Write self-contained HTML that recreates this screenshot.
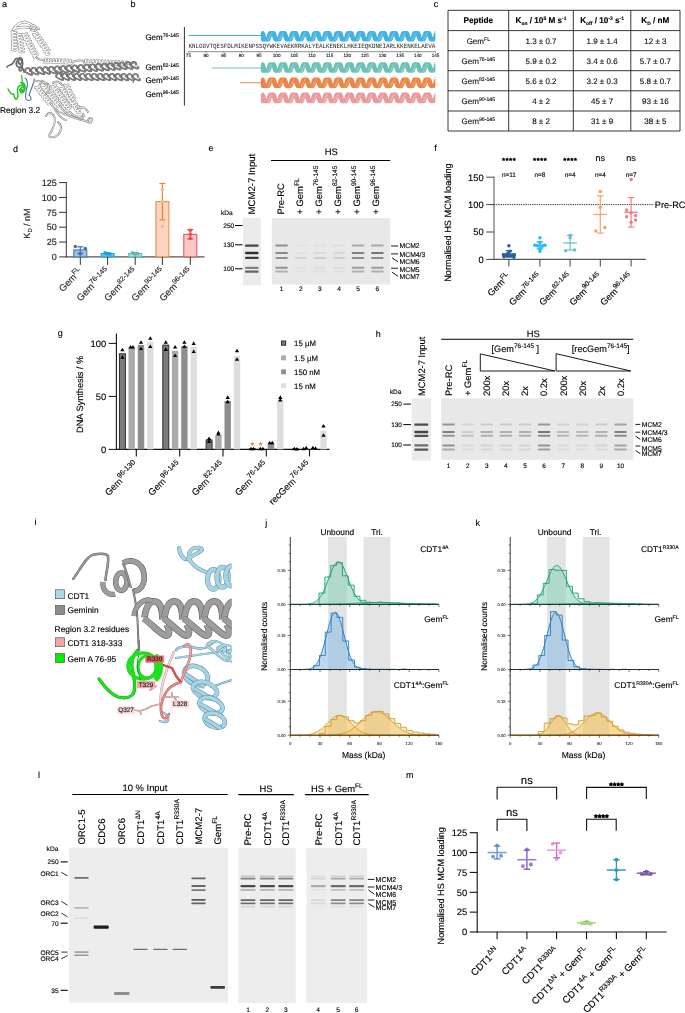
<!DOCTYPE html>
<html><head><meta charset="utf-8"><style>
html,body{margin:0;padding:0;background:#fff;}
svg{display:block;font-family:"Liberation Sans", sans-serif;will-change:transform;text-rendering:geometricPrecision;}
</style></head><body>
<svg width="685" height="1013" viewBox="0 0 685 1013">
<defs>
<filter id="bl" x="-20%" y="-200%" width="140%" height="500%"><feGaussianBlur stdDeviation="0.6"/></filter>
<filter id="bl2" x="-20%" y="-20%" width="140%" height="140%"><feGaussianBlur stdDeviation="0.35"/></filter>
</defs>
<rect width="685" height="1013" fill="#fff"/>
<text x="2.00" y="7.00" font-size="9" text-anchor="start" fill="#000" stroke="#000" stroke-width="0.13"><tspan>a</tspan></text>
<text x="130.50" y="7.00" font-size="9" text-anchor="start" fill="#000" stroke="#000" stroke-width="0.13"><tspan>b</tspan></text>
<text x="433.70" y="6.70" font-size="9" text-anchor="start" fill="#000" stroke="#000" stroke-width="0.13"><tspan>c</tspan></text>
<text x="13.00" y="152.00" font-size="9" text-anchor="start" fill="#000" stroke="#000" stroke-width="0.13"><tspan>d</tspan></text>
<text x="208.40" y="151.40" font-size="9" text-anchor="start" fill="#000" stroke="#000" stroke-width="0.13"><tspan>e</tspan></text>
<text x="434.20" y="151.40" font-size="9" text-anchor="start" fill="#000" stroke="#000" stroke-width="0.13"><tspan>f</tspan></text>
<text x="57.70" y="335.50" font-size="9" text-anchor="start" fill="#000" stroke="#000" stroke-width="0.13"><tspan>g</tspan></text>
<text x="375.80" y="336.80" font-size="9" text-anchor="start" fill="#000" stroke="#000" stroke-width="0.13"><tspan>h</tspan></text>
<text x="34.50" y="525.40" font-size="9" text-anchor="start" fill="#000" stroke="#000" stroke-width="0.13"><tspan>i</tspan></text>
<text x="265.20" y="525.50" font-size="9" text-anchor="start" fill="#000" stroke="#000" stroke-width="0.13"><tspan>j</tspan></text>
<text x="475.60" y="525.70" font-size="9" text-anchor="start" fill="#000" stroke="#000" stroke-width="0.13"><tspan>k</tspan></text>
<text x="38.00" y="778.00" font-size="9" text-anchor="start" fill="#000" stroke="#000" stroke-width="0.13"><tspan>l</tspan></text>
<text x="406.10" y="777.80" font-size="9" text-anchor="start" fill="#000" stroke="#000" stroke-width="0.13"><tspan>m</tspan></text>
<path d="M13,30 C16,25 20,22 25,22 C30,23 34,26 37,29 C33,28 28,27 24,27 C20,27 16,28 13,30 Z" fill="none" stroke="#7a7a7a" stroke-width="2.4" stroke-linejoin="round" stroke-linecap="round"/>
<path d="M13,30 C16,25 20,22 25,22 C30,23 34,26 37,29 C33,28 28,27 24,27 C20,27 16,28 13,30 Z" fill="none" stroke="#fff" stroke-width="1.4" stroke-linejoin="round" stroke-linecap="round"/>
<path d="M30,28 C32,25 35,25 36,27 C37,30 34,31 31,30" fill="none" stroke="#7a7a7a" stroke-width="2.2" stroke-linejoin="round" stroke-linecap="round"/>
<path d="M30,28 C32,25 35,25 36,27 C37,30 34,31 31,30" fill="none" stroke="#fff" stroke-width="1.2" stroke-linejoin="round" stroke-linecap="round"/>
<path d="M11.70,31.06 L11.75,31.27 L11.89,31.48 L12.12,31.67 L12.42,31.85 L12.78,32.01 L13.20,32.15 L13.64,32.27 L14.10,32.36 L14.56,32.43 L15.00,32.47 L15.39,32.50 L15.74,32.51 L16.01,32.50 L16.21,32.48 L16.32,32.46 L16.33,32.43 L16.26,32.41 L16.10,32.40 L15.86,32.40 L15.54,32.42 L15.17,32.45 L14.75,32.51 L14.30,32.59 L13.84,32.70 L13.40,32.83 L12.97,32.98 L12.60,33.15 L12.28,33.34 L12.03,33.54 L11.86,33.75 L11.79,33.97 L11.80,34.18 L11.90,34.39 L12.09,34.59 L12.36,34.78 L12.70,34.95 L13.10,35.10 L13.53,35.22 L13.99,35.33 L14.45,35.40 L14.90,35.46 L15.31,35.49 L15.68,35.50 L15.98,35.50 L16.21,35.49 L16.36,35.47 L16.42,35.44 L16.38,35.42 L16.26,35.40 L16.05,35.40 L15.76,35.41 L15.41,35.43 L15.00,35.48 L14.57,35.55 L14.11,35.65 L13.66,35.77 L13.22,35.91 L12.83,36.08 L12.48,36.26 L12.20,36.46 L12.00,36.66 L11.89,36.88 L11.86,37.09 L11.93,37.31 L12.08,37.51 L12.32,37.70 L12.63,37.88 L13.01,38.04 L13.43,38.17 L13.88,38.28 L14.34,38.37 L14.79,38.44 L15.22,38.48 L15.61,38.50 L15.95,38.50 L16.21,38.49 L16.39,38.47 L16.48,38.45 L16.49,38.43 L16.40,38.41 L16.22,38.40 L15.97,38.40 L15.64,38.42 L15.26,38.46 L14.83,38.52 L14.38,38.61 L13.92,38.72 L13.48,38.85 L13.06,39.01 L12.70,39.18 L12.39,39.37 L12.15,39.58 L12.00,39.79 L11.94,40.00 L11.97,40.22 L12.09,40.43 L12.29,40.62 L12.58,40.81 L12.92,40.97 L13.33,41.12 L13.77,41.24 L14.23,41.34 L14.69,41.41 L15.13,41.46 L15.54,41.49 L15.89,41.50 L16.19,41.50 L16.40,41.48 L16.53,41.46 L16.58,41.43 L16.52,41.41 L16.38,41.40 L16.16,41.39 L15.86,41.41 L15.50,41.44 L15.09,41.49 L14.65,41.57 L14.19,41.67 L13.74,41.79 L13.31,41.94 L12.92,42.10 L12.59,42.29 L12.32,42.49 L12.13,42.70 L12.03,42.91 L12.02,43.13 L12.11,43.34 L12.28,43.54 L12.53,43.73 L12.85,43.91 L13.23,44.06 L13.66,44.19 L14.11,44.30 L14.57,44.38 L15.03,44.44 L15.45,44.48 L15.83,44.50 L16.15,44.50 L16.40,44.49 L16.57,44.47 L16.65,44.44 L16.64,44.42 L16.53,44.40 L16.34,44.39 L16.07,44.40 L15.74,44.42 L15.35,44.47 L14.91,44.53 L14.46,44.62 L14.01,44.74 L13.57,44.87 L13.16,45.03 L12.80,45.21 L12.50,45.40 L12.28,45.61 L12.14,45.82 L12.10,46.04 L12.14,46.25 L12.27,46.46 L12.49,46.65 L12.79,46.84 L13.15,47.00 L13.56,47.14 L14.00,47.26 L14.46,47.35 L14.92,47.42 L15.36,47.47 L15.76,47.49 L16.11,47.50 L16.39,47.49 L16.59,47.48 L16.71,47.45 L16.73,47.43 L16.67,47.41 L16.51,47.39 L16.27,47.39 L15.96,47.41 L15.59,47.44 L15.18,47.50 L14.73,47.58 L14.27,47.68 L13.82,47.81 L13.40,47.96 L13.02,48.13 L12.69,48.32 L12.44,48.52 L12.27,48.73 L12.18,48.95 L12.19,49.16 L12.29,49.37 L12.47,49.57 L12.74,49.76 L13.07,49.93 L13.46,50.08 L13.89,50.21 L14.35,50.31 L14.81,50.39 L15.26,50.45 L15.68,50.48" fill="none" stroke="#7a7a7a" stroke-width="2.2" stroke-linejoin="round" stroke-linecap="round"/>
<path d="M11.70,31.06 L11.75,31.27 L11.89,31.48 L12.12,31.67 L12.42,31.85 L12.78,32.01 L13.20,32.15 L13.64,32.27 L14.10,32.36 L14.56,32.43 L15.00,32.47 L15.39,32.50 L15.74,32.51 L16.01,32.50 L16.21,32.48 L16.32,32.46 L16.33,32.43 L16.26,32.41 L16.10,32.40 L15.86,32.40 L15.54,32.42 L15.17,32.45 L14.75,32.51 L14.30,32.59 L13.84,32.70 L13.40,32.83 L12.97,32.98 L12.60,33.15 L12.28,33.34 L12.03,33.54 L11.86,33.75 L11.79,33.97 L11.80,34.18 L11.90,34.39 L12.09,34.59 L12.36,34.78 L12.70,34.95 L13.10,35.10 L13.53,35.22 L13.99,35.33 L14.45,35.40 L14.90,35.46 L15.31,35.49 L15.68,35.50 L15.98,35.50 L16.21,35.49 L16.36,35.47 L16.42,35.44 L16.38,35.42 L16.26,35.40 L16.05,35.40 L15.76,35.41 L15.41,35.43 L15.00,35.48 L14.57,35.55 L14.11,35.65 L13.66,35.77 L13.22,35.91 L12.83,36.08 L12.48,36.26 L12.20,36.46 L12.00,36.66 L11.89,36.88 L11.86,37.09 L11.93,37.31 L12.08,37.51 L12.32,37.70 L12.63,37.88 L13.01,38.04 L13.43,38.17 L13.88,38.28 L14.34,38.37 L14.79,38.44 L15.22,38.48 L15.61,38.50 L15.95,38.50 L16.21,38.49 L16.39,38.47 L16.48,38.45 L16.49,38.43 L16.40,38.41 L16.22,38.40 L15.97,38.40 L15.64,38.42 L15.26,38.46 L14.83,38.52 L14.38,38.61 L13.92,38.72 L13.48,38.85 L13.06,39.01 L12.70,39.18 L12.39,39.37 L12.15,39.58 L12.00,39.79 L11.94,40.00 L11.97,40.22 L12.09,40.43 L12.29,40.62 L12.58,40.81 L12.92,40.97 L13.33,41.12 L13.77,41.24 L14.23,41.34 L14.69,41.41 L15.13,41.46 L15.54,41.49 L15.89,41.50 L16.19,41.50 L16.40,41.48 L16.53,41.46 L16.58,41.43 L16.52,41.41 L16.38,41.40 L16.16,41.39 L15.86,41.41 L15.50,41.44 L15.09,41.49 L14.65,41.57 L14.19,41.67 L13.74,41.79 L13.31,41.94 L12.92,42.10 L12.59,42.29 L12.32,42.49 L12.13,42.70 L12.03,42.91 L12.02,43.13 L12.11,43.34 L12.28,43.54 L12.53,43.73 L12.85,43.91 L13.23,44.06 L13.66,44.19 L14.11,44.30 L14.57,44.38 L15.03,44.44 L15.45,44.48 L15.83,44.50 L16.15,44.50 L16.40,44.49 L16.57,44.47 L16.65,44.44 L16.64,44.42 L16.53,44.40 L16.34,44.39 L16.07,44.40 L15.74,44.42 L15.35,44.47 L14.91,44.53 L14.46,44.62 L14.01,44.74 L13.57,44.87 L13.16,45.03 L12.80,45.21 L12.50,45.40 L12.28,45.61 L12.14,45.82 L12.10,46.04 L12.14,46.25 L12.27,46.46 L12.49,46.65 L12.79,46.84 L13.15,47.00 L13.56,47.14 L14.00,47.26 L14.46,47.35 L14.92,47.42 L15.36,47.47 L15.76,47.49 L16.11,47.50 L16.39,47.49 L16.59,47.48 L16.71,47.45 L16.73,47.43 L16.67,47.41 L16.51,47.39 L16.27,47.39 L15.96,47.41 L15.59,47.44 L15.18,47.50 L14.73,47.58 L14.27,47.68 L13.82,47.81 L13.40,47.96 L13.02,48.13 L12.69,48.32 L12.44,48.52 L12.27,48.73 L12.18,48.95 L12.19,49.16 L12.29,49.37 L12.47,49.57 L12.74,49.76 L13.07,49.93 L13.46,50.08 L13.89,50.21 L14.35,50.31 L14.81,50.39 L15.26,50.45 L15.68,50.48" fill="none" stroke="#fff" stroke-width="1.3" stroke-linejoin="round" stroke-linecap="round"/>
<path d="M16.73,33.36 L16.81,33.56 L16.97,33.75 L17.22,33.91 L17.54,34.05 L17.93,34.16 L18.35,34.25 L18.81,34.31 L19.28,34.34 L19.74,34.34 L20.18,34.33 L20.58,34.31 L20.92,34.27 L21.19,34.22 L21.38,34.18 L21.49,34.14 L21.50,34.12 L21.43,34.11 L21.26,34.11 L21.02,34.15 L20.71,34.20 L20.35,34.29 L19.94,34.40 L19.50,34.54 L19.07,34.70 L18.64,34.89 L18.24,35.10 L17.89,35.32 L17.60,35.55 L17.38,35.78 L17.24,36.01 L17.19,36.23 L17.23,36.44 L17.36,36.64 L17.58,36.81 L17.87,36.96 L18.23,37.08 L18.64,37.18 L19.09,37.25 L19.55,37.29 L20.02,37.31 L20.47,37.30 L20.89,37.28 L21.25,37.25 L21.55,37.21 L21.78,37.16 L21.92,37.12 L21.97,37.09 L21.94,37.07 L21.81,37.07 L21.60,37.09 L21.32,37.14 L20.97,37.21 L20.58,37.31 L20.15,37.44 L19.72,37.60 L19.28,37.77 L18.87,37.97 L18.50,38.19 L18.18,38.41 L17.93,38.64 L17.75,38.88 L17.67,39.10 L17.67,39.32 L17.76,39.52 L17.95,39.71 L18.21,39.87 L18.54,40.00 L18.93,40.11 L19.36,40.19 L19.82,40.24 L20.29,40.27 L20.75,40.27 L21.19,40.26 L21.57,40.23 L21.90,40.19 L22.16,40.14 L22.34,40.10 L22.43,40.06 L22.43,40.04 L22.34,40.03 L22.16,40.04 L21.91,40.08 L21.59,40.14 L21.21,40.23 L20.80,40.35 L20.37,40.49 L19.93,40.66 L19.50,40.85 L19.11,41.06 L18.77,41.28 L18.49,41.51 L18.28,41.74 L18.16,41.97 L18.13,42.20 L18.18,42.40 L18.33,42.60 L18.56,42.77 L18.86,42.91 L19.23,43.03 L19.65,43.12 L20.10,43.18 L20.57,43.22 L21.03,43.23 L21.48,43.23 L21.89,43.20 L22.24,43.17 L22.53,43.13 L22.74,43.08 L22.87,43.04 L22.91,43.01 L22.86,43.00 L22.72,43.00 L22.49,43.03 L22.20,43.08 L21.84,43.15 L21.44,43.26 L21.02,43.39 L20.58,43.55 L20.15,43.73 L19.74,43.93 L19.37,44.15 L19.07,44.38 L18.83,44.61 L18.67,44.84 L18.60,45.07 L18.62,45.28 L18.72,45.48 L18.92,45.66 L19.19,45.82 L19.54,45.95 L19.94,46.05 L20.38,46.12 L20.84,46.17 L21.31,46.19 L21.76,46.20 L22.19,46.18 L22.57,46.15 L22.89,46.11 L23.13,46.06 L23.30,46.02 L23.37,45.99 L23.36,45.96 L23.25,45.96 L23.06,45.98 L22.80,46.02 L22.47,46.08 L22.08,46.18 L21.66,46.30 L21.23,46.45 L20.79,46.62 L20.37,46.81 L19.99,47.02 L19.65,47.25 L19.39,47.48 L19.19,47.71 L19.08,47.94 L19.07,48.16 L19.14,48.36 L19.30,48.55 L19.54,48.72 L19.86,48.86 L20.23,48.97 L20.66,49.06 L21.11,49.12 L21.58,49.15 L22.04,49.16 L22.49,49.15 L22.89,49.12 L23.23,49.09 L23.51,49.04 L23.71,49.00 L23.82,48.96 L23.84,48.93 L23.77,48.92 L23.62,48.93 L23.38,48.96 L23.08,49.01 L22.72,49.10 L22.31,49.21 L21.88,49.34 L21.44,49.51 L21.01,49.69 L20.61,49.90 L20.25,50.12 L19.96,50.34 L19.73,50.58 L19.59,50.81 L19.53,51.03 L19.56,51.24 L19.69,51.44 L19.90,51.62 L20.18,51.77 L20.54,51.89 L20.94,51.99 L21.39,52.06 L21.85,52.10 L22.32,52.12 L22.77,52.12 L23.19,52.10 L23.56,52.07 L23.87,52.03" fill="none" stroke="#7a7a7a" stroke-width="2.2" stroke-linejoin="round" stroke-linecap="round"/>
<path d="M16.73,33.36 L16.81,33.56 L16.97,33.75 L17.22,33.91 L17.54,34.05 L17.93,34.16 L18.35,34.25 L18.81,34.31 L19.28,34.34 L19.74,34.34 L20.18,34.33 L20.58,34.31 L20.92,34.27 L21.19,34.22 L21.38,34.18 L21.49,34.14 L21.50,34.12 L21.43,34.11 L21.26,34.11 L21.02,34.15 L20.71,34.20 L20.35,34.29 L19.94,34.40 L19.50,34.54 L19.07,34.70 L18.64,34.89 L18.24,35.10 L17.89,35.32 L17.60,35.55 L17.38,35.78 L17.24,36.01 L17.19,36.23 L17.23,36.44 L17.36,36.64 L17.58,36.81 L17.87,36.96 L18.23,37.08 L18.64,37.18 L19.09,37.25 L19.55,37.29 L20.02,37.31 L20.47,37.30 L20.89,37.28 L21.25,37.25 L21.55,37.21 L21.78,37.16 L21.92,37.12 L21.97,37.09 L21.94,37.07 L21.81,37.07 L21.60,37.09 L21.32,37.14 L20.97,37.21 L20.58,37.31 L20.15,37.44 L19.72,37.60 L19.28,37.77 L18.87,37.97 L18.50,38.19 L18.18,38.41 L17.93,38.64 L17.75,38.88 L17.67,39.10 L17.67,39.32 L17.76,39.52 L17.95,39.71 L18.21,39.87 L18.54,40.00 L18.93,40.11 L19.36,40.19 L19.82,40.24 L20.29,40.27 L20.75,40.27 L21.19,40.26 L21.57,40.23 L21.90,40.19 L22.16,40.14 L22.34,40.10 L22.43,40.06 L22.43,40.04 L22.34,40.03 L22.16,40.04 L21.91,40.08 L21.59,40.14 L21.21,40.23 L20.80,40.35 L20.37,40.49 L19.93,40.66 L19.50,40.85 L19.11,41.06 L18.77,41.28 L18.49,41.51 L18.28,41.74 L18.16,41.97 L18.13,42.20 L18.18,42.40 L18.33,42.60 L18.56,42.77 L18.86,42.91 L19.23,43.03 L19.65,43.12 L20.10,43.18 L20.57,43.22 L21.03,43.23 L21.48,43.23 L21.89,43.20 L22.24,43.17 L22.53,43.13 L22.74,43.08 L22.87,43.04 L22.91,43.01 L22.86,43.00 L22.72,43.00 L22.49,43.03 L22.20,43.08 L21.84,43.15 L21.44,43.26 L21.02,43.39 L20.58,43.55 L20.15,43.73 L19.74,43.93 L19.37,44.15 L19.07,44.38 L18.83,44.61 L18.67,44.84 L18.60,45.07 L18.62,45.28 L18.72,45.48 L18.92,45.66 L19.19,45.82 L19.54,45.95 L19.94,46.05 L20.38,46.12 L20.84,46.17 L21.31,46.19 L21.76,46.20 L22.19,46.18 L22.57,46.15 L22.89,46.11 L23.13,46.06 L23.30,46.02 L23.37,45.99 L23.36,45.96 L23.25,45.96 L23.06,45.98 L22.80,46.02 L22.47,46.08 L22.08,46.18 L21.66,46.30 L21.23,46.45 L20.79,46.62 L20.37,46.81 L19.99,47.02 L19.65,47.25 L19.39,47.48 L19.19,47.71 L19.08,47.94 L19.07,48.16 L19.14,48.36 L19.30,48.55 L19.54,48.72 L19.86,48.86 L20.23,48.97 L20.66,49.06 L21.11,49.12 L21.58,49.15 L22.04,49.16 L22.49,49.15 L22.89,49.12 L23.23,49.09 L23.51,49.04 L23.71,49.00 L23.82,48.96 L23.84,48.93 L23.77,48.92 L23.62,48.93 L23.38,48.96 L23.08,49.01 L22.72,49.10 L22.31,49.21 L21.88,49.34 L21.44,49.51 L21.01,49.69 L20.61,49.90 L20.25,50.12 L19.96,50.34 L19.73,50.58 L19.59,50.81 L19.53,51.03 L19.56,51.24 L19.69,51.44 L19.90,51.62 L20.18,51.77 L20.54,51.89 L20.94,51.99 L21.39,52.06 L21.85,52.10 L22.32,52.12 L22.77,52.12 L23.19,52.10 L23.56,52.07 L23.87,52.03" fill="none" stroke="#fff" stroke-width="1.3" stroke-linejoin="round" stroke-linecap="round"/>
<path d="M21.87,34.11 L22.01,34.28 L22.24,34.40 L22.53,34.47 L22.89,34.49 L23.30,34.47 L23.75,34.41 L24.22,34.31 L24.69,34.18 L25.15,34.03 L25.58,33.87 L25.96,33.71 L26.29,33.56 L26.54,33.43 L26.72,33.32 L26.81,33.25 L26.81,33.22 L26.74,33.23 L26.58,33.29 L26.35,33.41 L26.06,33.57 L25.73,33.77 L25.36,34.02 L24.98,34.29 L24.60,34.60 L24.23,34.92 L23.90,35.25 L23.63,35.58 L23.41,35.90 L23.27,36.19 L23.20,36.46 L23.22,36.69 L23.33,36.87 L23.52,37.01 L23.79,37.11 L24.12,37.15 L24.51,37.15 L24.95,37.10 L25.41,37.01 L25.88,36.89 L26.35,36.75 L26.79,36.60 L27.19,36.44 L27.55,36.28 L27.83,36.14 L28.04,36.02 L28.17,35.93 L28.21,35.89 L28.17,35.88 L28.04,35.92 L27.84,36.01 L27.58,36.16 L27.26,36.34 L26.90,36.57 L26.52,36.84 L26.14,37.13 L25.77,37.45 L25.42,37.77 L25.12,38.10 L24.88,38.43 L24.70,38.73 L24.60,39.01 L24.59,39.26 L24.66,39.46 L24.82,39.62 L25.05,39.73 L25.36,39.80 L25.73,39.81 L26.15,39.78 L26.60,39.71 L27.07,39.61 L27.54,39.47 L28.00,39.32 L28.42,39.16 L28.79,39.00 L29.11,38.86 L29.35,38.73 L29.51,38.63 L29.59,38.56 L29.58,38.54 L29.49,38.56 L29.32,38.63 L29.08,38.75 L28.78,38.92 L28.44,39.13 L28.07,39.38 L27.68,39.67 L27.31,39.97 L26.95,40.30 L26.63,40.63 L26.36,40.95 L26.15,41.27 L26.02,41.56 L25.97,41.82 L26.01,42.04 L26.13,42.22 L26.33,42.35 L26.61,42.44 L26.96,42.47 L27.36,42.46 L27.80,42.41 L28.26,42.32 L28.73,42.19 L29.20,42.05 L29.63,41.89 L30.03,41.73 L30.37,41.58 L30.64,41.44 L30.84,41.32 L30.95,41.24 L30.98,41.20 L30.92,41.21 L30.78,41.26 L30.57,41.36 L30.30,41.50 L29.97,41.70 L29.61,41.93 L29.23,42.21 L28.85,42.50 L28.48,42.82 L28.14,43.15 L27.85,43.48 L27.61,43.80 L27.45,44.10 L27.37,44.38 L27.37,44.62 L27.45,44.81 L27.62,44.97 L27.87,45.07 L28.19,45.13 L28.57,45.13 L28.99,45.10 L29.45,45.02 L29.92,44.91 L30.39,44.77 L30.84,44.62 L31.26,44.46 L31.62,44.30 L31.92,44.15 L32.15,44.03 L32.30,43.93 L32.36,43.88 L32.34,43.86 L32.24,43.89 L32.05,43.97 L31.80,44.10 L31.50,44.27 L31.15,44.49 L30.78,44.75 L30.39,45.04 L30.01,45.35 L29.66,45.68 L29.35,46.01 L29.09,46.33 L28.90,46.64 L28.78,46.93 L28.74,47.18 L28.79,47.40 L28.93,47.57 L29.14,47.69 L29.43,47.77 L29.79,47.80 L30.20,47.78 L30.64,47.72 L31.11,47.62 L31.58,47.49 L32.04,47.34 L32.48,47.19 L32.86,47.03 L33.19,46.87 L33.45,46.74 L33.63,46.63 L33.73,46.56 L33.75,46.52 L33.68,46.53 L33.52,46.59 L33.30,46.70 L33.02,46.86 L32.69,47.06 L32.32,47.30 L31.94,47.58 L31.56,47.88 L31.19,48.20 L30.86,48.53 L30.57,48.86 L30.35,49.17 L30.20,49.47 L30.13,49.74 L30.15,49.97 L30.25,50.16 L30.43,50.31 L30.69,50.40 L31.02,50.45 L31.41,50.45 L31.84,50.41 L32.30,50.32 L32.77,50.21 L33.24,50.07 L33.69,49.91 L34.09,49.75 L34.45,49.60 L34.74,49.45 L34.95,49.33 L35.09,49.24 L35.14,49.19 L35.10,49.18 L34.98,49.22 L34.79,49.31 L34.53,49.45 L34.21,49.63 L33.86,49.85 L33.48,50.12 L33.10,50.41 L32.72,50.72 L32.38,51.05 L32.07,51.38 L31.82,51.71 L31.64,52.01 L31.54,52.29 L31.52,52.54 L31.58,52.75 L31.73,52.91 L31.96,53.03 L32.26,53.10 L32.63,53.12 L33.04,53.09 L33.49,53.02 L33.96,52.92 L34.43,52.79 L34.89,52.64 L35.32,52.48 L35.69,52.32 L36.01,52.17 L36.26,52.04 L36.43,51.94 L36.51,51.87 L36.51,51.84 L36.43,51.86 L36.26,51.93 L36.03,52.04 L35.74,52.21 L35.40,52.42 L35.03,52.66 L34.64,52.95 L34.26,53.25 L33.90,53.58 L33.58,53.91 L33.30,54.23 L33.09,54.55 L32.96,54.84 L32.90,55.10 L32.93,55.33 L33.04,55.51 L33.24,55.65 L33.51,55.74 L33.85,55.78 L34.25,55.77 L34.69,55.72 L35.15,55.63 L35.62,55.51 L36.09,55.36 L36.53,55.21 L36.93,55.05 L37.27,54.89 L37.55,54.75 L37.75,54.64 L37.87,54.55 L37.91,54.51 L37.86,54.51 L37.73,54.55 L37.52,54.65 L37.25,54.79 L36.93,54.99 L36.57,55.22 L36.19,55.49 L35.81,55.78 L35.44,56.10 L35.09,56.43 L34.80,56.76 L34.56,57.08 L34.39,57.38 L34.30,57.66 L34.29,57.90 L34.37,58.10" fill="none" stroke="#7a7a7a" stroke-width="2.2" stroke-linejoin="round" stroke-linecap="round"/>
<path d="M21.87,34.11 L22.01,34.28 L22.24,34.40 L22.53,34.47 L22.89,34.49 L23.30,34.47 L23.75,34.41 L24.22,34.31 L24.69,34.18 L25.15,34.03 L25.58,33.87 L25.96,33.71 L26.29,33.56 L26.54,33.43 L26.72,33.32 L26.81,33.25 L26.81,33.22 L26.74,33.23 L26.58,33.29 L26.35,33.41 L26.06,33.57 L25.73,33.77 L25.36,34.02 L24.98,34.29 L24.60,34.60 L24.23,34.92 L23.90,35.25 L23.63,35.58 L23.41,35.90 L23.27,36.19 L23.20,36.46 L23.22,36.69 L23.33,36.87 L23.52,37.01 L23.79,37.11 L24.12,37.15 L24.51,37.15 L24.95,37.10 L25.41,37.01 L25.88,36.89 L26.35,36.75 L26.79,36.60 L27.19,36.44 L27.55,36.28 L27.83,36.14 L28.04,36.02 L28.17,35.93 L28.21,35.89 L28.17,35.88 L28.04,35.92 L27.84,36.01 L27.58,36.16 L27.26,36.34 L26.90,36.57 L26.52,36.84 L26.14,37.13 L25.77,37.45 L25.42,37.77 L25.12,38.10 L24.88,38.43 L24.70,38.73 L24.60,39.01 L24.59,39.26 L24.66,39.46 L24.82,39.62 L25.05,39.73 L25.36,39.80 L25.73,39.81 L26.15,39.78 L26.60,39.71 L27.07,39.61 L27.54,39.47 L28.00,39.32 L28.42,39.16 L28.79,39.00 L29.11,38.86 L29.35,38.73 L29.51,38.63 L29.59,38.56 L29.58,38.54 L29.49,38.56 L29.32,38.63 L29.08,38.75 L28.78,38.92 L28.44,39.13 L28.07,39.38 L27.68,39.67 L27.31,39.97 L26.95,40.30 L26.63,40.63 L26.36,40.95 L26.15,41.27 L26.02,41.56 L25.97,41.82 L26.01,42.04 L26.13,42.22 L26.33,42.35 L26.61,42.44 L26.96,42.47 L27.36,42.46 L27.80,42.41 L28.26,42.32 L28.73,42.19 L29.20,42.05 L29.63,41.89 L30.03,41.73 L30.37,41.58 L30.64,41.44 L30.84,41.32 L30.95,41.24 L30.98,41.20 L30.92,41.21 L30.78,41.26 L30.57,41.36 L30.30,41.50 L29.97,41.70 L29.61,41.93 L29.23,42.21 L28.85,42.50 L28.48,42.82 L28.14,43.15 L27.85,43.48 L27.61,43.80 L27.45,44.10 L27.37,44.38 L27.37,44.62 L27.45,44.81 L27.62,44.97 L27.87,45.07 L28.19,45.13 L28.57,45.13 L28.99,45.10 L29.45,45.02 L29.92,44.91 L30.39,44.77 L30.84,44.62 L31.26,44.46 L31.62,44.30 L31.92,44.15 L32.15,44.03 L32.30,43.93 L32.36,43.88 L32.34,43.86 L32.24,43.89 L32.05,43.97 L31.80,44.10 L31.50,44.27 L31.15,44.49 L30.78,44.75 L30.39,45.04 L30.01,45.35 L29.66,45.68 L29.35,46.01 L29.09,46.33 L28.90,46.64 L28.78,46.93 L28.74,47.18 L28.79,47.40 L28.93,47.57 L29.14,47.69 L29.43,47.77 L29.79,47.80 L30.20,47.78 L30.64,47.72 L31.11,47.62 L31.58,47.49 L32.04,47.34 L32.48,47.19 L32.86,47.03 L33.19,46.87 L33.45,46.74 L33.63,46.63 L33.73,46.56 L33.75,46.52 L33.68,46.53 L33.52,46.59 L33.30,46.70 L33.02,46.86 L32.69,47.06 L32.32,47.30 L31.94,47.58 L31.56,47.88 L31.19,48.20 L30.86,48.53 L30.57,48.86 L30.35,49.17 L30.20,49.47 L30.13,49.74 L30.15,49.97 L30.25,50.16 L30.43,50.31 L30.69,50.40 L31.02,50.45 L31.41,50.45 L31.84,50.41 L32.30,50.32 L32.77,50.21 L33.24,50.07 L33.69,49.91 L34.09,49.75 L34.45,49.60 L34.74,49.45 L34.95,49.33 L35.09,49.24 L35.14,49.19 L35.10,49.18 L34.98,49.22 L34.79,49.31 L34.53,49.45 L34.21,49.63 L33.86,49.85 L33.48,50.12 L33.10,50.41 L32.72,50.72 L32.38,51.05 L32.07,51.38 L31.82,51.71 L31.64,52.01 L31.54,52.29 L31.52,52.54 L31.58,52.75 L31.73,52.91 L31.96,53.03 L32.26,53.10 L32.63,53.12 L33.04,53.09 L33.49,53.02 L33.96,52.92 L34.43,52.79 L34.89,52.64 L35.32,52.48 L35.69,52.32 L36.01,52.17 L36.26,52.04 L36.43,51.94 L36.51,51.87 L36.51,51.84 L36.43,51.86 L36.26,51.93 L36.03,52.04 L35.74,52.21 L35.40,52.42 L35.03,52.66 L34.64,52.95 L34.26,53.25 L33.90,53.58 L33.58,53.91 L33.30,54.23 L33.09,54.55 L32.96,54.84 L32.90,55.10 L32.93,55.33 L33.04,55.51 L33.24,55.65 L33.51,55.74 L33.85,55.78 L34.25,55.77 L34.69,55.72 L35.15,55.63 L35.62,55.51 L36.09,55.36 L36.53,55.21 L36.93,55.05 L37.27,54.89 L37.55,54.75 L37.75,54.64 L37.87,54.55 L37.91,54.51 L37.86,54.51 L37.73,54.55 L37.52,54.65 L37.25,54.79 L36.93,54.99 L36.57,55.22 L36.19,55.49 L35.81,55.78 L35.44,56.10 L35.09,56.43 L34.80,56.76 L34.56,57.08 L34.39,57.38 L34.30,57.66 L34.29,57.90 L34.37,58.10" fill="none" stroke="#fff" stroke-width="1.3" stroke-linejoin="round" stroke-linecap="round"/>
<path d="M33.02,34.35 L33.18,34.50 L33.41,34.60 L33.72,34.63 L34.08,34.61 L34.48,34.54 L34.92,34.43 L35.37,34.27 L35.83,34.09 L36.26,33.88 L36.67,33.68 L37.03,33.47 L37.34,33.28 L37.57,33.12 L37.73,32.99 L37.82,32.91 L37.82,32.88 L37.75,32.91 L37.60,32.99 L37.38,33.12 L37.12,33.32 L36.81,33.56 L36.47,33.85 L36.12,34.17 L35.78,34.52 L35.46,34.88 L35.17,35.25 L34.93,35.61 L34.76,35.94 L34.65,36.26 L34.62,36.53 L34.67,36.75 L34.79,36.93 L35.00,37.04 L35.28,37.10 L35.61,37.11 L36.00,37.06 L36.43,36.96 L36.88,36.82 L37.33,36.64 L37.78,36.45 L38.20,36.24 L38.58,36.03 L38.91,35.84 L39.18,35.66 L39.37,35.52 L39.48,35.42 L39.52,35.37 L39.48,35.37 L39.36,35.42 L39.17,35.54 L38.93,35.71 L38.63,35.93 L38.31,36.20 L37.96,36.51 L37.61,36.85 L37.28,37.21 L36.98,37.57 L36.72,37.94 L36.51,38.28 L36.38,38.61 L36.31,38.90 L36.33,39.14 L36.42,39.34 L36.60,39.48 L36.84,39.56 L37.16,39.59 L37.53,39.56 L37.94,39.48 L38.38,39.36 L38.83,39.20 L39.29,39.01 L39.72,38.80 L40.12,38.60 L40.47,38.39 L40.76,38.21 L40.99,38.05 L41.14,37.93 L41.21,37.86 L41.20,37.84 L41.11,37.87 L40.95,37.96 L40.73,38.11 L40.45,38.31 L40.14,38.56 L39.80,38.85 L39.45,39.18 L39.11,39.53 L38.79,39.90 L38.51,40.26 L38.28,40.62 L38.12,40.95 L38.02,41.26 L38.00,41.52 L38.07,41.74 L38.21,41.90 L38.42,42.01 L38.71,42.06 L39.06,42.06 L39.45,42.00 L39.89,41.89 L40.34,41.74 L40.79,41.57 L41.23,41.37 L41.65,41.16 L42.02,40.95 L42.34,40.76 L42.60,40.59 L42.78,40.45 L42.88,40.36 L42.90,40.32 L42.85,40.33 L42.72,40.39 L42.52,40.52 L42.26,40.70 L41.96,40.93 L41.63,41.20 L41.29,41.52 L40.94,41.86 L40.61,42.22 L40.32,42.59 L40.06,42.95 L39.87,43.30 L39.74,43.61 L39.69,43.90 L39.72,44.13 L39.83,44.32 L40.02,44.45 L40.28,44.53 L40.60,44.54 L40.98,44.51 L41.39,44.42 L41.84,44.29 L42.29,44.12 L42.74,43.93 L43.17,43.72 L43.57,43.52 L43.91,43.32 L44.19,43.13 L44.40,42.98 L44.54,42.87 L44.60,42.81 L44.57,42.79 L44.47,42.84 L44.30,42.94 L44.07,43.09 L43.78,43.30 L43.46,43.56 L43.12,43.86 L42.78,44.19 L42.44,44.55 L42.13,44.91 L41.85,45.28 L41.64,45.63 L41.48,45.96 L41.40,46.26 L41.39,46.52 L41.47,46.73 L41.62,46.88 L41.85,46.98 L42.15,47.02 L42.51,47.00 L42.91,46.94 L43.34,46.82 L43.80,46.67 L44.25,46.49 L44.69,46.29 L45.10,46.08 L45.46,45.87 L45.77,45.68 L46.02,45.52 L46.18,45.39 L46.27,45.30 L46.28,45.27 L46.21,45.29 L46.07,45.36 L45.86,45.50 L45.60,45.69 L45.29,45.93 L44.96,46.21 L44.61,46.53 L44.27,46.88 L43.94,47.24 L43.65,47.60 L43.41,47.96 L43.23,48.31 L43.11,48.62 L43.08,48.89 L43.12,49.12 L43.24,49.30 L43.44,49.42 L43.71,49.49 L44.04,49.49 L44.43,49.45 L44.85,49.35 L45.30,49.22 L45.75,49.05 L46.20,48.85 L46.63,48.64 L47.01,48.44 L47.34,48.24 L47.62,48.06 L47.82,47.92 L47.94,47.81 L47.98,47.75 L47.94,47.75 L47.83,47.80 L47.65,47.91 L47.41,48.08 L47.12,48.30 L46.79,48.56 L46.45,48.87 L46.10,49.21 L45.77,49.56 L45.46,49.93 L45.20,50.29 L44.99,50.64 L44.85,50.97 L44.78,51.26 L44.78,51.51 L44.87,51.71 L45.04,51.86 L45.28,51.94 L45.59,51.98 L45.95,51.95 L46.36,51.88 L46.80,51.75 L47.26,51.60 L47.71,51.41 L48.15,51.21 L48.55,51.00 L48.90,50.80 L49.20,50.61 L49.43,50.45 L49.59,50.33 L49.66,50.25 L49.66,50.22 L49.58,50.25 L49.42,50.34 L49.21,50.48 L48.93,50.68 L48.62,50.93 L48.28,51.22 L47.94,51.54 L47.60,51.89 L47.28,52.25 L46.99,52.62 L46.76,52.98 L46.59,53.32 L46.49,53.62 L46.46,53.89 L46.52,54.11 L46.65,54.28 L46.86,54.39 L47.15,54.45 L47.49,54.45 L47.88,54.39 L48.31,54.29 L48.76,54.14 L49.21,53.97" fill="none" stroke="#7a7a7a" stroke-width="2.2" stroke-linejoin="round" stroke-linecap="round"/>
<path d="M33.02,34.35 L33.18,34.50 L33.41,34.60 L33.72,34.63 L34.08,34.61 L34.48,34.54 L34.92,34.43 L35.37,34.27 L35.83,34.09 L36.26,33.88 L36.67,33.68 L37.03,33.47 L37.34,33.28 L37.57,33.12 L37.73,32.99 L37.82,32.91 L37.82,32.88 L37.75,32.91 L37.60,32.99 L37.38,33.12 L37.12,33.32 L36.81,33.56 L36.47,33.85 L36.12,34.17 L35.78,34.52 L35.46,34.88 L35.17,35.25 L34.93,35.61 L34.76,35.94 L34.65,36.26 L34.62,36.53 L34.67,36.75 L34.79,36.93 L35.00,37.04 L35.28,37.10 L35.61,37.11 L36.00,37.06 L36.43,36.96 L36.88,36.82 L37.33,36.64 L37.78,36.45 L38.20,36.24 L38.58,36.03 L38.91,35.84 L39.18,35.66 L39.37,35.52 L39.48,35.42 L39.52,35.37 L39.48,35.37 L39.36,35.42 L39.17,35.54 L38.93,35.71 L38.63,35.93 L38.31,36.20 L37.96,36.51 L37.61,36.85 L37.28,37.21 L36.98,37.57 L36.72,37.94 L36.51,38.28 L36.38,38.61 L36.31,38.90 L36.33,39.14 L36.42,39.34 L36.60,39.48 L36.84,39.56 L37.16,39.59 L37.53,39.56 L37.94,39.48 L38.38,39.36 L38.83,39.20 L39.29,39.01 L39.72,38.80 L40.12,38.60 L40.47,38.39 L40.76,38.21 L40.99,38.05 L41.14,37.93 L41.21,37.86 L41.20,37.84 L41.11,37.87 L40.95,37.96 L40.73,38.11 L40.45,38.31 L40.14,38.56 L39.80,38.85 L39.45,39.18 L39.11,39.53 L38.79,39.90 L38.51,40.26 L38.28,40.62 L38.12,40.95 L38.02,41.26 L38.00,41.52 L38.07,41.74 L38.21,41.90 L38.42,42.01 L38.71,42.06 L39.06,42.06 L39.45,42.00 L39.89,41.89 L40.34,41.74 L40.79,41.57 L41.23,41.37 L41.65,41.16 L42.02,40.95 L42.34,40.76 L42.60,40.59 L42.78,40.45 L42.88,40.36 L42.90,40.32 L42.85,40.33 L42.72,40.39 L42.52,40.52 L42.26,40.70 L41.96,40.93 L41.63,41.20 L41.29,41.52 L40.94,41.86 L40.61,42.22 L40.32,42.59 L40.06,42.95 L39.87,43.30 L39.74,43.61 L39.69,43.90 L39.72,44.13 L39.83,44.32 L40.02,44.45 L40.28,44.53 L40.60,44.54 L40.98,44.51 L41.39,44.42 L41.84,44.29 L42.29,44.12 L42.74,43.93 L43.17,43.72 L43.57,43.52 L43.91,43.32 L44.19,43.13 L44.40,42.98 L44.54,42.87 L44.60,42.81 L44.57,42.79 L44.47,42.84 L44.30,42.94 L44.07,43.09 L43.78,43.30 L43.46,43.56 L43.12,43.86 L42.78,44.19 L42.44,44.55 L42.13,44.91 L41.85,45.28 L41.64,45.63 L41.48,45.96 L41.40,46.26 L41.39,46.52 L41.47,46.73 L41.62,46.88 L41.85,46.98 L42.15,47.02 L42.51,47.00 L42.91,46.94 L43.34,46.82 L43.80,46.67 L44.25,46.49 L44.69,46.29 L45.10,46.08 L45.46,45.87 L45.77,45.68 L46.02,45.52 L46.18,45.39 L46.27,45.30 L46.28,45.27 L46.21,45.29 L46.07,45.36 L45.86,45.50 L45.60,45.69 L45.29,45.93 L44.96,46.21 L44.61,46.53 L44.27,46.88 L43.94,47.24 L43.65,47.60 L43.41,47.96 L43.23,48.31 L43.11,48.62 L43.08,48.89 L43.12,49.12 L43.24,49.30 L43.44,49.42 L43.71,49.49 L44.04,49.49 L44.43,49.45 L44.85,49.35 L45.30,49.22 L45.75,49.05 L46.20,48.85 L46.63,48.64 L47.01,48.44 L47.34,48.24 L47.62,48.06 L47.82,47.92 L47.94,47.81 L47.98,47.75 L47.94,47.75 L47.83,47.80 L47.65,47.91 L47.41,48.08 L47.12,48.30 L46.79,48.56 L46.45,48.87 L46.10,49.21 L45.77,49.56 L45.46,49.93 L45.20,50.29 L44.99,50.64 L44.85,50.97 L44.78,51.26 L44.78,51.51 L44.87,51.71 L45.04,51.86 L45.28,51.94 L45.59,51.98 L45.95,51.95 L46.36,51.88 L46.80,51.75 L47.26,51.60 L47.71,51.41 L48.15,51.21 L48.55,51.00 L48.90,50.80 L49.20,50.61 L49.43,50.45 L49.59,50.33 L49.66,50.25 L49.66,50.22 L49.58,50.25 L49.42,50.34 L49.21,50.48 L48.93,50.68 L48.62,50.93 L48.28,51.22 L47.94,51.54 L47.60,51.89 L47.28,52.25 L46.99,52.62 L46.76,52.98 L46.59,53.32 L46.49,53.62 L46.46,53.89 L46.52,54.11 L46.65,54.28 L46.86,54.39 L47.15,54.45 L47.49,54.45 L47.88,54.39 L48.31,54.29 L48.76,54.14 L49.21,53.97" fill="none" stroke="#fff" stroke-width="1.3" stroke-linejoin="round" stroke-linecap="round"/>
<path d="M36.5,57.5 C38,59 41,60 44,60 L60,61.5" fill="none" stroke="#7a7a7a" stroke-width="1.9" stroke-linejoin="round" stroke-linecap="round"/>
<path d="M36.5,57.5 C38,59 41,60 44,60 L60,61.5" fill="none" stroke="#fff" stroke-width="0.9" stroke-linejoin="round" stroke-linecap="round"/>
<path d="M35,31 L37,28 L39,29" fill="none" stroke="#7a7a7a" stroke-width="1.9" stroke-linejoin="round" stroke-linecap="round"/>
<path d="M35,31 L37,28 L39,29" fill="none" stroke="#fff" stroke-width="0.9" stroke-linejoin="round" stroke-linecap="round"/>
<path d="M43.91,62.40 L44.12,62.37 L44.33,62.27 L44.53,62.09 L44.72,61.86 L44.90,61.57 L45.06,61.24 L45.20,60.88 L45.31,60.51 L45.40,60.13 L45.47,59.78 L45.52,59.45 L45.54,59.17 L45.54,58.94 L45.53,58.78 L45.51,58.69 L45.48,58.67 L45.45,58.73 L45.42,58.86 L45.39,59.06 L45.38,59.32 L45.39,59.63 L45.42,59.98 L45.46,60.35 L45.53,60.74 L45.63,61.12 L45.74,61.47 L45.88,61.79 L46.05,62.07 L46.23,62.29 L46.42,62.44 L46.62,62.52 L46.83,62.52 L47.04,62.45 L47.25,62.30 L47.44,62.09 L47.63,61.83 L47.79,61.51 L47.94,61.16 L48.07,60.79 L48.17,60.42 L48.24,60.05 L48.30,59.71 L48.33,59.41 L48.34,59.16 L48.33,58.97 L48.31,58.85 L48.29,58.80 L48.26,58.82 L48.22,58.93 L48.20,59.10 L48.18,59.34 L48.18,59.63 L48.20,59.96 L48.24,60.33 L48.30,60.71 L48.38,61.09 L48.49,61.46 L48.62,61.80 L48.77,62.09 L48.95,62.33 L49.13,62.51 L49.33,62.62 L49.54,62.66 L49.75,62.62 L49.96,62.50 L50.16,62.32 L50.35,62.07 L50.52,61.78 L50.68,61.44 L50.81,61.08 L50.92,60.70 L51.01,60.33 L51.07,59.98 L51.11,59.66 L51.13,59.39 L51.13,59.17 L51.12,59.02 L51.10,58.94 L51.07,58.93 L51.03,59.01 L51.01,59.15 L50.99,59.36 L50.98,59.63 L50.99,59.95 L51.02,60.30 L51.07,60.68 L51.14,61.06 L51.24,61.44 L51.36,61.79 L51.50,62.10 L51.67,62.37 L51.85,62.58 L52.05,62.72 L52.25,62.78 L52.46,62.77 L52.67,62.69 L52.87,62.53 L53.07,62.31 L53.25,62.04 L53.41,61.71 L53.56,61.36 L53.68,60.99 L53.78,60.61 L53.85,60.25 L53.90,59.92 L53.93,59.62 L53.93,59.38 L53.93,59.20 L53.90,59.09 L53.88,59.06 L53.84,59.10 L53.81,59.21 L53.79,59.39 L53.78,59.64 L53.78,59.94 L53.80,60.28 L53.84,60.65 L53.90,61.03 L53.99,61.41 L54.10,61.78 L54.24,62.11 L54.40,62.40 L54.57,62.63 L54.76,62.80 L54.96,62.89 L55.17,62.92 L55.38,62.86 L55.59,62.74 L55.79,62.54 L55.97,62.29 L56.15,61.98 L56.30,61.64 L56.43,61.27 L56.54,60.90 L56.62,60.53 L56.68,60.18 L56.71,59.87 L56.73,59.61 L56.73,59.40 L56.71,59.26 L56.69,59.19 L56.65,59.20 L56.62,59.28 L56.60,59.44 L56.58,59.66 L56.57,59.94 L56.58,60.27 L56.62,60.62 L56.67,61.00 L56.75,61.39 L56.85,61.76 L56.98,62.10 L57.12,62.41 L57.29,62.67 L57.48,62.87 L57.67,62.99 L57.88,63.05 L58.09,63.02 L58.30,62.93 L58.50,62.76 L58.69,62.53 L58.87,62.24 L59.03,61.92 L59.17,61.56 L59.29,61.18 L59.38,60.81 L59.45,60.45 L59.50,60.12 L59.52,59.84 L59.53,59.61 L59.52,59.44 L59.49,59.34 L59.46,59.32 L59.43,59.37 L59.40,59.50 L59.38,59.69 L59.37,59.95 L59.37,60.26 L59.40,60.60 L59.44,60.97 L59.51,61.36 L59.60,61.73 L59.72,62.09 L59.86,62.42 L60.02,62.70 L60.20,62.92 L60.39,63.08 L60.59,63.16 L60.80,63.17 L61.01,63.11 L61.22,62.97 L61.41,62.76 L61.60,62.50 L61.77,62.19 L61.92,61.84 L62.04,61.47 L62.14,61.10 L62.22,60.73 L62.28,60.39 L62.31,60.08 L62.32,59.83 L62.32,59.63 L62.30,59.50 L62.27,59.45 L62.24,59.47 L62.21,59.56 L62.19,59.73 L62.17,59.96 L62.17,60.25 L62.18,60.58 L62.22,60.95 L62.28,61.33 L62.36,61.71 L62.46,62.08 L62.59,62.42 L62.75,62.72 L62.92,62.97 L63.10,63.15 L63.30,63.27 L63.51,63.31 L63.72,63.27 L63.93,63.16 L64.13,62.99 L64.32,62.74 L64.50,62.45 L64.65,62.12 L64.79,61.76 L64.90,61.38 L64.99,61.01 L65.06,60.66 L65.10,60.33 L65.12,60.06 L65.12,59.83 L65.11,59.68 L65.08,59.59 L65.05,59.58 L65.02,59.65 L64.99,59.78 L64.97,59.99 L64.96,60.26 L64.97,60.57 L65.00,60.92 L65.05,61.30 L65.12,61.68 L65.21,62.06 L65.33,62.41 L65.48,62.73 L65.64,63.00 L65.82,63.21 L66.02,63.36 L66.22,63.43 L66.43,63.43 L66.64,63.35 L66.84,63.20 L67.04,62.98 L67.22,62.71 L67.39,62.39 L67.53,62.04 L67.65,61.67 L67.75,61.29 L67.83,60.93 L67.88,60.59 L67.91,60.29 L67.92,60.05 L67.91,59.86 L67.89,59.75 L67.86,59.71 L67.83,59.74 L67.80,59.85 L67.78,60.03 L67.76,60.27 L67.76,60.56 L67.78,60.90 L67.82,61.27 L67.88,61.65 L67.97,62.03 L68.08,62.40 L68.21,62.73 L68.37,63.02 L68.54,63.26 L68.73,63.44 L68.93,63.54 L69.14,63.57 L69.35,63.52 L69.56,63.40 L69.76,63.21 L69.94,62.96 L70.12,62.66 L70.27,62.32 L70.40,61.95 L70.51,61.58 L70.60,61.21 L70.66,60.86 L70.70,60.54 L70.71,60.27 L70.71,60.06 L70.70,59.92 L70.67,59.84 L70.64,59.85 L70.61,59.92 L70.58,60.07 L70.56,60.29 L70.56,60.57 L70.57,60.89 L70.60,61.24 L70.65,61.62 L70.73,62.00 L70.83,62.38 L70.95,62.73 L71.10,63.04 L71.26,63.30 L71.45,63.50 L71.64,63.63 L71.85,63.69" fill="none" stroke="#7a7a7a" stroke-width="2.1" stroke-linejoin="round" stroke-linecap="round"/>
<path d="M43.91,62.40 L44.12,62.37 L44.33,62.27 L44.53,62.09 L44.72,61.86 L44.90,61.57 L45.06,61.24 L45.20,60.88 L45.31,60.51 L45.40,60.13 L45.47,59.78 L45.52,59.45 L45.54,59.17 L45.54,58.94 L45.53,58.78 L45.51,58.69 L45.48,58.67 L45.45,58.73 L45.42,58.86 L45.39,59.06 L45.38,59.32 L45.39,59.63 L45.42,59.98 L45.46,60.35 L45.53,60.74 L45.63,61.12 L45.74,61.47 L45.88,61.79 L46.05,62.07 L46.23,62.29 L46.42,62.44 L46.62,62.52 L46.83,62.52 L47.04,62.45 L47.25,62.30 L47.44,62.09 L47.63,61.83 L47.79,61.51 L47.94,61.16 L48.07,60.79 L48.17,60.42 L48.24,60.05 L48.30,59.71 L48.33,59.41 L48.34,59.16 L48.33,58.97 L48.31,58.85 L48.29,58.80 L48.26,58.82 L48.22,58.93 L48.20,59.10 L48.18,59.34 L48.18,59.63 L48.20,59.96 L48.24,60.33 L48.30,60.71 L48.38,61.09 L48.49,61.46 L48.62,61.80 L48.77,62.09 L48.95,62.33 L49.13,62.51 L49.33,62.62 L49.54,62.66 L49.75,62.62 L49.96,62.50 L50.16,62.32 L50.35,62.07 L50.52,61.78 L50.68,61.44 L50.81,61.08 L50.92,60.70 L51.01,60.33 L51.07,59.98 L51.11,59.66 L51.13,59.39 L51.13,59.17 L51.12,59.02 L51.10,58.94 L51.07,58.93 L51.03,59.01 L51.01,59.15 L50.99,59.36 L50.98,59.63 L50.99,59.95 L51.02,60.30 L51.07,60.68 L51.14,61.06 L51.24,61.44 L51.36,61.79 L51.50,62.10 L51.67,62.37 L51.85,62.58 L52.05,62.72 L52.25,62.78 L52.46,62.77 L52.67,62.69 L52.87,62.53 L53.07,62.31 L53.25,62.04 L53.41,61.71 L53.56,61.36 L53.68,60.99 L53.78,60.61 L53.85,60.25 L53.90,59.92 L53.93,59.62 L53.93,59.38 L53.93,59.20 L53.90,59.09 L53.88,59.06 L53.84,59.10 L53.81,59.21 L53.79,59.39 L53.78,59.64 L53.78,59.94 L53.80,60.28 L53.84,60.65 L53.90,61.03 L53.99,61.41 L54.10,61.78 L54.24,62.11 L54.40,62.40 L54.57,62.63 L54.76,62.80 L54.96,62.89 L55.17,62.92 L55.38,62.86 L55.59,62.74 L55.79,62.54 L55.97,62.29 L56.15,61.98 L56.30,61.64 L56.43,61.27 L56.54,60.90 L56.62,60.53 L56.68,60.18 L56.71,59.87 L56.73,59.61 L56.73,59.40 L56.71,59.26 L56.69,59.19 L56.65,59.20 L56.62,59.28 L56.60,59.44 L56.58,59.66 L56.57,59.94 L56.58,60.27 L56.62,60.62 L56.67,61.00 L56.75,61.39 L56.85,61.76 L56.98,62.10 L57.12,62.41 L57.29,62.67 L57.48,62.87 L57.67,62.99 L57.88,63.05 L58.09,63.02 L58.30,62.93 L58.50,62.76 L58.69,62.53 L58.87,62.24 L59.03,61.92 L59.17,61.56 L59.29,61.18 L59.38,60.81 L59.45,60.45 L59.50,60.12 L59.52,59.84 L59.53,59.61 L59.52,59.44 L59.49,59.34 L59.46,59.32 L59.43,59.37 L59.40,59.50 L59.38,59.69 L59.37,59.95 L59.37,60.26 L59.40,60.60 L59.44,60.97 L59.51,61.36 L59.60,61.73 L59.72,62.09 L59.86,62.42 L60.02,62.70 L60.20,62.92 L60.39,63.08 L60.59,63.16 L60.80,63.17 L61.01,63.11 L61.22,62.97 L61.41,62.76 L61.60,62.50 L61.77,62.19 L61.92,61.84 L62.04,61.47 L62.14,61.10 L62.22,60.73 L62.28,60.39 L62.31,60.08 L62.32,59.83 L62.32,59.63 L62.30,59.50 L62.27,59.45 L62.24,59.47 L62.21,59.56 L62.19,59.73 L62.17,59.96 L62.17,60.25 L62.18,60.58 L62.22,60.95 L62.28,61.33 L62.36,61.71 L62.46,62.08 L62.59,62.42 L62.75,62.72 L62.92,62.97 L63.10,63.15 L63.30,63.27 L63.51,63.31 L63.72,63.27 L63.93,63.16 L64.13,62.99 L64.32,62.74 L64.50,62.45 L64.65,62.12 L64.79,61.76 L64.90,61.38 L64.99,61.01 L65.06,60.66 L65.10,60.33 L65.12,60.06 L65.12,59.83 L65.11,59.68 L65.08,59.59 L65.05,59.58 L65.02,59.65 L64.99,59.78 L64.97,59.99 L64.96,60.26 L64.97,60.57 L65.00,60.92 L65.05,61.30 L65.12,61.68 L65.21,62.06 L65.33,62.41 L65.48,62.73 L65.64,63.00 L65.82,63.21 L66.02,63.36 L66.22,63.43 L66.43,63.43 L66.64,63.35 L66.84,63.20 L67.04,62.98 L67.22,62.71 L67.39,62.39 L67.53,62.04 L67.65,61.67 L67.75,61.29 L67.83,60.93 L67.88,60.59 L67.91,60.29 L67.92,60.05 L67.91,59.86 L67.89,59.75 L67.86,59.71 L67.83,59.74 L67.80,59.85 L67.78,60.03 L67.76,60.27 L67.76,60.56 L67.78,60.90 L67.82,61.27 L67.88,61.65 L67.97,62.03 L68.08,62.40 L68.21,62.73 L68.37,63.02 L68.54,63.26 L68.73,63.44 L68.93,63.54 L69.14,63.57 L69.35,63.52 L69.56,63.40 L69.76,63.21 L69.94,62.96 L70.12,62.66 L70.27,62.32 L70.40,61.95 L70.51,61.58 L70.60,61.21 L70.66,60.86 L70.70,60.54 L70.71,60.27 L70.71,60.06 L70.70,59.92 L70.67,59.84 L70.64,59.85 L70.61,59.92 L70.58,60.07 L70.56,60.29 L70.56,60.57 L70.57,60.89 L70.60,61.24 L70.65,61.62 L70.73,62.00 L70.83,62.38 L70.95,62.73 L71.10,63.04 L71.26,63.30 L71.45,63.50 L71.64,63.63 L71.85,63.69" fill="none" stroke="#fff" stroke-width="1.2" stroke-linejoin="round" stroke-linecap="round"/>
<path d="M83.91,63.40 L84.12,63.37 L84.33,63.27 L84.53,63.09 L84.73,62.86 L84.90,62.57 L85.06,62.24 L85.20,61.88 L85.31,61.50 L85.40,61.13 L85.47,60.78 L85.51,60.45 L85.54,60.17 L85.54,59.94 L85.53,59.78 L85.51,59.69 L85.48,59.67 L85.44,59.73 L85.41,59.86 L85.39,60.06 L85.38,60.32 L85.39,60.63 L85.41,60.98 L85.46,61.35 L85.53,61.74 L85.63,62.11 L85.74,62.47 L85.89,62.79 L86.05,63.07 L86.23,63.29 L86.42,63.44 L86.62,63.51 L86.83,63.52 L87.04,63.45 L87.25,63.30 L87.44,63.09 L87.63,62.82 L87.80,62.51 L87.94,62.16 L88.07,61.79 L88.17,61.41 L88.24,61.05 L88.30,60.71 L88.33,60.41 L88.34,60.15 L88.33,59.96 L88.31,59.84 L88.29,59.79 L88.25,59.82 L88.22,59.92 L88.20,60.09 L88.18,60.33 L88.18,60.62 L88.20,60.96 L88.24,61.32 L88.30,61.70 L88.38,62.09 L88.49,62.45 L88.62,62.79 L88.78,63.09 L88.95,63.33 L89.14,63.51 L89.34,63.62 L89.54,63.65 L89.75,63.61 L89.96,63.50 L90.16,63.31 L90.35,63.07 L90.53,62.77 L90.68,62.43 L90.81,62.07 L90.93,61.70 L91.01,61.32 L91.07,60.97 L91.11,60.65 L91.13,60.38 L91.13,60.16 L91.12,60.01 L91.10,59.93 L91.06,59.93 L91.03,60.00 L91.00,60.14 L90.98,60.35 L90.98,60.62 L90.99,60.94 L91.02,61.30 L91.07,61.67 L91.14,62.05 L91.24,62.43 L91.36,62.78 L91.51,63.10 L91.67,63.36 L91.85,63.57 L92.05,63.71 L92.25,63.77 L92.46,63.77 L92.67,63.68 L92.88,63.52 L93.07,63.30 L93.25,63.03 L93.42,62.70 L93.56,62.35 L93.68,61.98 L93.78,61.60 L93.85,61.24 L93.90,60.91 L93.92,60.61 L93.93,60.37 L93.92,60.19 L93.90,60.08 L93.87,60.05 L93.84,60.09 L93.81,60.20 L93.79,60.38 L93.78,60.63 L93.78,60.93 L93.80,61.27 L93.84,61.64 L93.90,62.02 L93.99,62.40 L94.10,62.77 L94.24,63.10 L94.40,63.39 L94.57,63.62 L94.76,63.79 L94.96,63.88 L95.17,63.91 L95.38,63.85 L95.59,63.72 L95.79,63.53 L95.98,63.27 L96.15,62.97 L96.30,62.63 L96.43,62.26 L96.54,61.89 L96.62,61.52 L96.68,61.17 L96.71,60.86 L96.73,60.59 L96.73,60.39 L96.71,60.25 L96.68,60.18 L96.65,60.19 L96.62,60.27 L96.59,60.43 L96.58,60.65 L96.57,60.93 L96.58,61.25 L96.62,61.61 L96.67,61.99 L96.75,62.37 L96.85,62.75 L96.98,63.09 L97.13,63.40 L97.29,63.66 L97.48,63.85 L97.68,63.98 L97.88,64.03 L98.09,64.01 L98.30,63.91 L98.50,63.75 L98.70,63.51 L98.88,63.23 L99.04,62.90 L99.17,62.54 L99.29,62.17 L99.38,61.80 L99.45,61.44 L99.50,61.11 L99.52,60.82 L99.53,60.59 L99.52,60.42 L99.49,60.33 L99.46,60.30 L99.43,60.36 L99.40,60.48 L99.38,60.68 L99.37,60.93 L99.37,61.24 L99.40,61.59 L99.44,61.96 L99.51,62.34 L99.60,62.72 L99.72,63.08 L99.86,63.40 L100.02,63.68 L100.20,63.91 L100.39,64.06 L100.59,64.15 L100.80,64.16 L101.01,64.09 L101.22,63.95 L101.42,63.75 L101.60,63.48 L101.77,63.17 L101.92,62.82 L102.04,62.45 L102.15,62.08 L102.22,61.71 L102.28,61.37 L102.31,61.06 L102.32,60.81 L102.32,60.61 L102.30,60.48 L102.27,60.43 L102.24,60.45 L102.21,60.55 L102.19,60.71 L102.17,60.95 L102.17,61.23 L102.18,61.57 L102.22,61.93 L102.28,62.31 L102.36,62.69 L102.47,63.06 L102.60,63.40 L102.75,63.70 L102.92,63.95 L103.11,64.13 L103.31,64.25 L103.51,64.29 L103.72,64.25 L103.93,64.14 L104.13,63.97 L104.32,63.72 L104.50,63.43 L104.65,63.10 L104.79,62.74 L104.90,62.36 L104.99,61.99 L105.06,61.64 L105.10,61.31 L105.12,61.03 L105.12,60.81 L105.11,60.66 L105.08,60.57 L105.05,60.56 L105.02,60.63 L104.99,60.76 L104.97,60.97 L104.96,61.24 L104.97,61.55 L105.00,61.90 L105.05,62.28 L105.12,62.66 L105.22,63.04 L105.34,63.39 L105.48,63.71 L105.64,63.98 L105.82,64.19 L106.02,64.34 L106.22,64.41 L106.43,64.40 L106.64,64.33 L106.85,64.18 L107.04,63.96 L107.22,63.69 L107.39,63.37 L107.53,63.01 L107.66,62.64 L107.75,62.27 L107.83,61.91 L107.88,61.57 L107.91,61.27 L107.92,61.03 L107.91,60.84 L107.89,60.72 L107.86,60.68 L107.83,60.72 L107.80,60.82 L107.78,61.00 L107.76,61.25 L107.76,61.54 L107.78,61.88 L107.82,62.25 L107.88,62.63 L107.97,63.01 L108.08,63.37 L108.21,63.71 L108.37,64.00 L108.54,64.24 L108.73,64.41 L108.93,64.51 L109.14,64.54 L109.35,64.49 L109.56,64.37 L109.76,64.18 L109.95,63.93 L110.12,63.63 L110.27,63.29 L110.40,62.93 L110.51,62.55 L110.60,62.18 L110.66,61.83 L110.70,61.52 L110.71,61.25 L110.71,61.04 L110.70,60.89 L110.67,60.82 L110.64,60.82 L110.61,60.90 L110.58,61.05 L110.56,61.26 L110.56,61.54 L110.57,61.86 L110.60,62.22 L110.65,62.60 L110.73,62.98 L110.83,63.35 L110.95,63.70 L111.10,64.01 L111.27,64.27 L111.45,64.48 L111.65,64.61 L111.85,64.67 L112.06,64.65 L112.27,64.56 L112.47,64.40 L112.67,64.17 L112.85,63.89 L113.01,63.56 L113.15,63.21 L113.27,62.84 L113.36,62.46 L113.43,62.10 L113.48,61.77 L113.51,61.48 L113.51,61.24 L113.50,61.07 L113.48,60.97 L113.45,60.94 L113.42,60.98 L113.39,61.10 L113.37,61.29 L113.36,61.55 L113.36,61.85 L113.38,62.19 L113.42,62.56 L113.49,62.95 L113.58,63.33 L113.70,63.69 L113.83,64.02 L113.99,64.30 L114.17,64.53 L114.36,64.69 L114.56,64.78 L114.77,64.79 L114.98,64.73 L115.19,64.60 L115.39,64.40 L115.57,64.14 L115.74,63.83 L115.89,63.49 L116.02,63.12 L116.12,62.74 L116.20,62.38 L116.26,62.03 L116.29,61.72 L116.31,61.46 L116.31,61.26 L116.29,61.13 L116.26,61.07 L116.23,61.08 L116.20,61.17 L116.17,61.33 L116.16,61.56 L116.15,61.84 L116.17,62.17 L116.20,62.53 L116.26,62.91 L116.34,63.30 L116.44,63.67 L116.57,64.01 L116.72,64.31 L116.89,64.57 L117.08,64.76 L117.27,64.88 L117.48,64.92 L117.69,64.89 L117.90,64.79 L118.10,64.62 L118.29,64.38 L118.47,64.09 L118.63,63.76 L118.77,63.40 L118.88,63.03 L118.97,62.65 L119.04,62.30 L119.08,61.97 L119.10,61.69 L119.11,61.46 L119.09,61.30 L119.07,61.21 L119.04,61.19 L119.01,61.25 L118.98,61.39 L118.96,61.59 L118.95,61.85 L118.96,62.16 L118.98,62.51 L119.03,62.88 L119.10,63.27 L119.19,63.64 L119.31,64.00 L119.45,64.32 L119.61,64.60 L119.79,64.81 L119.99,64.96 L120.19,65.04 L120.40,65.04 L120.61,64.97 L120.82,64.83 L121.01,64.61 L121.20,64.35 L121.36,64.03 L121.51,63.68 L121.63,63.31 L121.73,62.94 L121.81,62.57 L121.86,62.23 L121.89,61.93 L121.90,61.68 L121.90,61.49 L121.88,61.37 L121.85,61.32 L121.82,61.35 L121.79,61.45 L121.76,61.62 L121.75,61.86 L121.75,62.15 L121.76,62.49 L121.80,62.85 L121.86,63.23 L121.95,63.61 L122.06,63.98 L122.19,64.32 L122.34,64.62 L122.51,64.86 L122.70,65.04 L122.90,65.14 L123.11,65.18 L123.32,65.14 L123.53,65.02 L123.73,64.84 L123.92,64.59 L124.09,64.29 L124.25,63.96 L124.38,63.59 L124.49,63.22 L124.58,62.85 L124.64,62.50 L124.68,62.18 L124.70,61.90 L124.70,61.69 L124.68,61.54 L124.66,61.46 L124.63,61.45 L124.60,61.52 L124.57,61.67 L124.55,61.88 L124.54,62.15 L124.55,62.47 L124.58,62.82 L124.63,63.20 L124.71,63.58 L124.81,63.96 L124.93,64.31 L125.07,64.63 L125.24,64.89 L125.42,65.10 L125.62,65.24 L125.82,65.30 L126.03,65.29 L126.24,65.21 L126.44,65.05 L126.64,64.83 L126.82,64.55 L126.98,64.23 L127.13,63.87 L127.25,63.50 L127.34,63.13 L127.41,62.77 L127.46,62.43 L127.49,62.14 L127.50,61.90 L127.49,61.72 L127.47,61.61 L127.44,61.57 L127.41,61.61 L127.38,61.73 L127.35,61.91 L127.34,62.16 L127.34,62.46 L127.36,62.80 L127.41,63.17" fill="none" stroke="#7a7a7a" stroke-width="2.1" stroke-linejoin="round" stroke-linecap="round"/>
<path d="M83.91,63.40 L84.12,63.37 L84.33,63.27 L84.53,63.09 L84.73,62.86 L84.90,62.57 L85.06,62.24 L85.20,61.88 L85.31,61.50 L85.40,61.13 L85.47,60.78 L85.51,60.45 L85.54,60.17 L85.54,59.94 L85.53,59.78 L85.51,59.69 L85.48,59.67 L85.44,59.73 L85.41,59.86 L85.39,60.06 L85.38,60.32 L85.39,60.63 L85.41,60.98 L85.46,61.35 L85.53,61.74 L85.63,62.11 L85.74,62.47 L85.89,62.79 L86.05,63.07 L86.23,63.29 L86.42,63.44 L86.62,63.51 L86.83,63.52 L87.04,63.45 L87.25,63.30 L87.44,63.09 L87.63,62.82 L87.80,62.51 L87.94,62.16 L88.07,61.79 L88.17,61.41 L88.24,61.05 L88.30,60.71 L88.33,60.41 L88.34,60.15 L88.33,59.96 L88.31,59.84 L88.29,59.79 L88.25,59.82 L88.22,59.92 L88.20,60.09 L88.18,60.33 L88.18,60.62 L88.20,60.96 L88.24,61.32 L88.30,61.70 L88.38,62.09 L88.49,62.45 L88.62,62.79 L88.78,63.09 L88.95,63.33 L89.14,63.51 L89.34,63.62 L89.54,63.65 L89.75,63.61 L89.96,63.50 L90.16,63.31 L90.35,63.07 L90.53,62.77 L90.68,62.43 L90.81,62.07 L90.93,61.70 L91.01,61.32 L91.07,60.97 L91.11,60.65 L91.13,60.38 L91.13,60.16 L91.12,60.01 L91.10,59.93 L91.06,59.93 L91.03,60.00 L91.00,60.14 L90.98,60.35 L90.98,60.62 L90.99,60.94 L91.02,61.30 L91.07,61.67 L91.14,62.05 L91.24,62.43 L91.36,62.78 L91.51,63.10 L91.67,63.36 L91.85,63.57 L92.05,63.71 L92.25,63.77 L92.46,63.77 L92.67,63.68 L92.88,63.52 L93.07,63.30 L93.25,63.03 L93.42,62.70 L93.56,62.35 L93.68,61.98 L93.78,61.60 L93.85,61.24 L93.90,60.91 L93.92,60.61 L93.93,60.37 L93.92,60.19 L93.90,60.08 L93.87,60.05 L93.84,60.09 L93.81,60.20 L93.79,60.38 L93.78,60.63 L93.78,60.93 L93.80,61.27 L93.84,61.64 L93.90,62.02 L93.99,62.40 L94.10,62.77 L94.24,63.10 L94.40,63.39 L94.57,63.62 L94.76,63.79 L94.96,63.88 L95.17,63.91 L95.38,63.85 L95.59,63.72 L95.79,63.53 L95.98,63.27 L96.15,62.97 L96.30,62.63 L96.43,62.26 L96.54,61.89 L96.62,61.52 L96.68,61.17 L96.71,60.86 L96.73,60.59 L96.73,60.39 L96.71,60.25 L96.68,60.18 L96.65,60.19 L96.62,60.27 L96.59,60.43 L96.58,60.65 L96.57,60.93 L96.58,61.25 L96.62,61.61 L96.67,61.99 L96.75,62.37 L96.85,62.75 L96.98,63.09 L97.13,63.40 L97.29,63.66 L97.48,63.85 L97.68,63.98 L97.88,64.03 L98.09,64.01 L98.30,63.91 L98.50,63.75 L98.70,63.51 L98.88,63.23 L99.04,62.90 L99.17,62.54 L99.29,62.17 L99.38,61.80 L99.45,61.44 L99.50,61.11 L99.52,60.82 L99.53,60.59 L99.52,60.42 L99.49,60.33 L99.46,60.30 L99.43,60.36 L99.40,60.48 L99.38,60.68 L99.37,60.93 L99.37,61.24 L99.40,61.59 L99.44,61.96 L99.51,62.34 L99.60,62.72 L99.72,63.08 L99.86,63.40 L100.02,63.68 L100.20,63.91 L100.39,64.06 L100.59,64.15 L100.80,64.16 L101.01,64.09 L101.22,63.95 L101.42,63.75 L101.60,63.48 L101.77,63.17 L101.92,62.82 L102.04,62.45 L102.15,62.08 L102.22,61.71 L102.28,61.37 L102.31,61.06 L102.32,60.81 L102.32,60.61 L102.30,60.48 L102.27,60.43 L102.24,60.45 L102.21,60.55 L102.19,60.71 L102.17,60.95 L102.17,61.23 L102.18,61.57 L102.22,61.93 L102.28,62.31 L102.36,62.69 L102.47,63.06 L102.60,63.40 L102.75,63.70 L102.92,63.95 L103.11,64.13 L103.31,64.25 L103.51,64.29 L103.72,64.25 L103.93,64.14 L104.13,63.97 L104.32,63.72 L104.50,63.43 L104.65,63.10 L104.79,62.74 L104.90,62.36 L104.99,61.99 L105.06,61.64 L105.10,61.31 L105.12,61.03 L105.12,60.81 L105.11,60.66 L105.08,60.57 L105.05,60.56 L105.02,60.63 L104.99,60.76 L104.97,60.97 L104.96,61.24 L104.97,61.55 L105.00,61.90 L105.05,62.28 L105.12,62.66 L105.22,63.04 L105.34,63.39 L105.48,63.71 L105.64,63.98 L105.82,64.19 L106.02,64.34 L106.22,64.41 L106.43,64.40 L106.64,64.33 L106.85,64.18 L107.04,63.96 L107.22,63.69 L107.39,63.37 L107.53,63.01 L107.66,62.64 L107.75,62.27 L107.83,61.91 L107.88,61.57 L107.91,61.27 L107.92,61.03 L107.91,60.84 L107.89,60.72 L107.86,60.68 L107.83,60.72 L107.80,60.82 L107.78,61.00 L107.76,61.25 L107.76,61.54 L107.78,61.88 L107.82,62.25 L107.88,62.63 L107.97,63.01 L108.08,63.37 L108.21,63.71 L108.37,64.00 L108.54,64.24 L108.73,64.41 L108.93,64.51 L109.14,64.54 L109.35,64.49 L109.56,64.37 L109.76,64.18 L109.95,63.93 L110.12,63.63 L110.27,63.29 L110.40,62.93 L110.51,62.55 L110.60,62.18 L110.66,61.83 L110.70,61.52 L110.71,61.25 L110.71,61.04 L110.70,60.89 L110.67,60.82 L110.64,60.82 L110.61,60.90 L110.58,61.05 L110.56,61.26 L110.56,61.54 L110.57,61.86 L110.60,62.22 L110.65,62.60 L110.73,62.98 L110.83,63.35 L110.95,63.70 L111.10,64.01 L111.27,64.27 L111.45,64.48 L111.65,64.61 L111.85,64.67 L112.06,64.65 L112.27,64.56 L112.47,64.40 L112.67,64.17 L112.85,63.89 L113.01,63.56 L113.15,63.21 L113.27,62.84 L113.36,62.46 L113.43,62.10 L113.48,61.77 L113.51,61.48 L113.51,61.24 L113.50,61.07 L113.48,60.97 L113.45,60.94 L113.42,60.98 L113.39,61.10 L113.37,61.29 L113.36,61.55 L113.36,61.85 L113.38,62.19 L113.42,62.56 L113.49,62.95 L113.58,63.33 L113.70,63.69 L113.83,64.02 L113.99,64.30 L114.17,64.53 L114.36,64.69 L114.56,64.78 L114.77,64.79 L114.98,64.73 L115.19,64.60 L115.39,64.40 L115.57,64.14 L115.74,63.83 L115.89,63.49 L116.02,63.12 L116.12,62.74 L116.20,62.38 L116.26,62.03 L116.29,61.72 L116.31,61.46 L116.31,61.26 L116.29,61.13 L116.26,61.07 L116.23,61.08 L116.20,61.17 L116.17,61.33 L116.16,61.56 L116.15,61.84 L116.17,62.17 L116.20,62.53 L116.26,62.91 L116.34,63.30 L116.44,63.67 L116.57,64.01 L116.72,64.31 L116.89,64.57 L117.08,64.76 L117.27,64.88 L117.48,64.92 L117.69,64.89 L117.90,64.79 L118.10,64.62 L118.29,64.38 L118.47,64.09 L118.63,63.76 L118.77,63.40 L118.88,63.03 L118.97,62.65 L119.04,62.30 L119.08,61.97 L119.10,61.69 L119.11,61.46 L119.09,61.30 L119.07,61.21 L119.04,61.19 L119.01,61.25 L118.98,61.39 L118.96,61.59 L118.95,61.85 L118.96,62.16 L118.98,62.51 L119.03,62.88 L119.10,63.27 L119.19,63.64 L119.31,64.00 L119.45,64.32 L119.61,64.60 L119.79,64.81 L119.99,64.96 L120.19,65.04 L120.40,65.04 L120.61,64.97 L120.82,64.83 L121.01,64.61 L121.20,64.35 L121.36,64.03 L121.51,63.68 L121.63,63.31 L121.73,62.94 L121.81,62.57 L121.86,62.23 L121.89,61.93 L121.90,61.68 L121.90,61.49 L121.88,61.37 L121.85,61.32 L121.82,61.35 L121.79,61.45 L121.76,61.62 L121.75,61.86 L121.75,62.15 L121.76,62.49 L121.80,62.85 L121.86,63.23 L121.95,63.61 L122.06,63.98 L122.19,64.32 L122.34,64.62 L122.51,64.86 L122.70,65.04 L122.90,65.14 L123.11,65.18 L123.32,65.14 L123.53,65.02 L123.73,64.84 L123.92,64.59 L124.09,64.29 L124.25,63.96 L124.38,63.59 L124.49,63.22 L124.58,62.85 L124.64,62.50 L124.68,62.18 L124.70,61.90 L124.70,61.69 L124.68,61.54 L124.66,61.46 L124.63,61.45 L124.60,61.52 L124.57,61.67 L124.55,61.88 L124.54,62.15 L124.55,62.47 L124.58,62.82 L124.63,63.20 L124.71,63.58 L124.81,63.96 L124.93,64.31 L125.07,64.63 L125.24,64.89 L125.42,65.10 L125.62,65.24 L125.82,65.30 L126.03,65.29 L126.24,65.21 L126.44,65.05 L126.64,64.83 L126.82,64.55 L126.98,64.23 L127.13,63.87 L127.25,63.50 L127.34,63.13 L127.41,62.77 L127.46,62.43 L127.49,62.14 L127.50,61.90 L127.49,61.72 L127.47,61.61 L127.44,61.57 L127.41,61.61 L127.38,61.73 L127.35,61.91 L127.34,62.16 L127.34,62.46 L127.36,62.80 L127.41,63.17" fill="none" stroke="#fff" stroke-width="1.2" stroke-linejoin="round" stroke-linecap="round"/>
<path d="M72,61.8 C76,62 80,58 84,61.5" fill="none" stroke="#7a7a7a" stroke-width="1.9" stroke-linejoin="round" stroke-linecap="round"/>
<path d="M72,61.8 C76,62 80,58 84,61.5" fill="none" stroke="#fff" stroke-width="0.9" stroke-linejoin="round" stroke-linecap="round"/>
<path d="M128,63.5 C131,63.6 133,62 135,63" fill="none" stroke="#7a7a7a" stroke-width="1.9" stroke-linejoin="round" stroke-linecap="round"/>
<path d="M128,63.5 C131,63.6 133,62 135,63" fill="none" stroke="#fff" stroke-width="0.9" stroke-linejoin="round" stroke-linecap="round"/>
<g transform="translate(25.00,72.00) rotate(-3.40) scale(0.295,0.211) translate(0,-19)">
<path d="M0.0,17 C2.0,3 7.0,0 11.0,1 C16.0,2 18.0,10 18.0,19" fill="none" stroke="#555555" stroke-width="6.6"/>
<path d="M0.0,17 C2.0,3 7.0,0 11.0,1 C16.0,2 18.0,10 18.0,19" fill="none" stroke="#858585" stroke-width="4.6"/>
<path d="M20.0,17 C22.0,3 27.0,0 31.0,1 C36.0,2 38.0,10 38.0,19" fill="none" stroke="#555555" stroke-width="6.6"/>
<path d="M20.0,17 C22.0,3 27.0,0 31.0,1 C36.0,2 38.0,10 38.0,19" fill="none" stroke="#858585" stroke-width="4.6"/>
<path d="M40.0,17 C42.0,3 47.0,0 51.0,1 C56.0,2 58.0,10 58.0,19" fill="none" stroke="#555555" stroke-width="6.6"/>
<path d="M40.0,17 C42.0,3 47.0,0 51.0,1 C56.0,2 58.0,10 58.0,19" fill="none" stroke="#858585" stroke-width="4.6"/>
<path d="M60.0,17 C62.0,3 67.0,0 71.0,1 C76.0,2 78.0,10 78.0,19" fill="none" stroke="#555555" stroke-width="6.6"/>
<path d="M60.0,17 C62.0,3 67.0,0 71.0,1 C76.0,2 78.0,10 78.0,19" fill="none" stroke="#858585" stroke-width="4.6"/>
<path d="M80.0,17 C82.0,3 87.0,0 91.0,1 C96.0,2 98.0,10 98.0,19" fill="none" stroke="#555555" stroke-width="6.6"/>
<path d="M80.0,17 C82.0,3 87.0,0 91.0,1 C96.0,2 98.0,10 98.0,19" fill="none" stroke="#858585" stroke-width="4.6"/>
<path d="M100.0,17 C102.0,3 107.0,0 111.0,1 C116.0,2 118.0,10 118.0,19" fill="none" stroke="#555555" stroke-width="6.6"/>
<path d="M100.0,17 C102.0,3 107.0,0 111.0,1 C116.0,2 118.0,10 118.0,19" fill="none" stroke="#858585" stroke-width="4.6"/>
<path d="M120.0,17 C122.0,3 127.0,0 131.0,1 C136.0,2 138.0,10 138.0,19" fill="none" stroke="#555555" stroke-width="6.6"/>
<path d="M120.0,17 C122.0,3 127.0,0 131.0,1 C136.0,2 138.0,10 138.0,19" fill="none" stroke="#858585" stroke-width="4.6"/>
<path d="M140.0,17 C142.0,3 147.0,0 151.0,1 C156.0,2 158.0,10 158.0,19" fill="none" stroke="#555555" stroke-width="6.6"/>
<path d="M140.0,17 C142.0,3 147.0,0 151.0,1 C156.0,2 158.0,10 158.0,19" fill="none" stroke="#858585" stroke-width="4.6"/>
<path d="M160.0,17 C162.0,3 167.0,0 171.0,1 C176.0,2 178.0,10 178.0,19" fill="none" stroke="#555555" stroke-width="6.6"/>
<path d="M160.0,17 C162.0,3 167.0,0 171.0,1 C176.0,2 178.0,10 178.0,19" fill="none" stroke="#858585" stroke-width="4.6"/>
<path d="M180.0,17 C182.0,3 187.0,0 191.0,1 C196.0,2 198.0,10 198.0,19" fill="none" stroke="#555555" stroke-width="6.6"/>
<path d="M180.0,17 C182.0,3 187.0,0 191.0,1 C196.0,2 198.0,10 198.0,19" fill="none" stroke="#858585" stroke-width="4.6"/>
<path d="M200.0,17 C202.0,3 207.0,0 211.0,1 C216.0,2 218.0,10 218.0,19" fill="none" stroke="#555555" stroke-width="6.6"/>
<path d="M200.0,17 C202.0,3 207.0,0 211.0,1 C216.0,2 218.0,10 218.0,19" fill="none" stroke="#858585" stroke-width="4.6"/>
<path d="M220.0,17 C222.0,3 227.0,0 231.0,1 C236.0,2 238.0,10 238.0,19" fill="none" stroke="#555555" stroke-width="6.6"/>
<path d="M220.0,17 C222.0,3 227.0,0 231.0,1 C236.0,2 238.0,10 238.0,19" fill="none" stroke="#858585" stroke-width="4.6"/>
<path d="M240.0,17 C242.0,3 247.0,0 251.0,1 C256.0,2 258.0,10 258.0,19" fill="none" stroke="#555555" stroke-width="6.6"/>
<path d="M240.0,17 C242.0,3 247.0,0 251.0,1 C256.0,2 258.0,10 258.0,19" fill="none" stroke="#858585" stroke-width="4.6"/>
<path d="M260.0,17 C262.0,3 267.0,0 271.0,1 C276.0,2 278.0,10 278.0,19" fill="none" stroke="#555555" stroke-width="6.6"/>
<path d="M260.0,17 C262.0,3 267.0,0 271.0,1 C276.0,2 278.0,10 278.0,19" fill="none" stroke="#858585" stroke-width="4.6"/>
<path d="M280.0,17 C282.0,3 287.0,0 291.0,1 C296.0,2 298.0,10 298.0,19" fill="none" stroke="#555555" stroke-width="6.6"/>
<path d="M280.0,17 C282.0,3 287.0,0 291.0,1 C296.0,2 298.0,10 298.0,19" fill="none" stroke="#858585" stroke-width="4.6"/>
<path d="M300.0,17 C302.0,3 307.0,0 311.0,1 C316.0,2 318.0,10 318.0,19" fill="none" stroke="#555555" stroke-width="6.6"/>
<path d="M300.0,17 C302.0,3 307.0,0 311.0,1 C316.0,2 318.0,10 318.0,19" fill="none" stroke="#858585" stroke-width="4.6"/>
<path d="M320.0,17 C322.0,3 327.0,0 331.0,1 C336.0,2 338.0,10 338.0,19" fill="none" stroke="#555555" stroke-width="6.6"/>
<path d="M320.0,17 C322.0,3 327.0,0 331.0,1 C336.0,2 338.0,10 338.0,19" fill="none" stroke="#858585" stroke-width="4.6"/>
<path d="M340.0,17 C342.0,3 347.0,0 351.0,1 C356.0,2 358.0,10 358.0,19" fill="none" stroke="#555555" stroke-width="6.6"/>
<path d="M340.0,17 C342.0,3 347.0,0 351.0,1 C356.0,2 358.0,10 358.0,19" fill="none" stroke="#858585" stroke-width="4.6"/>
<path d="M360.0,17 C362.0,3 367.0,0 371.0,1 C376.0,2 378.0,10 378.0,19" fill="none" stroke="#555555" stroke-width="6.6"/>
<path d="M360.0,17 C362.0,3 367.0,0 371.0,1 C376.0,2 378.0,10 378.0,19" fill="none" stroke="#858585" stroke-width="4.6"/>
<path d="M-1.0,18 C6.0,22 16.0,34 21.0,35 C25.0,36 26.0,30 22.0,24" fill="none" stroke="#555555" stroke-width="6.6"/>
<path d="M-1.0,18 C6.0,22 16.0,34 21.0,35 C25.0,36 26.0,30 22.0,24" fill="none" stroke="#858585" stroke-width="4.6"/>
<path d="M19.0,18 C26.0,22 36.0,34 41.0,35 C45.0,36 46.0,30 42.0,24" fill="none" stroke="#555555" stroke-width="6.6"/>
<path d="M19.0,18 C26.0,22 36.0,34 41.0,35 C45.0,36 46.0,30 42.0,24" fill="none" stroke="#858585" stroke-width="4.6"/>
<path d="M39.0,18 C46.0,22 56.0,34 61.0,35 C65.0,36 66.0,30 62.0,24" fill="none" stroke="#555555" stroke-width="6.6"/>
<path d="M39.0,18 C46.0,22 56.0,34 61.0,35 C65.0,36 66.0,30 62.0,24" fill="none" stroke="#858585" stroke-width="4.6"/>
<path d="M59.0,18 C66.0,22 76.0,34 81.0,35 C85.0,36 86.0,30 82.0,24" fill="none" stroke="#555555" stroke-width="6.6"/>
<path d="M59.0,18 C66.0,22 76.0,34 81.0,35 C85.0,36 86.0,30 82.0,24" fill="none" stroke="#858585" stroke-width="4.6"/>
<path d="M79.0,18 C86.0,22 96.0,34 101.0,35 C105.0,36 106.0,30 102.0,24" fill="none" stroke="#555555" stroke-width="6.6"/>
<path d="M79.0,18 C86.0,22 96.0,34 101.0,35 C105.0,36 106.0,30 102.0,24" fill="none" stroke="#858585" stroke-width="4.6"/>
<path d="M99.0,18 C106.0,22 116.0,34 121.0,35 C125.0,36 126.0,30 122.0,24" fill="none" stroke="#555555" stroke-width="6.6"/>
<path d="M99.0,18 C106.0,22 116.0,34 121.0,35 C125.0,36 126.0,30 122.0,24" fill="none" stroke="#858585" stroke-width="4.6"/>
<path d="M119.0,18 C126.0,22 136.0,34 141.0,35 C145.0,36 146.0,30 142.0,24" fill="none" stroke="#555555" stroke-width="6.6"/>
<path d="M119.0,18 C126.0,22 136.0,34 141.0,35 C145.0,36 146.0,30 142.0,24" fill="none" stroke="#858585" stroke-width="4.6"/>
<path d="M139.0,18 C146.0,22 156.0,34 161.0,35 C165.0,36 166.0,30 162.0,24" fill="none" stroke="#555555" stroke-width="6.6"/>
<path d="M139.0,18 C146.0,22 156.0,34 161.0,35 C165.0,36 166.0,30 162.0,24" fill="none" stroke="#858585" stroke-width="4.6"/>
<path d="M159.0,18 C166.0,22 176.0,34 181.0,35 C185.0,36 186.0,30 182.0,24" fill="none" stroke="#555555" stroke-width="6.6"/>
<path d="M159.0,18 C166.0,22 176.0,34 181.0,35 C185.0,36 186.0,30 182.0,24" fill="none" stroke="#858585" stroke-width="4.6"/>
<path d="M179.0,18 C186.0,22 196.0,34 201.0,35 C205.0,36 206.0,30 202.0,24" fill="none" stroke="#555555" stroke-width="6.6"/>
<path d="M179.0,18 C186.0,22 196.0,34 201.0,35 C205.0,36 206.0,30 202.0,24" fill="none" stroke="#858585" stroke-width="4.6"/>
<path d="M199.0,18 C206.0,22 216.0,34 221.0,35 C225.0,36 226.0,30 222.0,24" fill="none" stroke="#555555" stroke-width="6.6"/>
<path d="M199.0,18 C206.0,22 216.0,34 221.0,35 C225.0,36 226.0,30 222.0,24" fill="none" stroke="#858585" stroke-width="4.6"/>
<path d="M219.0,18 C226.0,22 236.0,34 241.0,35 C245.0,36 246.0,30 242.0,24" fill="none" stroke="#555555" stroke-width="6.6"/>
<path d="M219.0,18 C226.0,22 236.0,34 241.0,35 C245.0,36 246.0,30 242.0,24" fill="none" stroke="#858585" stroke-width="4.6"/>
<path d="M239.0,18 C246.0,22 256.0,34 261.0,35 C265.0,36 266.0,30 262.0,24" fill="none" stroke="#555555" stroke-width="6.6"/>
<path d="M239.0,18 C246.0,22 256.0,34 261.0,35 C265.0,36 266.0,30 262.0,24" fill="none" stroke="#858585" stroke-width="4.6"/>
<path d="M259.0,18 C266.0,22 276.0,34 281.0,35 C285.0,36 286.0,30 282.0,24" fill="none" stroke="#555555" stroke-width="6.6"/>
<path d="M259.0,18 C266.0,22 276.0,34 281.0,35 C285.0,36 286.0,30 282.0,24" fill="none" stroke="#858585" stroke-width="4.6"/>
<path d="M279.0,18 C286.0,22 296.0,34 301.0,35 C305.0,36 306.0,30 302.0,24" fill="none" stroke="#555555" stroke-width="6.6"/>
<path d="M279.0,18 C286.0,22 296.0,34 301.0,35 C305.0,36 306.0,30 302.0,24" fill="none" stroke="#858585" stroke-width="4.6"/>
<path d="M299.0,18 C306.0,22 316.0,34 321.0,35 C325.0,36 326.0,30 322.0,24" fill="none" stroke="#555555" stroke-width="6.6"/>
<path d="M299.0,18 C306.0,22 316.0,34 321.0,35 C325.0,36 326.0,30 322.0,24" fill="none" stroke="#858585" stroke-width="4.6"/>
<path d="M319.0,18 C326.0,22 336.0,34 341.0,35 C345.0,36 346.0,30 342.0,24" fill="none" stroke="#555555" stroke-width="6.6"/>
<path d="M319.0,18 C326.0,22 336.0,34 341.0,35 C345.0,36 346.0,30 342.0,24" fill="none" stroke="#858585" stroke-width="4.6"/>
<path d="M339.0,18 C346.0,22 356.0,34 361.0,35 C365.0,36 366.0,30 362.0,24" fill="none" stroke="#555555" stroke-width="6.6"/>
<path d="M339.0,18 C346.0,22 356.0,34 361.0,35 C365.0,36 366.0,30 362.0,24" fill="none" stroke="#858585" stroke-width="4.6"/>
<path d="M359.0,18 C366.0,22 376.0,34 381.0,35 C385.0,36 386.0,30 382.0,24" fill="none" stroke="#555555" stroke-width="6.6"/>
<path d="M359.0,18 C366.0,22 376.0,34 381.0,35 C385.0,36 386.0,30 382.0,24" fill="none" stroke="#858585" stroke-width="4.6"/>
</g>
<g transform="translate(56.00,77.00) rotate(0.30) scale(0.295,0.197) translate(0,-19)">
<path d="M0.0,17 C2.0,3 7.0,0 11.0,1 C16.0,2 18.0,10 18.0,19" fill="none" stroke="#555555" stroke-width="6.6"/>
<path d="M0.0,17 C2.0,3 7.0,0 11.0,1 C16.0,2 18.0,10 18.0,19" fill="none" stroke="#858585" stroke-width="4.6"/>
<path d="M20.0,17 C22.0,3 27.0,0 31.0,1 C36.0,2 38.0,10 38.0,19" fill="none" stroke="#555555" stroke-width="6.6"/>
<path d="M20.0,17 C22.0,3 27.0,0 31.0,1 C36.0,2 38.0,10 38.0,19" fill="none" stroke="#858585" stroke-width="4.6"/>
<path d="M40.0,17 C42.0,3 47.0,0 51.0,1 C56.0,2 58.0,10 58.0,19" fill="none" stroke="#555555" stroke-width="6.6"/>
<path d="M40.0,17 C42.0,3 47.0,0 51.0,1 C56.0,2 58.0,10 58.0,19" fill="none" stroke="#858585" stroke-width="4.6"/>
<path d="M60.0,17 C62.0,3 67.0,0 71.0,1 C76.0,2 78.0,10 78.0,19" fill="none" stroke="#555555" stroke-width="6.6"/>
<path d="M60.0,17 C62.0,3 67.0,0 71.0,1 C76.0,2 78.0,10 78.0,19" fill="none" stroke="#858585" stroke-width="4.6"/>
<path d="M80.0,17 C82.0,3 87.0,0 91.0,1 C96.0,2 98.0,10 98.0,19" fill="none" stroke="#555555" stroke-width="6.6"/>
<path d="M80.0,17 C82.0,3 87.0,0 91.0,1 C96.0,2 98.0,10 98.0,19" fill="none" stroke="#858585" stroke-width="4.6"/>
<path d="M100.0,17 C102.0,3 107.0,0 111.0,1 C116.0,2 118.0,10 118.0,19" fill="none" stroke="#555555" stroke-width="6.6"/>
<path d="M100.0,17 C102.0,3 107.0,0 111.0,1 C116.0,2 118.0,10 118.0,19" fill="none" stroke="#858585" stroke-width="4.6"/>
<path d="M120.0,17 C122.0,3 127.0,0 131.0,1 C136.0,2 138.0,10 138.0,19" fill="none" stroke="#555555" stroke-width="6.6"/>
<path d="M120.0,17 C122.0,3 127.0,0 131.0,1 C136.0,2 138.0,10 138.0,19" fill="none" stroke="#858585" stroke-width="4.6"/>
<path d="M140.0,17 C142.0,3 147.0,0 151.0,1 C156.0,2 158.0,10 158.0,19" fill="none" stroke="#555555" stroke-width="6.6"/>
<path d="M140.0,17 C142.0,3 147.0,0 151.0,1 C156.0,2 158.0,10 158.0,19" fill="none" stroke="#858585" stroke-width="4.6"/>
<path d="M160.0,17 C162.0,3 167.0,0 171.0,1 C176.0,2 178.0,10 178.0,19" fill="none" stroke="#555555" stroke-width="6.6"/>
<path d="M160.0,17 C162.0,3 167.0,0 171.0,1 C176.0,2 178.0,10 178.0,19" fill="none" stroke="#858585" stroke-width="4.6"/>
<path d="M180.0,17 C182.0,3 187.0,0 191.0,1 C196.0,2 198.0,10 198.0,19" fill="none" stroke="#555555" stroke-width="6.6"/>
<path d="M180.0,17 C182.0,3 187.0,0 191.0,1 C196.0,2 198.0,10 198.0,19" fill="none" stroke="#858585" stroke-width="4.6"/>
<path d="M200.0,17 C202.0,3 207.0,0 211.0,1 C216.0,2 218.0,10 218.0,19" fill="none" stroke="#555555" stroke-width="6.6"/>
<path d="M200.0,17 C202.0,3 207.0,0 211.0,1 C216.0,2 218.0,10 218.0,19" fill="none" stroke="#858585" stroke-width="4.6"/>
<path d="M220.0,17 C222.0,3 227.0,0 231.0,1 C236.0,2 238.0,10 238.0,19" fill="none" stroke="#555555" stroke-width="6.6"/>
<path d="M220.0,17 C222.0,3 227.0,0 231.0,1 C236.0,2 238.0,10 238.0,19" fill="none" stroke="#858585" stroke-width="4.6"/>
<path d="M240.0,17 C242.0,3 247.0,0 251.0,1 C256.0,2 258.0,10 258.0,19" fill="none" stroke="#555555" stroke-width="6.6"/>
<path d="M240.0,17 C242.0,3 247.0,0 251.0,1 C256.0,2 258.0,10 258.0,19" fill="none" stroke="#858585" stroke-width="4.6"/>
<path d="M260.0,17 C262.0,3 267.0,0 271.0,1 C276.0,2 278.0,10 278.0,19" fill="none" stroke="#555555" stroke-width="6.6"/>
<path d="M260.0,17 C262.0,3 267.0,0 271.0,1 C276.0,2 278.0,10 278.0,19" fill="none" stroke="#858585" stroke-width="4.6"/>
<path d="M-1.0,18 C6.0,22 16.0,34 21.0,35 C25.0,36 26.0,30 22.0,24" fill="none" stroke="#555555" stroke-width="6.6"/>
<path d="M-1.0,18 C6.0,22 16.0,34 21.0,35 C25.0,36 26.0,30 22.0,24" fill="none" stroke="#858585" stroke-width="4.6"/>
<path d="M19.0,18 C26.0,22 36.0,34 41.0,35 C45.0,36 46.0,30 42.0,24" fill="none" stroke="#555555" stroke-width="6.6"/>
<path d="M19.0,18 C26.0,22 36.0,34 41.0,35 C45.0,36 46.0,30 42.0,24" fill="none" stroke="#858585" stroke-width="4.6"/>
<path d="M39.0,18 C46.0,22 56.0,34 61.0,35 C65.0,36 66.0,30 62.0,24" fill="none" stroke="#555555" stroke-width="6.6"/>
<path d="M39.0,18 C46.0,22 56.0,34 61.0,35 C65.0,36 66.0,30 62.0,24" fill="none" stroke="#858585" stroke-width="4.6"/>
<path d="M59.0,18 C66.0,22 76.0,34 81.0,35 C85.0,36 86.0,30 82.0,24" fill="none" stroke="#555555" stroke-width="6.6"/>
<path d="M59.0,18 C66.0,22 76.0,34 81.0,35 C85.0,36 86.0,30 82.0,24" fill="none" stroke="#858585" stroke-width="4.6"/>
<path d="M79.0,18 C86.0,22 96.0,34 101.0,35 C105.0,36 106.0,30 102.0,24" fill="none" stroke="#555555" stroke-width="6.6"/>
<path d="M79.0,18 C86.0,22 96.0,34 101.0,35 C105.0,36 106.0,30 102.0,24" fill="none" stroke="#858585" stroke-width="4.6"/>
<path d="M99.0,18 C106.0,22 116.0,34 121.0,35 C125.0,36 126.0,30 122.0,24" fill="none" stroke="#555555" stroke-width="6.6"/>
<path d="M99.0,18 C106.0,22 116.0,34 121.0,35 C125.0,36 126.0,30 122.0,24" fill="none" stroke="#858585" stroke-width="4.6"/>
<path d="M119.0,18 C126.0,22 136.0,34 141.0,35 C145.0,36 146.0,30 142.0,24" fill="none" stroke="#555555" stroke-width="6.6"/>
<path d="M119.0,18 C126.0,22 136.0,34 141.0,35 C145.0,36 146.0,30 142.0,24" fill="none" stroke="#858585" stroke-width="4.6"/>
<path d="M139.0,18 C146.0,22 156.0,34 161.0,35 C165.0,36 166.0,30 162.0,24" fill="none" stroke="#555555" stroke-width="6.6"/>
<path d="M139.0,18 C146.0,22 156.0,34 161.0,35 C165.0,36 166.0,30 162.0,24" fill="none" stroke="#858585" stroke-width="4.6"/>
<path d="M159.0,18 C166.0,22 176.0,34 181.0,35 C185.0,36 186.0,30 182.0,24" fill="none" stroke="#555555" stroke-width="6.6"/>
<path d="M159.0,18 C166.0,22 176.0,34 181.0,35 C185.0,36 186.0,30 182.0,24" fill="none" stroke="#858585" stroke-width="4.6"/>
<path d="M179.0,18 C186.0,22 196.0,34 201.0,35 C205.0,36 206.0,30 202.0,24" fill="none" stroke="#555555" stroke-width="6.6"/>
<path d="M179.0,18 C186.0,22 196.0,34 201.0,35 C205.0,36 206.0,30 202.0,24" fill="none" stroke="#858585" stroke-width="4.6"/>
<path d="M199.0,18 C206.0,22 216.0,34 221.0,35 C225.0,36 226.0,30 222.0,24" fill="none" stroke="#555555" stroke-width="6.6"/>
<path d="M199.0,18 C206.0,22 216.0,34 221.0,35 C225.0,36 226.0,30 222.0,24" fill="none" stroke="#858585" stroke-width="4.6"/>
<path d="M219.0,18 C226.0,22 236.0,34 241.0,35 C245.0,36 246.0,30 242.0,24" fill="none" stroke="#555555" stroke-width="6.6"/>
<path d="M219.0,18 C226.0,22 236.0,34 241.0,35 C245.0,36 246.0,30 242.0,24" fill="none" stroke="#858585" stroke-width="4.6"/>
<path d="M239.0,18 C246.0,22 256.0,34 261.0,35 C265.0,36 266.0,30 262.0,24" fill="none" stroke="#555555" stroke-width="6.6"/>
<path d="M239.0,18 C246.0,22 256.0,34 261.0,35 C265.0,36 266.0,30 262.0,24" fill="none" stroke="#858585" stroke-width="4.6"/>
<path d="M259.0,18 C266.0,22 276.0,34 281.0,35 C285.0,36 286.0,30 282.0,24" fill="none" stroke="#555555" stroke-width="6.6"/>
<path d="M259.0,18 C266.0,22 276.0,34 281.0,35 C285.0,36 286.0,30 282.0,24" fill="none" stroke="#858585" stroke-width="4.6"/>
</g>
<path d="M132,77 C134,79 134,81 133,83" fill="none" stroke="#858585" stroke-width="1.2"/>
<path d="M7,67 C9,64 11,66 13,63 C15,60 16,57 18,59 C19,61 17,64 20,64 C23,63 23,59 21,58 C19,57 17,60 19,63 C21,66 24,67 22,70 C20,72 18,70 20,68 C22,67 24,69 24,72" fill="none" stroke="#6a6a6a" stroke-width="1.7" stroke-linecap="round"/>
<ellipse cx="19.5" cy="63.5" rx="3.2" ry="3.8" fill="none" stroke="#6a6a6a" stroke-width="1.8"/>
<g transform="translate(-0.5,3)">
<path d="M8.5,86 C10,88 11,92 13,91 C15,90 14,94 16,96 C18,97 19,93 18,89 C17,85 20,82 22,82 C25,82 26,86 24,89 C22,91 20,89 21,86 C22,83 25,84 25,86 C25,88 23,88 22,86" fill="none" stroke="#22c822" stroke-width="1.5" stroke-linecap="round"/>
<path d="M21,80 C24,79 26,82 25,86 C24,89 21,89 20,86" fill="none" stroke="#22c822" stroke-width="2.2"/>
<path d="M22,72 L23,80" fill="none" stroke="#22c822" stroke-width="1.2"/>
</g>
<path d="M25,78 C27,79 28,83 27,87 C26,91 25,95 26,99 C27,101 30,101 31,99 C32,97 30,96 29,95 C30,92 32,88 33,84 C34,82 35,80 34,79" fill="none" stroke="#4a6fa8" stroke-width="1.1" stroke-linecap="round"/>
<path d="M34,81 C36,80 38,82 40,81 C42,80 44,82 45,84" fill="none" stroke="#7a7a7a" stroke-width="1.9" stroke-linejoin="round" stroke-linecap="round"/>
<path d="M34,81 C36,80 38,82 40,81 C42,80 44,82 45,84" fill="none" stroke="#fff" stroke-width="0.9" stroke-linejoin="round" stroke-linecap="round"/>
<path d="M35.11,87.47 L35.28,87.61 L35.52,87.69 L35.82,87.71 L36.18,87.67 L36.58,87.57 L37.01,87.43 L37.45,87.24 L37.89,87.03 L38.32,86.80 L38.71,86.57 L39.06,86.34 L39.35,86.14 L39.58,85.96 L39.73,85.83 L39.81,85.74 L39.81,85.71 L39.73,85.74 L39.59,85.83 L39.39,85.98 L39.13,86.19 L38.84,86.45 L38.52,86.75 L38.19,87.10 L37.87,87.47 L37.58,87.85 L37.31,88.23 L37.10,88.60 L36.94,88.95 L36.85,89.27 L36.84,89.54 L36.90,89.77 L37.04,89.93 L37.25,90.04 L37.53,90.08 L37.87,90.06 L38.25,89.99 L38.67,89.86 L39.11,89.69 L39.55,89.49 L39.99,89.27 L40.39,89.04 L40.76,88.81 L41.08,88.59 L41.33,88.40 L41.52,88.24 L41.63,88.14 L41.66,88.08 L41.62,88.08 L41.50,88.15 L41.32,88.27 L41.09,88.46 L40.81,88.70 L40.50,88.99 L40.17,89.32 L39.85,89.68 L39.54,90.06 L39.26,90.44 L39.02,90.82 L38.84,91.18 L38.72,91.51 L38.68,91.80 L38.71,92.05 L38.81,92.24 L38.99,92.37 L39.25,92.44 L39.56,92.44 L39.93,92.39 L40.33,92.29 L40.77,92.14 L41.21,91.95 L41.65,91.73 L42.07,91.50 L42.46,91.27 L42.79,91.04 L43.08,90.84 L43.29,90.67 L43.43,90.54 L43.50,90.47 L43.48,90.44 L43.40,90.48 L43.24,90.58 L43.03,90.74 L42.77,90.96 L42.47,91.23 L42.15,91.55 L41.82,91.89 L41.51,92.27 L41.21,92.65 L40.96,93.03 L40.75,93.40 L40.60,93.75 L40.53,94.06 L40.53,94.32 L40.60,94.53 L40.75,94.69 L40.98,94.78 L41.26,94.82 L41.61,94.79 L42.00,94.70 L42.43,94.57 L42.87,94.40 L43.31,94.19 L43.74,93.97 L44.14,93.73 L44.50,93.50 L44.81,93.29 L45.05,93.11 L45.22,92.96 L45.32,92.86 L45.34,92.81 L45.28,92.83 L45.16,92.90 L44.97,93.04 L44.72,93.23 L44.44,93.48 L44.13,93.78 L43.80,94.11 L43.48,94.48 L43.17,94.86 L42.90,95.24 L42.67,95.62 L42.50,95.97 L42.39,96.30 L42.36,96.58 L42.40,96.82 L42.52,97.00 L42.72,97.12 L42.98,97.18 L43.30,97.17 L43.68,97.11 L44.09,97.00 L44.52,96.84 L44.97,96.65 L45.41,96.43 L45.82,96.20 L46.20,95.97 L46.53,95.74 L46.80,95.55 L47.00,95.38 L47.13,95.26 L47.18,95.19 L47.16,95.18 L47.06,95.23 L46.90,95.34 L46.67,95.51 L46.40,95.74 L46.10,96.02 L45.78,96.34 L45.45,96.69 L45.14,97.07 L44.85,97.45 L44.60,97.83 L44.40,98.20 L44.27,98.54 L44.21,98.84 L44.22,99.10 L44.30,99.30 L44.47,99.44 L44.70,99.53 L45.00,99.55 L45.36,99.51 L45.76,99.42 L46.18,99.28 L46.63,99.10 L47.07,98.89 L47.49,98.66 L47.89,98.43 L48.24,98.20 L48.54,97.99 L48.77,97.81 L48.93,97.68 L49.01,97.58 L49.02,97.55 L48.95,97.57 L48.81,97.66 L48.61,97.80 L48.36,98.01 L48.07,98.27 L47.76,98.57 L47.43,98.91 L47.11,99.28 L46.81,99.66 L46.54,100.04 L46.32,100.42 L46.16,100.77 L46.06,101.09 L46.04,101.36 L46.10,101.59 L46.23,101.76 L46.44,101.87 L46.71,101.92 L47.05,101.90 L47.43,101.83 L47.84,101.71 L48.28,101.55 L48.73,101.35 L49.16,101.13 L49.57,100.90 L49.94,100.66 L50.26,100.45 L50.52,100.25 L50.71,100.10 L50.83,99.98 L50.87,99.92 L50.83,99.92 L50.72,99.98 L50.55,100.10 L50.31,100.28 L50.04,100.52 L49.73,100.81 L49.41,101.13 L49.08,101.49 L48.77,101.87 L48.49,102.25 L48.25,102.63 L48.06,102.99 L47.94,103.33 L47.89,103.62 L47.91,103.87 L48.01,104.06 L48.19,104.20 L48.43,104.27 L48.74,104.28 L49.11,104.24 L49.51,104.14 L49.94,103.99 L50.38,103.80 L50.82,103.59 L51.25,103.36 L51.64,103.13 L51.98,102.90 L52.26,102.70 L52.48,102.52 L52.63,102.39 L52.70,102.31 L52.70,102.28 L52.62,102.32 L52.47,102.41" fill="none" stroke="#7a7a7a" stroke-width="2.2" stroke-linejoin="round" stroke-linecap="round"/>
<path d="M35.11,87.47 L35.28,87.61 L35.52,87.69 L35.82,87.71 L36.18,87.67 L36.58,87.57 L37.01,87.43 L37.45,87.24 L37.89,87.03 L38.32,86.80 L38.71,86.57 L39.06,86.34 L39.35,86.14 L39.58,85.96 L39.73,85.83 L39.81,85.74 L39.81,85.71 L39.73,85.74 L39.59,85.83 L39.39,85.98 L39.13,86.19 L38.84,86.45 L38.52,86.75 L38.19,87.10 L37.87,87.47 L37.58,87.85 L37.31,88.23 L37.10,88.60 L36.94,88.95 L36.85,89.27 L36.84,89.54 L36.90,89.77 L37.04,89.93 L37.25,90.04 L37.53,90.08 L37.87,90.06 L38.25,89.99 L38.67,89.86 L39.11,89.69 L39.55,89.49 L39.99,89.27 L40.39,89.04 L40.76,88.81 L41.08,88.59 L41.33,88.40 L41.52,88.24 L41.63,88.14 L41.66,88.08 L41.62,88.08 L41.50,88.15 L41.32,88.27 L41.09,88.46 L40.81,88.70 L40.50,88.99 L40.17,89.32 L39.85,89.68 L39.54,90.06 L39.26,90.44 L39.02,90.82 L38.84,91.18 L38.72,91.51 L38.68,91.80 L38.71,92.05 L38.81,92.24 L38.99,92.37 L39.25,92.44 L39.56,92.44 L39.93,92.39 L40.33,92.29 L40.77,92.14 L41.21,91.95 L41.65,91.73 L42.07,91.50 L42.46,91.27 L42.79,91.04 L43.08,90.84 L43.29,90.67 L43.43,90.54 L43.50,90.47 L43.48,90.44 L43.40,90.48 L43.24,90.58 L43.03,90.74 L42.77,90.96 L42.47,91.23 L42.15,91.55 L41.82,91.89 L41.51,92.27 L41.21,92.65 L40.96,93.03 L40.75,93.40 L40.60,93.75 L40.53,94.06 L40.53,94.32 L40.60,94.53 L40.75,94.69 L40.98,94.78 L41.26,94.82 L41.61,94.79 L42.00,94.70 L42.43,94.57 L42.87,94.40 L43.31,94.19 L43.74,93.97 L44.14,93.73 L44.50,93.50 L44.81,93.29 L45.05,93.11 L45.22,92.96 L45.32,92.86 L45.34,92.81 L45.28,92.83 L45.16,92.90 L44.97,93.04 L44.72,93.23 L44.44,93.48 L44.13,93.78 L43.80,94.11 L43.48,94.48 L43.17,94.86 L42.90,95.24 L42.67,95.62 L42.50,95.97 L42.39,96.30 L42.36,96.58 L42.40,96.82 L42.52,97.00 L42.72,97.12 L42.98,97.18 L43.30,97.17 L43.68,97.11 L44.09,97.00 L44.52,96.84 L44.97,96.65 L45.41,96.43 L45.82,96.20 L46.20,95.97 L46.53,95.74 L46.80,95.55 L47.00,95.38 L47.13,95.26 L47.18,95.19 L47.16,95.18 L47.06,95.23 L46.90,95.34 L46.67,95.51 L46.40,95.74 L46.10,96.02 L45.78,96.34 L45.45,96.69 L45.14,97.07 L44.85,97.45 L44.60,97.83 L44.40,98.20 L44.27,98.54 L44.21,98.84 L44.22,99.10 L44.30,99.30 L44.47,99.44 L44.70,99.53 L45.00,99.55 L45.36,99.51 L45.76,99.42 L46.18,99.28 L46.63,99.10 L47.07,98.89 L47.49,98.66 L47.89,98.43 L48.24,98.20 L48.54,97.99 L48.77,97.81 L48.93,97.68 L49.01,97.58 L49.02,97.55 L48.95,97.57 L48.81,97.66 L48.61,97.80 L48.36,98.01 L48.07,98.27 L47.76,98.57 L47.43,98.91 L47.11,99.28 L46.81,99.66 L46.54,100.04 L46.32,100.42 L46.16,100.77 L46.06,101.09 L46.04,101.36 L46.10,101.59 L46.23,101.76 L46.44,101.87 L46.71,101.92 L47.05,101.90 L47.43,101.83 L47.84,101.71 L48.28,101.55 L48.73,101.35 L49.16,101.13 L49.57,100.90 L49.94,100.66 L50.26,100.45 L50.52,100.25 L50.71,100.10 L50.83,99.98 L50.87,99.92 L50.83,99.92 L50.72,99.98 L50.55,100.10 L50.31,100.28 L50.04,100.52 L49.73,100.81 L49.41,101.13 L49.08,101.49 L48.77,101.87 L48.49,102.25 L48.25,102.63 L48.06,102.99 L47.94,103.33 L47.89,103.62 L47.91,103.87 L48.01,104.06 L48.19,104.20 L48.43,104.27 L48.74,104.28 L49.11,104.24 L49.51,104.14 L49.94,103.99 L50.38,103.80 L50.82,103.59 L51.25,103.36 L51.64,103.13 L51.98,102.90 L52.26,102.70 L52.48,102.52 L52.63,102.39 L52.70,102.31 L52.70,102.28 L52.62,102.32 L52.47,102.41" fill="none" stroke="#fff" stroke-width="1.3" stroke-linejoin="round" stroke-linecap="round"/>
<path d="M42.13,87.50 L42.30,87.64 L42.54,87.71 L42.84,87.73 L43.20,87.68 L43.60,87.58 L44.03,87.43 L44.47,87.24 L44.91,87.02 L45.33,86.79 L45.72,86.55 L46.06,86.32 L46.35,86.11 L46.57,85.93 L46.73,85.79 L46.80,85.70 L46.80,85.67 L46.73,85.70 L46.59,85.79 L46.39,85.94 L46.13,86.16 L45.84,86.42 L45.53,86.73 L45.21,87.08 L44.89,87.45 L44.60,87.84 L44.34,88.23 L44.13,88.60 L43.98,88.95 L43.90,89.27 L43.89,89.55 L43.95,89.77 L44.09,89.93 L44.30,90.03 L44.58,90.07 L44.92,90.05 L45.30,89.97 L45.72,89.84 L46.16,89.66 L46.60,89.46 L47.03,89.23 L47.43,88.99 L47.80,88.75 L48.11,88.53 L48.36,88.34 L48.55,88.18 L48.65,88.07 L48.69,88.02 L48.64,88.02 L48.53,88.09 L48.35,88.22 L48.12,88.40 L47.84,88.65 L47.54,88.94 L47.22,89.28 L46.90,89.64 L46.59,90.02 L46.32,90.41 L46.09,90.79 L45.91,91.15 L45.80,91.49 L45.75,91.78 L45.79,92.02 L45.90,92.21 L46.08,92.34 L46.33,92.40 L46.65,92.41 L47.01,92.35 L47.42,92.24 L47.85,92.08 L48.29,91.89 L48.73,91.67 L49.14,91.43 L49.53,91.19 L49.86,90.96 L50.14,90.76 L50.35,90.59 L50.49,90.45 L50.56,90.38 L50.54,90.35 L50.46,90.39 L50.31,90.50 L50.10,90.66 L49.84,90.88 L49.54,91.16 L49.23,91.48 L48.90,91.83 L48.59,92.20 L48.30,92.59 L48.05,92.98 L47.85,93.35 L47.71,93.70 L47.64,94.01 L47.64,94.27 L47.72,94.48 L47.87,94.64 L48.10,94.73 L48.39,94.76 L48.73,94.72 L49.12,94.63 L49.54,94.50 L49.98,94.32 L50.42,94.10 L50.85,93.87 L51.25,93.63 L51.60,93.40 L51.91,93.18 L52.15,92.99 L52.32,92.85 L52.41,92.74 L52.43,92.70 L52.38,92.71 L52.25,92.79 L52.06,92.93 L51.82,93.13 L51.54,93.38 L51.23,93.68 L50.91,94.02 L50.59,94.39 L50.29,94.77 L50.02,95.16 L49.80,95.54 L49.63,95.90 L49.53,96.23 L49.50,96.51 L49.55,96.75 L49.67,96.92 L49.87,97.04 L50.13,97.09 L50.46,97.09 L50.83,97.02 L51.24,96.90 L51.67,96.74 L52.11,96.54 L52.55,96.31 L52.96,96.08 L53.34,95.84 L53.66,95.61 L53.93,95.41 L54.13,95.25 L54.26,95.12 L54.31,95.05 L54.28,95.04 L54.19,95.09 L54.02,95.21 L53.80,95.38 L53.54,95.61 L53.24,95.89 L52.92,96.22 L52.60,96.57 L52.29,96.95 L52.01,97.34 L51.76,97.73 L51.57,98.09 L51.44,98.44 L51.38,98.74 L51.40,99.00 L51.49,99.20 L51.65,99.34 L51.89,99.42 L52.19,99.44 L52.54,99.40 L52.94,99.30 L53.36,99.15 L53.80,98.97 L54.24,98.75 L54.67,98.52 L55.06,98.28 L55.41,98.05 L55.70,97.83 L55.93,97.65 L56.09,97.51 L56.17,97.42 L56.18,97.38 L56.11,97.41 L55.97,97.49 L55.77,97.64 L55.53,97.85 L55.24,98.11 L54.93,98.42 L54.61,98.77 L54.29,99.14 L53.99,99.52 L53.73,99.91 L53.52,100.29 L53.36,100.64 L53.27,100.96 L53.25,101.24 L53.31,101.46 L53.45,101.63 L53.66,101.74 L53.93,101.78 L54.26,101.76 L54.64,101.69 L55.06,101.56 L55.49,101.39 L55.94,101.19 L56.37,100.96 L56.77,100.72 L57.14,100.49 L57.46,100.26 L57.72,100.07 L57.91,99.91 L58.02,99.79 L58.06,99.73 L58.02,99.73 L57.91,99.79 L57.74,99.92 L57.51,100.10 L57.24,100.34 L56.93,100.63 L56.61,100.96 L56.29,101.32 L55.99,101.70 L55.71,102.09 L55.47,102.47 L55.29,102.84 L55.17,103.18 L55.13,103.47 L55.15,103.72 L55.26,103.91 L55.43,104.04 L55.68,104.11 L55.99,104.12 L56.35,104.07 L56.76,103.96 L57.19,103.81 L57.63,103.62 L58.06,103.40 L58.48,103.16 L58.87,102.93 L59.21,102.70 L59.49,102.49 L59.71,102.31 L59.85,102.18 L59.92,102.09 L59.92,102.07 L59.84,102.10 L59.69,102.20 L59.48,102.36 L59.23,102.58 L58.94,102.85 L58.62,103.16 L58.30,103.51 L57.99,103.89 L57.69,104.27 L57.44,104.66 L57.23,105.03 L57.09,105.38 L57.01,105.70 L57.01,105.97 L57.08,106.18 L57.23,106.34 L57.45,106.44 L57.73,106.47 L58.07,106.44 L58.46,106.36 L58.88,106.22 L59.32,106.04 L59.76,105.84 L60.19,105.61 L60.59,105.37 L60.95,105.13 L61.26,104.91 L61.50,104.72 L61.68,104.57 L61.78,104.46 L61.80,104.41 L61.75,104.42" fill="none" stroke="#7a7a7a" stroke-width="2.2" stroke-linejoin="round" stroke-linecap="round"/>
<path d="M42.13,87.50 L42.30,87.64 L42.54,87.71 L42.84,87.73 L43.20,87.68 L43.60,87.58 L44.03,87.43 L44.47,87.24 L44.91,87.02 L45.33,86.79 L45.72,86.55 L46.06,86.32 L46.35,86.11 L46.57,85.93 L46.73,85.79 L46.80,85.70 L46.80,85.67 L46.73,85.70 L46.59,85.79 L46.39,85.94 L46.13,86.16 L45.84,86.42 L45.53,86.73 L45.21,87.08 L44.89,87.45 L44.60,87.84 L44.34,88.23 L44.13,88.60 L43.98,88.95 L43.90,89.27 L43.89,89.55 L43.95,89.77 L44.09,89.93 L44.30,90.03 L44.58,90.07 L44.92,90.05 L45.30,89.97 L45.72,89.84 L46.16,89.66 L46.60,89.46 L47.03,89.23 L47.43,88.99 L47.80,88.75 L48.11,88.53 L48.36,88.34 L48.55,88.18 L48.65,88.07 L48.69,88.02 L48.64,88.02 L48.53,88.09 L48.35,88.22 L48.12,88.40 L47.84,88.65 L47.54,88.94 L47.22,89.28 L46.90,89.64 L46.59,90.02 L46.32,90.41 L46.09,90.79 L45.91,91.15 L45.80,91.49 L45.75,91.78 L45.79,92.02 L45.90,92.21 L46.08,92.34 L46.33,92.40 L46.65,92.41 L47.01,92.35 L47.42,92.24 L47.85,92.08 L48.29,91.89 L48.73,91.67 L49.14,91.43 L49.53,91.19 L49.86,90.96 L50.14,90.76 L50.35,90.59 L50.49,90.45 L50.56,90.38 L50.54,90.35 L50.46,90.39 L50.31,90.50 L50.10,90.66 L49.84,90.88 L49.54,91.16 L49.23,91.48 L48.90,91.83 L48.59,92.20 L48.30,92.59 L48.05,92.98 L47.85,93.35 L47.71,93.70 L47.64,94.01 L47.64,94.27 L47.72,94.48 L47.87,94.64 L48.10,94.73 L48.39,94.76 L48.73,94.72 L49.12,94.63 L49.54,94.50 L49.98,94.32 L50.42,94.10 L50.85,93.87 L51.25,93.63 L51.60,93.40 L51.91,93.18 L52.15,92.99 L52.32,92.85 L52.41,92.74 L52.43,92.70 L52.38,92.71 L52.25,92.79 L52.06,92.93 L51.82,93.13 L51.54,93.38 L51.23,93.68 L50.91,94.02 L50.59,94.39 L50.29,94.77 L50.02,95.16 L49.80,95.54 L49.63,95.90 L49.53,96.23 L49.50,96.51 L49.55,96.75 L49.67,96.92 L49.87,97.04 L50.13,97.09 L50.46,97.09 L50.83,97.02 L51.24,96.90 L51.67,96.74 L52.11,96.54 L52.55,96.31 L52.96,96.08 L53.34,95.84 L53.66,95.61 L53.93,95.41 L54.13,95.25 L54.26,95.12 L54.31,95.05 L54.28,95.04 L54.19,95.09 L54.02,95.21 L53.80,95.38 L53.54,95.61 L53.24,95.89 L52.92,96.22 L52.60,96.57 L52.29,96.95 L52.01,97.34 L51.76,97.73 L51.57,98.09 L51.44,98.44 L51.38,98.74 L51.40,99.00 L51.49,99.20 L51.65,99.34 L51.89,99.42 L52.19,99.44 L52.54,99.40 L52.94,99.30 L53.36,99.15 L53.80,98.97 L54.24,98.75 L54.67,98.52 L55.06,98.28 L55.41,98.05 L55.70,97.83 L55.93,97.65 L56.09,97.51 L56.17,97.42 L56.18,97.38 L56.11,97.41 L55.97,97.49 L55.77,97.64 L55.53,97.85 L55.24,98.11 L54.93,98.42 L54.61,98.77 L54.29,99.14 L53.99,99.52 L53.73,99.91 L53.52,100.29 L53.36,100.64 L53.27,100.96 L53.25,101.24 L53.31,101.46 L53.45,101.63 L53.66,101.74 L53.93,101.78 L54.26,101.76 L54.64,101.69 L55.06,101.56 L55.49,101.39 L55.94,101.19 L56.37,100.96 L56.77,100.72 L57.14,100.49 L57.46,100.26 L57.72,100.07 L57.91,99.91 L58.02,99.79 L58.06,99.73 L58.02,99.73 L57.91,99.79 L57.74,99.92 L57.51,100.10 L57.24,100.34 L56.93,100.63 L56.61,100.96 L56.29,101.32 L55.99,101.70 L55.71,102.09 L55.47,102.47 L55.29,102.84 L55.17,103.18 L55.13,103.47 L55.15,103.72 L55.26,103.91 L55.43,104.04 L55.68,104.11 L55.99,104.12 L56.35,104.07 L56.76,103.96 L57.19,103.81 L57.63,103.62 L58.06,103.40 L58.48,103.16 L58.87,102.93 L59.21,102.70 L59.49,102.49 L59.71,102.31 L59.85,102.18 L59.92,102.09 L59.92,102.07 L59.84,102.10 L59.69,102.20 L59.48,102.36 L59.23,102.58 L58.94,102.85 L58.62,103.16 L58.30,103.51 L57.99,103.89 L57.69,104.27 L57.44,104.66 L57.23,105.03 L57.09,105.38 L57.01,105.70 L57.01,105.97 L57.08,106.18 L57.23,106.34 L57.45,106.44 L57.73,106.47 L58.07,106.44 L58.46,106.36 L58.88,106.22 L59.32,106.04 L59.76,105.84 L60.19,105.61 L60.59,105.37 L60.95,105.13 L61.26,104.91 L61.50,104.72 L61.68,104.57 L61.78,104.46 L61.80,104.41 L61.75,104.42" fill="none" stroke="#fff" stroke-width="1.3" stroke-linejoin="round" stroke-linecap="round"/>
<path d="M51.02,86.35 L51.18,86.50 L51.41,86.59 L51.71,86.63 L52.07,86.61 L52.48,86.54 L52.92,86.43 L53.37,86.27 L53.82,86.09 L54.26,85.89 L54.67,85.68 L55.03,85.48 L55.34,85.29 L55.57,85.13 L55.73,85.00 L55.82,84.92 L55.82,84.89 L55.75,84.91 L55.60,84.99 L55.38,85.13 L55.12,85.32 L54.81,85.56 L54.47,85.85 L54.12,86.17 L53.78,86.52 L53.46,86.88 L53.17,87.25 L52.93,87.61 L52.75,87.94 L52.64,88.25 L52.61,88.53 L52.66,88.75 L52.79,88.93 L52.99,89.04 L53.27,89.10 L53.60,89.11 L53.99,89.06 L54.42,88.96 L54.87,88.82 L55.32,88.65 L55.77,88.45 L56.19,88.25 L56.57,88.04 L56.90,87.84 L57.17,87.67 L57.36,87.53 L57.48,87.43 L57.52,87.37 L57.47,87.37 L57.35,87.43 L57.17,87.55 L56.92,87.72 L56.63,87.94 L56.30,88.21 L55.95,88.52 L55.61,88.85 L55.27,89.21 L54.97,89.58 L54.71,89.94 L54.50,90.29 L54.37,90.61 L54.30,90.90 L54.32,91.14 L54.41,91.34 L54.58,91.48 L54.83,91.57 L55.14,91.59 L55.51,91.57 L55.93,91.49 L56.37,91.36 L56.82,91.20 L57.27,91.02 L57.71,90.81 L58.11,90.61 L58.46,90.40 L58.75,90.22 L58.98,90.06 L59.13,89.94 L59.20,89.87 L59.19,89.85 L59.10,89.88 L58.94,89.97 L58.72,90.12 L58.44,90.32 L58.13,90.57 L57.79,90.86 L57.44,91.19 L57.10,91.54 L56.78,91.90 L56.50,92.27 L56.27,92.63 L56.10,92.96 L56.01,93.26 L55.99,93.53 L56.05,93.75 L56.19,93.91 L56.41,94.02 L56.69,94.07 L57.04,94.06 L57.44,94.01 L57.87,93.90 L58.32,93.75 L58.77,93.58 L59.22,93.38 L59.63,93.17 L60.01,92.97 L60.33,92.77 L60.58,92.61 L60.76,92.47 L60.87,92.38 L60.89,92.33 L60.83,92.34 L60.70,92.41 L60.50,92.53 L60.25,92.71 L59.95,92.94 L59.62,93.22 L59.27,93.53 L58.92,93.87 L58.59,94.23 L58.30,94.60 L58.04,94.96 L57.85,95.31 L57.72,95.62 L57.67,95.91 L57.70,96.14 L57.81,96.33 L57.99,96.46 L58.25,96.54 L58.58,96.55 L58.95,96.52 L59.37,96.43 L59.82,96.30 L60.27,96.14 L60.72,95.95 L61.15,95.74 L61.54,95.53 L61.89,95.33 L62.17,95.15 L62.38,95.00 L62.52,94.89 L62.58,94.83 L62.55,94.81 L62.45,94.85 L62.28,94.95 L62.05,95.11 L61.76,95.32 L61.44,95.58 L61.10,95.88 L60.75,96.21 L60.42,96.56 L60.10,96.93 L59.83,97.29 L59.61,97.65 L59.45,97.98 L59.37,98.27 L59.37,98.53 L59.44,98.74 L59.59,98.89 L59.82,98.99 L60.12,99.03 L60.48,99.02 L60.88,98.95 L61.32,98.84 L61.77,98.69 L62.22,98.51 L62.66,98.31 L63.07,98.10 L63.44,97.90 L63.75,97.71 L63.99,97.54 L64.16,97.41 L64.25,97.33 L64.26,97.29 L64.19,97.31 L64.05,97.39 L63.84,97.52 L63.57,97.71 L63.27,97.95 L62.93,98.23 L62.58,98.55 L62.24,98.89 L61.92,99.26 L61.62,99.62 L61.38,99.98 L61.20,100.32 L61.08,100.64 L61.05,100.91 L61.09,101.14 L61.21,101.32 L61.41,101.44 L61.68,101.50 L62.01,101.51 L62.40,101.47 L62.82,101.37 L63.27,101.24 L63.72,101.07 L64.17,100.87 L64.59,100.67 L64.98,100.46 L65.31,100.26 L65.59,100.09 L65.79,99.94 L65.91,99.84 L65.95,99.78 L65.91,99.78 L65.80,99.83 L65.62,99.94 L65.38,100.10 L65.09,100.32 L64.76,100.59 L64.42,100.89 L64.07,101.23 L63.73,101.59 L63.43,101.95 L63.16,102.31 L62.95,102.66 L62.81,102.99 L62.74,103.28 L62.75,103.53 L62.83,103.73 L63.00,103.88 L63.24,103.97 L63.55,104.00 L63.92,103.97 L64.33,103.90 L64.77,103.78 L65.22,103.62 L65.67,103.44 L66.11,103.23 L66.51,103.03 L66.87,102.82 L67.17,102.64 L67.40,102.48 L67.55,102.36 L67.63,102.28 L67.63,102.25 L67.54,102.28 L67.39,102.37 L67.17,102.51 L66.90,102.71 L66.59,102.95 L66.25,103.24 L65.90,103.57 L65.56,103.92 L65.24,104.28 L64.95,104.64 L64.72,105.00 L64.55,105.34 L64.45,105.65 L64.42,105.91 L64.48,106.13 L64.61,106.30 L64.82,106.42 L65.10,106.47 L65.45,106.47 L65.84,106.42 L66.27,106.31 L66.72,106.17 L67.17,106.00 L67.62,105.80 L68.04,105.59 L68.41,105.39 L68.74,105.19 L69.00,105.02 L69.19,104.88 L69.29,104.79 L69.32,104.74 L69.27,104.74 L69.15,104.81 L68.96,104.92 L68.70,105.10 L68.41,105.33 L68.08,105.60 L67.73,105.91 L67.39,106.25 L67.05,106.61 L66.75,106.97 L66.50,107.34 L66.30,107.68 L66.17,108.00 L66.11,108.29 L66.13,108.53 L66.23,108.72 L66.41,108.86 L66.66,108.94 L66.98,108.96 L67.36,108.93 L67.77,108.84 L68.22,108.72 L68.67,108.55 L69.12,108.36 L69.55,108.16 L69.95,107.95 L70.30,107.75 L70.59,107.57 L70.80,107.42 L70.95,107.30 L71.01,107.23 L70.99,107.21 L70.90,107.25 L70.73,107.35 L70.50,107.50 L70.22,107.71 L69.90,107.96 L69.56,108.26 L69.22,108.59 L68.88,108.94 L68.56,109.30 L68.28,109.67 L68.06,110.02 L67.90,110.35 L67.81,110.66 L67.80,110.92 L67.87,111.13 L68.01,111.29 L68.24,111.39" fill="none" stroke="#7a7a7a" stroke-width="2.2" stroke-linejoin="round" stroke-linecap="round"/>
<path d="M51.02,86.35 L51.18,86.50 L51.41,86.59 L51.71,86.63 L52.07,86.61 L52.48,86.54 L52.92,86.43 L53.37,86.27 L53.82,86.09 L54.26,85.89 L54.67,85.68 L55.03,85.48 L55.34,85.29 L55.57,85.13 L55.73,85.00 L55.82,84.92 L55.82,84.89 L55.75,84.91 L55.60,84.99 L55.38,85.13 L55.12,85.32 L54.81,85.56 L54.47,85.85 L54.12,86.17 L53.78,86.52 L53.46,86.88 L53.17,87.25 L52.93,87.61 L52.75,87.94 L52.64,88.25 L52.61,88.53 L52.66,88.75 L52.79,88.93 L52.99,89.04 L53.27,89.10 L53.60,89.11 L53.99,89.06 L54.42,88.96 L54.87,88.82 L55.32,88.65 L55.77,88.45 L56.19,88.25 L56.57,88.04 L56.90,87.84 L57.17,87.67 L57.36,87.53 L57.48,87.43 L57.52,87.37 L57.47,87.37 L57.35,87.43 L57.17,87.55 L56.92,87.72 L56.63,87.94 L56.30,88.21 L55.95,88.52 L55.61,88.85 L55.27,89.21 L54.97,89.58 L54.71,89.94 L54.50,90.29 L54.37,90.61 L54.30,90.90 L54.32,91.14 L54.41,91.34 L54.58,91.48 L54.83,91.57 L55.14,91.59 L55.51,91.57 L55.93,91.49 L56.37,91.36 L56.82,91.20 L57.27,91.02 L57.71,90.81 L58.11,90.61 L58.46,90.40 L58.75,90.22 L58.98,90.06 L59.13,89.94 L59.20,89.87 L59.19,89.85 L59.10,89.88 L58.94,89.97 L58.72,90.12 L58.44,90.32 L58.13,90.57 L57.79,90.86 L57.44,91.19 L57.10,91.54 L56.78,91.90 L56.50,92.27 L56.27,92.63 L56.10,92.96 L56.01,93.26 L55.99,93.53 L56.05,93.75 L56.19,93.91 L56.41,94.02 L56.69,94.07 L57.04,94.06 L57.44,94.01 L57.87,93.90 L58.32,93.75 L58.77,93.58 L59.22,93.38 L59.63,93.17 L60.01,92.97 L60.33,92.77 L60.58,92.61 L60.76,92.47 L60.87,92.38 L60.89,92.33 L60.83,92.34 L60.70,92.41 L60.50,92.53 L60.25,92.71 L59.95,92.94 L59.62,93.22 L59.27,93.53 L58.92,93.87 L58.59,94.23 L58.30,94.60 L58.04,94.96 L57.85,95.31 L57.72,95.62 L57.67,95.91 L57.70,96.14 L57.81,96.33 L57.99,96.46 L58.25,96.54 L58.58,96.55 L58.95,96.52 L59.37,96.43 L59.82,96.30 L60.27,96.14 L60.72,95.95 L61.15,95.74 L61.54,95.53 L61.89,95.33 L62.17,95.15 L62.38,95.00 L62.52,94.89 L62.58,94.83 L62.55,94.81 L62.45,94.85 L62.28,94.95 L62.05,95.11 L61.76,95.32 L61.44,95.58 L61.10,95.88 L60.75,96.21 L60.42,96.56 L60.10,96.93 L59.83,97.29 L59.61,97.65 L59.45,97.98 L59.37,98.27 L59.37,98.53 L59.44,98.74 L59.59,98.89 L59.82,98.99 L60.12,99.03 L60.48,99.02 L60.88,98.95 L61.32,98.84 L61.77,98.69 L62.22,98.51 L62.66,98.31 L63.07,98.10 L63.44,97.90 L63.75,97.71 L63.99,97.54 L64.16,97.41 L64.25,97.33 L64.26,97.29 L64.19,97.31 L64.05,97.39 L63.84,97.52 L63.57,97.71 L63.27,97.95 L62.93,98.23 L62.58,98.55 L62.24,98.89 L61.92,99.26 L61.62,99.62 L61.38,99.98 L61.20,100.32 L61.08,100.64 L61.05,100.91 L61.09,101.14 L61.21,101.32 L61.41,101.44 L61.68,101.50 L62.01,101.51 L62.40,101.47 L62.82,101.37 L63.27,101.24 L63.72,101.07 L64.17,100.87 L64.59,100.67 L64.98,100.46 L65.31,100.26 L65.59,100.09 L65.79,99.94 L65.91,99.84 L65.95,99.78 L65.91,99.78 L65.80,99.83 L65.62,99.94 L65.38,100.10 L65.09,100.32 L64.76,100.59 L64.42,100.89 L64.07,101.23 L63.73,101.59 L63.43,101.95 L63.16,102.31 L62.95,102.66 L62.81,102.99 L62.74,103.28 L62.75,103.53 L62.83,103.73 L63.00,103.88 L63.24,103.97 L63.55,104.00 L63.92,103.97 L64.33,103.90 L64.77,103.78 L65.22,103.62 L65.67,103.44 L66.11,103.23 L66.51,103.03 L66.87,102.82 L67.17,102.64 L67.40,102.48 L67.55,102.36 L67.63,102.28 L67.63,102.25 L67.54,102.28 L67.39,102.37 L67.17,102.51 L66.90,102.71 L66.59,102.95 L66.25,103.24 L65.90,103.57 L65.56,103.92 L65.24,104.28 L64.95,104.64 L64.72,105.00 L64.55,105.34 L64.45,105.65 L64.42,105.91 L64.48,106.13 L64.61,106.30 L64.82,106.42 L65.10,106.47 L65.45,106.47 L65.84,106.42 L66.27,106.31 L66.72,106.17 L67.17,106.00 L67.62,105.80 L68.04,105.59 L68.41,105.39 L68.74,105.19 L69.00,105.02 L69.19,104.88 L69.29,104.79 L69.32,104.74 L69.27,104.74 L69.15,104.81 L68.96,104.92 L68.70,105.10 L68.41,105.33 L68.08,105.60 L67.73,105.91 L67.39,106.25 L67.05,106.61 L66.75,106.97 L66.50,107.34 L66.30,107.68 L66.17,108.00 L66.11,108.29 L66.13,108.53 L66.23,108.72 L66.41,108.86 L66.66,108.94 L66.98,108.96 L67.36,108.93 L67.77,108.84 L68.22,108.72 L68.67,108.55 L69.12,108.36 L69.55,108.16 L69.95,107.95 L70.30,107.75 L70.59,107.57 L70.80,107.42 L70.95,107.30 L71.01,107.23 L70.99,107.21 L70.90,107.25 L70.73,107.35 L70.50,107.50 L70.22,107.71 L69.90,107.96 L69.56,108.26 L69.22,108.59 L68.88,108.94 L68.56,109.30 L68.28,109.67 L68.06,110.02 L67.90,110.35 L67.81,110.66 L67.80,110.92 L67.87,111.13 L68.01,111.29 L68.24,111.39" fill="none" stroke="#fff" stroke-width="1.3" stroke-linejoin="round" stroke-linecap="round"/>
<path d="M60.05,88.40 L60.22,88.55 L60.45,88.64 L60.76,88.66 L61.12,88.64 L61.52,88.55 L61.96,88.43 L62.41,88.26 L62.85,88.07 L63.29,87.85 L63.69,87.63 L64.04,87.42 L64.34,87.22 L64.58,87.06 L64.73,86.93 L64.81,86.84 L64.82,86.81 L64.74,86.84 L64.60,86.92 L64.39,87.07 L64.12,87.26 L63.82,87.52 L63.49,87.81 L63.15,88.14 L62.82,88.50 L62.51,88.87 L62.23,89.24 L62.00,89.61 L61.83,89.95 L61.73,90.26 L61.71,90.54 L61.76,90.76 L61.89,90.93 L62.10,91.04 L62.38,91.09 L62.71,91.09 L63.10,91.03 L63.53,90.92 L63.97,90.77 L64.42,90.58 L64.86,90.38 L65.28,90.16 L65.65,89.94 L65.98,89.74 L66.24,89.56 L66.43,89.41 L66.54,89.31 L66.58,89.25 L66.53,89.25 L66.42,89.31 L66.23,89.43 L65.99,89.61 L65.70,89.84 L65.38,90.12 L65.05,90.43 L64.71,90.78 L64.39,91.15 L64.09,91.52 L63.84,91.89 L63.65,92.24 L63.52,92.57 L63.46,92.86 L63.48,93.11 L63.58,93.30 L63.76,93.44 L64.01,93.51 L64.32,93.53 L64.69,93.50 L65.10,93.41 L65.54,93.27 L65.99,93.10 L66.43,92.90 L66.86,92.69 L67.26,92.47 L67.60,92.26 L67.89,92.06 L68.11,91.90 L68.26,91.78 L68.33,91.70 L68.32,91.68 L68.23,91.72 L68.07,91.81 L67.85,91.96 L67.58,92.17 L67.27,92.43 L66.94,92.73 L66.60,93.07 L66.27,93.43 L65.96,93.80 L65.69,94.17 L65.47,94.53 L65.31,94.87 L65.23,95.18 L65.22,95.45 L65.28,95.66 L65.43,95.82 L65.65,95.92 L65.94,95.97 L66.28,95.95 L66.68,95.88 L67.10,95.77 L67.55,95.61 L68.00,95.42 L68.44,95.21 L68.85,94.99 L69.22,94.78 L69.53,94.57 L69.78,94.40 L69.96,94.26 L70.06,94.16 L70.08,94.12 L70.03,94.13 L69.90,94.20 L69.70,94.33 L69.45,94.51 L69.16,94.75 L68.83,95.04 L68.50,95.36 L68.16,95.71 L67.84,96.08 L67.55,96.45 L67.31,96.82 L67.12,97.17 L67.01,97.49 L66.96,97.78 L67.00,98.01 L67.11,98.20 L67.30,98.32 L67.56,98.39 L67.88,98.40 L68.26,98.35 L68.68,98.26 L69.12,98.11 L69.57,97.94 L70.01,97.73 L70.44,97.52 L70.82,97.30 L71.16,97.09 L71.44,96.90 L71.65,96.75 L71.78,96.63 L71.84,96.56 L71.81,96.55 L71.71,96.60 L71.54,96.70 L71.31,96.86 L71.04,97.08 L70.72,97.35 L70.39,97.66 L70.05,98.00 L69.72,98.36 L69.42,98.73 L69.16,99.10 L68.95,99.46 L68.80,99.80 L68.73,100.10 L68.73,100.35 L68.81,100.56 L68.97,100.71 L69.20,100.80 L69.50,100.84 L69.85,100.81 L70.25,100.74 L70.69,100.61 L71.13,100.45 L71.58,100.26 L72.02,100.04 L72.42,99.82 L72.78,99.61 L73.09,99.41 L73.32,99.24 L73.49,99.11 L73.58,99.02 L73.58,98.99 L73.52,99.01 L73.37,99.09 L73.17,99.22 L72.91,99.42 L72.61,99.67 L72.28,99.96 L71.94,100.29 L71.61,100.64 L71.29,101.01 L71.01,101.39 L70.78,101.75 L70.61,102.10 L70.50,102.41 L70.47,102.69 L70.52,102.92 L70.64,103.09 L70.85,103.21 L71.12,103.27 L71.45,103.26 L71.83,103.21 L72.26,103.10 L72.70,102.95 L73.15,102.77 L73.59,102.57 L74.01,102.35 L74.39,102.13 L74.72,101.93 L74.99,101.74 L75.18,101.59 L75.30,101.49 L75.34,101.43 L75.31,101.42 L75.19,101.48 L75.01,101.59 L74.78,101.77 L74.49,101.99 L74.18,102.27 L73.84,102.58 L73.50,102.93 L73.18,103.29 L72.88,103.66 L72.62,104.04 L72.42,104.39 L72.29,104.72 L72.23,105.01 L72.24,105.26 L72.33,105.46 L72.51,105.60 L72.75,105.68 L73.06,105.71 L73.42,105.67 L73.83,105.59 L74.27,105.46 L74.72,105.29 L75.16,105.09 L75.59,104.88 L75.99,104.66 L76.34,104.44 L76.64,104.25 L76.86,104.09 L77.01,103.96 L77.09,103.88 L77.08,103.85 L77.00,103.88 L76.85,103.97 L76.64,104.12 L76.37,104.33 L76.06,104.58 L75.73,104.88 L75.39,105.21 L75.06,105.57 L74.75,105.94 L74.48,106.32 L74.25,106.68 L74.09,107.02 L74.00,107.33 L73.98,107.60 L74.04,107.82 L74.18,107.98 L74.39,108.09 L74.68,108.14 L75.02,108.13 L75.41,108.06 L75.83,107.95 L76.28,107.80 L76.73,107.61 L77.17,107.40 L77.58,107.18 L77.96,106.97 L78.27,106.76 L78.53,106.58 L78.71,106.44 L78.82,106.34 L78.85,106.29 L78.80,106.30 L78.67,106.36 L78.48,106.49 L78.24,106.67 L77.95,106.90 L77.63,107.19 L77.29,107.51 L76.95,107.86 L76.63,108.22 L76.34,108.60 L76.09,108.97 L75.90,109.32 L75.78,109.64 L75.73,109.93 L75.76,110.17 L75.86,110.36 L76.05,110.49 L76.30,110.56 L76.62,110.57 L76.99,110.53 L77.41,110.44 L77.85,110.30 L78.30,110.12 L78.74,109.92 L79.17,109.71 L79.56,109.49 L79.90,109.28 L80.19,109.09 L80.40,108.93 L80.54,108.81 L80.60,108.74 L80.58,108.72 L80.49,108.76 L80.32,108.86 L80.10,109.02 L79.83,109.24 L79.51,109.50 L79.18,109.80 L78.84,110.14 L78.51,110.50 L78.21,110.88 L77.94,111.25 L77.73,111.61 L77.57,111.95 L77.49,112.25 L77.49,112.51 L77.56,112.72 L77.71,112.88 L77.94,112.97 L78.23,113.01 L78.59,112.99 L78.98,112.92 L79.41,112.80 L79.86,112.64 L80.31,112.44" fill="none" stroke="#7a7a7a" stroke-width="2.2" stroke-linejoin="round" stroke-linecap="round"/>
<path d="M60.05,88.40 L60.22,88.55 L60.45,88.64 L60.76,88.66 L61.12,88.64 L61.52,88.55 L61.96,88.43 L62.41,88.26 L62.85,88.07 L63.29,87.85 L63.69,87.63 L64.04,87.42 L64.34,87.22 L64.58,87.06 L64.73,86.93 L64.81,86.84 L64.82,86.81 L64.74,86.84 L64.60,86.92 L64.39,87.07 L64.12,87.26 L63.82,87.52 L63.49,87.81 L63.15,88.14 L62.82,88.50 L62.51,88.87 L62.23,89.24 L62.00,89.61 L61.83,89.95 L61.73,90.26 L61.71,90.54 L61.76,90.76 L61.89,90.93 L62.10,91.04 L62.38,91.09 L62.71,91.09 L63.10,91.03 L63.53,90.92 L63.97,90.77 L64.42,90.58 L64.86,90.38 L65.28,90.16 L65.65,89.94 L65.98,89.74 L66.24,89.56 L66.43,89.41 L66.54,89.31 L66.58,89.25 L66.53,89.25 L66.42,89.31 L66.23,89.43 L65.99,89.61 L65.70,89.84 L65.38,90.12 L65.05,90.43 L64.71,90.78 L64.39,91.15 L64.09,91.52 L63.84,91.89 L63.65,92.24 L63.52,92.57 L63.46,92.86 L63.48,93.11 L63.58,93.30 L63.76,93.44 L64.01,93.51 L64.32,93.53 L64.69,93.50 L65.10,93.41 L65.54,93.27 L65.99,93.10 L66.43,92.90 L66.86,92.69 L67.26,92.47 L67.60,92.26 L67.89,92.06 L68.11,91.90 L68.26,91.78 L68.33,91.70 L68.32,91.68 L68.23,91.72 L68.07,91.81 L67.85,91.96 L67.58,92.17 L67.27,92.43 L66.94,92.73 L66.60,93.07 L66.27,93.43 L65.96,93.80 L65.69,94.17 L65.47,94.53 L65.31,94.87 L65.23,95.18 L65.22,95.45 L65.28,95.66 L65.43,95.82 L65.65,95.92 L65.94,95.97 L66.28,95.95 L66.68,95.88 L67.10,95.77 L67.55,95.61 L68.00,95.42 L68.44,95.21 L68.85,94.99 L69.22,94.78 L69.53,94.57 L69.78,94.40 L69.96,94.26 L70.06,94.16 L70.08,94.12 L70.03,94.13 L69.90,94.20 L69.70,94.33 L69.45,94.51 L69.16,94.75 L68.83,95.04 L68.50,95.36 L68.16,95.71 L67.84,96.08 L67.55,96.45 L67.31,96.82 L67.12,97.17 L67.01,97.49 L66.96,97.78 L67.00,98.01 L67.11,98.20 L67.30,98.32 L67.56,98.39 L67.88,98.40 L68.26,98.35 L68.68,98.26 L69.12,98.11 L69.57,97.94 L70.01,97.73 L70.44,97.52 L70.82,97.30 L71.16,97.09 L71.44,96.90 L71.65,96.75 L71.78,96.63 L71.84,96.56 L71.81,96.55 L71.71,96.60 L71.54,96.70 L71.31,96.86 L71.04,97.08 L70.72,97.35 L70.39,97.66 L70.05,98.00 L69.72,98.36 L69.42,98.73 L69.16,99.10 L68.95,99.46 L68.80,99.80 L68.73,100.10 L68.73,100.35 L68.81,100.56 L68.97,100.71 L69.20,100.80 L69.50,100.84 L69.85,100.81 L70.25,100.74 L70.69,100.61 L71.13,100.45 L71.58,100.26 L72.02,100.04 L72.42,99.82 L72.78,99.61 L73.09,99.41 L73.32,99.24 L73.49,99.11 L73.58,99.02 L73.58,98.99 L73.52,99.01 L73.37,99.09 L73.17,99.22 L72.91,99.42 L72.61,99.67 L72.28,99.96 L71.94,100.29 L71.61,100.64 L71.29,101.01 L71.01,101.39 L70.78,101.75 L70.61,102.10 L70.50,102.41 L70.47,102.69 L70.52,102.92 L70.64,103.09 L70.85,103.21 L71.12,103.27 L71.45,103.26 L71.83,103.21 L72.26,103.10 L72.70,102.95 L73.15,102.77 L73.59,102.57 L74.01,102.35 L74.39,102.13 L74.72,101.93 L74.99,101.74 L75.18,101.59 L75.30,101.49 L75.34,101.43 L75.31,101.42 L75.19,101.48 L75.01,101.59 L74.78,101.77 L74.49,101.99 L74.18,102.27 L73.84,102.58 L73.50,102.93 L73.18,103.29 L72.88,103.66 L72.62,104.04 L72.42,104.39 L72.29,104.72 L72.23,105.01 L72.24,105.26 L72.33,105.46 L72.51,105.60 L72.75,105.68 L73.06,105.71 L73.42,105.67 L73.83,105.59 L74.27,105.46 L74.72,105.29 L75.16,105.09 L75.59,104.88 L75.99,104.66 L76.34,104.44 L76.64,104.25 L76.86,104.09 L77.01,103.96 L77.09,103.88 L77.08,103.85 L77.00,103.88 L76.85,103.97 L76.64,104.12 L76.37,104.33 L76.06,104.58 L75.73,104.88 L75.39,105.21 L75.06,105.57 L74.75,105.94 L74.48,106.32 L74.25,106.68 L74.09,107.02 L74.00,107.33 L73.98,107.60 L74.04,107.82 L74.18,107.98 L74.39,108.09 L74.68,108.14 L75.02,108.13 L75.41,108.06 L75.83,107.95 L76.28,107.80 L76.73,107.61 L77.17,107.40 L77.58,107.18 L77.96,106.97 L78.27,106.76 L78.53,106.58 L78.71,106.44 L78.82,106.34 L78.85,106.29 L78.80,106.30 L78.67,106.36 L78.48,106.49 L78.24,106.67 L77.95,106.90 L77.63,107.19 L77.29,107.51 L76.95,107.86 L76.63,108.22 L76.34,108.60 L76.09,108.97 L75.90,109.32 L75.78,109.64 L75.73,109.93 L75.76,110.17 L75.86,110.36 L76.05,110.49 L76.30,110.56 L76.62,110.57 L76.99,110.53 L77.41,110.44 L77.85,110.30 L78.30,110.12 L78.74,109.92 L79.17,109.71 L79.56,109.49 L79.90,109.28 L80.19,109.09 L80.40,108.93 L80.54,108.81 L80.60,108.74 L80.58,108.72 L80.49,108.76 L80.32,108.86 L80.10,109.02 L79.83,109.24 L79.51,109.50 L79.18,109.80 L78.84,110.14 L78.51,110.50 L78.21,110.88 L77.94,111.25 L77.73,111.61 L77.57,111.95 L77.49,112.25 L77.49,112.51 L77.56,112.72 L77.71,112.88 L77.94,112.97 L78.23,113.01 L78.59,112.99 L78.98,112.92 L79.41,112.80 L79.86,112.64 L80.31,112.44" fill="none" stroke="#fff" stroke-width="1.3" stroke-linejoin="round" stroke-linecap="round"/>
<path d="M64.21,84.89 L64.34,85.07 L64.54,85.20 L64.80,85.30 L65.12,85.35 L65.47,85.36 L65.86,85.34 L66.26,85.28 L66.66,85.19 L67.05,85.09 L67.42,84.97 L67.74,84.85 L68.01,84.73 L68.23,84.62 L68.37,84.53 L68.45,84.47 L68.45,84.44 L68.39,84.45 L68.25,84.50 L68.06,84.59 L67.82,84.72 L67.54,84.89 L67.23,85.09 L66.92,85.33 L66.60,85.59 L66.30,85.87 L66.04,86.17 L65.81,86.46 L65.64,86.75 L65.53,87.02 L65.49,87.27 L65.52,87.49 L65.62,87.68 L65.79,87.84 L66.03,87.95 L66.32,88.02 L66.66,88.04 L67.04,88.03 L67.43,87.99 L67.84,87.92 L68.23,87.82 L68.61,87.70 L68.95,87.58 L69.25,87.46 L69.49,87.35 L69.66,87.25 L69.77,87.18 L69.80,87.13 L69.76,87.13 L69.66,87.16 L69.49,87.23 L69.27,87.34 L69.00,87.50 L68.71,87.69 L68.39,87.91 L68.07,88.16 L67.77,88.44 L67.48,88.73 L67.24,89.02 L67.04,89.31 L66.91,89.59 L66.84,89.85 L66.84,90.09 L66.91,90.29 L67.06,90.46 L67.27,90.59 L67.54,90.68 L67.86,90.72 L68.22,90.73 L68.61,90.70 L69.01,90.63 L69.41,90.54 L69.80,90.44 L70.16,90.32 L70.47,90.19 L70.74,90.08 L70.94,89.97 L71.07,89.89 L71.14,89.83 L71.13,89.81 L71.05,89.82 L70.91,89.88 L70.71,89.97 L70.46,90.11 L70.17,90.29 L69.86,90.50 L69.55,90.74 L69.23,91.01 L68.94,91.29 L68.68,91.58 L68.46,91.87 L68.30,92.16 L68.20,92.43 L68.17,92.68 L68.21,92.90 L68.33,93.08 L68.51,93.22 L68.76,93.33 L69.06,93.39 L69.41,93.41 L69.79,93.40 L70.18,93.35 L70.59,93.27 L70.98,93.17 L71.35,93.05 L71.69,92.93 L71.98,92.81 L72.20,92.70 L72.37,92.60 L72.46,92.53 L72.48,92.50 L72.43,92.49 L72.32,92.53 L72.14,92.61 L71.91,92.73 L71.64,92.89 L71.34,93.09 L71.02,93.32 L70.70,93.58 L70.40,93.85 L70.12,94.14 L69.89,94.44 L69.70,94.73 L69.58,95.00 L69.52,95.26 L69.53,95.49 L69.61,95.69 L69.77,95.85 L69.99,95.97 L70.27,96.05 L70.60,96.09 L70.97,96.09 L71.36,96.05 L71.76,95.99 L72.16,95.89 L72.54,95.78 L72.90,95.66 L73.20,95.54 L73.46,95.42 L73.65,95.32 L73.77,95.24 L73.83,95.19 L73.81,95.17 L73.72,95.19 L73.56,95.26 L73.35,95.36 L73.10,95.50 L72.81,95.69 L72.49,95.90 L72.18,96.15 L71.86,96.42 L71.58,96.70 L71.32,97.00 L71.11,97.29 L70.96,97.57 L70.87,97.84 L70.86,98.08 L70.91,98.30 L71.04,98.47 L71.23,98.61 L71.49,98.71 L71.80,98.76 L72.15,98.78 L72.53,98.76 L72.94,98.70 L73.34,98.62 L73.73,98.51 L74.10,98.40 L74.42,98.27 L74.70,98.15 L74.92,98.04 L75.07,97.96 L75.15,97.89 L75.16,97.86 L75.10,97.86 L74.98,97.91 L74.79,97.99 L74.55,98.12 L74.27,98.29 L73.97,98.49 L73.65,98.73 L73.33,98.99 L73.03,99.27 L72.76,99.56 L72.53,99.85 L72.36,100.14 L72.24,100.41 L72.20,100.67" fill="none" stroke="#7a7a7a" stroke-width="2.1" stroke-linejoin="round" stroke-linecap="round"/>
<path d="M64.21,84.89 L64.34,85.07 L64.54,85.20 L64.80,85.30 L65.12,85.35 L65.47,85.36 L65.86,85.34 L66.26,85.28 L66.66,85.19 L67.05,85.09 L67.42,84.97 L67.74,84.85 L68.01,84.73 L68.23,84.62 L68.37,84.53 L68.45,84.47 L68.45,84.44 L68.39,84.45 L68.25,84.50 L68.06,84.59 L67.82,84.72 L67.54,84.89 L67.23,85.09 L66.92,85.33 L66.60,85.59 L66.30,85.87 L66.04,86.17 L65.81,86.46 L65.64,86.75 L65.53,87.02 L65.49,87.27 L65.52,87.49 L65.62,87.68 L65.79,87.84 L66.03,87.95 L66.32,88.02 L66.66,88.04 L67.04,88.03 L67.43,87.99 L67.84,87.92 L68.23,87.82 L68.61,87.70 L68.95,87.58 L69.25,87.46 L69.49,87.35 L69.66,87.25 L69.77,87.18 L69.80,87.13 L69.76,87.13 L69.66,87.16 L69.49,87.23 L69.27,87.34 L69.00,87.50 L68.71,87.69 L68.39,87.91 L68.07,88.16 L67.77,88.44 L67.48,88.73 L67.24,89.02 L67.04,89.31 L66.91,89.59 L66.84,89.85 L66.84,90.09 L66.91,90.29 L67.06,90.46 L67.27,90.59 L67.54,90.68 L67.86,90.72 L68.22,90.73 L68.61,90.70 L69.01,90.63 L69.41,90.54 L69.80,90.44 L70.16,90.32 L70.47,90.19 L70.74,90.08 L70.94,89.97 L71.07,89.89 L71.14,89.83 L71.13,89.81 L71.05,89.82 L70.91,89.88 L70.71,89.97 L70.46,90.11 L70.17,90.29 L69.86,90.50 L69.55,90.74 L69.23,91.01 L68.94,91.29 L68.68,91.58 L68.46,91.87 L68.30,92.16 L68.20,92.43 L68.17,92.68 L68.21,92.90 L68.33,93.08 L68.51,93.22 L68.76,93.33 L69.06,93.39 L69.41,93.41 L69.79,93.40 L70.18,93.35 L70.59,93.27 L70.98,93.17 L71.35,93.05 L71.69,92.93 L71.98,92.81 L72.20,92.70 L72.37,92.60 L72.46,92.53 L72.48,92.50 L72.43,92.49 L72.32,92.53 L72.14,92.61 L71.91,92.73 L71.64,92.89 L71.34,93.09 L71.02,93.32 L70.70,93.58 L70.40,93.85 L70.12,94.14 L69.89,94.44 L69.70,94.73 L69.58,95.00 L69.52,95.26 L69.53,95.49 L69.61,95.69 L69.77,95.85 L69.99,95.97 L70.27,96.05 L70.60,96.09 L70.97,96.09 L71.36,96.05 L71.76,95.99 L72.16,95.89 L72.54,95.78 L72.90,95.66 L73.20,95.54 L73.46,95.42 L73.65,95.32 L73.77,95.24 L73.83,95.19 L73.81,95.17 L73.72,95.19 L73.56,95.26 L73.35,95.36 L73.10,95.50 L72.81,95.69 L72.49,95.90 L72.18,96.15 L71.86,96.42 L71.58,96.70 L71.32,97.00 L71.11,97.29 L70.96,97.57 L70.87,97.84 L70.86,98.08 L70.91,98.30 L71.04,98.47 L71.23,98.61 L71.49,98.71 L71.80,98.76 L72.15,98.78 L72.53,98.76 L72.94,98.70 L73.34,98.62 L73.73,98.51 L74.10,98.40 L74.42,98.27 L74.70,98.15 L74.92,98.04 L75.07,97.96 L75.15,97.89 L75.16,97.86 L75.10,97.86 L74.98,97.91 L74.79,97.99 L74.55,98.12 L74.27,98.29 L73.97,98.49 L73.65,98.73 L73.33,98.99 L73.03,99.27 L72.76,99.56 L72.53,99.85 L72.36,100.14 L72.24,100.41 L72.20,100.67" fill="none" stroke="#fff" stroke-width="1.2" stroke-linejoin="round" stroke-linecap="round"/>
<path d="M51,104 C55,110 62,114 70,116 C76,118 82,120 88,122 C90,124 92,122 92,119 C91,117 89,118 88,120" fill="none" stroke="#7a7a7a" stroke-width="1.9" stroke-linejoin="round" stroke-linecap="round"/>
<path d="M51,104 C55,110 62,114 70,116 C76,118 82,120 88,122 C90,124 92,122 92,119 C91,117 89,118 88,120" fill="none" stroke="#fff" stroke-width="0.9" stroke-linejoin="round" stroke-linecap="round"/>
<path d="M60,106 C64,112 70,117 78,119 C82,120 85,116 83,114" fill="none" stroke="#7a7a7a" stroke-width="1.9" stroke-linejoin="round" stroke-linecap="round"/>
<path d="M60,106 C64,112 70,117 78,119 C82,120 85,116 83,114" fill="none" stroke="#fff" stroke-width="0.9" stroke-linejoin="round" stroke-linecap="round"/>
<path d="M46,116 C48,112 52,112 54,116 C56,120 54,126 52,130 C50,134 48,136 50,137 C54,138 58,136 60,132 C62,128 60,124 58,122" fill="none" stroke="#7a7a7a" stroke-width="1.9" stroke-linejoin="round" stroke-linecap="round"/>
<path d="M46,116 C48,112 52,112 54,116 C56,120 54,126 52,130 C50,134 48,136 50,137 C54,138 58,136 60,132 C62,128 60,124 58,122" fill="none" stroke="#fff" stroke-width="0.9" stroke-linejoin="round" stroke-linecap="round"/>
<path d="M55,110 C58,114 62,120 66,120 M70,112 C73,116 78,118 82,116 M40,84 C42,82 46,82 48,84 M53,83 C56,80 60,82 62,85" fill="none" stroke="#7a7a7a" stroke-width="1.9" stroke-linejoin="round" stroke-linecap="round"/>
<path d="M55,110 C58,114 62,120 66,120 M70,112 C73,116 78,118 82,116 M40,84 C42,82 46,82 48,84 M53,83 C56,80 60,82 62,85" fill="none" stroke="#fff" stroke-width="0.9" stroke-linejoin="round" stroke-linecap="round"/>
<path d="M48,84 C50,88 48,92 46,94 M78,108 C82,106 86,108 88,112" fill="none" stroke="#7a7a7a" stroke-width="1.9" stroke-linejoin="round" stroke-linecap="round"/>
<path d="M48,84 C50,88 48,92 46,94 M78,108 C82,106 86,108 88,112" fill="none" stroke="#fff" stroke-width="0.9" stroke-linejoin="round" stroke-linecap="round"/>
<text x="0.00" y="112.70" font-size="8.3" text-anchor="start" fill="#000" stroke="#000" stroke-width="0.13"><tspan>Region 3.2</tspan></text>
<line x1="184.40" y1="27.00" x2="184.40" y2="105.60" stroke="#333" stroke-width="1"/>
<text x="145.40" y="39.70" font-size="8" text-anchor="start" fill="#000" stroke="#000" stroke-width="0.13"><tspan>Gem</tspan><tspan dy="-3.04" font-size="5.20">76-145</tspan></text>
<line x1="188.40" y1="35.50" x2="262.00" y2="35.50" stroke="#40b3e2" stroke-width="1"/>
<path d="M260.80,33.90 C260.80,31.40 261.80,30.90 263.30,30.90 L262.95,30.90 C264.35,30.90 265.35,32.90 266.05,36.90 L266.65,36.90 C267.35,32.90 268.35,30.90 269.75,30.90 L274.05,30.90 C275.45,30.90 276.45,32.90 277.15,36.90 L277.75,36.90 C278.45,32.90 279.45,30.90 280.85,30.90 L285.15,30.90 C286.55,30.90 287.55,32.90 288.25,36.90 L288.85,36.90 C289.55,32.90 290.55,30.90 291.95,30.90 L296.25,30.90 C297.65,30.90 298.65,32.90 299.35,36.90 L299.95,36.90 C300.65,32.90 301.65,30.90 303.05,30.90 L307.35,30.90 C308.75,30.90 309.75,32.90 310.45,36.90 L311.05,36.90 C311.75,32.90 312.75,30.90 314.15,30.90 L318.45,30.90 C319.85,30.90 320.85,32.90 321.55,36.90 L322.15,36.90 C322.85,32.90 323.85,30.90 325.25,30.90 L329.55,30.90 C330.95,30.90 331.95,32.90 332.65,36.90 L333.25,36.90 C333.95,32.90 334.95,30.90 336.35,30.90 L340.65,30.90 C342.05,30.90 343.05,32.90 343.75,36.90 L344.35,36.90 C345.05,32.90 346.05,30.90 347.45,30.90 L351.75,30.90 C353.15,30.90 354.15,32.90 354.85,36.90 L355.45,36.90 C356.15,32.90 357.15,30.90 358.55,30.90 L362.85,30.90 C364.25,30.90 365.25,32.90 365.95,36.90 L366.55,36.90 C367.25,32.90 368.25,30.90 369.65,30.90 L373.95,30.90 C375.35,30.90 376.35,32.90 377.05,36.90 L377.65,36.90 C378.35,32.90 379.35,30.90 380.75,30.90 L385.05,30.90 C386.45,30.90 387.45,32.90 388.15,36.90 L388.75,36.90 C389.45,32.90 390.45,30.90 391.85,30.90 L396.15,30.90 C397.55,30.90 398.55,32.90 399.25,36.90 L399.85,36.90 C400.55,32.90 401.55,30.90 402.95,30.90 L407.25,30.90 C408.65,30.90 409.65,32.90 410.35,36.90 L410.95,36.90 C411.65,32.90 412.65,30.90 414.05,30.90 L418.35,30.90 C419.75,30.90 420.75,32.90 421.45,36.90 L422.05,36.90 C422.75,32.90 423.75,30.90 425.15,30.90 L429.45,30.90 C430.85,30.90 431.85,32.90 432.55,36.90 L433.15,36.90 C433.85,32.90 434.85,30.90 436.25,30.90 L433.90,30.90 Q435.40,30.90 435.40,32.90 L435.40,39.50 Q435.40,41.50 433.90,41.50 L430.70,41.50 C429.30,41.50 428.30,39.50 427.60,36.50 L427.00,36.50 C426.30,39.50 425.30,41.50 423.90,41.50 L419.60,41.50 C418.20,41.50 417.20,39.50 416.50,36.50 L415.90,36.50 C415.20,39.50 414.20,41.50 412.80,41.50 L408.50,41.50 C407.10,41.50 406.10,39.50 405.40,36.50 L404.80,36.50 C404.10,39.50 403.10,41.50 401.70,41.50 L397.40,41.50 C396.00,41.50 395.00,39.50 394.30,36.50 L393.70,36.50 C393.00,39.50 392.00,41.50 390.60,41.50 L386.30,41.50 C384.90,41.50 383.90,39.50 383.20,36.50 L382.60,36.50 C381.90,39.50 380.90,41.50 379.50,41.50 L375.20,41.50 C373.80,41.50 372.80,39.50 372.10,36.50 L371.50,36.50 C370.80,39.50 369.80,41.50 368.40,41.50 L364.10,41.50 C362.70,41.50 361.70,39.50 361.00,36.50 L360.40,36.50 C359.70,39.50 358.70,41.50 357.30,41.50 L353.00,41.50 C351.60,41.50 350.60,39.50 349.90,36.50 L349.30,36.50 C348.60,39.50 347.60,41.50 346.20,41.50 L341.90,41.50 C340.50,41.50 339.50,39.50 338.80,36.50 L338.20,36.50 C337.50,39.50 336.50,41.50 335.10,41.50 L330.80,41.50 C329.40,41.50 328.40,39.50 327.70,36.50 L327.10,36.50 C326.40,39.50 325.40,41.50 324.00,41.50 L319.70,41.50 C318.30,41.50 317.30,39.50 316.60,36.50 L316.00,36.50 C315.30,39.50 314.30,41.50 312.90,41.50 L308.60,41.50 C307.20,41.50 306.20,39.50 305.50,36.50 L304.90,36.50 C304.20,39.50 303.20,41.50 301.80,41.50 L297.50,41.50 C296.10,41.50 295.10,39.50 294.40,36.50 L293.80,36.50 C293.10,39.50 292.10,41.50 290.70,41.50 L286.40,41.50 C285.00,41.50 284.00,39.50 283.30,36.50 L282.70,36.50 C282.00,39.50 281.00,41.50 279.60,41.50 L275.30,41.50 C273.90,41.50 272.90,39.50 272.20,36.50 L271.60,36.50 C270.90,39.50 269.90,41.50 268.50,41.50 L263.30,41.50 C261.80,41.50 260.80,41.00 260.80,38.50 Z" fill="#40b3e2" stroke="none" stroke-width="0" filter="url(#bl2)"/>
<path d="M266.95,40.50 L268.95,40.50 L272.95,32.40 L270.95,32.40 Z" fill="#a8e0f5" opacity="0.35" filter="url(#bl2)"/>
<path d="M278.05,40.50 L280.05,40.50 L284.05,32.40 L282.05,32.40 Z" fill="#a8e0f5" opacity="0.35" filter="url(#bl2)"/>
<path d="M289.15,40.50 L291.15,40.50 L295.15,32.40 L293.15,32.40 Z" fill="#a8e0f5" opacity="0.35" filter="url(#bl2)"/>
<path d="M300.25,40.50 L302.25,40.50 L306.25,32.40 L304.25,32.40 Z" fill="#a8e0f5" opacity="0.35" filter="url(#bl2)"/>
<path d="M311.35,40.50 L313.35,40.50 L317.35,32.40 L315.35,32.40 Z" fill="#a8e0f5" opacity="0.35" filter="url(#bl2)"/>
<path d="M322.45,40.50 L324.45,40.50 L328.45,32.40 L326.45,32.40 Z" fill="#a8e0f5" opacity="0.35" filter="url(#bl2)"/>
<path d="M333.55,40.50 L335.55,40.50 L339.55,32.40 L337.55,32.40 Z" fill="#a8e0f5" opacity="0.35" filter="url(#bl2)"/>
<path d="M344.65,40.50 L346.65,40.50 L350.65,32.40 L348.65,32.40 Z" fill="#a8e0f5" opacity="0.35" filter="url(#bl2)"/>
<path d="M355.75,40.50 L357.75,40.50 L361.75,32.40 L359.75,32.40 Z" fill="#a8e0f5" opacity="0.35" filter="url(#bl2)"/>
<path d="M366.85,40.50 L368.85,40.50 L372.85,32.40 L370.85,32.40 Z" fill="#a8e0f5" opacity="0.35" filter="url(#bl2)"/>
<path d="M377.95,40.50 L379.95,40.50 L383.95,32.40 L381.95,32.40 Z" fill="#a8e0f5" opacity="0.35" filter="url(#bl2)"/>
<path d="M389.05,40.50 L391.05,40.50 L395.05,32.40 L393.05,32.40 Z" fill="#a8e0f5" opacity="0.35" filter="url(#bl2)"/>
<path d="M400.15,40.50 L402.15,40.50 L406.15,32.40 L404.15,32.40 Z" fill="#a8e0f5" opacity="0.35" filter="url(#bl2)"/>
<path d="M411.25,40.50 L413.25,40.50 L417.25,32.40 L415.25,32.40 Z" fill="#a8e0f5" opacity="0.35" filter="url(#bl2)"/>
<path d="M422.35,40.50 L424.35,40.50 L428.35,32.40 L426.35,32.40 Z" fill="#a8e0f5" opacity="0.35" filter="url(#bl2)"/>
<text x="145.40" y="69.60" font-size="8" text-anchor="start" fill="#000" stroke="#000" stroke-width="0.13"><tspan>Gem</tspan><tspan dy="-3.04" font-size="5.20">82-145</tspan></text>
<line x1="212.20" y1="68.00" x2="262.00" y2="68.00" stroke="#6cc1b7" stroke-width="1"/>
<path d="M260.80,65.20 C260.80,62.70 261.80,62.20 263.30,62.20 L262.95,62.20 C264.35,62.20 265.35,64.20 266.05,68.20 L266.65,68.20 C267.35,64.20 268.35,62.20 269.75,62.20 L274.05,62.20 C275.45,62.20 276.45,64.20 277.15,68.20 L277.75,68.20 C278.45,64.20 279.45,62.20 280.85,62.20 L285.15,62.20 C286.55,62.20 287.55,64.20 288.25,68.20 L288.85,68.20 C289.55,64.20 290.55,62.20 291.95,62.20 L296.25,62.20 C297.65,62.20 298.65,64.20 299.35,68.20 L299.95,68.20 C300.65,64.20 301.65,62.20 303.05,62.20 L307.35,62.20 C308.75,62.20 309.75,64.20 310.45,68.20 L311.05,68.20 C311.75,64.20 312.75,62.20 314.15,62.20 L318.45,62.20 C319.85,62.20 320.85,64.20 321.55,68.20 L322.15,68.20 C322.85,64.20 323.85,62.20 325.25,62.20 L329.55,62.20 C330.95,62.20 331.95,64.20 332.65,68.20 L333.25,68.20 C333.95,64.20 334.95,62.20 336.35,62.20 L340.65,62.20 C342.05,62.20 343.05,64.20 343.75,68.20 L344.35,68.20 C345.05,64.20 346.05,62.20 347.45,62.20 L351.75,62.20 C353.15,62.20 354.15,64.20 354.85,68.20 L355.45,68.20 C356.15,64.20 357.15,62.20 358.55,62.20 L362.85,62.20 C364.25,62.20 365.25,64.20 365.95,68.20 L366.55,68.20 C367.25,64.20 368.25,62.20 369.65,62.20 L373.95,62.20 C375.35,62.20 376.35,64.20 377.05,68.20 L377.65,68.20 C378.35,64.20 379.35,62.20 380.75,62.20 L385.05,62.20 C386.45,62.20 387.45,64.20 388.15,68.20 L388.75,68.20 C389.45,64.20 390.45,62.20 391.85,62.20 L396.15,62.20 C397.55,62.20 398.55,64.20 399.25,68.20 L399.85,68.20 C400.55,64.20 401.55,62.20 402.95,62.20 L407.25,62.20 C408.65,62.20 409.65,64.20 410.35,68.20 L410.95,68.20 C411.65,64.20 412.65,62.20 414.05,62.20 L418.35,62.20 C419.75,62.20 420.75,64.20 421.45,68.20 L422.05,68.20 C422.75,64.20 423.75,62.20 425.15,62.20 L429.45,62.20 C430.85,62.20 431.85,64.20 432.55,68.20 L433.15,68.20 C433.85,64.20 434.85,62.20 436.25,62.20 L433.90,62.20 Q435.40,62.20 435.40,64.20 L435.40,70.80 Q435.40,72.80 433.90,72.80 L430.70,72.80 C429.30,72.80 428.30,70.80 427.60,67.80 L427.00,67.80 C426.30,70.80 425.30,72.80 423.90,72.80 L419.60,72.80 C418.20,72.80 417.20,70.80 416.50,67.80 L415.90,67.80 C415.20,70.80 414.20,72.80 412.80,72.80 L408.50,72.80 C407.10,72.80 406.10,70.80 405.40,67.80 L404.80,67.80 C404.10,70.80 403.10,72.80 401.70,72.80 L397.40,72.80 C396.00,72.80 395.00,70.80 394.30,67.80 L393.70,67.80 C393.00,70.80 392.00,72.80 390.60,72.80 L386.30,72.80 C384.90,72.80 383.90,70.80 383.20,67.80 L382.60,67.80 C381.90,70.80 380.90,72.80 379.50,72.80 L375.20,72.80 C373.80,72.80 372.80,70.80 372.10,67.80 L371.50,67.80 C370.80,70.80 369.80,72.80 368.40,72.80 L364.10,72.80 C362.70,72.80 361.70,70.80 361.00,67.80 L360.40,67.80 C359.70,70.80 358.70,72.80 357.30,72.80 L353.00,72.80 C351.60,72.80 350.60,70.80 349.90,67.80 L349.30,67.80 C348.60,70.80 347.60,72.80 346.20,72.80 L341.90,72.80 C340.50,72.80 339.50,70.80 338.80,67.80 L338.20,67.80 C337.50,70.80 336.50,72.80 335.10,72.80 L330.80,72.80 C329.40,72.80 328.40,70.80 327.70,67.80 L327.10,67.80 C326.40,70.80 325.40,72.80 324.00,72.80 L319.70,72.80 C318.30,72.80 317.30,70.80 316.60,67.80 L316.00,67.80 C315.30,70.80 314.30,72.80 312.90,72.80 L308.60,72.80 C307.20,72.80 306.20,70.80 305.50,67.80 L304.90,67.80 C304.20,70.80 303.20,72.80 301.80,72.80 L297.50,72.80 C296.10,72.80 295.10,70.80 294.40,67.80 L293.80,67.80 C293.10,70.80 292.10,72.80 290.70,72.80 L286.40,72.80 C285.00,72.80 284.00,70.80 283.30,67.80 L282.70,67.80 C282.00,70.80 281.00,72.80 279.60,72.80 L275.30,72.80 C273.90,72.80 272.90,70.80 272.20,67.80 L271.60,67.80 C270.90,70.80 269.90,72.80 268.50,72.80 L263.30,72.80 C261.80,72.80 260.80,72.30 260.80,69.80 Z" fill="#6cc1b7" stroke="none" stroke-width="0" filter="url(#bl2)"/>
<path d="M266.95,71.80 L268.95,71.80 L272.95,63.70 L270.95,63.70 Z" fill="#b5e3dc" opacity="0.35" filter="url(#bl2)"/>
<path d="M278.05,71.80 L280.05,71.80 L284.05,63.70 L282.05,63.70 Z" fill="#b5e3dc" opacity="0.35" filter="url(#bl2)"/>
<path d="M289.15,71.80 L291.15,71.80 L295.15,63.70 L293.15,63.70 Z" fill="#b5e3dc" opacity="0.35" filter="url(#bl2)"/>
<path d="M300.25,71.80 L302.25,71.80 L306.25,63.70 L304.25,63.70 Z" fill="#b5e3dc" opacity="0.35" filter="url(#bl2)"/>
<path d="M311.35,71.80 L313.35,71.80 L317.35,63.70 L315.35,63.70 Z" fill="#b5e3dc" opacity="0.35" filter="url(#bl2)"/>
<path d="M322.45,71.80 L324.45,71.80 L328.45,63.70 L326.45,63.70 Z" fill="#b5e3dc" opacity="0.35" filter="url(#bl2)"/>
<path d="M333.55,71.80 L335.55,71.80 L339.55,63.70 L337.55,63.70 Z" fill="#b5e3dc" opacity="0.35" filter="url(#bl2)"/>
<path d="M344.65,71.80 L346.65,71.80 L350.65,63.70 L348.65,63.70 Z" fill="#b5e3dc" opacity="0.35" filter="url(#bl2)"/>
<path d="M355.75,71.80 L357.75,71.80 L361.75,63.70 L359.75,63.70 Z" fill="#b5e3dc" opacity="0.35" filter="url(#bl2)"/>
<path d="M366.85,71.80 L368.85,71.80 L372.85,63.70 L370.85,63.70 Z" fill="#b5e3dc" opacity="0.35" filter="url(#bl2)"/>
<path d="M377.95,71.80 L379.95,71.80 L383.95,63.70 L381.95,63.70 Z" fill="#b5e3dc" opacity="0.35" filter="url(#bl2)"/>
<path d="M389.05,71.80 L391.05,71.80 L395.05,63.70 L393.05,63.70 Z" fill="#b5e3dc" opacity="0.35" filter="url(#bl2)"/>
<path d="M400.15,71.80 L402.15,71.80 L406.15,63.70 L404.15,63.70 Z" fill="#b5e3dc" opacity="0.35" filter="url(#bl2)"/>
<path d="M411.25,71.80 L413.25,71.80 L417.25,63.70 L415.25,63.70 Z" fill="#b5e3dc" opacity="0.35" filter="url(#bl2)"/>
<path d="M422.35,71.80 L424.35,71.80 L428.35,63.70 L426.35,63.70 Z" fill="#b5e3dc" opacity="0.35" filter="url(#bl2)"/>
<text x="145.40" y="83.00" font-size="8" text-anchor="start" fill="#000" stroke="#000" stroke-width="0.13"><tspan>Gem</tspan><tspan dy="-3.04" font-size="5.20">90-145</tspan></text>
<line x1="239.80" y1="82.70" x2="262.00" y2="82.70" stroke="#ee8444" stroke-width="1"/>
<path d="M260.80,80.40 C260.80,77.90 261.80,77.40 263.30,77.40 L262.95,77.40 C264.35,77.40 265.35,79.40 266.05,83.40 L266.65,83.40 C267.35,79.40 268.35,77.40 269.75,77.40 L274.05,77.40 C275.45,77.40 276.45,79.40 277.15,83.40 L277.75,83.40 C278.45,79.40 279.45,77.40 280.85,77.40 L285.15,77.40 C286.55,77.40 287.55,79.40 288.25,83.40 L288.85,83.40 C289.55,79.40 290.55,77.40 291.95,77.40 L296.25,77.40 C297.65,77.40 298.65,79.40 299.35,83.40 L299.95,83.40 C300.65,79.40 301.65,77.40 303.05,77.40 L307.35,77.40 C308.75,77.40 309.75,79.40 310.45,83.40 L311.05,83.40 C311.75,79.40 312.75,77.40 314.15,77.40 L318.45,77.40 C319.85,77.40 320.85,79.40 321.55,83.40 L322.15,83.40 C322.85,79.40 323.85,77.40 325.25,77.40 L329.55,77.40 C330.95,77.40 331.95,79.40 332.65,83.40 L333.25,83.40 C333.95,79.40 334.95,77.40 336.35,77.40 L340.65,77.40 C342.05,77.40 343.05,79.40 343.75,83.40 L344.35,83.40 C345.05,79.40 346.05,77.40 347.45,77.40 L351.75,77.40 C353.15,77.40 354.15,79.40 354.85,83.40 L355.45,83.40 C356.15,79.40 357.15,77.40 358.55,77.40 L362.85,77.40 C364.25,77.40 365.25,79.40 365.95,83.40 L366.55,83.40 C367.25,79.40 368.25,77.40 369.65,77.40 L373.95,77.40 C375.35,77.40 376.35,79.40 377.05,83.40 L377.65,83.40 C378.35,79.40 379.35,77.40 380.75,77.40 L385.05,77.40 C386.45,77.40 387.45,79.40 388.15,83.40 L388.75,83.40 C389.45,79.40 390.45,77.40 391.85,77.40 L396.15,77.40 C397.55,77.40 398.55,79.40 399.25,83.40 L399.85,83.40 C400.55,79.40 401.55,77.40 402.95,77.40 L407.25,77.40 C408.65,77.40 409.65,79.40 410.35,83.40 L410.95,83.40 C411.65,79.40 412.65,77.40 414.05,77.40 L418.35,77.40 C419.75,77.40 420.75,79.40 421.45,83.40 L422.05,83.40 C422.75,79.40 423.75,77.40 425.15,77.40 L429.45,77.40 C430.85,77.40 431.85,79.40 432.55,83.40 L433.15,83.40 C433.85,79.40 434.85,77.40 436.25,77.40 L433.90,77.40 Q435.40,77.40 435.40,79.40 L435.40,86.00 Q435.40,88.00 433.90,88.00 L430.70,88.00 C429.30,88.00 428.30,86.00 427.60,83.00 L427.00,83.00 C426.30,86.00 425.30,88.00 423.90,88.00 L419.60,88.00 C418.20,88.00 417.20,86.00 416.50,83.00 L415.90,83.00 C415.20,86.00 414.20,88.00 412.80,88.00 L408.50,88.00 C407.10,88.00 406.10,86.00 405.40,83.00 L404.80,83.00 C404.10,86.00 403.10,88.00 401.70,88.00 L397.40,88.00 C396.00,88.00 395.00,86.00 394.30,83.00 L393.70,83.00 C393.00,86.00 392.00,88.00 390.60,88.00 L386.30,88.00 C384.90,88.00 383.90,86.00 383.20,83.00 L382.60,83.00 C381.90,86.00 380.90,88.00 379.50,88.00 L375.20,88.00 C373.80,88.00 372.80,86.00 372.10,83.00 L371.50,83.00 C370.80,86.00 369.80,88.00 368.40,88.00 L364.10,88.00 C362.70,88.00 361.70,86.00 361.00,83.00 L360.40,83.00 C359.70,86.00 358.70,88.00 357.30,88.00 L353.00,88.00 C351.60,88.00 350.60,86.00 349.90,83.00 L349.30,83.00 C348.60,86.00 347.60,88.00 346.20,88.00 L341.90,88.00 C340.50,88.00 339.50,86.00 338.80,83.00 L338.20,83.00 C337.50,86.00 336.50,88.00 335.10,88.00 L330.80,88.00 C329.40,88.00 328.40,86.00 327.70,83.00 L327.10,83.00 C326.40,86.00 325.40,88.00 324.00,88.00 L319.70,88.00 C318.30,88.00 317.30,86.00 316.60,83.00 L316.00,83.00 C315.30,86.00 314.30,88.00 312.90,88.00 L308.60,88.00 C307.20,88.00 306.20,86.00 305.50,83.00 L304.90,83.00 C304.20,86.00 303.20,88.00 301.80,88.00 L297.50,88.00 C296.10,88.00 295.10,86.00 294.40,83.00 L293.80,83.00 C293.10,86.00 292.10,88.00 290.70,88.00 L286.40,88.00 C285.00,88.00 284.00,86.00 283.30,83.00 L282.70,83.00 C282.00,86.00 281.00,88.00 279.60,88.00 L275.30,88.00 C273.90,88.00 272.90,86.00 272.20,83.00 L271.60,83.00 C270.90,86.00 269.90,88.00 268.50,88.00 L263.30,88.00 C261.80,88.00 260.80,87.50 260.80,85.00 Z" fill="#ee8444" stroke="none" stroke-width="0" filter="url(#bl2)"/>
<path d="M266.95,87.00 L268.95,87.00 L272.95,78.90 L270.95,78.90 Z" fill="#f8c2a0" opacity="0.35" filter="url(#bl2)"/>
<path d="M278.05,87.00 L280.05,87.00 L284.05,78.90 L282.05,78.90 Z" fill="#f8c2a0" opacity="0.35" filter="url(#bl2)"/>
<path d="M289.15,87.00 L291.15,87.00 L295.15,78.90 L293.15,78.90 Z" fill="#f8c2a0" opacity="0.35" filter="url(#bl2)"/>
<path d="M300.25,87.00 L302.25,87.00 L306.25,78.90 L304.25,78.90 Z" fill="#f8c2a0" opacity="0.35" filter="url(#bl2)"/>
<path d="M311.35,87.00 L313.35,87.00 L317.35,78.90 L315.35,78.90 Z" fill="#f8c2a0" opacity="0.35" filter="url(#bl2)"/>
<path d="M322.45,87.00 L324.45,87.00 L328.45,78.90 L326.45,78.90 Z" fill="#f8c2a0" opacity="0.35" filter="url(#bl2)"/>
<path d="M333.55,87.00 L335.55,87.00 L339.55,78.90 L337.55,78.90 Z" fill="#f8c2a0" opacity="0.35" filter="url(#bl2)"/>
<path d="M344.65,87.00 L346.65,87.00 L350.65,78.90 L348.65,78.90 Z" fill="#f8c2a0" opacity="0.35" filter="url(#bl2)"/>
<path d="M355.75,87.00 L357.75,87.00 L361.75,78.90 L359.75,78.90 Z" fill="#f8c2a0" opacity="0.35" filter="url(#bl2)"/>
<path d="M366.85,87.00 L368.85,87.00 L372.85,78.90 L370.85,78.90 Z" fill="#f8c2a0" opacity="0.35" filter="url(#bl2)"/>
<path d="M377.95,87.00 L379.95,87.00 L383.95,78.90 L381.95,78.90 Z" fill="#f8c2a0" opacity="0.35" filter="url(#bl2)"/>
<path d="M389.05,87.00 L391.05,87.00 L395.05,78.90 L393.05,78.90 Z" fill="#f8c2a0" opacity="0.35" filter="url(#bl2)"/>
<path d="M400.15,87.00 L402.15,87.00 L406.15,78.90 L404.15,78.90 Z" fill="#f8c2a0" opacity="0.35" filter="url(#bl2)"/>
<path d="M411.25,87.00 L413.25,87.00 L417.25,78.90 L415.25,78.90 Z" fill="#f8c2a0" opacity="0.35" filter="url(#bl2)"/>
<path d="M422.35,87.00 L424.35,87.00 L428.35,78.90 L426.35,78.90 Z" fill="#f8c2a0" opacity="0.35" filter="url(#bl2)"/>
<text x="145.40" y="97.00" font-size="8" text-anchor="start" fill="#000" stroke="#000" stroke-width="0.13"><tspan>Gem</tspan><tspan dy="-3.04" font-size="5.20">96-145</tspan></text>
<path d="M260.80,95.60 C260.80,93.10 261.80,92.60 263.30,92.60 L262.95,92.60 C264.35,92.60 265.35,94.60 266.05,98.60 L266.65,98.60 C267.35,94.60 268.35,92.60 269.75,92.60 L274.05,92.60 C275.45,92.60 276.45,94.60 277.15,98.60 L277.75,98.60 C278.45,94.60 279.45,92.60 280.85,92.60 L285.15,92.60 C286.55,92.60 287.55,94.60 288.25,98.60 L288.85,98.60 C289.55,94.60 290.55,92.60 291.95,92.60 L296.25,92.60 C297.65,92.60 298.65,94.60 299.35,98.60 L299.95,98.60 C300.65,94.60 301.65,92.60 303.05,92.60 L307.35,92.60 C308.75,92.60 309.75,94.60 310.45,98.60 L311.05,98.60 C311.75,94.60 312.75,92.60 314.15,92.60 L318.45,92.60 C319.85,92.60 320.85,94.60 321.55,98.60 L322.15,98.60 C322.85,94.60 323.85,92.60 325.25,92.60 L329.55,92.60 C330.95,92.60 331.95,94.60 332.65,98.60 L333.25,98.60 C333.95,94.60 334.95,92.60 336.35,92.60 L340.65,92.60 C342.05,92.60 343.05,94.60 343.75,98.60 L344.35,98.60 C345.05,94.60 346.05,92.60 347.45,92.60 L351.75,92.60 C353.15,92.60 354.15,94.60 354.85,98.60 L355.45,98.60 C356.15,94.60 357.15,92.60 358.55,92.60 L362.85,92.60 C364.25,92.60 365.25,94.60 365.95,98.60 L366.55,98.60 C367.25,94.60 368.25,92.60 369.65,92.60 L373.95,92.60 C375.35,92.60 376.35,94.60 377.05,98.60 L377.65,98.60 C378.35,94.60 379.35,92.60 380.75,92.60 L385.05,92.60 C386.45,92.60 387.45,94.60 388.15,98.60 L388.75,98.60 C389.45,94.60 390.45,92.60 391.85,92.60 L396.15,92.60 C397.55,92.60 398.55,94.60 399.25,98.60 L399.85,98.60 C400.55,94.60 401.55,92.60 402.95,92.60 L407.25,92.60 C408.65,92.60 409.65,94.60 410.35,98.60 L410.95,98.60 C411.65,94.60 412.65,92.60 414.05,92.60 L418.35,92.60 C419.75,92.60 420.75,94.60 421.45,98.60 L422.05,98.60 C422.75,94.60 423.75,92.60 425.15,92.60 L429.45,92.60 C430.85,92.60 431.85,94.60 432.55,98.60 L433.15,98.60 C433.85,94.60 434.85,92.60 436.25,92.60 L433.90,92.60 Q435.40,92.60 435.40,94.60 L435.40,101.20 Q435.40,103.20 433.90,103.20 L430.70,103.20 C429.30,103.20 428.30,101.20 427.60,98.20 L427.00,98.20 C426.30,101.20 425.30,103.20 423.90,103.20 L419.60,103.20 C418.20,103.20 417.20,101.20 416.50,98.20 L415.90,98.20 C415.20,101.20 414.20,103.20 412.80,103.20 L408.50,103.20 C407.10,103.20 406.10,101.20 405.40,98.20 L404.80,98.20 C404.10,101.20 403.10,103.20 401.70,103.20 L397.40,103.20 C396.00,103.20 395.00,101.20 394.30,98.20 L393.70,98.20 C393.00,101.20 392.00,103.20 390.60,103.20 L386.30,103.20 C384.90,103.20 383.90,101.20 383.20,98.20 L382.60,98.20 C381.90,101.20 380.90,103.20 379.50,103.20 L375.20,103.20 C373.80,103.20 372.80,101.20 372.10,98.20 L371.50,98.20 C370.80,101.20 369.80,103.20 368.40,103.20 L364.10,103.20 C362.70,103.20 361.70,101.20 361.00,98.20 L360.40,98.20 C359.70,101.20 358.70,103.20 357.30,103.20 L353.00,103.20 C351.60,103.20 350.60,101.20 349.90,98.20 L349.30,98.20 C348.60,101.20 347.60,103.20 346.20,103.20 L341.90,103.20 C340.50,103.20 339.50,101.20 338.80,98.20 L338.20,98.20 C337.50,101.20 336.50,103.20 335.10,103.20 L330.80,103.20 C329.40,103.20 328.40,101.20 327.70,98.20 L327.10,98.20 C326.40,101.20 325.40,103.20 324.00,103.20 L319.70,103.20 C318.30,103.20 317.30,101.20 316.60,98.20 L316.00,98.20 C315.30,101.20 314.30,103.20 312.90,103.20 L308.60,103.20 C307.20,103.20 306.20,101.20 305.50,98.20 L304.90,98.20 C304.20,101.20 303.20,103.20 301.80,103.20 L297.50,103.20 C296.10,103.20 295.10,101.20 294.40,98.20 L293.80,98.20 C293.10,101.20 292.10,103.20 290.70,103.20 L286.40,103.20 C285.00,103.20 284.00,101.20 283.30,98.20 L282.70,98.20 C282.00,101.20 281.00,103.20 279.60,103.20 L275.30,103.20 C273.90,103.20 272.90,101.20 272.20,98.20 L271.60,98.20 C270.90,101.20 269.90,103.20 268.50,103.20 L263.30,103.20 C261.80,103.20 260.80,102.70 260.80,100.20 Z" fill="#e99a9c" stroke="none" stroke-width="0" filter="url(#bl2)"/>
<path d="M266.95,102.20 L268.95,102.20 L272.95,94.10 L270.95,94.10 Z" fill="#f6d0d0" opacity="0.35" filter="url(#bl2)"/>
<path d="M278.05,102.20 L280.05,102.20 L284.05,94.10 L282.05,94.10 Z" fill="#f6d0d0" opacity="0.35" filter="url(#bl2)"/>
<path d="M289.15,102.20 L291.15,102.20 L295.15,94.10 L293.15,94.10 Z" fill="#f6d0d0" opacity="0.35" filter="url(#bl2)"/>
<path d="M300.25,102.20 L302.25,102.20 L306.25,94.10 L304.25,94.10 Z" fill="#f6d0d0" opacity="0.35" filter="url(#bl2)"/>
<path d="M311.35,102.20 L313.35,102.20 L317.35,94.10 L315.35,94.10 Z" fill="#f6d0d0" opacity="0.35" filter="url(#bl2)"/>
<path d="M322.45,102.20 L324.45,102.20 L328.45,94.10 L326.45,94.10 Z" fill="#f6d0d0" opacity="0.35" filter="url(#bl2)"/>
<path d="M333.55,102.20 L335.55,102.20 L339.55,94.10 L337.55,94.10 Z" fill="#f6d0d0" opacity="0.35" filter="url(#bl2)"/>
<path d="M344.65,102.20 L346.65,102.20 L350.65,94.10 L348.65,94.10 Z" fill="#f6d0d0" opacity="0.35" filter="url(#bl2)"/>
<path d="M355.75,102.20 L357.75,102.20 L361.75,94.10 L359.75,94.10 Z" fill="#f6d0d0" opacity="0.35" filter="url(#bl2)"/>
<path d="M366.85,102.20 L368.85,102.20 L372.85,94.10 L370.85,94.10 Z" fill="#f6d0d0" opacity="0.35" filter="url(#bl2)"/>
<path d="M377.95,102.20 L379.95,102.20 L383.95,94.10 L381.95,94.10 Z" fill="#f6d0d0" opacity="0.35" filter="url(#bl2)"/>
<path d="M389.05,102.20 L391.05,102.20 L395.05,94.10 L393.05,94.10 Z" fill="#f6d0d0" opacity="0.35" filter="url(#bl2)"/>
<path d="M400.15,102.20 L402.15,102.20 L406.15,94.10 L404.15,94.10 Z" fill="#f6d0d0" opacity="0.35" filter="url(#bl2)"/>
<path d="M411.25,102.20 L413.25,102.20 L417.25,94.10 L415.25,94.10 Z" fill="#f6d0d0" opacity="0.35" filter="url(#bl2)"/>
<path d="M422.35,102.20 L424.35,102.20 L428.35,94.10 L426.35,94.10 Z" fill="#f6d0d0" opacity="0.35" filter="url(#bl2)"/>
<text x="188.4" y="47.6" font-family="Liberation Mono, monospace" font-size="6.4" textLength="247" lengthAdjust="spacingAndGlyphs" fill="#222">KNLGGVTQESFDLMIKENPSSQYWKEVAEKRRKALYEALKENEKLHKEIEQKDNEIARLKKENKELAEVA</text>
<line x1="188.00" y1="51.70" x2="435.50" y2="51.70" stroke="#444" stroke-width="0.6"/>
<line x1="188.40" y1="51.70" x2="188.40" y2="53.00" stroke="#444" stroke-width="0.5"/>
<text x="188.40" y="56.90" font-size="4.6" text-anchor="middle" fill="#000" stroke="#000" stroke-width="0.078"><tspan>75</tspan></text>
<line x1="206.05" y1="51.70" x2="206.05" y2="53.00" stroke="#444" stroke-width="0.5"/>
<text x="206.05" y="56.90" font-size="4.6" text-anchor="middle" fill="#000" stroke="#000" stroke-width="0.078"><tspan>80</tspan></text>
<line x1="223.70" y1="51.70" x2="223.70" y2="53.00" stroke="#444" stroke-width="0.5"/>
<text x="223.70" y="56.90" font-size="4.6" text-anchor="middle" fill="#000" stroke="#000" stroke-width="0.078"><tspan>85</tspan></text>
<line x1="241.35" y1="51.70" x2="241.35" y2="53.00" stroke="#444" stroke-width="0.5"/>
<text x="241.35" y="56.90" font-size="4.6" text-anchor="middle" fill="#000" stroke="#000" stroke-width="0.078"><tspan>90</tspan></text>
<line x1="259.00" y1="51.70" x2="259.00" y2="53.00" stroke="#444" stroke-width="0.5"/>
<text x="259.00" y="56.90" font-size="4.6" text-anchor="middle" fill="#000" stroke="#000" stroke-width="0.078"><tspan>95</tspan></text>
<line x1="276.65" y1="51.70" x2="276.65" y2="53.00" stroke="#444" stroke-width="0.5"/>
<text x="276.65" y="56.90" font-size="4.6" text-anchor="middle" fill="#000" stroke="#000" stroke-width="0.078"><tspan>100</tspan></text>
<line x1="294.30" y1="51.70" x2="294.30" y2="53.00" stroke="#444" stroke-width="0.5"/>
<text x="294.30" y="56.90" font-size="4.6" text-anchor="middle" fill="#000" stroke="#000" stroke-width="0.078"><tspan>105</tspan></text>
<line x1="311.95" y1="51.70" x2="311.95" y2="53.00" stroke="#444" stroke-width="0.5"/>
<text x="311.95" y="56.90" font-size="4.6" text-anchor="middle" fill="#000" stroke="#000" stroke-width="0.078"><tspan>110</tspan></text>
<line x1="329.60" y1="51.70" x2="329.60" y2="53.00" stroke="#444" stroke-width="0.5"/>
<text x="329.60" y="56.90" font-size="4.6" text-anchor="middle" fill="#000" stroke="#000" stroke-width="0.078"><tspan>115</tspan></text>
<line x1="347.25" y1="51.70" x2="347.25" y2="53.00" stroke="#444" stroke-width="0.5"/>
<text x="347.25" y="56.90" font-size="4.6" text-anchor="middle" fill="#000" stroke="#000" stroke-width="0.078"><tspan>120</tspan></text>
<line x1="364.90" y1="51.70" x2="364.90" y2="53.00" stroke="#444" stroke-width="0.5"/>
<text x="364.90" y="56.90" font-size="4.6" text-anchor="middle" fill="#000" stroke="#000" stroke-width="0.078"><tspan>125</tspan></text>
<line x1="382.55" y1="51.70" x2="382.55" y2="53.00" stroke="#444" stroke-width="0.5"/>
<text x="382.55" y="56.90" font-size="4.6" text-anchor="middle" fill="#000" stroke="#000" stroke-width="0.078"><tspan>130</tspan></text>
<line x1="400.20" y1="51.70" x2="400.20" y2="53.00" stroke="#444" stroke-width="0.5"/>
<text x="400.20" y="56.90" font-size="4.6" text-anchor="middle" fill="#000" stroke="#000" stroke-width="0.078"><tspan>135</tspan></text>
<line x1="417.85" y1="51.70" x2="417.85" y2="53.00" stroke="#444" stroke-width="0.5"/>
<text x="417.85" y="56.90" font-size="4.6" text-anchor="middle" fill="#000" stroke="#000" stroke-width="0.078"><tspan>140</tspan></text>
<line x1="435.50" y1="51.70" x2="435.50" y2="53.00" stroke="#444" stroke-width="0.5"/>
<text x="435.50" y="56.90" font-size="4.6" text-anchor="middle" fill="#000" stroke="#000" stroke-width="0.078"><tspan>145</tspan></text>
<line x1="448.00" y1="10.30" x2="448.00" y2="131.00" stroke="#222" stroke-width="0.9"/>
<line x1="508.70" y1="10.30" x2="508.70" y2="131.00" stroke="#222" stroke-width="0.9"/>
<line x1="573.30" y1="10.30" x2="573.30" y2="131.00" stroke="#222" stroke-width="0.9"/>
<line x1="630.80" y1="10.30" x2="630.80" y2="131.00" stroke="#222" stroke-width="0.9"/>
<line x1="680.00" y1="10.30" x2="680.00" y2="131.00" stroke="#222" stroke-width="0.9"/>
<line x1="448.00" y1="10.30" x2="680.00" y2="10.30" stroke="#222" stroke-width="0.9"/>
<line x1="448.00" y1="30.60" x2="680.00" y2="30.60" stroke="#222" stroke-width="0.9"/>
<line x1="448.00" y1="50.70" x2="680.00" y2="50.70" stroke="#222" stroke-width="0.9"/>
<line x1="448.00" y1="70.70" x2="680.00" y2="70.70" stroke="#222" stroke-width="0.9"/>
<line x1="448.00" y1="90.80" x2="680.00" y2="90.80" stroke="#222" stroke-width="0.9"/>
<line x1="448.00" y1="111.00" x2="680.00" y2="111.00" stroke="#222" stroke-width="0.9"/>
<line x1="448.00" y1="131.00" x2="680.00" y2="131.00" stroke="#222" stroke-width="0.9"/>
<text x="478.35" y="23.35" font-size="8.2" text-anchor="middle" fill="#000" stroke="#000" stroke-width="0.13" font-weight="bold"><tspan>Peptide</tspan></text>
<text x="541.00" y="23.35" font-size="8.2" text-anchor="middle" fill="#000" stroke="#000" stroke-width="0.13" font-weight="bold"><tspan>K</tspan><tspan dy="1.64" font-size="4.92">on</tspan><tspan dy="-1.64"> / 10</tspan><tspan dy="-3.12" font-size="4.92">5</tspan><tspan dy="3.12"> M s</tspan><tspan dy="-3.12" font-size="4.92">-1</tspan></text>
<text x="602.05" y="23.35" font-size="8.2" text-anchor="middle" fill="#000" stroke="#000" stroke-width="0.13" font-weight="bold"><tspan>K</tspan><tspan dy="1.64" font-size="4.92">off</tspan><tspan dy="-1.64"> / 10</tspan><tspan dy="-3.12" font-size="4.92">-3</tspan><tspan dy="3.12"> s</tspan><tspan dy="-3.12" font-size="4.92">-1</tspan></text>
<text x="655.40" y="23.35" font-size="8.2" text-anchor="middle" fill="#000" stroke="#000" stroke-width="0.13" font-weight="bold"><tspan>K</tspan><tspan dy="1.64" font-size="4.92">D</tspan><tspan dy="-1.64"> / nM</tspan></text>
<text x="478.35" y="43.55" font-size="8.0" text-anchor="middle" fill="#111" stroke="#111" stroke-width="0.13"><tspan>Gem</tspan><tspan dy="-3.04" font-size="5.20">FL</tspan></text>
<text x="541.00" y="43.55" font-size="8.0" text-anchor="middle" fill="#111" stroke="#111" stroke-width="0.13"><tspan>1.3 ± 0.7</tspan></text>
<text x="602.05" y="43.55" font-size="8.0" text-anchor="middle" fill="#111" stroke="#111" stroke-width="0.13"><tspan>1.9 ± 1.4</tspan></text>
<text x="655.40" y="43.55" font-size="8.0" text-anchor="middle" fill="#111" stroke="#111" stroke-width="0.13"><tspan>12 ± 3</tspan></text>
<text x="478.35" y="63.60" font-size="8.0" text-anchor="middle" fill="#111" stroke="#111" stroke-width="0.13"><tspan>Gem</tspan><tspan dy="-3.04" font-size="5.20">76-145</tspan></text>
<text x="541.00" y="63.60" font-size="8.0" text-anchor="middle" fill="#111" stroke="#111" stroke-width="0.13"><tspan>5.9 ± 0.2</tspan></text>
<text x="602.05" y="63.60" font-size="8.0" text-anchor="middle" fill="#111" stroke="#111" stroke-width="0.13"><tspan>3.4 ± 0.6</tspan></text>
<text x="655.40" y="63.60" font-size="8.0" text-anchor="middle" fill="#111" stroke="#111" stroke-width="0.13"><tspan>5.7 ± 0.7</tspan></text>
<text x="478.35" y="83.65" font-size="8.0" text-anchor="middle" fill="#111" stroke="#111" stroke-width="0.13"><tspan>Gem</tspan><tspan dy="-3.04" font-size="5.20">82-145</tspan></text>
<text x="541.00" y="83.65" font-size="8.0" text-anchor="middle" fill="#111" stroke="#111" stroke-width="0.13"><tspan>5.6 ± 0.2</tspan></text>
<text x="602.05" y="83.65" font-size="8.0" text-anchor="middle" fill="#111" stroke="#111" stroke-width="0.13"><tspan>3.2 ± 0.3</tspan></text>
<text x="655.40" y="83.65" font-size="8.0" text-anchor="middle" fill="#111" stroke="#111" stroke-width="0.13"><tspan>5.8 ± 0.7</tspan></text>
<text x="478.35" y="103.80" font-size="8.0" text-anchor="middle" fill="#111" stroke="#111" stroke-width="0.13"><tspan>Gem</tspan><tspan dy="-3.04" font-size="5.20">90-145</tspan></text>
<text x="541.00" y="103.80" font-size="8.0" text-anchor="middle" fill="#111" stroke="#111" stroke-width="0.13"><tspan>4 ± 2</tspan></text>
<text x="602.05" y="103.80" font-size="8.0" text-anchor="middle" fill="#111" stroke="#111" stroke-width="0.13"><tspan>45 ± 7</tspan></text>
<text x="655.40" y="103.80" font-size="8.0" text-anchor="middle" fill="#111" stroke="#111" stroke-width="0.13"><tspan>93 ± 16</tspan></text>
<text x="478.35" y="123.90" font-size="8.0" text-anchor="middle" fill="#111" stroke="#111" stroke-width="0.13"><tspan>Gem</tspan><tspan dy="-3.04" font-size="5.20">96-145</tspan></text>
<text x="541.00" y="123.90" font-size="8.0" text-anchor="middle" fill="#111" stroke="#111" stroke-width="0.13"><tspan>8 ± 2</tspan></text>
<text x="602.05" y="123.90" font-size="8.0" text-anchor="middle" fill="#111" stroke="#111" stroke-width="0.13"><tspan>31 ± 9</tspan></text>
<text x="655.40" y="123.90" font-size="8.0" text-anchor="middle" fill="#111" stroke="#111" stroke-width="0.13"><tspan>38 ± 5</tspan></text>
<line x1="66.30" y1="182.10" x2="66.30" y2="257.40" stroke="#333" stroke-width="1"/>
<line x1="65.80" y1="256.90" x2="204.50" y2="256.90" stroke="#555" stroke-width="1.1"/>
<line x1="59.10" y1="256.90" x2="66.30" y2="256.90" stroke="#333" stroke-width="1"/>
<text x="56.80" y="260.10" font-size="9" text-anchor="end" fill="#222" stroke="#222" stroke-width="0.13"><tspan>0</tspan></text>
<line x1="59.10" y1="242.04" x2="66.30" y2="242.04" stroke="#333" stroke-width="1"/>
<text x="56.80" y="245.24" font-size="9" text-anchor="end" fill="#222" stroke="#222" stroke-width="0.13"><tspan>25</tspan></text>
<line x1="59.10" y1="227.18" x2="66.30" y2="227.18" stroke="#333" stroke-width="1"/>
<text x="56.80" y="230.38" font-size="9" text-anchor="end" fill="#222" stroke="#222" stroke-width="0.13"><tspan>50</tspan></text>
<line x1="59.10" y1="212.32" x2="66.30" y2="212.32" stroke="#333" stroke-width="1"/>
<text x="56.80" y="215.52" font-size="9" text-anchor="end" fill="#222" stroke="#222" stroke-width="0.13"><tspan>75</tspan></text>
<line x1="59.10" y1="197.46" x2="66.30" y2="197.46" stroke="#333" stroke-width="1"/>
<text x="56.80" y="200.66" font-size="9" text-anchor="end" fill="#222" stroke="#222" stroke-width="0.13"><tspan>100</tspan></text>
<line x1="59.10" y1="182.60" x2="66.30" y2="182.60" stroke="#333" stroke-width="1"/>
<text x="56.80" y="185.80" font-size="9" text-anchor="end" fill="#222" stroke="#222" stroke-width="0.13"><tspan>125</tspan></text>
<text x="30.20" y="223.50" font-size="9" text-anchor="middle" fill="#222" stroke="#222" stroke-width="0.13" transform="rotate(-90 30.2 223.5)"><tspan>K</tspan><tspan dy="1.80" font-size="5.85">D</tspan><tspan dy="-1.80"> / nM</tspan></text>
<rect x="73.80" y="249.89" width="13.00" height="7.01" fill="#a5bfe0" stroke="#3c70b4" stroke-width="1"/>
<line x1="80.30" y1="256.90" x2="80.30" y2="264.90" stroke="#333" stroke-width="1"/>
<line x1="80.30" y1="246.80" x2="80.30" y2="253.33" stroke="#3c70b4" stroke-width="1.2"/>
<line x1="77.30" y1="246.80" x2="83.30" y2="246.80" stroke="#3c70b4" stroke-width="1.2"/>
<line x1="77.30" y1="253.33" x2="83.30" y2="253.33" stroke="#3c70b4" stroke-width="1.2"/>
<circle cx="75.30" cy="246.62" r="1.75" fill="#3c70b4"/>
<circle cx="85.30" cy="248.40" r="1.75" fill="#3c70b4"/>
<circle cx="80.30" cy="253.93" r="1.75" fill="#3c70b4"/>
<text x="82.90" y="272.00" font-size="9.4" text-anchor="end" fill="#222" stroke="#222" stroke-width="0.13" transform="rotate(-45 82.89999999999999 272.0)"><tspan>Gem</tspan><tspan dy="-3.95" font-size="6.96">FL</tspan></text>
<rect x="101.10" y="253.51" width="13.00" height="3.39" fill="#55c8f2" stroke="#1aa6df" stroke-width="1"/>
<line x1="107.60" y1="256.90" x2="107.60" y2="264.90" stroke="#333" stroke-width="1"/>
<line x1="107.60" y1="252.74" x2="107.60" y2="254.23" stroke="#1aa6df" stroke-width="1.2"/>
<line x1="104.60" y1="252.74" x2="110.60" y2="252.74" stroke="#1aa6df" stroke-width="1.2"/>
<line x1="104.60" y1="254.23" x2="110.60" y2="254.23" stroke="#1aa6df" stroke-width="1.2"/>
<circle cx="105.00" cy="252.74" r="1.75" fill="#1aa6df"/>
<circle cx="107.60" cy="253.93" r="1.75" fill="#1aa6df"/>
<circle cx="110.20" cy="253.93" r="1.75" fill="#1aa6df"/>
<text x="110.20" y="272.00" font-size="9.4" text-anchor="end" fill="#222" stroke="#222" stroke-width="0.13" transform="rotate(-45 110.19999999999999 272.0)"><tspan>Gem</tspan><tspan dy="-3.95" font-size="6.96">76-145</tspan></text>
<rect x="128.70" y="253.45" width="13.00" height="3.45" fill="#a9dcdd" stroke="#58b9bd" stroke-width="1"/>
<line x1="135.20" y1="256.90" x2="135.20" y2="264.90" stroke="#333" stroke-width="1"/>
<line x1="135.20" y1="252.74" x2="135.20" y2="254.05" stroke="#58b9bd" stroke-width="1.2"/>
<line x1="132.20" y1="252.74" x2="138.20" y2="252.74" stroke="#58b9bd" stroke-width="1.2"/>
<line x1="132.20" y1="254.05" x2="138.20" y2="254.05" stroke="#58b9bd" stroke-width="1.2"/>
<circle cx="132.60" cy="252.74" r="1.75" fill="#58b9bd"/>
<circle cx="135.20" cy="253.93" r="1.75" fill="#58b9bd"/>
<circle cx="137.80" cy="253.63" r="1.75" fill="#58b9bd"/>
<text x="137.80" y="272.00" font-size="9.4" text-anchor="end" fill="#222" stroke="#222" stroke-width="0.13" transform="rotate(-45 137.79999999999998 272.0)"><tspan>Gem</tspan><tspan dy="-3.95" font-size="6.96">82-145</tspan></text>
<rect x="155.90" y="201.62" width="13.00" height="55.28" fill="#fcd6c0" stroke="#f08232" stroke-width="1"/>
<line x1="162.40" y1="256.90" x2="162.40" y2="264.90" stroke="#333" stroke-width="1"/>
<line x1="162.40" y1="183.49" x2="162.40" y2="219.75" stroke="#f08232" stroke-width="1.2"/>
<line x1="159.40" y1="183.49" x2="165.40" y2="183.49" stroke="#f08232" stroke-width="1.2"/>
<line x1="159.40" y1="219.75" x2="165.40" y2="219.75" stroke="#f08232" stroke-width="1.2"/>
<circle cx="162.40" cy="189.73" r="1.75" fill="#f7b592"/>
<circle cx="162.40" cy="201.62" r="1.75" fill="#f7b592"/>
<circle cx="162.40" cy="226.59" r="1.75" fill="#f7b592"/>
<text x="165.00" y="272.00" font-size="9.4" text-anchor="end" fill="#222" stroke="#222" stroke-width="0.13" transform="rotate(-45 165.0 272.0)"><tspan>Gem</tspan><tspan dy="-3.95" font-size="6.96">90-145</tspan></text>
<rect x="183.80" y="234.31" width="13.00" height="22.59" fill="#fcc6c6" stroke="#ec4a4a" stroke-width="1"/>
<line x1="190.30" y1="256.90" x2="190.30" y2="264.90" stroke="#333" stroke-width="1"/>
<line x1="190.30" y1="229.56" x2="190.30" y2="239.07" stroke="#ec4a4a" stroke-width="1.2"/>
<line x1="187.30" y1="229.56" x2="193.30" y2="229.56" stroke="#ec4a4a" stroke-width="1.2"/>
<line x1="187.30" y1="239.07" x2="193.30" y2="239.07" stroke="#ec4a4a" stroke-width="1.2"/>
<circle cx="190.30" cy="230.15" r="1.75" fill="#ec4a4a"/>
<circle cx="190.30" cy="234.31" r="1.75" fill="#ec4a4a"/>
<circle cx="190.30" cy="238.47" r="1.75" fill="#ec4a4a"/>
<text x="192.90" y="272.00" font-size="9.4" text-anchor="end" fill="#222" stroke="#222" stroke-width="0.13" transform="rotate(-45 192.9 272.0)"><tspan>Gem</tspan><tspan dy="-3.95" font-size="6.96">96-145</tspan></text>
<rect x="242.90" y="218.00" width="17.90" height="67.30" fill="#ebebeb"/>
<rect x="271.80" y="218.00" width="118.40" height="66.50" fill="#e8e8e8"/>
<text x="221.00" y="214.50" font-size="6.6" text-anchor="start" fill="#000" stroke="#000" stroke-width="0.13"><tspan>kDa</tspan></text>
<text x="234.30" y="227.80" font-size="6.6" text-anchor="end" fill="#000" stroke="#000" stroke-width="0.13"><tspan>250</tspan></text>
<line x1="235.00" y1="225.50" x2="242.60" y2="225.50" stroke="#000" stroke-width="1"/>
<text x="234.30" y="247.10" font-size="6.6" text-anchor="end" fill="#000" stroke="#000" stroke-width="0.13"><tspan>130</tspan></text>
<line x1="235.00" y1="244.80" x2="242.60" y2="244.80" stroke="#000" stroke-width="1"/>
<text x="234.30" y="271.10" font-size="6.6" text-anchor="end" fill="#000" stroke="#000" stroke-width="0.13"><tspan>100</tspan></text>
<line x1="235.00" y1="268.80" x2="242.60" y2="268.80" stroke="#000" stroke-width="1"/>
<rect x="245.05" y="244.45" width="13.50" height="2.30" rx="0.8" fill="#1a1a1a" opacity="0.78" filter="url(#bl)"/>
<rect x="245.05" y="251.85" width="13.50" height="2.30" rx="0.8" fill="#1a1a1a" opacity="0.90" filter="url(#bl)"/>
<rect x="245.05" y="256.75" width="13.50" height="2.30" rx="0.8" fill="#1a1a1a" opacity="0.85" filter="url(#bl)"/>
<rect x="245.05" y="266.65" width="13.50" height="2.30" rx="0.8" fill="#1a1a1a" opacity="0.50" filter="url(#bl)"/>
<rect x="245.05" y="270.45" width="13.50" height="2.30" rx="0.8" fill="#1a1a1a" opacity="0.65" filter="url(#bl)"/>
<rect x="275.35" y="244.60" width="12.50" height="2.00" rx="0.8" fill="#1a1a1a" opacity="0.42" filter="url(#bl)"/>
<rect x="275.35" y="252.00" width="12.50" height="2.00" rx="0.8" fill="#1a1a1a" opacity="0.45" filter="url(#bl)"/>
<rect x="275.35" y="256.90" width="12.50" height="2.00" rx="0.8" fill="#1a1a1a" opacity="0.42" filter="url(#bl)"/>
<rect x="275.35" y="266.80" width="12.50" height="2.00" rx="0.8" fill="#1a1a1a" opacity="0.42" filter="url(#bl)"/>
<rect x="275.35" y="270.60" width="12.50" height="2.00" rx="0.8" fill="#1a1a1a" opacity="0.26" filter="url(#bl)"/>
<rect x="294.55" y="244.60" width="12.50" height="2.00" rx="0.8" fill="#1a1a1a" opacity="0.03" filter="url(#bl)"/>
<rect x="294.55" y="252.00" width="12.50" height="2.00" rx="0.8" fill="#1a1a1a" opacity="0.03" filter="url(#bl)"/>
<rect x="294.55" y="256.90" width="12.50" height="2.00" rx="0.8" fill="#1a1a1a" opacity="0.09" filter="url(#bl)"/>
<rect x="294.55" y="266.80" width="12.50" height="2.00" rx="0.8" fill="#1a1a1a" opacity="0.03" filter="url(#bl)"/>
<rect x="294.55" y="270.60" width="12.50" height="2.00" rx="0.8" fill="#1a1a1a" opacity="0.02" filter="url(#bl)"/>
<rect x="313.65" y="244.60" width="12.50" height="2.00" rx="0.8" fill="#1a1a1a" opacity="0.04" filter="url(#bl)"/>
<rect x="313.65" y="252.00" width="12.50" height="2.00" rx="0.8" fill="#1a1a1a" opacity="0.06" filter="url(#bl)"/>
<rect x="313.65" y="256.90" width="12.50" height="2.00" rx="0.8" fill="#1a1a1a" opacity="0.12" filter="url(#bl)"/>
<rect x="313.65" y="266.80" width="12.50" height="2.00" rx="0.8" fill="#1a1a1a" opacity="0.06" filter="url(#bl)"/>
<rect x="313.65" y="270.60" width="12.50" height="2.00" rx="0.8" fill="#1a1a1a" opacity="0.04" filter="url(#bl)"/>
<rect x="332.75" y="244.60" width="12.50" height="2.00" rx="0.8" fill="#1a1a1a" opacity="0.04" filter="url(#bl)"/>
<rect x="332.75" y="252.00" width="12.50" height="2.00" rx="0.8" fill="#1a1a1a" opacity="0.08" filter="url(#bl)"/>
<rect x="332.75" y="256.90" width="12.50" height="2.00" rx="0.8" fill="#1a1a1a" opacity="0.12" filter="url(#bl)"/>
<rect x="332.75" y="266.80" width="12.50" height="2.00" rx="0.8" fill="#1a1a1a" opacity="0.05" filter="url(#bl)"/>
<rect x="332.75" y="270.60" width="12.50" height="2.00" rx="0.8" fill="#1a1a1a" opacity="0.03" filter="url(#bl)"/>
<rect x="351.85" y="244.60" width="12.50" height="2.00" rx="0.8" fill="#1a1a1a" opacity="0.30" filter="url(#bl)"/>
<rect x="351.85" y="252.00" width="12.50" height="2.00" rx="0.8" fill="#1a1a1a" opacity="0.50" filter="url(#bl)"/>
<rect x="351.85" y="256.90" width="12.50" height="2.00" rx="0.8" fill="#1a1a1a" opacity="0.45" filter="url(#bl)"/>
<rect x="351.85" y="266.80" width="12.50" height="2.00" rx="0.8" fill="#1a1a1a" opacity="0.36" filter="url(#bl)"/>
<rect x="351.85" y="270.60" width="12.50" height="2.00" rx="0.8" fill="#1a1a1a" opacity="0.26" filter="url(#bl)"/>
<rect x="371.15" y="244.60" width="12.50" height="2.00" rx="0.8" fill="#1a1a1a" opacity="0.30" filter="url(#bl)"/>
<rect x="371.15" y="252.00" width="12.50" height="2.00" rx="0.8" fill="#1a1a1a" opacity="0.55" filter="url(#bl)"/>
<rect x="371.15" y="256.90" width="12.50" height="2.00" rx="0.8" fill="#1a1a1a" opacity="0.45" filter="url(#bl)"/>
<rect x="371.15" y="266.80" width="12.50" height="2.00" rx="0.8" fill="#1a1a1a" opacity="0.36" filter="url(#bl)"/>
<rect x="371.15" y="270.60" width="12.50" height="2.00" rx="0.8" fill="#1a1a1a" opacity="0.28" filter="url(#bl)"/>
<line x1="271.00" y1="160.50" x2="390.20" y2="160.50" stroke="#000" stroke-width="1.1"/>
<text x="331.20" y="155.40" font-size="9.4" text-anchor="middle" fill="#000" stroke="#000" stroke-width="0.13"><tspan>HS</tspan></text>
<text x="255.00" y="214.50" font-size="9.6" text-anchor="start" fill="#000" stroke="#000" stroke-width="0.13" transform="rotate(-90 255.0 214.5)"><tspan>MCM2-7 Input</tspan></text>
<text x="283.60" y="214.50" font-size="9.4" text-anchor="start" fill="#000" stroke="#000" stroke-width="0.13" transform="rotate(-90 283.6 214.5)"><tspan>Pre-RC</tspan></text>
<text x="302.80" y="214.50" font-size="9.4" text-anchor="start" fill="#000" stroke="#000" stroke-width="0.13" transform="rotate(-90 302.8 214.5)"><tspan>+ Gem</tspan><tspan dy="-3.95" font-size="6.58">FL</tspan></text>
<text x="321.90" y="214.50" font-size="9.4" text-anchor="start" fill="#000" stroke="#000" stroke-width="0.13" transform="rotate(-90 321.9 214.5)"><tspan>+ Gem</tspan><tspan dy="-3.95" font-size="6.58">76-145</tspan></text>
<text x="341.00" y="214.50" font-size="9.4" text-anchor="start" fill="#000" stroke="#000" stroke-width="0.13" transform="rotate(-90 341.0 214.5)"><tspan>+ Gem</tspan><tspan dy="-3.95" font-size="6.58">82-145</tspan></text>
<text x="360.10" y="214.50" font-size="9.4" text-anchor="start" fill="#000" stroke="#000" stroke-width="0.13" transform="rotate(-90 360.1 214.5)"><tspan>+ Gem</tspan><tspan dy="-3.95" font-size="6.58">90-145</tspan></text>
<text x="379.40" y="214.50" font-size="9.4" text-anchor="start" fill="#000" stroke="#000" stroke-width="0.13" transform="rotate(-90 379.4 214.5)"><tspan>+ Gem</tspan><tspan dy="-3.95" font-size="6.58">96-145</tspan></text>
<text x="281.60" y="290.50" font-size="6.6" text-anchor="middle" fill="#000" stroke="#000" stroke-width="0.13"><tspan>1</tspan></text>
<text x="300.80" y="290.50" font-size="6.6" text-anchor="middle" fill="#000" stroke="#000" stroke-width="0.13"><tspan>2</tspan></text>
<text x="319.90" y="290.50" font-size="6.6" text-anchor="middle" fill="#000" stroke="#000" stroke-width="0.13"><tspan>3</tspan></text>
<text x="339.00" y="290.50" font-size="6.6" text-anchor="middle" fill="#000" stroke="#000" stroke-width="0.13"><tspan>4</tspan></text>
<text x="358.10" y="290.50" font-size="6.6" text-anchor="middle" fill="#000" stroke="#000" stroke-width="0.13"><tspan>5</tspan></text>
<text x="377.40" y="290.50" font-size="6.6" text-anchor="middle" fill="#000" stroke="#000" stroke-width="0.13"><tspan>6</tspan></text>
<text x="399.60" y="248.40" font-size="6.8" text-anchor="start" fill="#000" stroke="#000" stroke-width="0.13"><tspan>MCM2</tspan></text>
<line x1="391.00" y1="246.00" x2="398.00" y2="246.00" stroke="#000" stroke-width="0.9"/>
<text x="399.60" y="256.60" font-size="6.8" text-anchor="start" fill="#000" stroke="#000" stroke-width="0.13"><tspan>MCM4/3</tspan></text>
<line x1="391.00" y1="253.90" x2="398.00" y2="253.90" stroke="#000" stroke-width="0.9"/>
<text x="399.60" y="263.80" font-size="6.8" text-anchor="start" fill="#000" stroke="#000" stroke-width="0.13"><tspan>MCM6</tspan></text>
<line x1="392.00" y1="257.80" x2="398.00" y2="261.80" stroke="#000" stroke-width="0.9"/>
<text x="399.60" y="272.40" font-size="6.8" text-anchor="start" fill="#000" stroke="#000" stroke-width="0.13"><tspan>MCM5</tspan></text>
<line x1="391.00" y1="268.20" x2="398.00" y2="268.20" stroke="#000" stroke-width="0.9"/>
<text x="399.60" y="278.70" font-size="6.8" text-anchor="start" fill="#000" stroke="#000" stroke-width="0.13"><tspan>MCM7</tspan></text>
<line x1="392.00" y1="272.20" x2="398.00" y2="276.30" stroke="#000" stroke-width="0.9"/>
<line x1="494.00" y1="176.70" x2="494.00" y2="259.90" stroke="#555" stroke-width="1"/>
<line x1="493.50" y1="259.40" x2="645.80" y2="259.40" stroke="#555" stroke-width="1.1"/>
<line x1="486.20" y1="259.40" x2="494.00" y2="259.40" stroke="#444" stroke-width="1"/>
<text x="483.60" y="262.70" font-size="9.3" text-anchor="end" fill="#000" stroke="#000" stroke-width="0.13"><tspan>0</tspan></text>
<line x1="486.20" y1="232.00" x2="494.00" y2="232.00" stroke="#444" stroke-width="1"/>
<text x="483.60" y="235.30" font-size="9.3" text-anchor="end" fill="#000" stroke="#000" stroke-width="0.13"><tspan>50</tspan></text>
<line x1="486.20" y1="204.60" x2="494.00" y2="204.60" stroke="#444" stroke-width="1"/>
<text x="483.60" y="207.90" font-size="9.3" text-anchor="end" fill="#000" stroke="#000" stroke-width="0.13"><tspan>100</tspan></text>
<line x1="486.20" y1="177.20" x2="494.00" y2="177.20" stroke="#444" stroke-width="1"/>
<text x="483.60" y="180.50" font-size="9.3" text-anchor="end" fill="#000" stroke="#000" stroke-width="0.13"><tspan>150</tspan></text>
<text x="451.20" y="222.60" font-size="9.2" text-anchor="middle" fill="#000" stroke="#000" stroke-width="0.13" transform="rotate(-90 451.2 222.6)"><tspan>Normalised HS MCM loading</tspan></text>
<line x1="494.00" y1="204.60" x2="654.00" y2="204.60" stroke="#000" stroke-width="0.9" stroke-dasharray="0.9,0.9"/>
<text x="654.80" y="207.80" font-size="9.2" text-anchor="start" fill="#000" stroke="#000" stroke-width="0.13"><tspan>Pre-RC</tspan></text>
<line x1="508.90" y1="259.40" x2="508.90" y2="266.50" stroke="#444" stroke-width="1"/>
<text x="510.90" y="277.00" font-size="9.2" text-anchor="end" fill="#000" stroke="#000" stroke-width="0.13" transform="rotate(-45 510.9 277.0)"><tspan>Gem</tspan><tspan dy="-3.86" font-size="6.81">FL</tspan></text>
<line x1="539.90" y1="259.40" x2="539.90" y2="266.50" stroke="#444" stroke-width="1"/>
<text x="541.90" y="277.00" font-size="9.2" text-anchor="end" fill="#000" stroke="#000" stroke-width="0.13" transform="rotate(-45 541.9 277.0)"><tspan>Gem</tspan><tspan dy="-3.86" font-size="6.81">76-145</tspan></text>
<line x1="570.10" y1="259.40" x2="570.10" y2="266.50" stroke="#444" stroke-width="1"/>
<text x="572.10" y="277.00" font-size="9.2" text-anchor="end" fill="#000" stroke="#000" stroke-width="0.13" transform="rotate(-45 572.1 277.0)"><tspan>Gem</tspan><tspan dy="-3.86" font-size="6.81">82-145</tspan></text>
<line x1="600.30" y1="259.40" x2="600.30" y2="266.50" stroke="#444" stroke-width="1"/>
<text x="602.30" y="277.00" font-size="9.2" text-anchor="end" fill="#000" stroke="#000" stroke-width="0.13" transform="rotate(-45 602.3 277.0)"><tspan>Gem</tspan><tspan dy="-3.86" font-size="6.81">90-145</tspan></text>
<line x1="631.10" y1="259.40" x2="631.10" y2="266.50" stroke="#444" stroke-width="1"/>
<text x="633.10" y="277.00" font-size="9.2" text-anchor="end" fill="#000" stroke="#000" stroke-width="0.13" transform="rotate(-45 633.1 277.0)"><tspan>Gem</tspan><tspan dy="-3.86" font-size="6.81">96-145</tspan></text>
<polygon points="503.57,157.40 504.28,158.43 505.48,158.78 504.72,159.77 504.75,161.02 503.57,160.60 502.40,161.02 502.43,159.77 501.67,158.78 502.87,158.43" fill="#000"/>
<polygon points="507.12,157.40 507.83,158.43 509.03,158.78 508.27,159.77 508.30,161.02 507.12,160.60 505.95,161.02 505.98,159.77 505.22,158.78 506.42,158.43" fill="#000"/>
<polygon points="510.67,157.40 511.38,158.43 512.58,158.78 511.82,159.77 511.85,161.02 510.67,160.60 509.50,161.02 509.53,159.77 508.77,158.78 509.97,158.43" fill="#000"/>
<polygon points="514.23,157.40 514.93,158.43 516.13,158.78 515.37,159.77 515.40,161.02 514.23,160.60 513.05,161.02 513.08,159.77 512.32,158.78 513.52,158.43" fill="#000"/>
<polygon points="534.57,157.40 535.28,158.43 536.48,158.78 535.72,159.77 535.75,161.02 534.57,160.60 533.40,161.02 533.43,159.77 532.67,158.78 533.87,158.43" fill="#000"/>
<polygon points="538.12,157.40 538.83,158.43 540.03,158.78 539.27,159.77 539.30,161.02 538.12,160.60 536.95,161.02 536.98,159.77 536.22,158.78 537.42,158.43" fill="#000"/>
<polygon points="541.67,157.40 542.38,158.43 543.58,158.78 542.82,159.77 542.85,161.02 541.67,160.60 540.50,161.02 540.53,159.77 539.77,158.78 540.97,158.43" fill="#000"/>
<polygon points="545.23,157.40 545.93,158.43 547.13,158.78 546.37,159.77 546.40,161.02 545.23,160.60 544.05,161.02 544.08,159.77 543.32,158.78 544.52,158.43" fill="#000"/>
<polygon points="564.77,157.40 565.48,158.43 566.68,158.78 565.92,159.77 565.95,161.02 564.77,160.60 563.60,161.02 563.63,159.77 562.87,158.78 564.07,158.43" fill="#000"/>
<polygon points="568.33,157.40 569.03,158.43 570.23,158.78 569.47,159.77 569.50,161.02 568.33,160.60 567.15,161.02 567.18,159.77 566.42,158.78 567.62,158.43" fill="#000"/>
<polygon points="571.88,157.40 572.58,158.43 573.78,158.78 573.02,159.77 573.05,161.02 571.88,160.60 570.70,161.02 570.73,159.77 569.97,158.78 571.17,158.43" fill="#000"/>
<polygon points="575.43,157.40 576.13,158.43 577.33,158.78 576.57,159.77 576.60,161.02 575.43,160.60 574.25,161.02 574.28,159.77 573.52,158.78 574.72,158.43" fill="#000"/>
<text x="600.30" y="160.50" font-size="9" text-anchor="middle" fill="#000" stroke="#000" stroke-width="0.13"><tspan>ns</tspan></text>
<text x="631.10" y="160.50" font-size="9" text-anchor="middle" fill="#000" stroke="#000" stroke-width="0.13"><tspan>ns</tspan></text>
<text x="508.90" y="176.60" font-size="6.4" text-anchor="middle" fill="#000" stroke="#000" stroke-width="0.13"><tspan>n=11</tspan></text>
<text x="539.90" y="176.60" font-size="6.4" text-anchor="middle" fill="#000" stroke="#000" stroke-width="0.13"><tspan>n=8</tspan></text>
<text x="570.10" y="176.60" font-size="6.4" text-anchor="middle" fill="#000" stroke="#000" stroke-width="0.13"><tspan>n=4</tspan></text>
<text x="600.30" y="176.60" font-size="6.4" text-anchor="middle" fill="#000" stroke="#000" stroke-width="0.13"><tspan>n=4</tspan></text>
<text x="631.10" y="176.60" font-size="6.4" text-anchor="middle" fill="#000" stroke="#000" stroke-width="0.13"><tspan>n=7</tspan></text>
<circle cx="508.90" cy="245.70" r="1.75" fill="#2e5d9c"/>
<circle cx="509.90" cy="251.18" r="1.75" fill="#2e5d9c"/>
<circle cx="507.90" cy="253.37" r="1.75" fill="#2e5d9c"/>
<circle cx="503.40" cy="255.02" r="1.75" fill="#2e5d9c"/>
<circle cx="514.40" cy="255.02" r="1.75" fill="#2e5d9c"/>
<circle cx="505.40" cy="255.56" r="1.75" fill="#2e5d9c"/>
<circle cx="512.40" cy="255.56" r="1.75" fill="#2e5d9c"/>
<circle cx="507.40" cy="256.11" r="1.75" fill="#2e5d9c"/>
<circle cx="510.40" cy="256.11" r="1.75" fill="#2e5d9c"/>
<circle cx="503.90" cy="256.66" r="1.75" fill="#2e5d9c"/>
<circle cx="513.90" cy="257.21" r="1.75" fill="#2e5d9c"/>
<line x1="508.90" y1="250.63" x2="508.90" y2="256.93" stroke="#2e5d9c" stroke-width="1.2"/>
<line x1="505.60" y1="250.63" x2="512.20" y2="250.63" stroke="#2e5d9c" stroke-width="1.2"/>
<line x1="505.60" y1="256.93" x2="512.20" y2="256.93" stroke="#2e5d9c" stroke-width="1.2"/>
<line x1="502.10" y1="253.92" x2="515.70" y2="253.92" stroke="#2e5d9c" stroke-width="1.3"/>
<circle cx="539.90" cy="237.70" r="1.75" fill="#22bdf2"/>
<circle cx="539.90" cy="242.41" r="1.75" fill="#22bdf2"/>
<circle cx="534.90" cy="245.15" r="1.75" fill="#22bdf2"/>
<circle cx="544.90" cy="245.15" r="1.75" fill="#22bdf2"/>
<circle cx="537.40" cy="245.70" r="1.75" fill="#22bdf2"/>
<circle cx="542.40" cy="246.25" r="1.75" fill="#22bdf2"/>
<circle cx="539.90" cy="248.44" r="1.75" fill="#22bdf2"/>
<circle cx="539.90" cy="251.18" r="1.75" fill="#22bdf2"/>
<line x1="539.90" y1="241.86" x2="539.90" y2="248.99" stroke="#22bdf2" stroke-width="1.2"/>
<line x1="536.60" y1="241.86" x2="543.20" y2="241.86" stroke="#22bdf2" stroke-width="1.2"/>
<line x1="536.60" y1="248.99" x2="543.20" y2="248.99" stroke="#22bdf2" stroke-width="1.2"/>
<line x1="533.10" y1="245.15" x2="546.70" y2="245.15" stroke="#22bdf2" stroke-width="1.3"/>
<circle cx="570.10" cy="235.29" r="1.75" fill="#68c3cb"/>
<circle cx="570.10" cy="237.48" r="1.75" fill="#68c3cb"/>
<circle cx="565.60" cy="250.63" r="1.75" fill="#68c3cb"/>
<circle cx="574.60" cy="250.08" r="1.75" fill="#68c3cb"/>
<line x1="570.10" y1="235.29" x2="570.10" y2="250.08" stroke="#68c3cb" stroke-width="1.2"/>
<line x1="566.80" y1="235.29" x2="573.40" y2="235.29" stroke="#68c3cb" stroke-width="1.2"/>
<line x1="566.80" y1="250.08" x2="573.40" y2="250.08" stroke="#68c3cb" stroke-width="1.2"/>
<line x1="563.30" y1="242.96" x2="576.90" y2="242.96" stroke="#68c3cb" stroke-width="1.3"/>
<circle cx="600.30" cy="191.45" r="1.75" fill="#f5a26e"/>
<circle cx="600.30" cy="207.34" r="1.75" fill="#f5a26e"/>
<circle cx="595.80" cy="230.90" r="1.75" fill="#f5a26e"/>
<circle cx="604.80" cy="227.62" r="1.75" fill="#f5a26e"/>
<line x1="600.30" y1="195.83" x2="600.30" y2="233.10" stroke="#f5a26e" stroke-width="1.2"/>
<line x1="597.00" y1="195.83" x2="603.60" y2="195.83" stroke="#f5a26e" stroke-width="1.2"/>
<line x1="597.00" y1="233.10" x2="603.60" y2="233.10" stroke="#f5a26e" stroke-width="1.2"/>
<line x1="593.50" y1="214.46" x2="607.10" y2="214.46" stroke="#f5a26e" stroke-width="1.3"/>
<circle cx="631.10" cy="179.39" r="1.75" fill="#f07e82"/>
<circle cx="626.60" cy="210.08" r="1.75" fill="#f07e82"/>
<circle cx="631.10" cy="212.82" r="1.75" fill="#f07e82"/>
<circle cx="635.60" cy="215.56" r="1.75" fill="#f07e82"/>
<circle cx="626.60" cy="216.66" r="1.75" fill="#f07e82"/>
<circle cx="635.60" cy="219.94" r="1.75" fill="#f07e82"/>
<circle cx="631.10" cy="222.14" r="1.75" fill="#f07e82"/>
<line x1="631.10" y1="197.48" x2="631.10" y2="227.07" stroke="#f07e82" stroke-width="1.2"/>
<line x1="627.80" y1="197.48" x2="634.40" y2="197.48" stroke="#f07e82" stroke-width="1.2"/>
<line x1="627.80" y1="227.07" x2="634.40" y2="227.07" stroke="#f07e82" stroke-width="1.2"/>
<line x1="624.30" y1="212.27" x2="637.90" y2="212.27" stroke="#f07e82" stroke-width="1.3"/>
<line x1="116.40" y1="333.40" x2="116.40" y2="449.90" stroke="#111" stroke-width="1.1"/>
<line x1="115.90" y1="449.40" x2="329.50" y2="449.40" stroke="#111" stroke-width="1.1"/>
<line x1="108.70" y1="449.40" x2="116.40" y2="449.40" stroke="#111" stroke-width="1"/>
<text x="106.20" y="452.70" font-size="9.4" text-anchor="end" fill="#000" stroke="#000" stroke-width="0.13"><tspan>0</tspan></text>
<line x1="108.70" y1="396.40" x2="116.40" y2="396.40" stroke="#111" stroke-width="1"/>
<text x="106.20" y="399.70" font-size="9.4" text-anchor="end" fill="#000" stroke="#000" stroke-width="0.13"><tspan>50</tspan></text>
<line x1="108.70" y1="343.40" x2="116.40" y2="343.40" stroke="#111" stroke-width="1"/>
<text x="106.20" y="346.70" font-size="9.4" text-anchor="end" fill="#000" stroke="#000" stroke-width="0.13"><tspan>100</tspan></text>
<text x="82.80" y="394.40" font-size="9.2" text-anchor="middle" fill="#000" stroke="#000" stroke-width="0.13" transform="rotate(-90 82.8 394.4)"><tspan>DNA Synthesis / %</tspan></text>
<line x1="136.30" y1="449.40" x2="136.30" y2="456.40" stroke="#111" stroke-width="1.1"/>
<rect x="119.40" y="353.79" width="6.00" height="95.61" fill="#7b7b7b" stroke="#222" stroke-width="0.9"/>
<path d="M122.40,347.66 L124.55,351.26 L120.25,351.26 Z" fill="#000"/>
<path d="M122.40,355.08 L124.55,358.68 L120.25,358.68 Z" fill="#000"/>
<rect x="128.50" y="347.43" width="6.40" height="101.97" fill="#ababab"/>
<path d="M130.50,344.90 L132.65,348.50 L128.35,348.50 Z" fill="#000"/>
<path d="M132.90,344.90 L135.05,348.50 L130.75,348.50 Z" fill="#000"/>
<rect x="137.80" y="344.88" width="6.40" height="104.52" fill="#8e8e8e"/>
<path d="M141.00,340.24 L143.15,343.84 L138.85,343.84 Z" fill="#000"/>
<path d="M141.00,346.39 L143.15,349.99 L138.85,349.99 Z" fill="#000"/>
<rect x="147.10" y="341.81" width="6.40" height="107.59" fill="#dedede"/>
<path d="M150.30,336.21 L152.45,339.81 L148.15,339.81 Z" fill="#000"/>
<path d="M150.30,344.48 L152.45,348.08 L148.15,348.08 Z" fill="#000"/>
<line x1="179.70" y1="449.40" x2="179.70" y2="456.40" stroke="#111" stroke-width="1.1"/>
<rect x="162.80" y="345.10" width="6.00" height="104.30" fill="#7b7b7b" stroke="#222" stroke-width="0.9"/>
<path d="M165.80,340.24 L167.95,343.84 L163.65,343.84 Z" fill="#000"/>
<path d="M165.80,347.34 L167.95,350.94 L163.65,350.94 Z" fill="#000"/>
<rect x="171.90" y="350.82" width="6.40" height="98.58" fill="#ababab"/>
<path d="M175.10,344.90 L177.25,348.50 L172.95,348.50 Z" fill="#000"/>
<path d="M175.10,353.49 L177.25,357.09 L172.95,357.09 Z" fill="#000"/>
<rect x="181.20" y="345.94" width="6.40" height="103.46" fill="#8e8e8e"/>
<path d="M184.40,340.24 L186.55,343.84 L182.25,343.84 Z" fill="#000"/>
<path d="M184.40,344.48 L186.55,348.08 L182.25,348.08 Z" fill="#000"/>
<rect x="190.50" y="346.69" width="6.40" height="102.71" fill="#dedede"/>
<path d="M193.70,341.30 L195.85,344.90 L191.55,344.90 Z" fill="#000"/>
<path d="M193.70,349.46 L195.85,353.06 L191.55,353.06 Z" fill="#000"/>
<line x1="223.00" y1="449.40" x2="223.00" y2="456.40" stroke="#111" stroke-width="1.1"/>
<rect x="206.10" y="439.97" width="6.00" height="9.43" fill="#7b7b7b" stroke="#222" stroke-width="0.9"/>
<path d="M209.10,436.38 L211.25,439.98 L206.95,439.98 Z" fill="#000"/>
<path d="M209.10,439.35 L211.25,442.95 L206.95,442.95 Z" fill="#000"/>
<rect x="215.20" y="434.98" width="6.40" height="14.42" fill="#ababab"/>
<path d="M218.40,431.93 L220.55,435.53 L216.25,435.53 Z" fill="#000"/>
<path d="M218.40,430.55 L220.55,434.15 L216.25,434.15 Z" fill="#000"/>
<rect x="224.50" y="400.96" width="6.40" height="48.44" fill="#8e8e8e"/>
<path d="M227.70,395.36 L229.85,398.96 L225.55,398.96 Z" fill="#000"/>
<path d="M227.70,399.60 L229.85,403.20 L225.55,403.20 Z" fill="#000"/>
<rect x="233.80" y="356.12" width="6.40" height="93.28" fill="#dedede"/>
<path d="M237.00,348.72 L239.15,352.32 L234.85,352.32 Z" fill="#000"/>
<path d="M237.00,357.20 L239.15,360.80 L234.85,360.80 Z" fill="#000"/>
<line x1="266.30" y1="449.40" x2="266.30" y2="456.40" stroke="#111" stroke-width="1.1"/>
<rect x="249.40" y="448.76" width="6.00" height="0.64" fill="#7b7b7b" stroke="#222" stroke-width="0.9"/>
<rect x="258.50" y="449.08" width="6.40" height="0.32" fill="#ababab"/>
<rect x="267.80" y="443.68" width="6.40" height="5.72" fill="#8e8e8e"/>
<path d="M269.70,440.73 L271.85,444.33 L267.55,444.33 Z" fill="#000"/>
<path d="M272.30,440.73 L274.45,444.33 L270.15,444.33 Z" fill="#000"/>
<rect x="277.10" y="400.00" width="6.40" height="49.40" fill="#dedede"/>
<path d="M280.30,395.36 L282.45,398.96 L278.15,398.96 Z" fill="#000"/>
<path d="M280.30,398.01 L282.45,401.61 L278.15,401.61 Z" fill="#000"/>
<line x1="309.50" y1="449.40" x2="309.50" y2="456.40" stroke="#111" stroke-width="1.1"/>
<rect x="292.60" y="448.98" width="6.00" height="0.42" fill="#7b7b7b" stroke="#222" stroke-width="0.9"/>
<path d="M294.30,446.77 L296.45,450.37 L292.15,450.37 Z" fill="#000"/>
<path d="M296.90,446.98 L299.05,450.58 L294.75,450.58 Z" fill="#000"/>
<rect x="301.70" y="448.45" width="6.40" height="0.95" fill="#ababab"/>
<path d="M303.60,446.66 L305.75,450.26 L301.45,450.26 Z" fill="#000"/>
<path d="M306.20,445.82 L308.35,449.42 L304.05,449.42 Z" fill="#000"/>
<rect x="311.00" y="448.45" width="6.40" height="0.95" fill="#8e8e8e"/>
<path d="M312.90,445.71 L315.05,449.31 L310.75,449.31 Z" fill="#000"/>
<path d="M315.50,446.24 L317.65,449.84 L313.35,449.84 Z" fill="#000"/>
<rect x="320.30" y="430.64" width="6.40" height="18.76" fill="#dedede"/>
<path d="M323.50,423.98 L325.65,427.58 L321.35,427.58 Z" fill="#000"/>
<path d="M323.50,433.20 L325.65,436.80 L321.35,436.80 Z" fill="#000"/>
<path d="M251.00,446.70 L253.15,450.30 L248.85,450.30 Z" fill="#000"/>
<path d="M253.60,446.70 L255.75,450.30 L251.45,450.30 Z" fill="#000"/>
<path d="M260.30,446.70 L262.45,450.30 L258.15,450.30 Z" fill="#000"/>
<path d="M262.90,446.70 L265.05,450.30 L260.75,450.30 Z" fill="#000"/>
<polygon points="252.40,441.40 253.06,442.99 254.78,443.13 253.47,444.25 253.87,445.92 252.40,445.02 250.93,445.92 251.33,444.25 250.02,443.13 251.74,442.99" fill="#f08a3c"/>
<polygon points="260.60,441.40 261.26,442.99 262.98,443.13 261.67,444.25 262.07,445.92 260.60,445.02 259.13,445.92 259.53,444.25 258.22,443.13 259.94,442.99" fill="#f08a3c"/>
<rect x="281.50" y="341.00" width="4.20" height="4.20" fill="#7b7b7b" stroke="#222" stroke-width="0.9"/>
<text x="294.10" y="345.90" font-size="7.8" text-anchor="start" fill="#000" stroke="#000" stroke-width="0.13"><tspan>15 µM</tspan></text>
<rect x="281.10" y="355.40" width="4.90" height="4.90" fill="#ababab"/>
<text x="294.10" y="360.80" font-size="7.8" text-anchor="start" fill="#000" stroke="#000" stroke-width="0.13"><tspan>1.5 µM</tspan></text>
<rect x="281.10" y="369.40" width="4.90" height="4.90" fill="#8e8e8e"/>
<text x="294.10" y="374.80" font-size="7.8" text-anchor="start" fill="#000" stroke="#000" stroke-width="0.13"><tspan>150 nM</tspan></text>
<rect x="281.10" y="383.20" width="4.90" height="4.90" fill="#dedede"/>
<text x="294.10" y="388.60" font-size="7.8" text-anchor="start" fill="#000" stroke="#000" stroke-width="0.13"><tspan>15 nM</tspan></text>
<text x="138.90" y="466.00" font-size="9.3" text-anchor="end" fill="#000" stroke="#000" stroke-width="0.13" transform="rotate(-45 138.9 466.0)"><tspan>Gem</tspan><tspan dy="-4.65" font-size="7.25">96-130</tspan></text>
<text x="182.30" y="466.00" font-size="9.3" text-anchor="end" fill="#000" stroke="#000" stroke-width="0.13" transform="rotate(-45 182.29999999999998 466.0)"><tspan>Gem</tspan><tspan dy="-4.65" font-size="7.25">96-145</tspan></text>
<text x="225.60" y="466.00" font-size="9.3" text-anchor="end" fill="#000" stroke="#000" stroke-width="0.13" transform="rotate(-45 225.6 466.0)"><tspan>Gem</tspan><tspan dy="-4.65" font-size="7.25">82-145</tspan></text>
<text x="268.90" y="466.00" font-size="9.3" text-anchor="end" fill="#000" stroke="#000" stroke-width="0.13" transform="rotate(-45 268.90000000000003 466.0)"><tspan>Gem</tspan><tspan dy="-4.65" font-size="7.25">76-145</tspan></text>
<text x="312.10" y="466.00" font-size="9.3" text-anchor="end" fill="#000" stroke="#000" stroke-width="0.13" transform="rotate(-45 312.1 466.0)"><tspan>recGem</tspan><tspan dy="-4.65" font-size="7.25">76-145</tspan></text>
<rect x="411.80" y="398.30" width="19.20" height="62.30" fill="#ebebeb"/>
<rect x="441.00" y="398.30" width="192.40" height="61.50" fill="#e8e8e8"/>
<text x="389.90" y="393.60" font-size="6.4" text-anchor="start" fill="#000" stroke="#000" stroke-width="0.13"><tspan>kDa</tspan></text>
<text x="401.80" y="406.40" font-size="6.4" text-anchor="end" fill="#000" stroke="#000" stroke-width="0.13"><tspan>250</tspan></text>
<line x1="403.40" y1="404.10" x2="410.90" y2="404.10" stroke="#000" stroke-width="1"/>
<text x="401.80" y="426.90" font-size="6.4" text-anchor="end" fill="#000" stroke="#000" stroke-width="0.13"><tspan>130</tspan></text>
<line x1="403.40" y1="424.60" x2="410.90" y2="424.60" stroke="#000" stroke-width="1"/>
<text x="401.80" y="447.30" font-size="6.4" text-anchor="end" fill="#000" stroke="#000" stroke-width="0.13"><tspan>100</tspan></text>
<line x1="403.40" y1="445.00" x2="410.90" y2="445.00" stroke="#000" stroke-width="1"/>
<rect x="414.30" y="423.45" width="14.00" height="2.30" rx="0.8" fill="#1a1a1a" opacity="0.75" filter="url(#bl)"/>
<rect x="414.30" y="430.85" width="14.00" height="2.30" rx="0.8" fill="#1a1a1a" opacity="0.80" filter="url(#bl)"/>
<rect x="414.30" y="434.65" width="14.00" height="2.30" rx="0.8" fill="#1a1a1a" opacity="0.75" filter="url(#bl)"/>
<rect x="414.30" y="444.25" width="14.00" height="2.30" rx="0.8" fill="#1a1a1a" opacity="0.60" filter="url(#bl)"/>
<rect x="414.30" y="448.45" width="14.00" height="2.30" rx="0.8" fill="#1a1a1a" opacity="0.70" filter="url(#bl)"/>
<rect x="442.35" y="423.60" width="12.50" height="2.00" rx="0.8" fill="#1a1a1a" opacity="0.40" filter="url(#bl)"/>
<rect x="442.35" y="431.00" width="12.50" height="2.00" rx="0.8" fill="#1a1a1a" opacity="0.50" filter="url(#bl)"/>
<rect x="442.35" y="434.80" width="12.50" height="2.00" rx="0.8" fill="#1a1a1a" opacity="0.40" filter="url(#bl)"/>
<rect x="442.35" y="444.40" width="12.50" height="2.00" rx="0.8" fill="#1a1a1a" opacity="0.42" filter="url(#bl)"/>
<rect x="442.35" y="448.60" width="12.50" height="2.00" rx="0.8" fill="#1a1a1a" opacity="0.30" filter="url(#bl)"/>
<rect x="461.45" y="423.60" width="12.50" height="2.00" rx="0.8" fill="#1a1a1a" opacity="0.08" filter="url(#bl)"/>
<rect x="461.45" y="431.00" width="12.50" height="2.00" rx="0.8" fill="#1a1a1a" opacity="0.12" filter="url(#bl)"/>
<rect x="461.45" y="434.80" width="12.50" height="2.00" rx="0.8" fill="#1a1a1a" opacity="0.18" filter="url(#bl)"/>
<rect x="461.45" y="444.40" width="12.50" height="2.00" rx="0.8" fill="#1a1a1a" opacity="0.07" filter="url(#bl)"/>
<rect x="461.45" y="448.60" width="12.50" height="2.00" rx="0.8" fill="#1a1a1a" opacity="0.05" filter="url(#bl)"/>
<rect x="480.55" y="423.60" width="12.50" height="2.00" rx="0.8" fill="#1a1a1a" opacity="0.13" filter="url(#bl)"/>
<rect x="480.55" y="431.00" width="12.50" height="2.00" rx="0.8" fill="#1a1a1a" opacity="0.28" filter="url(#bl)"/>
<rect x="480.55" y="434.80" width="12.50" height="2.00" rx="0.8" fill="#1a1a1a" opacity="0.28" filter="url(#bl)"/>
<rect x="480.55" y="444.40" width="12.50" height="2.00" rx="0.8" fill="#1a1a1a" opacity="0.10" filter="url(#bl)"/>
<rect x="480.55" y="448.60" width="12.50" height="2.00" rx="0.8" fill="#1a1a1a" opacity="0.08" filter="url(#bl)"/>
<rect x="499.65" y="423.60" width="12.50" height="2.00" rx="0.8" fill="#1a1a1a" opacity="0.13" filter="url(#bl)"/>
<rect x="499.65" y="431.00" width="12.50" height="2.00" rx="0.8" fill="#1a1a1a" opacity="0.28" filter="url(#bl)"/>
<rect x="499.65" y="434.80" width="12.50" height="2.00" rx="0.8" fill="#1a1a1a" opacity="0.28" filter="url(#bl)"/>
<rect x="499.65" y="444.40" width="12.50" height="2.00" rx="0.8" fill="#1a1a1a" opacity="0.10" filter="url(#bl)"/>
<rect x="499.65" y="448.60" width="12.50" height="2.00" rx="0.8" fill="#1a1a1a" opacity="0.08" filter="url(#bl)"/>
<rect x="518.75" y="423.60" width="12.50" height="2.00" rx="0.8" fill="#1a1a1a" opacity="0.13" filter="url(#bl)"/>
<rect x="518.75" y="431.00" width="12.50" height="2.00" rx="0.8" fill="#1a1a1a" opacity="0.28" filter="url(#bl)"/>
<rect x="518.75" y="434.80" width="12.50" height="2.00" rx="0.8" fill="#1a1a1a" opacity="0.28" filter="url(#bl)"/>
<rect x="518.75" y="444.40" width="12.50" height="2.00" rx="0.8" fill="#1a1a1a" opacity="0.10" filter="url(#bl)"/>
<rect x="518.75" y="448.60" width="12.50" height="2.00" rx="0.8" fill="#1a1a1a" opacity="0.08" filter="url(#bl)"/>
<rect x="537.85" y="423.60" width="12.50" height="2.00" rx="0.8" fill="#1a1a1a" opacity="0.38" filter="url(#bl)"/>
<rect x="537.85" y="431.00" width="12.50" height="2.00" rx="0.8" fill="#1a1a1a" opacity="0.55" filter="url(#bl)"/>
<rect x="537.85" y="434.80" width="12.50" height="2.00" rx="0.8" fill="#1a1a1a" opacity="0.45" filter="url(#bl)"/>
<rect x="537.85" y="444.40" width="12.50" height="2.00" rx="0.8" fill="#1a1a1a" opacity="0.40" filter="url(#bl)"/>
<rect x="537.85" y="448.60" width="12.50" height="2.00" rx="0.8" fill="#1a1a1a" opacity="0.35" filter="url(#bl)"/>
<rect x="556.95" y="423.60" width="12.50" height="2.00" rx="0.8" fill="#1a1a1a" opacity="0.10" filter="url(#bl)"/>
<rect x="556.95" y="431.00" width="12.50" height="2.00" rx="0.8" fill="#1a1a1a" opacity="0.22" filter="url(#bl)"/>
<rect x="556.95" y="434.80" width="12.50" height="2.00" rx="0.8" fill="#1a1a1a" opacity="0.24" filter="url(#bl)"/>
<rect x="556.95" y="444.40" width="12.50" height="2.00" rx="0.8" fill="#1a1a1a" opacity="0.07" filter="url(#bl)"/>
<rect x="556.95" y="448.60" width="12.50" height="2.00" rx="0.8" fill="#1a1a1a" opacity="0.05" filter="url(#bl)"/>
<rect x="576.05" y="423.60" width="12.50" height="2.00" rx="0.8" fill="#1a1a1a" opacity="0.10" filter="url(#bl)"/>
<rect x="576.05" y="431.00" width="12.50" height="2.00" rx="0.8" fill="#1a1a1a" opacity="0.22" filter="url(#bl)"/>
<rect x="576.05" y="434.80" width="12.50" height="2.00" rx="0.8" fill="#1a1a1a" opacity="0.24" filter="url(#bl)"/>
<rect x="576.05" y="444.40" width="12.50" height="2.00" rx="0.8" fill="#1a1a1a" opacity="0.07" filter="url(#bl)"/>
<rect x="576.05" y="448.60" width="12.50" height="2.00" rx="0.8" fill="#1a1a1a" opacity="0.05" filter="url(#bl)"/>
<rect x="595.15" y="423.60" width="12.50" height="2.00" rx="0.8" fill="#1a1a1a" opacity="0.13" filter="url(#bl)"/>
<rect x="595.15" y="431.00" width="12.50" height="2.00" rx="0.8" fill="#1a1a1a" opacity="0.26" filter="url(#bl)"/>
<rect x="595.15" y="434.80" width="12.50" height="2.00" rx="0.8" fill="#1a1a1a" opacity="0.28" filter="url(#bl)"/>
<rect x="595.15" y="444.40" width="12.50" height="2.00" rx="0.8" fill="#1a1a1a" opacity="0.09" filter="url(#bl)"/>
<rect x="595.15" y="448.60" width="12.50" height="2.00" rx="0.8" fill="#1a1a1a" opacity="0.07" filter="url(#bl)"/>
<rect x="614.25" y="423.60" width="12.50" height="2.00" rx="0.8" fill="#1a1a1a" opacity="0.33" filter="url(#bl)"/>
<rect x="614.25" y="431.00" width="12.50" height="2.00" rx="0.8" fill="#1a1a1a" opacity="0.50" filter="url(#bl)"/>
<rect x="614.25" y="434.80" width="12.50" height="2.00" rx="0.8" fill="#1a1a1a" opacity="0.45" filter="url(#bl)"/>
<rect x="614.25" y="444.40" width="12.50" height="2.00" rx="0.8" fill="#1a1a1a" opacity="0.33" filter="url(#bl)"/>
<rect x="614.25" y="448.60" width="12.50" height="2.00" rx="0.8" fill="#1a1a1a" opacity="0.30" filter="url(#bl)"/>
<line x1="441.20" y1="339.20" x2="633.20" y2="339.20" stroke="#000" stroke-width="1.1"/>
<text x="533.20" y="336.90" font-size="9.4" text-anchor="middle" fill="#000" stroke="#000" stroke-width="0.13"><tspan>HS</tspan></text>
<text x="424.60" y="396.00" font-size="9.4" text-anchor="start" fill="#000" stroke="#000" stroke-width="0.13" transform="rotate(-90 424.6 396.0)"><tspan>MCM2-7 Input</tspan></text>
<text x="451.90" y="396.00" font-size="9.4" text-anchor="start" fill="#000" stroke="#000" stroke-width="0.13" transform="rotate(-90 451.90000000000003 396.0)"><tspan>Pre-RC</tspan></text>
<text x="471.00" y="396.00" font-size="9.4" text-anchor="start" fill="#000" stroke="#000" stroke-width="0.13" transform="rotate(-90 471.00000000000006 396.0)"><tspan>+ Gem</tspan><tspan dy="-3.95" font-size="6.58">FL</tspan></text>
<text x="490.10" y="396.00" font-size="9.4" text-anchor="start" fill="#000" stroke="#000" stroke-width="0.13" transform="rotate(-90 490.1 396.0)"><tspan>200x</tspan></text>
<text x="509.20" y="396.00" font-size="9.4" text-anchor="start" fill="#000" stroke="#000" stroke-width="0.13" transform="rotate(-90 509.20000000000005 396.0)"><tspan>20x</tspan></text>
<text x="528.30" y="396.00" font-size="9.4" text-anchor="start" fill="#000" stroke="#000" stroke-width="0.13" transform="rotate(-90 528.3 396.0)"><tspan>2x</tspan></text>
<text x="547.40" y="396.00" font-size="9.4" text-anchor="start" fill="#000" stroke="#000" stroke-width="0.13" transform="rotate(-90 547.4 396.0)"><tspan>0.2x</tspan></text>
<text x="566.50" y="396.00" font-size="9.4" text-anchor="start" fill="#000" stroke="#000" stroke-width="0.13" transform="rotate(-90 566.5 396.0)"><tspan>200x</tspan></text>
<text x="585.60" y="396.00" font-size="9.4" text-anchor="start" fill="#000" stroke="#000" stroke-width="0.13" transform="rotate(-90 585.6 396.0)"><tspan>20x</tspan></text>
<text x="604.70" y="396.00" font-size="9.4" text-anchor="start" fill="#000" stroke="#000" stroke-width="0.13" transform="rotate(-90 604.7 396.0)"><tspan>2x</tspan></text>
<text x="623.80" y="396.00" font-size="9.4" text-anchor="start" fill="#000" stroke="#000" stroke-width="0.13" transform="rotate(-90 623.8 396.0)"><tspan>0.2x</tspan></text>
<text x="448.60" y="467.60" font-size="6.4" text-anchor="middle" fill="#000" stroke="#000" stroke-width="0.13"><tspan>1</tspan></text>
<text x="467.70" y="467.60" font-size="6.4" text-anchor="middle" fill="#000" stroke="#000" stroke-width="0.13"><tspan>2</tspan></text>
<text x="486.80" y="467.60" font-size="6.4" text-anchor="middle" fill="#000" stroke="#000" stroke-width="0.13"><tspan>3</tspan></text>
<text x="505.90" y="467.60" font-size="6.4" text-anchor="middle" fill="#000" stroke="#000" stroke-width="0.13"><tspan>4</tspan></text>
<text x="525.00" y="467.60" font-size="6.4" text-anchor="middle" fill="#000" stroke="#000" stroke-width="0.13"><tspan>5</tspan></text>
<text x="544.10" y="467.60" font-size="6.4" text-anchor="middle" fill="#000" stroke="#000" stroke-width="0.13"><tspan>6</tspan></text>
<text x="563.20" y="467.60" font-size="6.4" text-anchor="middle" fill="#000" stroke="#000" stroke-width="0.13"><tspan>7</tspan></text>
<text x="582.30" y="467.60" font-size="6.4" text-anchor="middle" fill="#000" stroke="#000" stroke-width="0.13"><tspan>8</tspan></text>
<text x="601.40" y="467.60" font-size="6.4" text-anchor="middle" fill="#000" stroke="#000" stroke-width="0.13"><tspan>9</tspan></text>
<text x="620.50" y="467.60" font-size="6.4" text-anchor="middle" fill="#000" stroke="#000" stroke-width="0.13"><tspan>10</tspan></text>
<path d="M480.3,371 L480.3,353.9 L554.9,371 Z" fill="none" stroke="#000" stroke-width="0.9"/>
<path d="M556.1,371 L556.1,353.7 L630.8,371 Z" fill="none" stroke="#000" stroke-width="0.9"/>
<text x="491.50" y="351.80" font-size="9.2" text-anchor="start" fill="#000" stroke="#000" stroke-width="0.13"><tspan>[Gem</tspan><tspan dy="-3.86" font-size="6.44">76-145</tspan><tspan dy="3.86"> ]</tspan></text>
<text x="571.80" y="351.80" font-size="9.2" text-anchor="start" fill="#000" stroke="#000" stroke-width="0.13"><tspan>[recGem</tspan><tspan dy="-3.86" font-size="6.44">76-145</tspan><tspan dy="3.86">]</tspan></text>
<text x="641.80" y="426.60" font-size="6.8" text-anchor="start" fill="#000" stroke="#000" stroke-width="0.13"><tspan>MCM2</tspan></text>
<line x1="635.40" y1="424.40" x2="640.30" y2="424.40" stroke="#000" stroke-width="0.9"/>
<text x="641.80" y="435.40" font-size="6.8" text-anchor="start" fill="#000" stroke="#000" stroke-width="0.13"><tspan>MCM4/3</tspan></text>
<line x1="635.40" y1="432.20" x2="640.30" y2="432.20" stroke="#000" stroke-width="0.9"/>
<text x="641.80" y="441.80" font-size="6.8" text-anchor="start" fill="#000" stroke="#000" stroke-width="0.13"><tspan>MCM6</tspan></text>
<line x1="635.60" y1="436.20" x2="640.30" y2="439.40" stroke="#000" stroke-width="0.9"/>
<text x="641.80" y="450.50" font-size="6.8" text-anchor="start" fill="#000" stroke="#000" stroke-width="0.13"><tspan>MCM5</tspan></text>
<line x1="635.40" y1="446.00" x2="640.30" y2="446.00" stroke="#000" stroke-width="0.9"/>
<text x="641.80" y="456.20" font-size="6.8" text-anchor="start" fill="#000" stroke="#000" stroke-width="0.13"><tspan>MCM7</tspan></text>
<line x1="635.60" y1="450.40" x2="640.30" y2="453.80" stroke="#000" stroke-width="0.9"/>
<clipPath id="ci"><rect x="60" y="540" width="171.5" height="190"/></clipPath>
<g clip-path="url(#ci)">
<path d="M179,548 C180,556 184,560 188,559" fill="none" stroke="#5b8ea4" stroke-width="4.1000000000000005" stroke-linecap="round" stroke-linejoin="round"/>
<path d="M179,548 C180,556 184,560 188,559" fill="none" stroke="#a8d3e4" stroke-width="3.2" stroke-linecap="round" stroke-linejoin="round"/>
<path d="M188,559 C192,556 200,552 202,550 C203,548 198,547 194,548 C189,550 187,556 191,562 C195,567 200,570 206,572" fill="none" stroke="#5b8ea4" stroke-width="3.9" stroke-linecap="round" stroke-linejoin="round"/>
<path d="M188,559 C192,556 200,552 202,550 C203,548 198,547 194,548 C189,550 187,556 191,562 C195,567 200,570 206,572" fill="none" stroke="#a8d3e4" stroke-width="3.0" stroke-linecap="round" stroke-linejoin="round"/>
<ellipse cx="213.3" cy="579.4" rx="5.8" ry="9.9" fill="none" stroke="#5b8ea4" stroke-width="5.0"/>
<ellipse cx="213.3" cy="579.4" rx="5.8" ry="9.9" fill="none" stroke="#a8d3e4" stroke-width="4.0"/>
<ellipse cx="222.6" cy="577.2" rx="5.8" ry="9.9" fill="none" stroke="#5b8ea4" stroke-width="5.0"/>
<ellipse cx="222.6" cy="577.2" rx="5.8" ry="9.9" fill="none" stroke="#a8d3e4" stroke-width="4.0"/>
<ellipse cx="231.5" cy="576.0" rx="5.8" ry="9.9" fill="none" stroke="#5b8ea4" stroke-width="5.0"/>
<ellipse cx="231.5" cy="576.0" rx="5.8" ry="9.9" fill="none" stroke="#a8d3e4" stroke-width="4.0"/>
<path d="M176,650 C180,646 188,646 196,648 C204,650 210,646 214,641" fill="none" stroke="#5b8ea4" stroke-width="2.5" stroke-linecap="round" stroke-linejoin="round"/>
<path d="M176,650 C180,646 188,646 196,648 C204,650 210,646 214,641" fill="none" stroke="#a8d3e4" stroke-width="1.6" stroke-linecap="round" stroke-linejoin="round"/>
<path d="M176,658 C190,656 210,653 232,650" fill="none" stroke="#5b8ea4" stroke-width="2.2" stroke-linecap="round" stroke-linejoin="round"/>
<path d="M176,658 C190,656 210,653 232,650" fill="none" stroke="#a8d3e4" stroke-width="1.3" stroke-linecap="round" stroke-linejoin="round"/>
<g transform="translate(212.00,648.00) rotate(20.00) scale(1,0.447) translate(0,-19)">
<path d="M-5.0,17 C-3.0,3 2.0,0 6.0,1 C11.0,2 13.0,10 13.0,19" fill="none" stroke="#5b8ea4" stroke-width="4.8"/>
<path d="M-5.0,17 C-3.0,3 2.0,0 6.0,1 C11.0,2 13.0,10 13.0,19" fill="none" stroke="#a8d3e4" stroke-width="3.8"/>
<path d="M6.0,17 C8.0,3 13.0,0 17.0,1 C22.0,2 24.0,10 24.0,19" fill="none" stroke="#5b8ea4" stroke-width="4.8"/>
<path d="M6.0,17 C8.0,3 13.0,0 17.0,1 C22.0,2 24.0,10 24.0,19" fill="none" stroke="#a8d3e4" stroke-width="3.8"/>
<path d="M17.0,17 C19.0,3 24.0,0 28.0,1 C33.0,2 35.0,10 35.0,19" fill="none" stroke="#5b8ea4" stroke-width="4.8"/>
<path d="M17.0,17 C19.0,3 24.0,0 28.0,1 C33.0,2 35.0,10 35.0,19" fill="none" stroke="#a8d3e4" stroke-width="3.8"/>
<path d="M28.0,17 C30.0,3 35.0,0 39.0,1 C44.0,2 46.0,10 46.0,19" fill="none" stroke="#5b8ea4" stroke-width="4.8"/>
<path d="M28.0,17 C30.0,3 35.0,0 39.0,1 C44.0,2 46.0,10 46.0,19" fill="none" stroke="#a8d3e4" stroke-width="3.8"/>
<path d="M-6.0,18 C1.0,22 11.0,34 16.0,35 C20.0,36 21.0,30 17.0,24" fill="none" stroke="#5b8ea4" stroke-width="4.8"/>
<path d="M-6.0,18 C1.0,22 11.0,34 16.0,35 C20.0,36 21.0,30 17.0,24" fill="none" stroke="#a8d3e4" stroke-width="3.8"/>
<path d="M5.0,18 C12.0,22 22.0,34 27.0,35 C31.0,36 32.0,30 28.0,24" fill="none" stroke="#5b8ea4" stroke-width="4.8"/>
<path d="M5.0,18 C12.0,22 22.0,34 27.0,35 C31.0,36 32.0,30 28.0,24" fill="none" stroke="#a8d3e4" stroke-width="3.8"/>
<path d="M16.0,18 C23.0,22 33.0,34 38.0,35 C42.0,36 43.0,30 39.0,24" fill="none" stroke="#5b8ea4" stroke-width="4.8"/>
<path d="M16.0,18 C23.0,22 33.0,34 38.0,35 C42.0,36 43.0,30 39.0,24" fill="none" stroke="#a8d3e4" stroke-width="3.8"/>
<path d="M27.0,18 C34.0,22 44.0,34 49.0,35 C53.0,36 54.0,30 50.0,24" fill="none" stroke="#5b8ea4" stroke-width="4.8"/>
<path d="M27.0,18 C34.0,22 44.0,34 49.0,35 C53.0,36 54.0,30 50.0,24" fill="none" stroke="#a8d3e4" stroke-width="3.8"/>
</g>
<path d="M211,687 C218,685 225,682 232,680" fill="none" stroke="#5b8ea4" stroke-width="2.2" stroke-linecap="round" stroke-linejoin="round"/>
<path d="M211,687 C218,685 225,682 232,680" fill="none" stroke="#a8d3e4" stroke-width="1.3" stroke-linecap="round" stroke-linejoin="round"/>
<ellipse cx="196" cy="675.5" rx="12.5" ry="8.8" transform="rotate(25 196 675.5)" fill="none" stroke="#5b8ea4" stroke-width="4.6"/>
<ellipse cx="196" cy="675.5" rx="12.5" ry="8.8" transform="rotate(25 196 675.5)" fill="none" stroke="#a8d3e4" stroke-width="3.6"/>
<path d="M184.8,673.7 L204.8,686.9" stroke="#5b8ea4" stroke-width="4.4"/>
<path d="M184.8,673.7 L204.8,686.9" stroke="#a8d3e4" stroke-width="3.4"/>
<ellipse cx="205" cy="690" rx="12.5" ry="7.4" transform="rotate(20 205 690)" fill="none" stroke="#5b8ea4" stroke-width="4.6"/>
<ellipse cx="205" cy="690" rx="12.5" ry="7.4" transform="rotate(20 205 690)" fill="none" stroke="#a8d3e4" stroke-width="3.6"/>
<path d="M193.8,688.5 L213.8,699.6" stroke="#5b8ea4" stroke-width="4.4"/>
<path d="M193.8,688.5 L213.8,699.6" stroke="#a8d3e4" stroke-width="3.4"/>
<ellipse cx="211" cy="705.5" rx="12" ry="7.2" transform="rotate(20 211 705.5)" fill="none" stroke="#5b8ea4" stroke-width="4.6"/>
<ellipse cx="211" cy="705.5" rx="12" ry="7.2" transform="rotate(20 211 705.5)" fill="none" stroke="#a8d3e4" stroke-width="3.6"/>
<path d="M200.2,704.1 L219.4,714.9" stroke="#5b8ea4" stroke-width="4.4"/>
<path d="M200.2,704.1 L219.4,714.9" stroke="#a8d3e4" stroke-width="3.4"/>
<ellipse cx="214.7" cy="720.3" rx="10.5" ry="6.8" transform="rotate(20 214.7 720.3)" fill="none" stroke="#5b8ea4" stroke-width="4.6"/>
<ellipse cx="214.7" cy="720.3" rx="10.5" ry="6.8" transform="rotate(20 214.7 720.3)" fill="none" stroke="#a8d3e4" stroke-width="3.6"/>
<path d="M205.2,718.9 L222.0,729.1" stroke="#5b8ea4" stroke-width="4.4"/>
<path d="M205.2,718.9 L222.0,729.1" stroke="#a8d3e4" stroke-width="3.4"/>
<path d="M161,712 C165,713 169,716 168,720 C167,723 162,722 160,721" fill="none" stroke="#5b8ea4" stroke-width="2.5" stroke-linecap="round" stroke-linejoin="round"/>
<path d="M161,712 C165,713 169,716 168,720 C167,723 162,722 160,721" fill="none" stroke="#a8d3e4" stroke-width="1.6" stroke-linecap="round" stroke-linejoin="round"/>
<path d="M73.3,578.8 C80,570 86,556 94,554.5 C100,553.5 106,553 108,556 C109,564 106,572 105.5,580" fill="none" stroke="#5a5a5a" stroke-width="2.5" stroke-linecap="round" stroke-linejoin="round"/>
<path d="M73.3,578.8 C80,570 86,556 94,554.5 C100,553.5 106,553 108,556 C109,564 106,572 105.5,580" fill="none" stroke="#9d9d9d" stroke-width="1.6" stroke-linecap="round" stroke-linejoin="round"/>
<path d="M103,582 C102,590 108,596 115,594" fill="none" stroke="#5a5a5a" stroke-width="5.2"/>
<path d="M103,582 C102,590 108,596 115,594" fill="none" stroke="#9d9d9d" stroke-width="4.2"/>
<path d="M121.3,573 C125,573 127,578 127,582 C127,587 124,590.5 121.3,590.5 C117.6,590.5 115.7,586 115.7,582 C115.7,577 118,573 121.3,573 Z" fill="none" stroke="#5a5a5a" stroke-width="5.4"/>
<path d="M121.3,573 C125,573 127,578 127,582 C127,587 124,590.5 121.3,590.5 C117.6,590.5 115.7,586 115.7,582 C115.7,577 118,573 121.3,573 Z" fill="none" stroke="#9d9d9d" stroke-width="4.4"/>
<path d="M123,563 C130,558.5 142,561 144,574 C145.5,585 140,591 133,591" fill="none" stroke="#5a5a5a" stroke-width="5.6"/>
<path d="M123,563 C130,558.5 142,561 144,574 C145.5,585 140,591 133,591" fill="none" stroke="#9d9d9d" stroke-width="4.6"/>
<path d="M123,563 C126,570 128,578 131,588" fill="none" stroke="#5a5a5a" stroke-width="2.4"/>
<path d="M123,563 C126,570 128,578 131,588" fill="none" stroke="#9d9d9d" stroke-width="1.4"/>
<path d="M133,590 C135,598 136,606 137,612" fill="none" stroke="#5a5a5a" stroke-width="2.1" stroke-linecap="round" stroke-linejoin="round"/>
<path d="M133,590 C135,598 136,606 137,612" fill="none" stroke="#9d9d9d" stroke-width="1.2" stroke-linecap="round" stroke-linejoin="round"/>
<path d="M144.5,617.5 C146.5,603.5 151.5,600.5 155.5,601.5 C160.5,602.5 162.5,610.5 162.5,619.5" fill="none" stroke="#5a5a5a" stroke-width="6.6" stroke-linecap="butt"/>
<path d="M144.5,617.5 C146.5,603.5 151.5,600.5 155.5,601.5 C160.5,602.5 162.5,610.5 162.5,619.5" fill="none" stroke="#9d9d9d" stroke-width="5.6" stroke-linecap="butt"/>
<path d="M164.5,617.5 C166.5,603.5 171.5,600.5 175.5,601.5 C180.5,602.5 182.5,610.5 182.5,619.5" fill="none" stroke="#5a5a5a" stroke-width="6.6" stroke-linecap="butt"/>
<path d="M164.5,617.5 C166.5,603.5 171.5,600.5 175.5,601.5 C180.5,602.5 182.5,610.5 182.5,619.5" fill="none" stroke="#9d9d9d" stroke-width="5.6" stroke-linecap="butt"/>
<path d="M184.5,617.5 C186.5,603.5 191.5,600.5 195.5,601.5 C200.5,602.5 202.5,610.5 202.5,619.5" fill="none" stroke="#5a5a5a" stroke-width="6.6" stroke-linecap="butt"/>
<path d="M184.5,617.5 C186.5,603.5 191.5,600.5 195.5,601.5 C200.5,602.5 202.5,610.5 202.5,619.5" fill="none" stroke="#9d9d9d" stroke-width="5.6" stroke-linecap="butt"/>
<path d="M204.5,617.5 C206.5,603.5 211.5,600.5 215.5,601.5 C220.5,602.5 222.5,610.5 222.5,619.5" fill="none" stroke="#5a5a5a" stroke-width="6.6" stroke-linecap="butt"/>
<path d="M204.5,617.5 C206.5,603.5 211.5,600.5 215.5,601.5 C220.5,602.5 222.5,610.5 222.5,619.5" fill="none" stroke="#9d9d9d" stroke-width="5.6" stroke-linecap="butt"/>
<path d="M224.5,617.5 C226.5,603.5 231.5,600.5 235.5,601.5 C240.5,602.5 242.5,610.5 242.5,619.5" fill="none" stroke="#5a5a5a" stroke-width="6.6" stroke-linecap="butt"/>
<path d="M224.5,617.5 C226.5,603.5 231.5,600.5 235.5,601.5 C240.5,602.5 242.5,610.5 242.5,619.5" fill="none" stroke="#9d9d9d" stroke-width="5.6" stroke-linecap="butt"/>
<path d="M143.5,618.5 C150.5,622.5 160.5,634.5 165.5,635.5 C169.5,636.5 170.5,630.5 166.5,624.5" fill="none" stroke="#5a5a5a" stroke-width="6.6" stroke-linecap="butt"/>
<path d="M143.5,618.5 C150.5,622.5 160.5,634.5 165.5,635.5 C169.5,636.5 170.5,630.5 166.5,624.5" fill="none" stroke="#9d9d9d" stroke-width="5.6" stroke-linecap="butt"/>
<path d="M163.5,618.5 C170.5,622.5 180.5,634.5 185.5,635.5 C189.5,636.5 190.5,630.5 186.5,624.5" fill="none" stroke="#5a5a5a" stroke-width="6.6" stroke-linecap="butt"/>
<path d="M163.5,618.5 C170.5,622.5 180.5,634.5 185.5,635.5 C189.5,636.5 190.5,630.5 186.5,624.5" fill="none" stroke="#9d9d9d" stroke-width="5.6" stroke-linecap="butt"/>
<path d="M183.5,618.5 C190.5,622.5 200.5,634.5 205.5,635.5 C209.5,636.5 210.5,630.5 206.5,624.5" fill="none" stroke="#5a5a5a" stroke-width="6.6" stroke-linecap="butt"/>
<path d="M183.5,618.5 C190.5,622.5 200.5,634.5 205.5,635.5 C209.5,636.5 210.5,630.5 206.5,624.5" fill="none" stroke="#9d9d9d" stroke-width="5.6" stroke-linecap="butt"/>
<path d="M203.5,618.5 C210.5,622.5 220.5,634.5 225.5,635.5 C229.5,636.5 230.5,630.5 226.5,624.5" fill="none" stroke="#5a5a5a" stroke-width="6.6" stroke-linecap="butt"/>
<path d="M203.5,618.5 C210.5,622.5 220.5,634.5 225.5,635.5 C229.5,636.5 230.5,630.5 226.5,624.5" fill="none" stroke="#9d9d9d" stroke-width="5.6" stroke-linecap="butt"/>
<path d="M223.5,618.5 C230.5,622.5 240.5,634.5 245.5,635.5 C249.5,636.5 250.5,630.5 246.5,624.5" fill="none" stroke="#5a5a5a" stroke-width="6.6" stroke-linecap="butt"/>
<path d="M223.5,618.5 C230.5,622.5 240.5,634.5 245.5,635.5 C249.5,636.5 250.5,630.5 246.5,624.5" fill="none" stroke="#9d9d9d" stroke-width="5.6" stroke-linecap="butt"/>
<path d="M134,616 C136,602 146,598 152,601" fill="none" stroke="#5a5a5a" stroke-width="5.3"/><path d="M134,616 C136,602 146,598 152,601" fill="none" stroke="#9d9d9d" stroke-width="4.3"/>
<path d="M137,612 C138,625 138,640 139,650" fill="none" stroke="#5a5a5a" stroke-width="1.9" stroke-linecap="round" stroke-linejoin="round"/>
<path d="M137,612 C138,625 138,640 139,650" fill="none" stroke="#9d9d9d" stroke-width="1.0" stroke-linecap="round" stroke-linejoin="round"/>
<path d="M174,652 C170,660 166,672 163,682 C161,690 160,700 161,710" fill="none" stroke="#b89090" stroke-width="2.5" stroke-linecap="round" stroke-linejoin="round"/>
<path d="M174,652 C170,660 166,672 163,682 C161,690 160,700 161,710" fill="none" stroke="#f7dada" stroke-width="1.6" stroke-linecap="round" stroke-linejoin="round"/>
<path d="M184,646 C186,644 188,643 190,646 C192,652 190,660 186,668 C184,674 182,678 181,682" fill="none" stroke="#b06060" stroke-width="2.5" stroke-linecap="round" stroke-linejoin="round"/>
<path d="M184,646 C186,644 188,643 190,646 C192,652 190,660 186,668 C184,674 182,678 181,682" fill="none" stroke="#f2a0a0" stroke-width="1.6" stroke-linecap="round" stroke-linejoin="round"/>
<path d="M181,682 C174,684 168,688 165,694 C161,702 160,710 162,716 C164,720 168,718 169,714" fill="none" stroke="#b05050" stroke-width="2.5" stroke-linecap="round" stroke-linejoin="round"/>
<path d="M181,682 C174,684 168,688 165,694 C161,702 160,710 162,716 C164,720 168,718 169,714" fill="none" stroke="#f28c8c" stroke-width="1.6" stroke-linecap="round" stroke-linejoin="round"/>
<path d="M163,665 L172,668 L176,676 L180,681" fill="none" stroke="#a03030" stroke-width="2.2" stroke-linecap="round" stroke-linejoin="round"/>
<path d="M163,665 L172,668 L176,676 L180,681" fill="none" stroke="#e85858" stroke-width="1.3" stroke-linecap="round" stroke-linejoin="round"/>
<path d="M156,662 L163,665" fill="none" stroke="#a03030" stroke-width="1.9" stroke-linecap="round" stroke-linejoin="round"/>
<path d="M156,662 L163,665" fill="none" stroke="#e85858" stroke-width="1.0" stroke-linecap="round" stroke-linejoin="round"/>
<path d="M134,710 L140,711 L146,709 M140,711 L141,714 M146,709 L152,706 L160,704" fill="none" stroke="#b88080" stroke-width="1.7000000000000002" stroke-linecap="round" stroke-linejoin="round"/>
<path d="M134,710 L140,711 L146,709 M140,711 L141,714 M146,709 L152,706 L160,704" fill="none" stroke="#f2baba" stroke-width="0.8" stroke-linecap="round" stroke-linejoin="round"/>
<path d="M164,697 L172,697 L178,697 M172,697 L172,693 M174,697 L176,700" fill="none" stroke="#b88080" stroke-width="1.7000000000000002" stroke-linecap="round" stroke-linejoin="round"/>
<path d="M164,697 L172,697 L178,697 M172,697 L172,693 M174,697 L176,700" fill="none" stroke="#f2baba" stroke-width="0.8" stroke-linecap="round" stroke-linejoin="round"/>
<path d="M150,690 L156,686 M153,688 L151,685" fill="none" stroke="#b88080" stroke-width="1.7000000000000002" stroke-linecap="round" stroke-linejoin="round"/>
<path d="M150,690 L156,686 M153,688 L151,685" fill="none" stroke="#f2baba" stroke-width="0.8" stroke-linecap="round" stroke-linejoin="round"/>
<path d="M99,679 C104,686 110,694 118,697 C126,699 132,697 134,692 C136,684 134,676 132,668 C131,660 134,654 138,650" fill="none" stroke="#15a815" stroke-width="3.3" stroke-linecap="round" stroke-linejoin="round"/>
<path d="M99,679 C104,686 110,694 118,697 C126,699 132,697 134,692 C136,684 134,676 132,668 C131,660 134,654 138,650" fill="none" stroke="#1ee01e" stroke-width="2.4" stroke-linecap="round" stroke-linejoin="round"/>
<ellipse cx="143" cy="666" rx="15" ry="13" fill="none" stroke="#1ee01e" stroke-width="3.6"/>
<ellipse cx="147" cy="667" rx="9" ry="11" fill="none" stroke="#1ee01e" stroke-width="3.2"/>
<path d="M155,656 C162,660 162,674 155,680" fill="none" stroke="#1ee01e" stroke-width="5.5"/>
<path d="M139,655 C136,662 137,672 141,680" fill="none" stroke="#15a815" stroke-width="1"/>
<path d="M139,650 L139,641" fill="none" stroke="#5e5e5e" stroke-width="1.9" stroke-linecap="round" stroke-linejoin="round"/>
<path d="M139,650 L139,641" fill="none" stroke="#9c9c9c" stroke-width="1.0" stroke-linecap="round" stroke-linejoin="round"/>
</g>
<rect x="145.40" y="655.50" width="18.40" height="7.20" fill="#e86464"/>
<text x="154.60" y="661.20" font-size="6.4" text-anchor="middle" fill="#222" stroke="#222" stroke-width="0.13"><tspan>R330</tspan></text>
<rect x="136.80" y="681.10" width="18.40" height="7.10" fill="#f4a8a8"/>
<text x="146.00" y="686.70" font-size="6.4" text-anchor="middle" fill="#222" stroke="#222" stroke-width="0.13"><tspan>T329</tspan></text>
<rect x="171.50" y="700.50" width="17.40" height="7.20" fill="#fbd3d3"/>
<text x="180.20" y="706.20" font-size="6.4" text-anchor="middle" fill="#222" stroke="#222" stroke-width="0.13"><tspan>L328</tspan></text>
<rect x="117.40" y="706.60" width="17.30" height="7.20" fill="#fbd3d3"/>
<text x="126.05" y="712.30" font-size="6.4" text-anchor="middle" fill="#222" stroke="#222" stroke-width="0.13"><tspan>Q327</tspan></text>
<rect x="55.60" y="589.80" width="8.90" height="8.90" fill="#add8e6" stroke="#444" stroke-width="0.6"/>
<text x="67.40" y="598.50" font-size="8.4" text-anchor="start" fill="#000" stroke="#000" stroke-width="0.13"><tspan>CDT1</tspan></text>
<rect x="55.60" y="605.60" width="8.90" height="8.90" fill="#8c8c8c" stroke="#444" stroke-width="0.6"/>
<text x="67.40" y="613.40" font-size="8.4" text-anchor="start" fill="#000" stroke="#000" stroke-width="0.13"><tspan>Geminin</tspan></text>
<rect x="55.60" y="637.80" width="8.90" height="8.90" fill="#f5a5a5" stroke="#444" stroke-width="0.6"/>
<text x="67.40" y="645.50" font-size="8.4" text-anchor="start" fill="#000" stroke="#000" stroke-width="0.13"><tspan>CDT1 318-333</tspan></text>
<rect x="55.60" y="653.60" width="8.90" height="8.90" fill="#00ee00" stroke="#444" stroke-width="0.6"/>
<text x="67.40" y="662.30" font-size="8.4" text-anchor="start" fill="#000" stroke="#000" stroke-width="0.13"><tspan>Gem A 76-95</tspan></text>
<text x="54.60" y="632.00" font-size="8.4" text-anchor="start" fill="#000" stroke="#000" stroke-width="0.13"><tspan>Region 3.2 residues</tspan></text>
<rect x="327.95" y="536.90" width="18.82" height="198.30" fill="#e4e4e4"/>
<rect x="363.61" y="536.90" width="26.75" height="198.30" fill="#e4e4e4"/>
<text x="337.36" y="535.40" font-size="8.3" text-anchor="middle" fill="#000" stroke="#000" stroke-width="0.13"><tspan>Unbound</tspan></text>
<text x="376.99" y="535.40" font-size="8.3" text-anchor="middle" fill="#000" stroke="#000" stroke-width="0.13"><tspan>Tri.</tspan></text>
<path d="M319.03,604.40 L319.03,593.06 L324.88,593.06 L324.88,576.97 L330.72,576.97 L330.72,565.41 L336.57,565.41 L336.57,562.69 L342.41,562.69 L342.41,575.84 L348.26,575.84 L348.26,585.13 L354.10,585.13 L354.10,596.24 L359.95,596.24 L359.95,600.32 L365.79,600.32 L365.79,602.13 L371.64,602.13 L371.64,602.59 L377.48,602.59 L377.48,602.13 L383.33,602.13 L383.33,602.59 L389.17,602.59 L389.17,603.04 L395.02,603.04 L395.02,603.04 L400.86,603.04 L400.86,603.49 L406.71,603.49 L406.71,603.49 L412.55,603.49 L412.55,603.72 L418.40,603.72 L418.40,603.72 L424.24,603.72 L424.24,603.95 L430.09,603.95 L430.09,603.95 L435.93,603.95 L435.93,604.40 Z" fill="#8fd3b8" fill-opacity="0.28" stroke="none"/>
<path d="M290.30,604.40 L290.30,604.40 L290.80,604.40 L291.29,604.40 L291.79,604.40 L292.28,604.40 L292.78,604.40 L293.27,604.40 L293.77,604.40 L294.26,604.40 L294.76,604.40 L295.25,604.40 L295.75,604.40 L296.24,604.40 L296.74,604.40 L297.23,604.39 L297.73,604.39 L298.23,604.39 L298.72,604.39 L299.22,604.39 L299.71,604.38 L300.21,604.38 L300.70,604.38 L301.20,604.37 L301.69,604.37 L302.19,604.36 L302.68,604.35 L303.18,604.34 L303.67,604.33 L304.17,604.31 L304.67,604.30 L305.16,604.28 L305.66,604.25 L306.15,604.23 L306.65,604.19 L307.14,604.16 L307.64,604.11 L308.13,604.06 L308.63,604.01 L309.12,603.94 L309.62,603.87 L310.11,603.78 L310.61,603.68 L311.10,603.57 L311.60,603.44 L312.10,603.30 L312.59,603.14 L313.09,602.96 L313.58,602.75 L314.08,602.53 L314.57,602.28 L315.07,602.00 L315.56,601.69 L316.06,601.35 L316.55,600.97 L317.05,600.56 L317.54,600.11 L318.04,599.62 L318.53,599.09 L319.03,598.51 L319.53,597.89 L320.02,597.23 L320.52,596.51 L321.01,595.75 L321.51,594.93 L322.00,594.07 L322.50,593.16 L322.99,592.20 L323.49,591.19 L323.98,590.14 L324.48,589.04 L324.97,587.90 L325.47,586.72 L325.97,585.51 L326.46,584.26 L326.96,582.99 L327.45,581.70 L327.95,580.39 L328.44,579.08 L328.94,577.76 L329.43,576.44 L329.93,575.14 L330.42,573.86 L330.92,572.60 L331.41,571.38 L331.91,570.20 L332.40,569.06 L332.90,567.99 L333.40,566.98 L333.89,566.04 L334.39,565.19 L334.88,564.41 L335.38,563.73 L335.87,563.14 L336.37,562.66 L336.86,562.28 L337.36,562.00 L337.85,561.84 L338.35,561.78 L338.84,561.84 L339.34,562.00 L339.84,562.28 L340.33,562.66 L340.83,563.14 L341.32,563.73 L341.82,564.41 L342.31,565.19 L342.81,566.04 L343.30,566.98 L343.80,567.99 L344.29,569.06 L344.79,570.20 L345.28,571.38 L345.78,572.60 L346.27,573.86 L346.77,575.14 L347.27,576.44 L347.76,577.76 L348.26,579.08 L348.75,580.39 L349.25,581.70 L349.74,582.99 L350.24,584.26 L350.73,585.51 L351.23,586.72 L351.72,587.90 L352.22,589.04 L352.71,590.14 L353.21,591.19 L353.70,592.20 L354.20,593.16 L354.70,594.07 L355.19,594.93 L355.69,595.75 L356.18,596.51 L356.68,597.23 L357.17,597.89 L357.67,598.51 L358.16,599.09 L358.66,599.62 L359.15,600.11 L359.65,600.56 L360.14,600.97 L360.64,601.35 L361.14,601.69 L361.63,602.00 L362.13,602.28 L362.62,602.53 L363.12,602.75 L363.61,602.96 L364.11,603.14 L364.60,603.30 L365.10,603.44 L365.59,603.57 L366.09,603.68 L366.58,603.78 L367.08,603.87 L367.57,603.94 L368.07,604.01 L368.57,604.06 L369.06,604.11 L369.56,604.16 L370.05,604.19 L370.55,604.23 L371.04,604.25 L371.54,604.28 L372.03,604.30 L372.53,604.31 L373.02,604.33 L373.52,604.34 L374.01,604.35 L374.51,604.36 L375.00,604.37 L375.50,604.37 L376.00,604.38 L376.49,604.38 L376.99,604.38 L377.48,604.39 L377.98,604.39 L378.47,604.39 L378.97,604.39 L379.46,604.39 L379.96,604.40 L380.45,604.40 L380.95,604.40 L381.44,604.40 L381.94,604.40 L382.44,604.40 L382.93,604.40 L383.43,604.40 L383.92,604.40 L384.42,604.40 L384.91,604.40 L385.41,604.40 L385.90,604.40 L386.40,604.40 L386.89,604.40 L387.39,604.40 L387.88,604.40 L388.38,604.40 L388.87,604.40 L389.37,604.40 L389.87,604.40 L390.36,604.40 L390.86,604.40 L391.35,604.40 L391.85,604.40 L392.34,604.40 L392.84,604.40 L393.33,604.40 L393.83,604.40 L394.32,604.40 L394.82,604.40 L395.31,604.40 L395.81,604.40 L396.30,604.40 L396.80,604.40 L397.30,604.40 L397.79,604.40 L398.29,604.40 L398.78,604.40 L399.28,604.40 L399.77,604.40 L400.27,604.40 L400.76,604.40 L401.26,604.40 L401.75,604.40 L402.25,604.40 L402.74,604.40 L403.24,604.40 L403.74,604.40 L404.23,604.40 L404.73,604.40 L405.22,604.40 L405.72,604.40 L406.21,604.40 L406.71,604.40 L407.20,604.40 L407.70,604.40 L408.19,604.40 L408.69,604.40 L409.18,604.40 L409.68,604.40 L410.17,604.40 L410.67,604.40 L411.17,604.40 L411.66,604.40 L412.16,604.40 L412.65,604.40 L413.15,604.40 L413.64,604.40 L414.14,604.40 L414.63,604.40 L415.13,604.40 L415.62,604.40 L416.12,604.40 L416.61,604.40 L417.11,604.40 L417.60,604.40 L418.10,604.40 L418.60,604.40 L419.09,604.40 L419.59,604.40 L420.08,604.40 L420.58,604.40 L421.07,604.40 L421.57,604.40 L422.06,604.40 L422.56,604.40 L423.05,604.40 L423.55,604.40 L424.04,604.40 L424.54,604.40 L425.04,604.40 L425.53,604.40 L426.03,604.40 L426.52,604.40 L427.02,604.40 L427.51,604.40 L428.01,604.40 L428.50,604.40 L429.00,604.40 L429.49,604.40 L429.99,604.40 L430.48,604.40 L430.98,604.40 L431.47,604.40 L431.97,604.40 L432.47,604.40 L432.96,604.40 L433.46,604.40 L433.95,604.40 L434.45,604.40 L434.94,604.40 L435.44,604.40 L435.93,604.40 L436.43,604.40 L436.92,604.40 L437.42,604.40 L437.91,604.40 L438.41,604.40 L438.90,604.40 L438.90,604.40 Z" fill="#8fd3b8" fill-opacity="0.45" stroke="none"/>
<path d="M290.30,604.40 L290.30,604.40 L290.80,604.40 L291.29,604.40 L291.79,604.40 L292.28,604.40 L292.78,604.40 L293.27,604.40 L293.77,604.40 L294.26,604.40 L294.76,604.39 L295.25,604.39 L295.75,604.39 L296.24,604.39 L296.74,604.39 L297.23,604.39 L297.73,604.39 L298.23,604.39 L298.72,604.39 L299.22,604.39 L299.71,604.39 L300.21,604.39 L300.70,604.39 L301.20,604.39 L301.69,604.39 L302.19,604.39 L302.68,604.39 L303.18,604.38 L303.67,604.38 L304.17,604.38 L304.67,604.38 L305.16,604.38 L305.66,604.38 L306.15,604.38 L306.65,604.38 L307.14,604.37 L307.64,604.37 L308.13,604.37 L308.63,604.37 L309.12,604.37 L309.62,604.37 L310.11,604.36 L310.61,604.36 L311.10,604.36 L311.60,604.36 L312.10,604.36 L312.59,604.35 L313.09,604.35 L313.58,604.35 L314.08,604.34 L314.57,604.34 L315.07,604.34 L315.56,604.33 L316.06,604.33 L316.55,604.33 L317.05,604.32 L317.54,604.32 L318.04,604.32 L318.53,604.31 L319.03,604.31 L319.53,604.30 L320.02,604.30 L320.52,604.29 L321.01,604.29 L321.51,604.28 L322.00,604.28 L322.50,604.27 L322.99,604.27 L323.49,604.26 L323.98,604.25 L324.48,604.25 L324.97,604.24 L325.47,604.23 L325.97,604.22 L326.46,604.22 L326.96,604.21 L327.45,604.20 L327.95,604.19 L328.44,604.18 L328.94,604.17 L329.43,604.16 L329.93,604.15 L330.42,604.14 L330.92,604.13 L331.41,604.12 L331.91,604.11 L332.40,604.10 L332.90,604.09 L333.40,604.08 L333.89,604.07 L334.39,604.05 L334.88,604.04 L335.38,604.03 L335.87,604.01 L336.37,604.00 L336.86,603.99 L337.36,603.97 L337.85,603.96 L338.35,603.94 L338.84,603.93 L339.34,603.91 L339.84,603.90 L340.33,603.88 L340.83,603.86 L341.32,603.85 L341.82,603.83 L342.31,603.81 L342.81,603.79 L343.30,603.78 L343.80,603.76 L344.29,603.74 L344.79,603.72 L345.28,603.70 L345.78,603.68 L346.27,603.66 L346.77,603.64 L347.27,603.62 L347.76,603.60 L348.26,603.58 L348.75,603.56 L349.25,603.54 L349.74,603.52 L350.24,603.50 L350.73,603.47 L351.23,603.45 L351.72,603.43 L352.22,603.41 L352.71,603.39 L353.21,603.37 L353.70,603.34 L354.20,603.32 L354.70,603.30 L355.19,603.28 L355.69,603.26 L356.18,603.23 L356.68,603.21 L357.17,603.19 L357.67,603.17 L358.16,603.15 L358.66,603.13 L359.15,603.10 L359.65,603.08 L360.14,603.06 L360.64,603.04 L361.14,603.02 L361.63,603.00 L362.13,602.98 L362.62,602.96 L363.12,602.94 L363.61,602.92 L364.11,602.90 L364.60,602.89 L365.10,602.87 L365.59,602.85 L366.09,602.83 L366.58,602.82 L367.08,602.80 L367.57,602.78 L368.07,602.77 L368.57,602.75 L369.06,602.74 L369.56,602.73 L370.05,602.71 L370.55,602.70 L371.04,602.69 L371.54,602.68 L372.03,602.67 L372.53,602.66 L373.02,602.65 L373.52,602.64 L374.01,602.63 L374.51,602.62 L375.00,602.62 L375.50,602.61 L376.00,602.60 L376.49,602.60 L376.99,602.60 L377.48,602.59 L377.98,602.59 L378.47,602.59 L378.97,602.59 L379.46,602.59 L379.96,602.59 L380.45,602.59 L380.95,602.59 L381.44,602.59 L381.94,602.60 L382.44,602.60 L382.93,602.60 L383.43,602.61 L383.92,602.62 L384.42,602.62 L384.91,602.63 L385.41,602.64 L385.90,602.65 L386.40,602.66 L386.89,602.67 L387.39,602.68 L387.88,602.69 L388.38,602.70 L388.87,602.71 L389.37,602.73 L389.87,602.74 L390.36,602.75 L390.86,602.77 L391.35,602.78 L391.85,602.80 L392.34,602.82 L392.84,602.83 L393.33,602.85 L393.83,602.87 L394.32,602.89 L394.82,602.90 L395.31,602.92 L395.81,602.94 L396.30,602.96 L396.80,602.98 L397.30,603.00 L397.79,603.02 L398.29,603.04 L398.78,603.06 L399.28,603.08 L399.77,603.10 L400.27,603.13 L400.76,603.15 L401.26,603.17 L401.75,603.19 L402.25,603.21 L402.74,603.23 L403.24,603.26 L403.74,603.28 L404.23,603.30 L404.73,603.32 L405.22,603.34 L405.72,603.37 L406.21,603.39 L406.71,603.41 L407.20,603.43 L407.70,603.45 L408.19,603.47 L408.69,603.50 L409.18,603.52 L409.68,603.54 L410.17,603.56 L410.67,603.58 L411.17,603.60 L411.66,603.62 L412.16,603.64 L412.65,603.66 L413.15,603.68 L413.64,603.70 L414.14,603.72 L414.63,603.74 L415.13,603.76 L415.62,603.78 L416.12,603.79 L416.61,603.81 L417.11,603.83 L417.60,603.85 L418.10,603.86 L418.60,603.88 L419.09,603.90 L419.59,603.91 L420.08,603.93 L420.58,603.94 L421.07,603.96 L421.57,603.97 L422.06,603.99 L422.56,604.00 L423.05,604.01 L423.55,604.03 L424.04,604.04 L424.54,604.05 L425.04,604.07 L425.53,604.08 L426.03,604.09 L426.52,604.10 L427.02,604.11 L427.51,604.12 L428.01,604.13 L428.50,604.14 L429.00,604.15 L429.49,604.16 L429.99,604.17 L430.48,604.18 L430.98,604.19 L431.47,604.20 L431.97,604.21 L432.47,604.22 L432.96,604.22 L433.46,604.23 L433.95,604.24 L434.45,604.25 L434.94,604.25 L435.44,604.26 L435.93,604.27 L436.43,604.27 L436.92,604.28 L437.42,604.28 L437.91,604.29 L438.41,604.29 L438.90,604.30 L438.90,604.40 Z" fill="#8fd3b8" fill-opacity="0.45" stroke="none"/>
<path d="M319.03,604.40 L319.03,593.06 L324.88,593.06 L324.88,576.97 L330.72,576.97 L330.72,565.41 L336.57,565.41 L336.57,562.69 L342.41,562.69 L342.41,575.84 L348.26,575.84 L348.26,585.13 L354.10,585.13 L354.10,596.24 L359.95,596.24 L359.95,600.32 L365.79,600.32 L365.79,602.13 L371.64,602.13 L371.64,602.59 L377.48,602.59 L377.48,602.13 L383.33,602.13 L383.33,602.59 L389.17,602.59 L389.17,603.04 L395.02,603.04 L395.02,603.04 L400.86,603.04 L400.86,603.49 L406.71,603.49 L406.71,603.49 L412.55,603.49 L412.55,603.72 L418.40,603.72 L418.40,603.72 L424.24,603.72 L424.24,603.95 L430.09,603.95 L430.09,603.95 L435.93,603.95 L435.93,604.40 Z" fill="none" stroke="#1e9f78" stroke-width="0.9" stroke-linejoin="miter"/>
<path d="M290.30,604.40 L290.80,604.40 L291.29,604.40 L291.79,604.40 L292.28,604.40 L292.78,604.40 L293.27,604.40 L293.77,604.40 L294.26,604.40 L294.76,604.40 L295.25,604.40 L295.75,604.40 L296.24,604.40 L296.74,604.40 L297.23,604.39 L297.73,604.39 L298.23,604.39 L298.72,604.39 L299.22,604.39 L299.71,604.38 L300.21,604.38 L300.70,604.38 L301.20,604.37 L301.69,604.37 L302.19,604.36 L302.68,604.35 L303.18,604.34 L303.67,604.33 L304.17,604.31 L304.67,604.30 L305.16,604.28 L305.66,604.25 L306.15,604.23 L306.65,604.19 L307.14,604.16 L307.64,604.11 L308.13,604.06 L308.63,604.01 L309.12,603.94 L309.62,603.87 L310.11,603.78 L310.61,603.68 L311.10,603.57 L311.60,603.44 L312.10,603.30 L312.59,603.14 L313.09,602.96 L313.58,602.75 L314.08,602.53 L314.57,602.28 L315.07,602.00 L315.56,601.69 L316.06,601.35 L316.55,600.97 L317.05,600.56 L317.54,600.11 L318.04,599.62 L318.53,599.09 L319.03,598.51 L319.53,597.89 L320.02,597.23 L320.52,596.51 L321.01,595.75 L321.51,594.93 L322.00,594.07 L322.50,593.16 L322.99,592.20 L323.49,591.19 L323.98,590.14 L324.48,589.04 L324.97,587.90 L325.47,586.72 L325.97,585.51 L326.46,584.26 L326.96,582.99 L327.45,581.70 L327.95,580.39 L328.44,579.08 L328.94,577.76 L329.43,576.44 L329.93,575.14 L330.42,573.86 L330.92,572.60 L331.41,571.38 L331.91,570.20 L332.40,569.06 L332.90,567.99 L333.40,566.98 L333.89,566.04 L334.39,565.19 L334.88,564.41 L335.38,563.73 L335.87,563.14 L336.37,562.66 L336.86,562.28 L337.36,562.00 L337.85,561.84 L338.35,561.78 L338.84,561.84 L339.34,562.00 L339.84,562.28 L340.33,562.66 L340.83,563.14 L341.32,563.73 L341.82,564.41 L342.31,565.19 L342.81,566.04 L343.30,566.98 L343.80,567.99 L344.29,569.06 L344.79,570.20 L345.28,571.38 L345.78,572.60 L346.27,573.86 L346.77,575.14 L347.27,576.44 L347.76,577.76 L348.26,579.08 L348.75,580.39 L349.25,581.70 L349.74,582.99 L350.24,584.26 L350.73,585.51 L351.23,586.72 L351.72,587.90 L352.22,589.04 L352.71,590.14 L353.21,591.19 L353.70,592.20 L354.20,593.16 L354.70,594.07 L355.19,594.93 L355.69,595.75 L356.18,596.51 L356.68,597.23 L357.17,597.89 L357.67,598.51 L358.16,599.09 L358.66,599.62 L359.15,600.11 L359.65,600.56 L360.14,600.97 L360.64,601.35 L361.14,601.69 L361.63,602.00 L362.13,602.28 L362.62,602.53 L363.12,602.75 L363.61,602.96 L364.11,603.14 L364.60,603.30 L365.10,603.44 L365.59,603.57 L366.09,603.68 L366.58,603.78 L367.08,603.87 L367.57,603.94 L368.07,604.01 L368.57,604.06 L369.06,604.11 L369.56,604.16 L370.05,604.19 L370.55,604.23 L371.04,604.25 L371.54,604.28 L372.03,604.30 L372.53,604.31 L373.02,604.33 L373.52,604.34 L374.01,604.35 L374.51,604.36 L375.00,604.37 L375.50,604.37 L376.00,604.38 L376.49,604.38 L376.99,604.38 L377.48,604.39 L377.98,604.39 L378.47,604.39 L378.97,604.39 L379.46,604.39 L379.96,604.40 L380.45,604.40 L380.95,604.40 L381.44,604.40 L381.94,604.40 L382.44,604.40 L382.93,604.40 L383.43,604.40 L383.92,604.40 L384.42,604.40 L384.91,604.40 L385.41,604.40 L385.90,604.40 L386.40,604.40 L386.89,604.40 L387.39,604.40 L387.88,604.40 L388.38,604.40 L388.87,604.40 L389.37,604.40 L389.87,604.40 L390.36,604.40 L390.86,604.40 L391.35,604.40 L391.85,604.40 L392.34,604.40 L392.84,604.40 L393.33,604.40 L393.83,604.40 L394.32,604.40 L394.82,604.40 L395.31,604.40 L395.81,604.40 L396.30,604.40 L396.80,604.40 L397.30,604.40 L397.79,604.40 L398.29,604.40 L398.78,604.40 L399.28,604.40 L399.77,604.40 L400.27,604.40 L400.76,604.40 L401.26,604.40 L401.75,604.40 L402.25,604.40 L402.74,604.40 L403.24,604.40 L403.74,604.40 L404.23,604.40 L404.73,604.40 L405.22,604.40 L405.72,604.40 L406.21,604.40 L406.71,604.40 L407.20,604.40 L407.70,604.40 L408.19,604.40 L408.69,604.40 L409.18,604.40 L409.68,604.40 L410.17,604.40 L410.67,604.40 L411.17,604.40 L411.66,604.40 L412.16,604.40 L412.65,604.40 L413.15,604.40 L413.64,604.40 L414.14,604.40 L414.63,604.40 L415.13,604.40 L415.62,604.40 L416.12,604.40 L416.61,604.40 L417.11,604.40 L417.60,604.40 L418.10,604.40 L418.60,604.40 L419.09,604.40 L419.59,604.40 L420.08,604.40 L420.58,604.40 L421.07,604.40 L421.57,604.40 L422.06,604.40 L422.56,604.40 L423.05,604.40 L423.55,604.40 L424.04,604.40 L424.54,604.40 L425.04,604.40 L425.53,604.40 L426.03,604.40 L426.52,604.40 L427.02,604.40 L427.51,604.40 L428.01,604.40 L428.50,604.40 L429.00,604.40 L429.49,604.40 L429.99,604.40 L430.48,604.40 L430.98,604.40 L431.47,604.40 L431.97,604.40 L432.47,604.40 L432.96,604.40 L433.46,604.40 L433.95,604.40 L434.45,604.40 L434.94,604.40 L435.44,604.40 L435.93,604.40 L436.43,604.40 L436.92,604.40 L437.42,604.40 L437.91,604.40 L438.41,604.40 L438.90,604.40" fill="none" stroke="#1e9f78" stroke-width="1.0"/>
<path d="M290.30,604.40 L290.80,604.40 L291.29,604.40 L291.79,604.40 L292.28,604.40 L292.78,604.40 L293.27,604.40 L293.77,604.40 L294.26,604.40 L294.76,604.39 L295.25,604.39 L295.75,604.39 L296.24,604.39 L296.74,604.39 L297.23,604.39 L297.73,604.39 L298.23,604.39 L298.72,604.39 L299.22,604.39 L299.71,604.39 L300.21,604.39 L300.70,604.39 L301.20,604.39 L301.69,604.39 L302.19,604.39 L302.68,604.39 L303.18,604.38 L303.67,604.38 L304.17,604.38 L304.67,604.38 L305.16,604.38 L305.66,604.38 L306.15,604.38 L306.65,604.38 L307.14,604.37 L307.64,604.37 L308.13,604.37 L308.63,604.37 L309.12,604.37 L309.62,604.37 L310.11,604.36 L310.61,604.36 L311.10,604.36 L311.60,604.36 L312.10,604.36 L312.59,604.35 L313.09,604.35 L313.58,604.35 L314.08,604.34 L314.57,604.34 L315.07,604.34 L315.56,604.33 L316.06,604.33 L316.55,604.33 L317.05,604.32 L317.54,604.32 L318.04,604.32 L318.53,604.31 L319.03,604.31 L319.53,604.30 L320.02,604.30 L320.52,604.29 L321.01,604.29 L321.51,604.28 L322.00,604.28 L322.50,604.27 L322.99,604.27 L323.49,604.26 L323.98,604.25 L324.48,604.25 L324.97,604.24 L325.47,604.23 L325.97,604.22 L326.46,604.22 L326.96,604.21 L327.45,604.20 L327.95,604.19 L328.44,604.18 L328.94,604.17 L329.43,604.16 L329.93,604.15 L330.42,604.14 L330.92,604.13 L331.41,604.12 L331.91,604.11 L332.40,604.10 L332.90,604.09 L333.40,604.08 L333.89,604.07 L334.39,604.05 L334.88,604.04 L335.38,604.03 L335.87,604.01 L336.37,604.00 L336.86,603.99 L337.36,603.97 L337.85,603.96 L338.35,603.94 L338.84,603.93 L339.34,603.91 L339.84,603.90 L340.33,603.88 L340.83,603.86 L341.32,603.85 L341.82,603.83 L342.31,603.81 L342.81,603.79 L343.30,603.78 L343.80,603.76 L344.29,603.74 L344.79,603.72 L345.28,603.70 L345.78,603.68 L346.27,603.66 L346.77,603.64 L347.27,603.62 L347.76,603.60 L348.26,603.58 L348.75,603.56 L349.25,603.54 L349.74,603.52 L350.24,603.50 L350.73,603.47 L351.23,603.45 L351.72,603.43 L352.22,603.41 L352.71,603.39 L353.21,603.37 L353.70,603.34 L354.20,603.32 L354.70,603.30 L355.19,603.28 L355.69,603.26 L356.18,603.23 L356.68,603.21 L357.17,603.19 L357.67,603.17 L358.16,603.15 L358.66,603.13 L359.15,603.10 L359.65,603.08 L360.14,603.06 L360.64,603.04 L361.14,603.02 L361.63,603.00 L362.13,602.98 L362.62,602.96 L363.12,602.94 L363.61,602.92 L364.11,602.90 L364.60,602.89 L365.10,602.87 L365.59,602.85 L366.09,602.83 L366.58,602.82 L367.08,602.80 L367.57,602.78 L368.07,602.77 L368.57,602.75 L369.06,602.74 L369.56,602.73 L370.05,602.71 L370.55,602.70 L371.04,602.69 L371.54,602.68 L372.03,602.67 L372.53,602.66 L373.02,602.65 L373.52,602.64 L374.01,602.63 L374.51,602.62 L375.00,602.62 L375.50,602.61 L376.00,602.60 L376.49,602.60 L376.99,602.60 L377.48,602.59 L377.98,602.59 L378.47,602.59 L378.97,602.59 L379.46,602.59 L379.96,602.59 L380.45,602.59 L380.95,602.59 L381.44,602.59 L381.94,602.60 L382.44,602.60 L382.93,602.60 L383.43,602.61 L383.92,602.62 L384.42,602.62 L384.91,602.63 L385.41,602.64 L385.90,602.65 L386.40,602.66 L386.89,602.67 L387.39,602.68 L387.88,602.69 L388.38,602.70 L388.87,602.71 L389.37,602.73 L389.87,602.74 L390.36,602.75 L390.86,602.77 L391.35,602.78 L391.85,602.80 L392.34,602.82 L392.84,602.83 L393.33,602.85 L393.83,602.87 L394.32,602.89 L394.82,602.90 L395.31,602.92 L395.81,602.94 L396.30,602.96 L396.80,602.98 L397.30,603.00 L397.79,603.02 L398.29,603.04 L398.78,603.06 L399.28,603.08 L399.77,603.10 L400.27,603.13 L400.76,603.15 L401.26,603.17 L401.75,603.19 L402.25,603.21 L402.74,603.23 L403.24,603.26 L403.74,603.28 L404.23,603.30 L404.73,603.32 L405.22,603.34 L405.72,603.37 L406.21,603.39 L406.71,603.41 L407.20,603.43 L407.70,603.45 L408.19,603.47 L408.69,603.50 L409.18,603.52 L409.68,603.54 L410.17,603.56 L410.67,603.58 L411.17,603.60 L411.66,603.62 L412.16,603.64 L412.65,603.66 L413.15,603.68 L413.64,603.70 L414.14,603.72 L414.63,603.74 L415.13,603.76 L415.62,603.78 L416.12,603.79 L416.61,603.81 L417.11,603.83 L417.60,603.85 L418.10,603.86 L418.60,603.88 L419.09,603.90 L419.59,603.91 L420.08,603.93 L420.58,603.94 L421.07,603.96 L421.57,603.97 L422.06,603.99 L422.56,604.00 L423.05,604.01 L423.55,604.03 L424.04,604.04 L424.54,604.05 L425.04,604.07 L425.53,604.08 L426.03,604.09 L426.52,604.10 L427.02,604.11 L427.51,604.12 L428.01,604.13 L428.50,604.14 L429.00,604.15 L429.49,604.16 L429.99,604.17 L430.48,604.18 L430.98,604.19 L431.47,604.20 L431.97,604.21 L432.47,604.22 L432.96,604.22 L433.46,604.23 L433.95,604.24 L434.45,604.25 L434.94,604.25 L435.44,604.26 L435.93,604.27 L436.43,604.27 L436.92,604.28 L437.42,604.28 L437.91,604.29 L438.41,604.29 L438.90,604.30" fill="none" stroke="#1e9f78" stroke-width="1.0"/>
<line x1="287.70" y1="604.40" x2="290.30" y2="604.40" stroke="#222" stroke-width="0.6"/>
<line x1="288.80" y1="595.90" x2="290.30" y2="595.90" stroke="#222" stroke-width="0.6"/>
<line x1="288.80" y1="587.40" x2="290.30" y2="587.40" stroke="#222" stroke-width="0.6"/>
<line x1="288.80" y1="578.90" x2="290.30" y2="578.90" stroke="#222" stroke-width="0.6"/>
<line x1="287.70" y1="570.39" x2="290.30" y2="570.39" stroke="#222" stroke-width="0.6"/>
<line x1="288.80" y1="561.89" x2="290.30" y2="561.89" stroke="#222" stroke-width="0.6"/>
<line x1="288.80" y1="553.39" x2="290.30" y2="553.39" stroke="#222" stroke-width="0.6"/>
<line x1="288.80" y1="544.89" x2="290.30" y2="544.89" stroke="#222" stroke-width="0.6"/>
<text x="285.70" y="605.80" font-size="4.2" text-anchor="end" fill="#222" stroke="#222" stroke-width="0.078"><tspan>0.00</tspan></text>
<text x="285.70" y="571.79" font-size="4.2" text-anchor="end" fill="#222" stroke="#222" stroke-width="0.078"><tspan>0.15</tspan></text>
<line x1="290.30" y1="604.40" x2="438.90" y2="604.40" stroke="#222" stroke-width="0.9"/>
<line x1="290.30" y1="604.40" x2="290.30" y2="607.00" stroke="#222" stroke-width="0.6"/>
<line x1="300.21" y1="604.40" x2="300.21" y2="605.90" stroke="#222" stroke-width="0.6"/>
<line x1="310.11" y1="604.40" x2="310.11" y2="605.90" stroke="#222" stroke-width="0.6"/>
<line x1="320.02" y1="604.40" x2="320.02" y2="607.00" stroke="#222" stroke-width="0.6"/>
<line x1="329.93" y1="604.40" x2="329.93" y2="605.90" stroke="#222" stroke-width="0.6"/>
<line x1="339.84" y1="604.40" x2="339.84" y2="605.90" stroke="#222" stroke-width="0.6"/>
<line x1="349.74" y1="604.40" x2="349.74" y2="607.00" stroke="#222" stroke-width="0.6"/>
<line x1="359.65" y1="604.40" x2="359.65" y2="605.90" stroke="#222" stroke-width="0.6"/>
<line x1="369.56" y1="604.40" x2="369.56" y2="605.90" stroke="#222" stroke-width="0.6"/>
<line x1="379.46" y1="604.40" x2="379.46" y2="607.00" stroke="#222" stroke-width="0.6"/>
<line x1="389.37" y1="604.40" x2="389.37" y2="605.90" stroke="#222" stroke-width="0.6"/>
<line x1="399.28" y1="604.40" x2="399.28" y2="605.90" stroke="#222" stroke-width="0.6"/>
<line x1="409.18" y1="604.40" x2="409.18" y2="607.00" stroke="#222" stroke-width="0.6"/>
<line x1="419.09" y1="604.40" x2="419.09" y2="605.90" stroke="#222" stroke-width="0.6"/>
<line x1="429.00" y1="604.40" x2="429.00" y2="605.90" stroke="#222" stroke-width="0.6"/>
<line x1="438.90" y1="604.40" x2="438.90" y2="607.00" stroke="#222" stroke-width="0.6"/>
<text x="448.50" y="551.70" font-size="8.4" text-anchor="end" fill="#000" stroke="#000" stroke-width="0.13"><tspan>CDT1</tspan><tspan dy="-2.86" font-size="5.21">4A</tspan></text>
<path d="M313.58,669.50 L313.58,665.65 L319.43,665.65 L319.43,655.44 L325.27,655.44 L325.27,632.09 L331.12,632.09 L331.12,613.05 L336.96,613.05 L336.96,617.36 L342.81,617.36 L342.81,640.94 L348.65,640.94 L348.65,659.98 L354.50,659.98 L354.50,667.23 L360.34,667.23 L360.34,668.59 L366.19,668.59 L366.19,669.05 L372.03,669.05 L372.03,669.27 L377.88,669.27 L377.88,669.27 L383.72,669.27 L383.72,669.27 L389.57,669.27 L389.57,669.27 L395.41,669.27 L395.41,669.50 L401.26,669.50 L401.26,669.05 L407.10,669.05 L407.10,669.50 L412.95,669.50 L412.95,669.50 Z" fill="#8fbfe3" fill-opacity="0.28" stroke="none"/>
<path d="M290.30,669.50 L290.30,669.50 L290.80,669.50 L291.29,669.50 L291.79,669.50 L292.28,669.50 L292.78,669.50 L293.27,669.50 L293.77,669.50 L294.26,669.50 L294.76,669.50 L295.25,669.50 L295.75,669.50 L296.24,669.50 L296.74,669.50 L297.23,669.50 L297.73,669.49 L298.23,669.49 L298.72,669.49 L299.22,669.49 L299.71,669.49 L300.21,669.48 L300.70,669.48 L301.20,669.47 L301.69,669.47 L302.19,669.46 L302.68,669.45 L303.18,669.43 L303.67,669.42 L304.17,669.40 L304.67,669.38 L305.16,669.35 L305.66,669.32 L306.15,669.28 L306.65,669.24 L307.14,669.19 L307.64,669.12 L308.13,669.05 L308.63,668.97 L309.12,668.87 L309.62,668.75 L310.11,668.61 L310.61,668.46 L311.10,668.28 L311.60,668.07 L312.10,667.83 L312.59,667.57 L313.09,667.26 L313.58,666.92 L314.08,666.53 L314.57,666.10 L315.07,665.61 L315.56,665.07 L316.06,664.47 L316.55,663.81 L317.05,663.08 L317.54,662.28 L318.04,661.41 L318.53,660.46 L319.03,659.44 L319.53,658.33 L320.02,657.15 L320.52,655.88 L321.01,654.52 L321.51,653.09 L322.00,651.58 L322.50,649.99 L322.99,648.33 L323.49,646.60 L323.98,644.81 L324.48,642.97 L324.97,641.08 L325.47,639.16 L325.97,637.21 L326.46,635.24 L326.96,633.28 L327.45,631.32 L327.95,629.39 L328.44,627.49 L328.94,625.65 L329.43,623.87 L329.93,622.18 L330.42,620.58 L330.92,619.08 L331.41,617.72 L331.91,616.48 L332.40,615.39 L332.90,614.46 L333.40,613.69 L333.89,613.09 L334.39,612.67 L334.88,612.43 L335.38,612.38 L335.87,612.50 L336.37,612.82 L336.86,613.31 L337.36,613.98 L337.85,614.81 L338.35,615.81 L338.84,616.96 L339.34,618.25 L339.84,619.67 L340.33,621.20 L340.83,622.84 L341.32,624.57 L341.82,626.38 L342.31,628.24 L342.81,630.16 L343.30,632.10 L343.80,634.06 L344.29,636.03 L344.79,637.99 L345.28,639.93 L345.78,641.84 L346.27,643.72 L346.77,645.54 L347.27,647.30 L347.76,649.00 L348.26,650.64 L348.75,652.19 L349.25,653.67 L349.74,655.07 L350.24,656.39 L350.73,657.63 L351.23,658.78 L351.72,659.86 L352.22,660.85 L352.71,661.77 L353.21,662.61 L353.70,663.38 L354.20,664.08 L354.70,664.72 L355.19,665.29 L355.69,665.81 L356.18,666.28 L356.68,666.69 L357.17,667.06 L357.67,667.39 L358.16,667.68 L358.66,667.93 L359.15,668.16 L359.65,668.35 L360.14,668.52 L360.64,668.67 L361.14,668.80 L361.63,668.91 L362.13,669.00 L362.62,669.08 L363.12,669.15 L363.61,669.21 L364.11,669.26 L364.60,669.30 L365.10,669.34 L365.59,669.36 L366.09,669.39 L366.58,669.41 L367.08,669.43 L367.57,669.44 L368.07,669.45 L368.57,669.46 L369.06,669.47 L369.56,669.47 L370.05,669.48 L370.55,669.48 L371.04,669.49 L371.54,669.49 L372.03,669.49 L372.53,669.49 L373.02,669.50 L373.52,669.50 L374.01,669.50 L374.51,669.50 L375.00,669.50 L375.50,669.50 L376.00,669.50 L376.49,669.50 L376.99,669.50 L377.48,669.50 L377.98,669.50 L378.47,669.50 L378.97,669.50 L379.46,669.50 L379.96,669.50 L380.45,669.50 L380.95,669.50 L381.44,669.50 L381.94,669.50 L382.44,669.50 L382.93,669.50 L383.43,669.50 L383.92,669.50 L384.42,669.50 L384.91,669.50 L385.41,669.50 L385.90,669.50 L386.40,669.50 L386.89,669.50 L387.39,669.50 L387.88,669.50 L388.38,669.50 L388.87,669.50 L389.37,669.50 L389.87,669.50 L390.36,669.50 L390.86,669.50 L391.35,669.50 L391.85,669.50 L392.34,669.50 L392.84,669.50 L393.33,669.50 L393.83,669.50 L394.32,669.50 L394.82,669.50 L395.31,669.50 L395.81,669.50 L396.30,669.50 L396.80,669.50 L397.30,669.50 L397.79,669.50 L398.29,669.50 L398.78,669.50 L399.28,669.50 L399.77,669.50 L400.27,669.50 L400.76,669.50 L401.26,669.50 L401.75,669.50 L402.25,669.50 L402.74,669.50 L403.24,669.50 L403.74,669.50 L404.23,669.50 L404.73,669.50 L405.22,669.50 L405.72,669.50 L406.21,669.50 L406.71,669.50 L407.20,669.50 L407.70,669.50 L408.19,669.50 L408.69,669.50 L409.18,669.50 L409.68,669.50 L410.17,669.50 L410.67,669.50 L411.17,669.50 L411.66,669.50 L412.16,669.50 L412.65,669.50 L413.15,669.50 L413.64,669.50 L414.14,669.50 L414.63,669.50 L415.13,669.50 L415.62,669.50 L416.12,669.50 L416.61,669.50 L417.11,669.50 L417.60,669.50 L418.10,669.50 L418.60,669.50 L419.09,669.50 L419.59,669.50 L420.08,669.50 L420.58,669.50 L421.07,669.50 L421.57,669.50 L422.06,669.50 L422.56,669.50 L423.05,669.50 L423.55,669.50 L424.04,669.50 L424.54,669.50 L425.04,669.50 L425.53,669.50 L426.03,669.50 L426.52,669.50 L427.02,669.50 L427.51,669.50 L428.01,669.50 L428.50,669.50 L429.00,669.50 L429.49,669.50 L429.99,669.50 L430.48,669.50 L430.98,669.50 L431.47,669.50 L431.97,669.50 L432.47,669.50 L432.96,669.50 L433.46,669.50 L433.95,669.50 L434.45,669.50 L434.94,669.50 L435.44,669.50 L435.93,669.50 L436.43,669.50 L436.92,669.50 L437.42,669.50 L437.91,669.50 L438.41,669.50 L438.90,669.50 L438.90,669.50 Z" fill="#8fbfe3" fill-opacity="0.45" stroke="none"/>
<path d="M313.58,669.50 L313.58,665.65 L319.43,665.65 L319.43,655.44 L325.27,655.44 L325.27,632.09 L331.12,632.09 L331.12,613.05 L336.96,613.05 L336.96,617.36 L342.81,617.36 L342.81,640.94 L348.65,640.94 L348.65,659.98 L354.50,659.98 L354.50,667.23 L360.34,667.23 L360.34,668.59 L366.19,668.59 L366.19,669.05 L372.03,669.05 L372.03,669.27 L377.88,669.27 L377.88,669.27 L383.72,669.27 L383.72,669.27 L389.57,669.27 L389.57,669.27 L395.41,669.27 L395.41,669.50 L401.26,669.50 L401.26,669.05 L407.10,669.05 L407.10,669.50 L412.95,669.50 L412.95,669.50 Z" fill="none" stroke="#2a7fc0" stroke-width="0.9" stroke-linejoin="miter"/>
<path d="M290.30,669.50 L290.80,669.50 L291.29,669.50 L291.79,669.50 L292.28,669.50 L292.78,669.50 L293.27,669.50 L293.77,669.50 L294.26,669.50 L294.76,669.50 L295.25,669.50 L295.75,669.50 L296.24,669.50 L296.74,669.50 L297.23,669.50 L297.73,669.49 L298.23,669.49 L298.72,669.49 L299.22,669.49 L299.71,669.49 L300.21,669.48 L300.70,669.48 L301.20,669.47 L301.69,669.47 L302.19,669.46 L302.68,669.45 L303.18,669.43 L303.67,669.42 L304.17,669.40 L304.67,669.38 L305.16,669.35 L305.66,669.32 L306.15,669.28 L306.65,669.24 L307.14,669.19 L307.64,669.12 L308.13,669.05 L308.63,668.97 L309.12,668.87 L309.62,668.75 L310.11,668.61 L310.61,668.46 L311.10,668.28 L311.60,668.07 L312.10,667.83 L312.59,667.57 L313.09,667.26 L313.58,666.92 L314.08,666.53 L314.57,666.10 L315.07,665.61 L315.56,665.07 L316.06,664.47 L316.55,663.81 L317.05,663.08 L317.54,662.28 L318.04,661.41 L318.53,660.46 L319.03,659.44 L319.53,658.33 L320.02,657.15 L320.52,655.88 L321.01,654.52 L321.51,653.09 L322.00,651.58 L322.50,649.99 L322.99,648.33 L323.49,646.60 L323.98,644.81 L324.48,642.97 L324.97,641.08 L325.47,639.16 L325.97,637.21 L326.46,635.24 L326.96,633.28 L327.45,631.32 L327.95,629.39 L328.44,627.49 L328.94,625.65 L329.43,623.87 L329.93,622.18 L330.42,620.58 L330.92,619.08 L331.41,617.72 L331.91,616.48 L332.40,615.39 L332.90,614.46 L333.40,613.69 L333.89,613.09 L334.39,612.67 L334.88,612.43 L335.38,612.38 L335.87,612.50 L336.37,612.82 L336.86,613.31 L337.36,613.98 L337.85,614.81 L338.35,615.81 L338.84,616.96 L339.34,618.25 L339.84,619.67 L340.33,621.20 L340.83,622.84 L341.32,624.57 L341.82,626.38 L342.31,628.24 L342.81,630.16 L343.30,632.10 L343.80,634.06 L344.29,636.03 L344.79,637.99 L345.28,639.93 L345.78,641.84 L346.27,643.72 L346.77,645.54 L347.27,647.30 L347.76,649.00 L348.26,650.64 L348.75,652.19 L349.25,653.67 L349.74,655.07 L350.24,656.39 L350.73,657.63 L351.23,658.78 L351.72,659.86 L352.22,660.85 L352.71,661.77 L353.21,662.61 L353.70,663.38 L354.20,664.08 L354.70,664.72 L355.19,665.29 L355.69,665.81 L356.18,666.28 L356.68,666.69 L357.17,667.06 L357.67,667.39 L358.16,667.68 L358.66,667.93 L359.15,668.16 L359.65,668.35 L360.14,668.52 L360.64,668.67 L361.14,668.80 L361.63,668.91 L362.13,669.00 L362.62,669.08 L363.12,669.15 L363.61,669.21 L364.11,669.26 L364.60,669.30 L365.10,669.34 L365.59,669.36 L366.09,669.39 L366.58,669.41 L367.08,669.43 L367.57,669.44 L368.07,669.45 L368.57,669.46 L369.06,669.47 L369.56,669.47 L370.05,669.48 L370.55,669.48 L371.04,669.49 L371.54,669.49 L372.03,669.49 L372.53,669.49 L373.02,669.50 L373.52,669.50 L374.01,669.50 L374.51,669.50 L375.00,669.50 L375.50,669.50 L376.00,669.50 L376.49,669.50 L376.99,669.50 L377.48,669.50 L377.98,669.50 L378.47,669.50 L378.97,669.50 L379.46,669.50 L379.96,669.50 L380.45,669.50 L380.95,669.50 L381.44,669.50 L381.94,669.50 L382.44,669.50 L382.93,669.50 L383.43,669.50 L383.92,669.50 L384.42,669.50 L384.91,669.50 L385.41,669.50 L385.90,669.50 L386.40,669.50 L386.89,669.50 L387.39,669.50 L387.88,669.50 L388.38,669.50 L388.87,669.50 L389.37,669.50 L389.87,669.50 L390.36,669.50 L390.86,669.50 L391.35,669.50 L391.85,669.50 L392.34,669.50 L392.84,669.50 L393.33,669.50 L393.83,669.50 L394.32,669.50 L394.82,669.50 L395.31,669.50 L395.81,669.50 L396.30,669.50 L396.80,669.50 L397.30,669.50 L397.79,669.50 L398.29,669.50 L398.78,669.50 L399.28,669.50 L399.77,669.50 L400.27,669.50 L400.76,669.50 L401.26,669.50 L401.75,669.50 L402.25,669.50 L402.74,669.50 L403.24,669.50 L403.74,669.50 L404.23,669.50 L404.73,669.50 L405.22,669.50 L405.72,669.50 L406.21,669.50 L406.71,669.50 L407.20,669.50 L407.70,669.50 L408.19,669.50 L408.69,669.50 L409.18,669.50 L409.68,669.50 L410.17,669.50 L410.67,669.50 L411.17,669.50 L411.66,669.50 L412.16,669.50 L412.65,669.50 L413.15,669.50 L413.64,669.50 L414.14,669.50 L414.63,669.50 L415.13,669.50 L415.62,669.50 L416.12,669.50 L416.61,669.50 L417.11,669.50 L417.60,669.50 L418.10,669.50 L418.60,669.50 L419.09,669.50 L419.59,669.50 L420.08,669.50 L420.58,669.50 L421.07,669.50 L421.57,669.50 L422.06,669.50 L422.56,669.50 L423.05,669.50 L423.55,669.50 L424.04,669.50 L424.54,669.50 L425.04,669.50 L425.53,669.50 L426.03,669.50 L426.52,669.50 L427.02,669.50 L427.51,669.50 L428.01,669.50 L428.50,669.50 L429.00,669.50 L429.49,669.50 L429.99,669.50 L430.48,669.50 L430.98,669.50 L431.47,669.50 L431.97,669.50 L432.47,669.50 L432.96,669.50 L433.46,669.50 L433.95,669.50 L434.45,669.50 L434.94,669.50 L435.44,669.50 L435.93,669.50 L436.43,669.50 L436.92,669.50 L437.42,669.50 L437.91,669.50 L438.41,669.50 L438.90,669.50" fill="none" stroke="#2a7fc0" stroke-width="1.0"/>
<line x1="287.70" y1="669.50" x2="290.30" y2="669.50" stroke="#222" stroke-width="0.6"/>
<line x1="288.80" y1="661.00" x2="290.30" y2="661.00" stroke="#222" stroke-width="0.6"/>
<line x1="288.80" y1="652.50" x2="290.30" y2="652.50" stroke="#222" stroke-width="0.6"/>
<line x1="288.80" y1="644.00" x2="290.30" y2="644.00" stroke="#222" stroke-width="0.6"/>
<line x1="287.70" y1="635.50" x2="290.30" y2="635.50" stroke="#222" stroke-width="0.6"/>
<line x1="288.80" y1="626.99" x2="290.30" y2="626.99" stroke="#222" stroke-width="0.6"/>
<line x1="288.80" y1="618.49" x2="290.30" y2="618.49" stroke="#222" stroke-width="0.6"/>
<line x1="288.80" y1="609.99" x2="290.30" y2="609.99" stroke="#222" stroke-width="0.6"/>
<text x="285.70" y="670.90" font-size="4.2" text-anchor="end" fill="#222" stroke="#222" stroke-width="0.078"><tspan>0.00</tspan></text>
<text x="285.70" y="636.89" font-size="4.2" text-anchor="end" fill="#222" stroke="#222" stroke-width="0.078"><tspan>0.15</tspan></text>
<line x1="290.30" y1="669.50" x2="438.90" y2="669.50" stroke="#222" stroke-width="0.9"/>
<line x1="290.30" y1="669.50" x2="290.30" y2="672.10" stroke="#222" stroke-width="0.6"/>
<line x1="300.21" y1="669.50" x2="300.21" y2="671.00" stroke="#222" stroke-width="0.6"/>
<line x1="310.11" y1="669.50" x2="310.11" y2="671.00" stroke="#222" stroke-width="0.6"/>
<line x1="320.02" y1="669.50" x2="320.02" y2="672.10" stroke="#222" stroke-width="0.6"/>
<line x1="329.93" y1="669.50" x2="329.93" y2="671.00" stroke="#222" stroke-width="0.6"/>
<line x1="339.84" y1="669.50" x2="339.84" y2="671.00" stroke="#222" stroke-width="0.6"/>
<line x1="349.74" y1="669.50" x2="349.74" y2="672.10" stroke="#222" stroke-width="0.6"/>
<line x1="359.65" y1="669.50" x2="359.65" y2="671.00" stroke="#222" stroke-width="0.6"/>
<line x1="369.56" y1="669.50" x2="369.56" y2="671.00" stroke="#222" stroke-width="0.6"/>
<line x1="379.46" y1="669.50" x2="379.46" y2="672.10" stroke="#222" stroke-width="0.6"/>
<line x1="389.37" y1="669.50" x2="389.37" y2="671.00" stroke="#222" stroke-width="0.6"/>
<line x1="399.28" y1="669.50" x2="399.28" y2="671.00" stroke="#222" stroke-width="0.6"/>
<line x1="409.18" y1="669.50" x2="409.18" y2="672.10" stroke="#222" stroke-width="0.6"/>
<line x1="419.09" y1="669.50" x2="419.09" y2="671.00" stroke="#222" stroke-width="0.6"/>
<line x1="429.00" y1="669.50" x2="429.00" y2="671.00" stroke="#222" stroke-width="0.6"/>
<line x1="438.90" y1="669.50" x2="438.90" y2="672.10" stroke="#222" stroke-width="0.6"/>
<text x="448.50" y="621.60" font-size="8.4" text-anchor="end" fill="#000" stroke="#000" stroke-width="0.13"><tspan>Gem</tspan><tspan dy="-2.86" font-size="5.21">FL</tspan></text>
<path d="M319.43,735.20 L319.43,733.39 L325.22,733.39 L325.22,726.36 L331.02,726.36 L331.02,719.56 L336.81,719.56 L336.81,715.48 L342.61,715.48 L342.61,716.84 L348.40,716.84 L348.40,720.69 L354.20,720.69 L354.20,722.96 L360.00,722.96 L360.00,720.69 L365.79,720.69 L365.79,715.48 L371.59,715.48 L371.59,712.08 L377.38,712.08 L377.38,711.40 L383.18,711.40 L383.18,713.89 L388.97,713.89 L388.97,718.65 L394.77,718.65 L394.77,723.41 L400.56,723.41 L400.56,727.27 L406.36,727.27 L406.36,730.44 L412.16,730.44 L412.16,732.03 L417.95,732.03 L417.95,732.93 L423.75,732.93 L423.75,733.84 L429.54,733.84 L429.54,734.29 L435.34,734.29 L435.34,735.20 Z" fill="#f3c35a" fill-opacity="0.28" stroke="none"/>
<path d="M290.30,735.20 L290.30,735.20 L290.80,735.20 L291.29,735.19 L291.79,735.19 L292.28,735.19 L292.78,735.19 L293.27,735.19 L293.77,735.19 L294.26,735.19 L294.76,735.18 L295.25,735.18 L295.75,735.18 L296.24,735.17 L296.74,735.17 L297.23,735.16 L297.73,735.16 L298.23,735.15 L298.72,735.14 L299.22,735.13 L299.71,735.12 L300.21,735.11 L300.70,735.10 L301.20,735.09 L301.69,735.07 L302.19,735.05 L302.68,735.03 L303.18,735.01 L303.67,734.98 L304.17,734.95 L304.67,734.92 L305.16,734.88 L305.66,734.84 L306.15,734.80 L306.65,734.75 L307.14,734.70 L307.64,734.64 L308.13,734.57 L308.63,734.50 L309.12,734.42 L309.62,734.33 L310.11,734.24 L310.61,734.14 L311.10,734.02 L311.60,733.90 L312.10,733.77 L312.59,733.63 L313.09,733.48 L313.58,733.31 L314.08,733.14 L314.57,732.95 L315.07,732.75 L315.56,732.53 L316.06,732.30 L316.55,732.06 L317.05,731.80 L317.54,731.53 L318.04,731.24 L318.53,730.93 L319.03,730.62 L319.53,730.28 L320.02,729.93 L320.52,729.57 L321.01,729.19 L321.51,728.80 L322.00,728.39 L322.50,727.97 L322.99,727.54 L323.49,727.09 L323.98,726.64 L324.48,726.17 L324.97,725.70 L325.47,725.21 L325.97,724.73 L326.46,724.23 L326.96,723.74 L327.45,723.24 L327.95,722.74 L328.44,722.24 L328.94,721.75 L329.43,721.26 L329.93,720.78 L330.42,720.31 L330.92,719.85 L331.41,719.41 L331.91,718.98 L332.40,718.56 L332.90,718.17 L333.40,717.79 L333.89,717.44 L334.39,717.12 L334.88,716.82 L335.38,716.54 L335.87,716.30 L336.37,716.08 L336.86,715.90 L337.36,715.75 L337.85,715.63 L338.35,715.55 L338.84,715.49 L339.34,715.48 L339.84,715.49 L340.33,715.55 L340.83,715.63 L341.32,715.75 L341.82,715.90 L342.31,716.08 L342.81,716.30 L343.30,716.54 L343.80,716.82 L344.29,717.12 L344.79,717.44 L345.28,717.79 L345.78,718.17 L346.27,718.56 L346.77,718.98 L347.27,719.41 L347.76,719.85 L348.26,720.31 L348.75,720.78 L349.25,721.26 L349.74,721.75 L350.24,722.24 L350.73,722.74 L351.23,723.24 L351.72,723.74 L352.22,724.23 L352.71,724.73 L353.21,725.21 L353.70,725.70 L354.20,726.17 L354.70,726.64 L355.19,727.09 L355.69,727.54 L356.18,727.97 L356.68,728.39 L357.17,728.80 L357.67,729.19 L358.16,729.57 L358.66,729.93 L359.15,730.28 L359.65,730.62 L360.14,730.93 L360.64,731.24 L361.14,731.53 L361.63,731.80 L362.13,732.06 L362.62,732.30 L363.12,732.53 L363.61,732.75 L364.11,732.95 L364.60,733.14 L365.10,733.31 L365.59,733.48 L366.09,733.63 L366.58,733.77 L367.08,733.90 L367.57,734.02 L368.07,734.14 L368.57,734.24 L369.06,734.33 L369.56,734.42 L370.05,734.50 L370.55,734.57 L371.04,734.64 L371.54,734.70 L372.03,734.75 L372.53,734.80 L373.02,734.84 L373.52,734.88 L374.01,734.92 L374.51,734.95 L375.00,734.98 L375.50,735.01 L376.00,735.03 L376.49,735.05 L376.99,735.07 L377.48,735.09 L377.98,735.10 L378.47,735.11 L378.97,735.12 L379.46,735.13 L379.96,735.14 L380.45,735.15 L380.95,735.16 L381.44,735.16 L381.94,735.17 L382.44,735.17 L382.93,735.18 L383.43,735.18 L383.92,735.18 L384.42,735.19 L384.91,735.19 L385.41,735.19 L385.90,735.19 L386.40,735.19 L386.89,735.19 L387.39,735.19 L387.88,735.20 L388.38,735.20 L388.87,735.20 L389.37,735.20 L389.87,735.20 L390.36,735.20 L390.86,735.20 L391.35,735.20 L391.85,735.20 L392.34,735.20 L392.84,735.20 L393.33,735.20 L393.83,735.20 L394.32,735.20 L394.82,735.20 L395.31,735.20 L395.81,735.20 L396.30,735.20 L396.80,735.20 L397.30,735.20 L397.79,735.20 L398.29,735.20 L398.78,735.20 L399.28,735.20 L399.77,735.20 L400.27,735.20 L400.76,735.20 L401.26,735.20 L401.75,735.20 L402.25,735.20 L402.74,735.20 L403.24,735.20 L403.74,735.20 L404.23,735.20 L404.73,735.20 L405.22,735.20 L405.72,735.20 L406.21,735.20 L406.71,735.20 L407.20,735.20 L407.70,735.20 L408.19,735.20 L408.69,735.20 L409.18,735.20 L409.68,735.20 L410.17,735.20 L410.67,735.20 L411.17,735.20 L411.66,735.20 L412.16,735.20 L412.65,735.20 L413.15,735.20 L413.64,735.20 L414.14,735.20 L414.63,735.20 L415.13,735.20 L415.62,735.20 L416.12,735.20 L416.61,735.20 L417.11,735.20 L417.60,735.20 L418.10,735.20 L418.60,735.20 L419.09,735.20 L419.59,735.20 L420.08,735.20 L420.58,735.20 L421.07,735.20 L421.57,735.20 L422.06,735.20 L422.56,735.20 L423.05,735.20 L423.55,735.20 L424.04,735.20 L424.54,735.20 L425.04,735.20 L425.53,735.20 L426.03,735.20 L426.52,735.20 L427.02,735.20 L427.51,735.20 L428.01,735.20 L428.50,735.20 L429.00,735.20 L429.49,735.20 L429.99,735.20 L430.48,735.20 L430.98,735.20 L431.47,735.20 L431.97,735.20 L432.47,735.20 L432.96,735.20 L433.46,735.20 L433.95,735.20 L434.45,735.20 L434.94,735.20 L435.44,735.20 L435.93,735.20 L436.43,735.20 L436.92,735.20 L437.42,735.20 L437.91,735.20 L438.41,735.20 L438.90,735.20 L438.90,735.20 Z" fill="#f3c35a" fill-opacity="0.45" stroke="none"/>
<path d="M290.30,735.20 L290.30,735.20 L290.80,735.20 L291.29,735.20 L291.79,735.20 L292.28,735.20 L292.78,735.20 L293.27,735.20 L293.77,735.20 L294.26,735.20 L294.76,735.20 L295.25,735.20 L295.75,735.20 L296.24,735.20 L296.74,735.20 L297.23,735.20 L297.73,735.20 L298.23,735.20 L298.72,735.20 L299.22,735.20 L299.71,735.20 L300.21,735.20 L300.70,735.20 L301.20,735.20 L301.69,735.20 L302.19,735.20 L302.68,735.20 L303.18,735.20 L303.67,735.20 L304.17,735.20 L304.67,735.20 L305.16,735.20 L305.66,735.20 L306.15,735.20 L306.65,735.20 L307.14,735.20 L307.64,735.20 L308.13,735.20 L308.63,735.20 L309.12,735.20 L309.62,735.20 L310.11,735.20 L310.61,735.20 L311.10,735.20 L311.60,735.20 L312.10,735.20 L312.59,735.20 L313.09,735.20 L313.58,735.20 L314.08,735.20 L314.57,735.20 L315.07,735.20 L315.56,735.19 L316.06,735.19 L316.55,735.19 L317.05,735.19 L317.54,735.19 L318.04,735.19 L318.53,735.19 L319.03,735.19 L319.53,735.18 L320.02,735.18 L320.52,735.18 L321.01,735.18 L321.51,735.17 L322.00,735.17 L322.50,735.17 L322.99,735.16 L323.49,735.16 L323.98,735.15 L324.48,735.15 L324.97,735.14 L325.47,735.13 L325.97,735.13 L326.46,735.12 L326.96,735.11 L327.45,735.10 L327.95,735.09 L328.44,735.07 L328.94,735.06 L329.43,735.04 L329.93,735.02 L330.42,735.01 L330.92,734.98 L331.41,734.96 L331.91,734.94 L332.40,734.91 L332.90,734.88 L333.40,734.84 L333.89,734.81 L334.39,734.77 L334.88,734.73 L335.38,734.68 L335.87,734.63 L336.37,734.58 L336.86,734.52 L337.36,734.46 L337.85,734.39 L338.35,734.32 L338.84,734.24 L339.34,734.15 L339.84,734.06 L340.33,733.97 L340.83,733.86 L341.32,733.75 L341.82,733.64 L342.31,733.51 L342.81,733.38 L343.30,733.23 L343.80,733.08 L344.29,732.92 L344.79,732.75 L345.28,732.58 L345.78,732.39 L346.27,732.19 L346.77,731.98 L347.27,731.76 L347.76,731.53 L348.26,731.28 L348.75,731.03 L349.25,730.77 L349.74,730.49 L350.24,730.20 L350.73,729.90 L351.23,729.59 L351.72,729.26 L352.22,728.93 L352.71,728.58 L353.21,728.22 L353.70,727.85 L354.20,727.47 L354.70,727.08 L355.19,726.68 L355.69,726.27 L356.18,725.84 L356.68,725.41 L357.17,724.98 L357.67,724.53 L358.16,724.07 L358.66,723.61 L359.15,723.15 L359.65,722.68 L360.14,722.20 L360.64,721.72 L361.14,721.24 L361.63,720.76 L362.13,720.28 L362.62,719.80 L363.12,719.32 L363.61,718.85 L364.11,718.38 L364.60,717.92 L365.10,717.46 L365.59,717.01 L366.09,716.57 L366.58,716.14 L367.08,715.72 L367.57,715.32 L368.07,714.93 L368.57,714.55 L369.06,714.19 L369.56,713.85 L370.05,713.53 L370.55,713.23 L371.04,712.94 L371.54,712.68 L372.03,712.44 L372.53,712.23 L373.02,712.04 L373.52,711.87 L374.01,711.72 L374.51,711.61 L375.00,711.52 L375.50,711.45 L376.00,711.41 L376.49,711.40 L376.99,711.41 L377.48,711.45 L377.98,711.52 L378.47,711.61 L378.97,711.72 L379.46,711.87 L379.96,712.04 L380.45,712.23 L380.95,712.44 L381.44,712.68 L381.94,712.94 L382.44,713.23 L382.93,713.53 L383.43,713.85 L383.92,714.19 L384.42,714.55 L384.91,714.93 L385.41,715.32 L385.90,715.72 L386.40,716.14 L386.89,716.57 L387.39,717.01 L387.88,717.46 L388.38,717.92 L388.87,718.38 L389.37,718.85 L389.87,719.32 L390.36,719.80 L390.86,720.28 L391.35,720.76 L391.85,721.24 L392.34,721.72 L392.84,722.20 L393.33,722.68 L393.83,723.15 L394.32,723.61 L394.82,724.07 L395.31,724.53 L395.81,724.98 L396.30,725.41 L396.80,725.84 L397.30,726.27 L397.79,726.68 L398.29,727.08 L398.78,727.47 L399.28,727.85 L399.77,728.22 L400.27,728.58 L400.76,728.93 L401.26,729.26 L401.75,729.59 L402.25,729.90 L402.74,730.20 L403.24,730.49 L403.74,730.77 L404.23,731.03 L404.73,731.28 L405.22,731.53 L405.72,731.76 L406.21,731.98 L406.71,732.19 L407.20,732.39 L407.70,732.58 L408.19,732.75 L408.69,732.92 L409.18,733.08 L409.68,733.23 L410.17,733.38 L410.67,733.51 L411.17,733.64 L411.66,733.75 L412.16,733.86 L412.65,733.97 L413.15,734.06 L413.64,734.15 L414.14,734.24 L414.63,734.32 L415.13,734.39 L415.62,734.46 L416.12,734.52 L416.61,734.58 L417.11,734.63 L417.60,734.68 L418.10,734.73 L418.60,734.77 L419.09,734.81 L419.59,734.84 L420.08,734.88 L420.58,734.91 L421.07,734.94 L421.57,734.96 L422.06,734.98 L422.56,735.01 L423.05,735.02 L423.55,735.04 L424.04,735.06 L424.54,735.07 L425.04,735.09 L425.53,735.10 L426.03,735.11 L426.52,735.12 L427.02,735.13 L427.51,735.13 L428.01,735.14 L428.50,735.15 L429.00,735.15 L429.49,735.16 L429.99,735.16 L430.48,735.17 L430.98,735.17 L431.47,735.17 L431.97,735.18 L432.47,735.18 L432.96,735.18 L433.46,735.18 L433.95,735.19 L434.45,735.19 L434.94,735.19 L435.44,735.19 L435.93,735.19 L436.43,735.19 L436.92,735.19 L437.42,735.19 L437.91,735.20 L438.41,735.20 L438.90,735.20 L438.90,735.20 Z" fill="#f3c35a" fill-opacity="0.45" stroke="none"/>
<path d="M319.43,735.20 L319.43,733.39 L325.22,733.39 L325.22,726.36 L331.02,726.36 L331.02,719.56 L336.81,719.56 L336.81,715.48 L342.61,715.48 L342.61,716.84 L348.40,716.84 L348.40,720.69 L354.20,720.69 L354.20,722.96 L360.00,722.96 L360.00,720.69 L365.79,720.69 L365.79,715.48 L371.59,715.48 L371.59,712.08 L377.38,712.08 L377.38,711.40 L383.18,711.40 L383.18,713.89 L388.97,713.89 L388.97,718.65 L394.77,718.65 L394.77,723.41 L400.56,723.41 L400.56,727.27 L406.36,727.27 L406.36,730.44 L412.16,730.44 L412.16,732.03 L417.95,732.03 L417.95,732.93 L423.75,732.93 L423.75,733.84 L429.54,733.84 L429.54,734.29 L435.34,734.29 L435.34,735.20 Z" fill="none" stroke="#d49b22" stroke-width="0.9" stroke-linejoin="miter"/>
<path d="M290.30,735.20 L290.80,735.20 L291.29,735.19 L291.79,735.19 L292.28,735.19 L292.78,735.19 L293.27,735.19 L293.77,735.19 L294.26,735.19 L294.76,735.18 L295.25,735.18 L295.75,735.18 L296.24,735.17 L296.74,735.17 L297.23,735.16 L297.73,735.16 L298.23,735.15 L298.72,735.14 L299.22,735.13 L299.71,735.12 L300.21,735.11 L300.70,735.10 L301.20,735.09 L301.69,735.07 L302.19,735.05 L302.68,735.03 L303.18,735.01 L303.67,734.98 L304.17,734.95 L304.67,734.92 L305.16,734.88 L305.66,734.84 L306.15,734.80 L306.65,734.75 L307.14,734.70 L307.64,734.64 L308.13,734.57 L308.63,734.50 L309.12,734.42 L309.62,734.33 L310.11,734.24 L310.61,734.14 L311.10,734.02 L311.60,733.90 L312.10,733.77 L312.59,733.63 L313.09,733.48 L313.58,733.31 L314.08,733.14 L314.57,732.95 L315.07,732.75 L315.56,732.53 L316.06,732.30 L316.55,732.06 L317.05,731.80 L317.54,731.53 L318.04,731.24 L318.53,730.93 L319.03,730.62 L319.53,730.28 L320.02,729.93 L320.52,729.57 L321.01,729.19 L321.51,728.80 L322.00,728.39 L322.50,727.97 L322.99,727.54 L323.49,727.09 L323.98,726.64 L324.48,726.17 L324.97,725.70 L325.47,725.21 L325.97,724.73 L326.46,724.23 L326.96,723.74 L327.45,723.24 L327.95,722.74 L328.44,722.24 L328.94,721.75 L329.43,721.26 L329.93,720.78 L330.42,720.31 L330.92,719.85 L331.41,719.41 L331.91,718.98 L332.40,718.56 L332.90,718.17 L333.40,717.79 L333.89,717.44 L334.39,717.12 L334.88,716.82 L335.38,716.54 L335.87,716.30 L336.37,716.08 L336.86,715.90 L337.36,715.75 L337.85,715.63 L338.35,715.55 L338.84,715.49 L339.34,715.48 L339.84,715.49 L340.33,715.55 L340.83,715.63 L341.32,715.75 L341.82,715.90 L342.31,716.08 L342.81,716.30 L343.30,716.54 L343.80,716.82 L344.29,717.12 L344.79,717.44 L345.28,717.79 L345.78,718.17 L346.27,718.56 L346.77,718.98 L347.27,719.41 L347.76,719.85 L348.26,720.31 L348.75,720.78 L349.25,721.26 L349.74,721.75 L350.24,722.24 L350.73,722.74 L351.23,723.24 L351.72,723.74 L352.22,724.23 L352.71,724.73 L353.21,725.21 L353.70,725.70 L354.20,726.17 L354.70,726.64 L355.19,727.09 L355.69,727.54 L356.18,727.97 L356.68,728.39 L357.17,728.80 L357.67,729.19 L358.16,729.57 L358.66,729.93 L359.15,730.28 L359.65,730.62 L360.14,730.93 L360.64,731.24 L361.14,731.53 L361.63,731.80 L362.13,732.06 L362.62,732.30 L363.12,732.53 L363.61,732.75 L364.11,732.95 L364.60,733.14 L365.10,733.31 L365.59,733.48 L366.09,733.63 L366.58,733.77 L367.08,733.90 L367.57,734.02 L368.07,734.14 L368.57,734.24 L369.06,734.33 L369.56,734.42 L370.05,734.50 L370.55,734.57 L371.04,734.64 L371.54,734.70 L372.03,734.75 L372.53,734.80 L373.02,734.84 L373.52,734.88 L374.01,734.92 L374.51,734.95 L375.00,734.98 L375.50,735.01 L376.00,735.03 L376.49,735.05 L376.99,735.07 L377.48,735.09 L377.98,735.10 L378.47,735.11 L378.97,735.12 L379.46,735.13 L379.96,735.14 L380.45,735.15 L380.95,735.16 L381.44,735.16 L381.94,735.17 L382.44,735.17 L382.93,735.18 L383.43,735.18 L383.92,735.18 L384.42,735.19 L384.91,735.19 L385.41,735.19 L385.90,735.19 L386.40,735.19 L386.89,735.19 L387.39,735.19 L387.88,735.20 L388.38,735.20 L388.87,735.20 L389.37,735.20 L389.87,735.20 L390.36,735.20 L390.86,735.20 L391.35,735.20 L391.85,735.20 L392.34,735.20 L392.84,735.20 L393.33,735.20 L393.83,735.20 L394.32,735.20 L394.82,735.20 L395.31,735.20 L395.81,735.20 L396.30,735.20 L396.80,735.20 L397.30,735.20 L397.79,735.20 L398.29,735.20 L398.78,735.20 L399.28,735.20 L399.77,735.20 L400.27,735.20 L400.76,735.20 L401.26,735.20 L401.75,735.20 L402.25,735.20 L402.74,735.20 L403.24,735.20 L403.74,735.20 L404.23,735.20 L404.73,735.20 L405.22,735.20 L405.72,735.20 L406.21,735.20 L406.71,735.20 L407.20,735.20 L407.70,735.20 L408.19,735.20 L408.69,735.20 L409.18,735.20 L409.68,735.20 L410.17,735.20 L410.67,735.20 L411.17,735.20 L411.66,735.20 L412.16,735.20 L412.65,735.20 L413.15,735.20 L413.64,735.20 L414.14,735.20 L414.63,735.20 L415.13,735.20 L415.62,735.20 L416.12,735.20 L416.61,735.20 L417.11,735.20 L417.60,735.20 L418.10,735.20 L418.60,735.20 L419.09,735.20 L419.59,735.20 L420.08,735.20 L420.58,735.20 L421.07,735.20 L421.57,735.20 L422.06,735.20 L422.56,735.20 L423.05,735.20 L423.55,735.20 L424.04,735.20 L424.54,735.20 L425.04,735.20 L425.53,735.20 L426.03,735.20 L426.52,735.20 L427.02,735.20 L427.51,735.20 L428.01,735.20 L428.50,735.20 L429.00,735.20 L429.49,735.20 L429.99,735.20 L430.48,735.20 L430.98,735.20 L431.47,735.20 L431.97,735.20 L432.47,735.20 L432.96,735.20 L433.46,735.20 L433.95,735.20 L434.45,735.20 L434.94,735.20 L435.44,735.20 L435.93,735.20 L436.43,735.20 L436.92,735.20 L437.42,735.20 L437.91,735.20 L438.41,735.20 L438.90,735.20" fill="none" stroke="#d49b22" stroke-width="1.0"/>
<path d="M290.30,735.20 L290.80,735.20 L291.29,735.20 L291.79,735.20 L292.28,735.20 L292.78,735.20 L293.27,735.20 L293.77,735.20 L294.26,735.20 L294.76,735.20 L295.25,735.20 L295.75,735.20 L296.24,735.20 L296.74,735.20 L297.23,735.20 L297.73,735.20 L298.23,735.20 L298.72,735.20 L299.22,735.20 L299.71,735.20 L300.21,735.20 L300.70,735.20 L301.20,735.20 L301.69,735.20 L302.19,735.20 L302.68,735.20 L303.18,735.20 L303.67,735.20 L304.17,735.20 L304.67,735.20 L305.16,735.20 L305.66,735.20 L306.15,735.20 L306.65,735.20 L307.14,735.20 L307.64,735.20 L308.13,735.20 L308.63,735.20 L309.12,735.20 L309.62,735.20 L310.11,735.20 L310.61,735.20 L311.10,735.20 L311.60,735.20 L312.10,735.20 L312.59,735.20 L313.09,735.20 L313.58,735.20 L314.08,735.20 L314.57,735.20 L315.07,735.20 L315.56,735.19 L316.06,735.19 L316.55,735.19 L317.05,735.19 L317.54,735.19 L318.04,735.19 L318.53,735.19 L319.03,735.19 L319.53,735.18 L320.02,735.18 L320.52,735.18 L321.01,735.18 L321.51,735.17 L322.00,735.17 L322.50,735.17 L322.99,735.16 L323.49,735.16 L323.98,735.15 L324.48,735.15 L324.97,735.14 L325.47,735.13 L325.97,735.13 L326.46,735.12 L326.96,735.11 L327.45,735.10 L327.95,735.09 L328.44,735.07 L328.94,735.06 L329.43,735.04 L329.93,735.02 L330.42,735.01 L330.92,734.98 L331.41,734.96 L331.91,734.94 L332.40,734.91 L332.90,734.88 L333.40,734.84 L333.89,734.81 L334.39,734.77 L334.88,734.73 L335.38,734.68 L335.87,734.63 L336.37,734.58 L336.86,734.52 L337.36,734.46 L337.85,734.39 L338.35,734.32 L338.84,734.24 L339.34,734.15 L339.84,734.06 L340.33,733.97 L340.83,733.86 L341.32,733.75 L341.82,733.64 L342.31,733.51 L342.81,733.38 L343.30,733.23 L343.80,733.08 L344.29,732.92 L344.79,732.75 L345.28,732.58 L345.78,732.39 L346.27,732.19 L346.77,731.98 L347.27,731.76 L347.76,731.53 L348.26,731.28 L348.75,731.03 L349.25,730.77 L349.74,730.49 L350.24,730.20 L350.73,729.90 L351.23,729.59 L351.72,729.26 L352.22,728.93 L352.71,728.58 L353.21,728.22 L353.70,727.85 L354.20,727.47 L354.70,727.08 L355.19,726.68 L355.69,726.27 L356.18,725.84 L356.68,725.41 L357.17,724.98 L357.67,724.53 L358.16,724.07 L358.66,723.61 L359.15,723.15 L359.65,722.68 L360.14,722.20 L360.64,721.72 L361.14,721.24 L361.63,720.76 L362.13,720.28 L362.62,719.80 L363.12,719.32 L363.61,718.85 L364.11,718.38 L364.60,717.92 L365.10,717.46 L365.59,717.01 L366.09,716.57 L366.58,716.14 L367.08,715.72 L367.57,715.32 L368.07,714.93 L368.57,714.55 L369.06,714.19 L369.56,713.85 L370.05,713.53 L370.55,713.23 L371.04,712.94 L371.54,712.68 L372.03,712.44 L372.53,712.23 L373.02,712.04 L373.52,711.87 L374.01,711.72 L374.51,711.61 L375.00,711.52 L375.50,711.45 L376.00,711.41 L376.49,711.40 L376.99,711.41 L377.48,711.45 L377.98,711.52 L378.47,711.61 L378.97,711.72 L379.46,711.87 L379.96,712.04 L380.45,712.23 L380.95,712.44 L381.44,712.68 L381.94,712.94 L382.44,713.23 L382.93,713.53 L383.43,713.85 L383.92,714.19 L384.42,714.55 L384.91,714.93 L385.41,715.32 L385.90,715.72 L386.40,716.14 L386.89,716.57 L387.39,717.01 L387.88,717.46 L388.38,717.92 L388.87,718.38 L389.37,718.85 L389.87,719.32 L390.36,719.80 L390.86,720.28 L391.35,720.76 L391.85,721.24 L392.34,721.72 L392.84,722.20 L393.33,722.68 L393.83,723.15 L394.32,723.61 L394.82,724.07 L395.31,724.53 L395.81,724.98 L396.30,725.41 L396.80,725.84 L397.30,726.27 L397.79,726.68 L398.29,727.08 L398.78,727.47 L399.28,727.85 L399.77,728.22 L400.27,728.58 L400.76,728.93 L401.26,729.26 L401.75,729.59 L402.25,729.90 L402.74,730.20 L403.24,730.49 L403.74,730.77 L404.23,731.03 L404.73,731.28 L405.22,731.53 L405.72,731.76 L406.21,731.98 L406.71,732.19 L407.20,732.39 L407.70,732.58 L408.19,732.75 L408.69,732.92 L409.18,733.08 L409.68,733.23 L410.17,733.38 L410.67,733.51 L411.17,733.64 L411.66,733.75 L412.16,733.86 L412.65,733.97 L413.15,734.06 L413.64,734.15 L414.14,734.24 L414.63,734.32 L415.13,734.39 L415.62,734.46 L416.12,734.52 L416.61,734.58 L417.11,734.63 L417.60,734.68 L418.10,734.73 L418.60,734.77 L419.09,734.81 L419.59,734.84 L420.08,734.88 L420.58,734.91 L421.07,734.94 L421.57,734.96 L422.06,734.98 L422.56,735.01 L423.05,735.02 L423.55,735.04 L424.04,735.06 L424.54,735.07 L425.04,735.09 L425.53,735.10 L426.03,735.11 L426.52,735.12 L427.02,735.13 L427.51,735.13 L428.01,735.14 L428.50,735.15 L429.00,735.15 L429.49,735.16 L429.99,735.16 L430.48,735.17 L430.98,735.17 L431.47,735.17 L431.97,735.18 L432.47,735.18 L432.96,735.18 L433.46,735.18 L433.95,735.19 L434.45,735.19 L434.94,735.19 L435.44,735.19 L435.93,735.19 L436.43,735.19 L436.92,735.19 L437.42,735.19 L437.91,735.20 L438.41,735.20 L438.90,735.20" fill="none" stroke="#d49b22" stroke-width="1.0"/>
<line x1="287.70" y1="735.20" x2="290.30" y2="735.20" stroke="#222" stroke-width="0.6"/>
<line x1="288.80" y1="726.70" x2="290.30" y2="726.70" stroke="#222" stroke-width="0.6"/>
<line x1="288.80" y1="718.20" x2="290.30" y2="718.20" stroke="#222" stroke-width="0.6"/>
<line x1="288.80" y1="709.70" x2="290.30" y2="709.70" stroke="#222" stroke-width="0.6"/>
<line x1="287.70" y1="701.20" x2="290.30" y2="701.20" stroke="#222" stroke-width="0.6"/>
<line x1="288.80" y1="692.69" x2="290.30" y2="692.69" stroke="#222" stroke-width="0.6"/>
<line x1="288.80" y1="684.19" x2="290.30" y2="684.19" stroke="#222" stroke-width="0.6"/>
<line x1="288.80" y1="675.69" x2="290.30" y2="675.69" stroke="#222" stroke-width="0.6"/>
<text x="285.70" y="736.60" font-size="4.2" text-anchor="end" fill="#222" stroke="#222" stroke-width="0.078"><tspan>0.00</tspan></text>
<text x="285.70" y="702.60" font-size="4.2" text-anchor="end" fill="#222" stroke="#222" stroke-width="0.078"><tspan>0.15</tspan></text>
<line x1="290.30" y1="735.20" x2="438.90" y2="735.20" stroke="#222" stroke-width="0.9"/>
<line x1="290.30" y1="735.20" x2="290.30" y2="737.80" stroke="#222" stroke-width="0.6"/>
<line x1="300.21" y1="735.20" x2="300.21" y2="736.70" stroke="#222" stroke-width="0.6"/>
<line x1="310.11" y1="735.20" x2="310.11" y2="736.70" stroke="#222" stroke-width="0.6"/>
<line x1="320.02" y1="735.20" x2="320.02" y2="737.80" stroke="#222" stroke-width="0.6"/>
<line x1="329.93" y1="735.20" x2="329.93" y2="736.70" stroke="#222" stroke-width="0.6"/>
<line x1="339.84" y1="735.20" x2="339.84" y2="736.70" stroke="#222" stroke-width="0.6"/>
<line x1="349.74" y1="735.20" x2="349.74" y2="737.80" stroke="#222" stroke-width="0.6"/>
<line x1="359.65" y1="735.20" x2="359.65" y2="736.70" stroke="#222" stroke-width="0.6"/>
<line x1="369.56" y1="735.20" x2="369.56" y2="736.70" stroke="#222" stroke-width="0.6"/>
<line x1="379.46" y1="735.20" x2="379.46" y2="737.80" stroke="#222" stroke-width="0.6"/>
<line x1="389.37" y1="735.20" x2="389.37" y2="736.70" stroke="#222" stroke-width="0.6"/>
<line x1="399.28" y1="735.20" x2="399.28" y2="736.70" stroke="#222" stroke-width="0.6"/>
<line x1="409.18" y1="735.20" x2="409.18" y2="737.80" stroke="#222" stroke-width="0.6"/>
<line x1="419.09" y1="735.20" x2="419.09" y2="736.70" stroke="#222" stroke-width="0.6"/>
<line x1="429.00" y1="735.20" x2="429.00" y2="736.70" stroke="#222" stroke-width="0.6"/>
<line x1="438.90" y1="735.20" x2="438.90" y2="737.80" stroke="#222" stroke-width="0.6"/>
<text x="448.50" y="688.20" font-size="8.4" text-anchor="end" fill="#000" stroke="#000" stroke-width="0.13"><tspan>CDT1</tspan><tspan dy="-2.86" font-size="5.21">4A</tspan><tspan dy="2.86">:Gem</tspan><tspan dy="-2.86" font-size="5.21">FL</tspan></text>
<line x1="290.30" y1="536.90" x2="290.30" y2="735.20" stroke="#222" stroke-width="0.9"/>
<text x="290.30" y="744.60" font-size="4.3" text-anchor="middle" fill="#222" stroke="#222" stroke-width="0.078"><tspan>0</tspan></text>
<text x="320.02" y="744.60" font-size="4.3" text-anchor="middle" fill="#222" stroke="#222" stroke-width="0.078"><tspan>30</tspan></text>
<text x="349.74" y="744.60" font-size="4.3" text-anchor="middle" fill="#222" stroke="#222" stroke-width="0.078"><tspan>60</tspan></text>
<text x="379.46" y="744.60" font-size="4.3" text-anchor="middle" fill="#222" stroke="#222" stroke-width="0.078"><tspan>90</tspan></text>
<text x="409.18" y="744.60" font-size="4.3" text-anchor="middle" fill="#222" stroke="#222" stroke-width="0.078"><tspan>120</tspan></text>
<text x="438.90" y="744.60" font-size="4.3" text-anchor="middle" fill="#222" stroke="#222" stroke-width="0.078"><tspan>150</tspan></text>
<text x="363.61" y="757.70" font-size="8.5" text-anchor="middle" fill="#000" stroke="#000" stroke-width="0.13"><tspan>Mass (kDa)</tspan></text>
<text x="266.70" y="636.30" font-size="8.3" text-anchor="middle" fill="#000" stroke="#000" stroke-width="0.13" transform="rotate(-90 266.7 636.3)"><tspan>Normalised counts</tspan></text>
<rect x="547.05" y="536.90" width="18.82" height="198.30" fill="#e4e4e4"/>
<rect x="582.71" y="536.90" width="26.75" height="198.30" fill="#e4e4e4"/>
<text x="554.56" y="535.40" font-size="8.3" text-anchor="middle" fill="#000" stroke="#000" stroke-width="0.13"><tspan>Unbound</tspan></text>
<text x="595.59" y="535.40" font-size="8.3" text-anchor="middle" fill="#000" stroke="#000" stroke-width="0.13"><tspan>Tri.</tspan></text>
<path d="M531.50,604.40 L531.50,603.72 L537.35,603.72 L537.35,594.88 L543.19,594.88 L543.19,583.32 L549.04,583.32 L549.04,569.49 L554.88,569.49 L554.88,570.39 L560.73,570.39 L560.73,570.39 L566.57,570.39 L566.57,586.26 L572.42,586.26 L572.42,593.06 L578.26,593.06 L578.26,598.73 L584.11,598.73 L584.11,601.68 L589.95,601.68 L589.95,603.04 L595.80,603.04 L595.80,602.81 L601.64,602.81 L601.64,603.27 L607.49,603.27 L607.49,603.49 L613.33,603.49 L613.33,603.72 L619.18,603.72 L619.18,603.72 L625.02,603.72 L625.02,603.95 L630.87,603.95 L630.87,603.95 L636.71,603.95 L636.71,604.17 L642.56,604.17 L642.56,604.40 Z" fill="#8fd3b8" fill-opacity="0.28" stroke="none"/>
<path d="M510.20,604.40 L510.20,604.40 L510.70,604.40 L511.19,604.40 L511.69,604.40 L512.18,604.40 L512.68,604.40 L513.17,604.40 L513.67,604.40 L514.16,604.40 L514.66,604.40 L515.15,604.39 L515.65,604.39 L516.14,604.39 L516.64,604.39 L517.13,604.39 L517.63,604.38 L518.13,604.38 L518.62,604.38 L519.12,604.37 L519.61,604.37 L520.11,604.36 L520.60,604.35 L521.10,604.34 L521.59,604.33 L522.09,604.31 L522.58,604.30 L523.08,604.28 L523.57,604.26 L524.07,604.23 L524.57,604.20 L525.06,604.17 L525.56,604.13 L526.05,604.08 L526.55,604.03 L527.04,603.97 L527.54,603.90 L528.03,603.82 L528.53,603.73 L529.02,603.63 L529.52,603.51 L530.01,603.38 L530.51,603.24 L531.00,603.07 L531.50,602.89 L532.00,602.69 L532.49,602.46 L532.99,602.21 L533.48,601.94 L533.98,601.63 L534.47,601.30 L534.97,600.93 L535.46,600.53 L535.96,600.10 L536.45,599.63 L536.95,599.12 L537.44,598.58 L537.94,597.99 L538.43,597.36 L538.93,596.68 L539.43,595.97 L539.92,595.21 L540.42,594.40 L540.91,593.56 L541.41,592.67 L541.90,591.74 L542.40,590.77 L542.89,589.77 L543.39,588.72 L543.88,587.65 L544.38,586.55 L544.87,585.42 L545.37,584.27 L545.87,583.11 L546.36,581.93 L546.86,580.75 L547.35,579.57 L547.85,578.39 L548.34,577.23 L548.84,576.09 L549.33,574.97 L549.83,573.88 L550.32,572.83 L550.82,571.83 L551.31,570.88 L551.81,569.99 L552.30,569.16 L552.80,568.41 L553.30,567.72 L553.79,567.12 L554.29,566.61 L554.78,566.18 L555.28,565.84 L555.77,565.60 L556.27,565.46 L556.76,565.41 L557.26,565.46 L557.75,565.60 L558.25,565.84 L558.74,566.18 L559.24,566.61 L559.74,567.12 L560.23,567.72 L560.73,568.41 L561.22,569.16 L561.72,569.99 L562.21,570.88 L562.71,571.83 L563.20,572.83 L563.70,573.88 L564.19,574.97 L564.69,576.09 L565.18,577.23 L565.68,578.39 L566.17,579.57 L566.67,580.75 L567.17,581.93 L567.66,583.11 L568.16,584.27 L568.65,585.42 L569.15,586.55 L569.64,587.65 L570.14,588.72 L570.63,589.77 L571.13,590.77 L571.62,591.74 L572.12,592.67 L572.61,593.56 L573.11,594.40 L573.60,595.21 L574.10,595.97 L574.60,596.68 L575.09,597.36 L575.59,597.99 L576.08,598.58 L576.58,599.12 L577.07,599.63 L577.57,600.10 L578.06,600.53 L578.56,600.93 L579.05,601.30 L579.55,601.63 L580.04,601.94 L580.54,602.21 L581.04,602.46 L581.53,602.69 L582.03,602.89 L582.52,603.07 L583.02,603.24 L583.51,603.38 L584.01,603.51 L584.50,603.63 L585.00,603.73 L585.49,603.82 L585.99,603.90 L586.48,603.97 L586.98,604.03 L587.47,604.08 L587.97,604.13 L588.47,604.17 L588.96,604.20 L589.46,604.23 L589.95,604.26 L590.45,604.28 L590.94,604.30 L591.44,604.31 L591.93,604.33 L592.43,604.34 L592.92,604.35 L593.42,604.36 L593.91,604.37 L594.41,604.37 L594.90,604.38 L595.40,604.38 L595.90,604.38 L596.39,604.39 L596.89,604.39 L597.38,604.39 L597.88,604.39 L598.37,604.39 L598.87,604.40 L599.36,604.40 L599.86,604.40 L600.35,604.40 L600.85,604.40 L601.34,604.40 L601.84,604.40 L602.34,604.40 L602.83,604.40 L603.33,604.40 L603.82,604.40 L604.32,604.40 L604.81,604.40 L605.31,604.40 L605.80,604.40 L606.30,604.40 L606.79,604.40 L607.29,604.40 L607.78,604.40 L608.28,604.40 L608.77,604.40 L609.27,604.40 L609.77,604.40 L610.26,604.40 L610.76,604.40 L611.25,604.40 L611.75,604.40 L612.24,604.40 L612.74,604.40 L613.23,604.40 L613.73,604.40 L614.22,604.40 L614.72,604.40 L615.21,604.40 L615.71,604.40 L616.20,604.40 L616.70,604.40 L617.20,604.40 L617.69,604.40 L618.19,604.40 L618.68,604.40 L619.18,604.40 L619.67,604.40 L620.17,604.40 L620.66,604.40 L621.16,604.40 L621.65,604.40 L622.15,604.40 L622.64,604.40 L623.14,604.40 L623.64,604.40 L624.13,604.40 L624.63,604.40 L625.12,604.40 L625.62,604.40 L626.11,604.40 L626.61,604.40 L627.10,604.40 L627.60,604.40 L628.09,604.40 L628.59,604.40 L629.08,604.40 L629.58,604.40 L630.07,604.40 L630.57,604.40 L631.07,604.40 L631.56,604.40 L632.06,604.40 L632.55,604.40 L633.05,604.40 L633.54,604.40 L634.04,604.40 L634.53,604.40 L635.03,604.40 L635.52,604.40 L636.02,604.40 L636.51,604.40 L637.01,604.40 L637.50,604.40 L638.00,604.40 L638.50,604.40 L638.99,604.40 L639.49,604.40 L639.98,604.40 L640.48,604.40 L640.97,604.40 L641.47,604.40 L641.96,604.40 L642.46,604.40 L642.95,604.40 L643.45,604.40 L643.94,604.40 L644.44,604.40 L644.94,604.40 L645.43,604.40 L645.93,604.40 L646.42,604.40 L646.92,604.40 L647.41,604.40 L647.91,604.40 L648.40,604.40 L648.90,604.40 L649.39,604.40 L649.89,604.40 L650.38,604.40 L650.88,604.40 L651.37,604.40 L651.87,604.40 L652.37,604.40 L652.86,604.40 L653.36,604.40 L653.85,604.40 L654.35,604.40 L654.84,604.40 L655.34,604.40 L655.83,604.40 L656.33,604.40 L656.82,604.40 L657.32,604.40 L657.81,604.40 L658.31,604.40 L658.80,604.40 L658.80,604.40 Z" fill="#8fd3b8" fill-opacity="0.45" stroke="none"/>
<path d="M510.20,604.40 L510.20,604.40 L510.70,604.40 L511.19,604.40 L511.69,604.40 L512.18,604.40 L512.68,604.40 L513.17,604.40 L513.67,604.40 L514.16,604.40 L514.66,604.40 L515.15,604.40 L515.65,604.40 L516.14,604.40 L516.64,604.40 L517.13,604.40 L517.63,604.40 L518.13,604.40 L518.62,604.39 L519.12,604.39 L519.61,604.39 L520.11,604.39 L520.60,604.39 L521.10,604.39 L521.59,604.39 L522.09,604.39 L522.58,604.39 L523.08,604.39 L523.57,604.39 L524.07,604.39 L524.57,604.39 L525.06,604.39 L525.56,604.39 L526.05,604.39 L526.55,604.39 L527.04,604.38 L527.54,604.38 L528.03,604.38 L528.53,604.38 L529.02,604.38 L529.52,604.38 L530.01,604.38 L530.51,604.38 L531.00,604.38 L531.50,604.37 L532.00,604.37 L532.49,604.37 L532.99,604.37 L533.48,604.37 L533.98,604.37 L534.47,604.36 L534.97,604.36 L535.46,604.36 L535.96,604.36 L536.45,604.36 L536.95,604.35 L537.44,604.35 L537.94,604.35 L538.43,604.35 L538.93,604.34 L539.43,604.34 L539.92,604.34 L540.42,604.33 L540.91,604.33 L541.41,604.33 L541.90,604.32 L542.40,604.32 L542.89,604.32 L543.39,604.31 L543.88,604.31 L544.38,604.30 L544.87,604.30 L545.37,604.29 L545.87,604.29 L546.36,604.28 L546.86,604.28 L547.35,604.27 L547.85,604.27 L548.34,604.26 L548.84,604.26 L549.33,604.25 L549.83,604.24 L550.32,604.24 L550.82,604.23 L551.31,604.22 L551.81,604.22 L552.30,604.21 L552.80,604.20 L553.30,604.19 L553.79,604.18 L554.29,604.18 L554.78,604.17 L555.28,604.16 L555.77,604.15 L556.27,604.14 L556.76,604.13 L557.26,604.12 L557.75,604.11 L558.25,604.10 L558.74,604.09 L559.24,604.08 L559.74,604.07 L560.23,604.06 L560.73,604.05 L561.22,604.03 L561.72,604.02 L562.21,604.01 L562.71,604.00 L563.20,603.98 L563.70,603.97 L564.19,603.96 L564.69,603.95 L565.18,603.93 L565.68,603.92 L566.17,603.90 L566.67,603.89 L567.17,603.88 L567.66,603.86 L568.16,603.85 L568.65,603.83 L569.15,603.82 L569.64,603.80 L570.14,603.79 L570.63,603.77 L571.13,603.75 L571.62,603.74 L572.12,603.72 L572.61,603.71 L573.11,603.69 L573.60,603.67 L574.10,603.66 L574.60,603.64 L575.09,603.62 L575.59,603.61 L576.08,603.59 L576.58,603.57 L577.07,603.56 L577.57,603.54 L578.06,603.53 L578.56,603.51 L579.05,603.49 L579.55,603.48 L580.04,603.46 L580.54,603.44 L581.04,603.43 L581.53,603.41 L582.03,603.40 L582.52,603.38 L583.02,603.37 L583.51,603.35 L584.01,603.34 L584.50,603.32 L585.00,603.31 L585.49,603.29 L585.99,603.28 L586.48,603.26 L586.98,603.25 L587.47,603.24 L587.97,603.22 L588.47,603.21 L588.96,603.20 L589.46,603.19 L589.95,603.18 L590.45,603.17 L590.94,603.15 L591.44,603.14 L591.93,603.13 L592.43,603.13 L592.92,603.12 L593.42,603.11 L593.91,603.10 L594.41,603.09 L594.90,603.09 L595.40,603.08 L595.90,603.07 L596.39,603.07 L596.89,603.06 L597.38,603.06 L597.88,603.05 L598.37,603.05 L598.87,603.05 L599.36,603.04 L599.86,603.04 L600.35,603.04 L600.85,603.04 L601.34,603.04 L601.84,603.04 L602.34,603.04 L602.83,603.04 L603.33,603.04 L603.82,603.05 L604.32,603.05 L604.81,603.05 L605.31,603.06 L605.80,603.06 L606.30,603.07 L606.79,603.07 L607.29,603.08 L607.78,603.09 L608.28,603.09 L608.77,603.10 L609.27,603.11 L609.77,603.12 L610.26,603.13 L610.76,603.13 L611.25,603.14 L611.75,603.15 L612.24,603.17 L612.74,603.18 L613.23,603.19 L613.73,603.20 L614.22,603.21 L614.72,603.22 L615.21,603.24 L615.71,603.25 L616.20,603.26 L616.70,603.28 L617.20,603.29 L617.69,603.31 L618.19,603.32 L618.68,603.34 L619.18,603.35 L619.67,603.37 L620.17,603.38 L620.66,603.40 L621.16,603.41 L621.65,603.43 L622.15,603.44 L622.64,603.46 L623.14,603.48 L623.64,603.49 L624.13,603.51 L624.63,603.53 L625.12,603.54 L625.62,603.56 L626.11,603.57 L626.61,603.59 L627.10,603.61 L627.60,603.62 L628.09,603.64 L628.59,603.66 L629.08,603.67 L629.58,603.69 L630.07,603.71 L630.57,603.72 L631.07,603.74 L631.56,603.75 L632.06,603.77 L632.55,603.79 L633.05,603.80 L633.54,603.82 L634.04,603.83 L634.53,603.85 L635.03,603.86 L635.52,603.88 L636.02,603.89 L636.51,603.90 L637.01,603.92 L637.50,603.93 L638.00,603.95 L638.50,603.96 L638.99,603.97 L639.49,603.98 L639.98,604.00 L640.48,604.01 L640.97,604.02 L641.47,604.03 L641.96,604.05 L642.46,604.06 L642.95,604.07 L643.45,604.08 L643.94,604.09 L644.44,604.10 L644.94,604.11 L645.43,604.12 L645.93,604.13 L646.42,604.14 L646.92,604.15 L647.41,604.16 L647.91,604.17 L648.40,604.18 L648.90,604.18 L649.39,604.19 L649.89,604.20 L650.38,604.21 L650.88,604.22 L651.37,604.22 L651.87,604.23 L652.37,604.24 L652.86,604.24 L653.36,604.25 L653.85,604.26 L654.35,604.26 L654.84,604.27 L655.34,604.27 L655.83,604.28 L656.33,604.28 L656.82,604.29 L657.32,604.29 L657.81,604.30 L658.31,604.30 L658.80,604.31 L658.80,604.40 Z" fill="#8fd3b8" fill-opacity="0.45" stroke="none"/>
<path d="M531.50,604.40 L531.50,603.72 L537.35,603.72 L537.35,594.88 L543.19,594.88 L543.19,583.32 L549.04,583.32 L549.04,569.49 L554.88,569.49 L554.88,570.39 L560.73,570.39 L560.73,570.39 L566.57,570.39 L566.57,586.26 L572.42,586.26 L572.42,593.06 L578.26,593.06 L578.26,598.73 L584.11,598.73 L584.11,601.68 L589.95,601.68 L589.95,603.04 L595.80,603.04 L595.80,602.81 L601.64,602.81 L601.64,603.27 L607.49,603.27 L607.49,603.49 L613.33,603.49 L613.33,603.72 L619.18,603.72 L619.18,603.72 L625.02,603.72 L625.02,603.95 L630.87,603.95 L630.87,603.95 L636.71,603.95 L636.71,604.17 L642.56,604.17 L642.56,604.40 Z" fill="none" stroke="#1e9f78" stroke-width="0.9" stroke-linejoin="miter"/>
<path d="M510.20,604.40 L510.70,604.40 L511.19,604.40 L511.69,604.40 L512.18,604.40 L512.68,604.40 L513.17,604.40 L513.67,604.40 L514.16,604.40 L514.66,604.40 L515.15,604.39 L515.65,604.39 L516.14,604.39 L516.64,604.39 L517.13,604.39 L517.63,604.38 L518.13,604.38 L518.62,604.38 L519.12,604.37 L519.61,604.37 L520.11,604.36 L520.60,604.35 L521.10,604.34 L521.59,604.33 L522.09,604.31 L522.58,604.30 L523.08,604.28 L523.57,604.26 L524.07,604.23 L524.57,604.20 L525.06,604.17 L525.56,604.13 L526.05,604.08 L526.55,604.03 L527.04,603.97 L527.54,603.90 L528.03,603.82 L528.53,603.73 L529.02,603.63 L529.52,603.51 L530.01,603.38 L530.51,603.24 L531.00,603.07 L531.50,602.89 L532.00,602.69 L532.49,602.46 L532.99,602.21 L533.48,601.94 L533.98,601.63 L534.47,601.30 L534.97,600.93 L535.46,600.53 L535.96,600.10 L536.45,599.63 L536.95,599.12 L537.44,598.58 L537.94,597.99 L538.43,597.36 L538.93,596.68 L539.43,595.97 L539.92,595.21 L540.42,594.40 L540.91,593.56 L541.41,592.67 L541.90,591.74 L542.40,590.77 L542.89,589.77 L543.39,588.72 L543.88,587.65 L544.38,586.55 L544.87,585.42 L545.37,584.27 L545.87,583.11 L546.36,581.93 L546.86,580.75 L547.35,579.57 L547.85,578.39 L548.34,577.23 L548.84,576.09 L549.33,574.97 L549.83,573.88 L550.32,572.83 L550.82,571.83 L551.31,570.88 L551.81,569.99 L552.30,569.16 L552.80,568.41 L553.30,567.72 L553.79,567.12 L554.29,566.61 L554.78,566.18 L555.28,565.84 L555.77,565.60 L556.27,565.46 L556.76,565.41 L557.26,565.46 L557.75,565.60 L558.25,565.84 L558.74,566.18 L559.24,566.61 L559.74,567.12 L560.23,567.72 L560.73,568.41 L561.22,569.16 L561.72,569.99 L562.21,570.88 L562.71,571.83 L563.20,572.83 L563.70,573.88 L564.19,574.97 L564.69,576.09 L565.18,577.23 L565.68,578.39 L566.17,579.57 L566.67,580.75 L567.17,581.93 L567.66,583.11 L568.16,584.27 L568.65,585.42 L569.15,586.55 L569.64,587.65 L570.14,588.72 L570.63,589.77 L571.13,590.77 L571.62,591.74 L572.12,592.67 L572.61,593.56 L573.11,594.40 L573.60,595.21 L574.10,595.97 L574.60,596.68 L575.09,597.36 L575.59,597.99 L576.08,598.58 L576.58,599.12 L577.07,599.63 L577.57,600.10 L578.06,600.53 L578.56,600.93 L579.05,601.30 L579.55,601.63 L580.04,601.94 L580.54,602.21 L581.04,602.46 L581.53,602.69 L582.03,602.89 L582.52,603.07 L583.02,603.24 L583.51,603.38 L584.01,603.51 L584.50,603.63 L585.00,603.73 L585.49,603.82 L585.99,603.90 L586.48,603.97 L586.98,604.03 L587.47,604.08 L587.97,604.13 L588.47,604.17 L588.96,604.20 L589.46,604.23 L589.95,604.26 L590.45,604.28 L590.94,604.30 L591.44,604.31 L591.93,604.33 L592.43,604.34 L592.92,604.35 L593.42,604.36 L593.91,604.37 L594.41,604.37 L594.90,604.38 L595.40,604.38 L595.90,604.38 L596.39,604.39 L596.89,604.39 L597.38,604.39 L597.88,604.39 L598.37,604.39 L598.87,604.40 L599.36,604.40 L599.86,604.40 L600.35,604.40 L600.85,604.40 L601.34,604.40 L601.84,604.40 L602.34,604.40 L602.83,604.40 L603.33,604.40 L603.82,604.40 L604.32,604.40 L604.81,604.40 L605.31,604.40 L605.80,604.40 L606.30,604.40 L606.79,604.40 L607.29,604.40 L607.78,604.40 L608.28,604.40 L608.77,604.40 L609.27,604.40 L609.77,604.40 L610.26,604.40 L610.76,604.40 L611.25,604.40 L611.75,604.40 L612.24,604.40 L612.74,604.40 L613.23,604.40 L613.73,604.40 L614.22,604.40 L614.72,604.40 L615.21,604.40 L615.71,604.40 L616.20,604.40 L616.70,604.40 L617.20,604.40 L617.69,604.40 L618.19,604.40 L618.68,604.40 L619.18,604.40 L619.67,604.40 L620.17,604.40 L620.66,604.40 L621.16,604.40 L621.65,604.40 L622.15,604.40 L622.64,604.40 L623.14,604.40 L623.64,604.40 L624.13,604.40 L624.63,604.40 L625.12,604.40 L625.62,604.40 L626.11,604.40 L626.61,604.40 L627.10,604.40 L627.60,604.40 L628.09,604.40 L628.59,604.40 L629.08,604.40 L629.58,604.40 L630.07,604.40 L630.57,604.40 L631.07,604.40 L631.56,604.40 L632.06,604.40 L632.55,604.40 L633.05,604.40 L633.54,604.40 L634.04,604.40 L634.53,604.40 L635.03,604.40 L635.52,604.40 L636.02,604.40 L636.51,604.40 L637.01,604.40 L637.50,604.40 L638.00,604.40 L638.50,604.40 L638.99,604.40 L639.49,604.40 L639.98,604.40 L640.48,604.40 L640.97,604.40 L641.47,604.40 L641.96,604.40 L642.46,604.40 L642.95,604.40 L643.45,604.40 L643.94,604.40 L644.44,604.40 L644.94,604.40 L645.43,604.40 L645.93,604.40 L646.42,604.40 L646.92,604.40 L647.41,604.40 L647.91,604.40 L648.40,604.40 L648.90,604.40 L649.39,604.40 L649.89,604.40 L650.38,604.40 L650.88,604.40 L651.37,604.40 L651.87,604.40 L652.37,604.40 L652.86,604.40 L653.36,604.40 L653.85,604.40 L654.35,604.40 L654.84,604.40 L655.34,604.40 L655.83,604.40 L656.33,604.40 L656.82,604.40 L657.32,604.40 L657.81,604.40 L658.31,604.40 L658.80,604.40" fill="none" stroke="#1e9f78" stroke-width="1.0"/>
<path d="M510.20,604.40 L510.70,604.40 L511.19,604.40 L511.69,604.40 L512.18,604.40 L512.68,604.40 L513.17,604.40 L513.67,604.40 L514.16,604.40 L514.66,604.40 L515.15,604.40 L515.65,604.40 L516.14,604.40 L516.64,604.40 L517.13,604.40 L517.63,604.40 L518.13,604.40 L518.62,604.39 L519.12,604.39 L519.61,604.39 L520.11,604.39 L520.60,604.39 L521.10,604.39 L521.59,604.39 L522.09,604.39 L522.58,604.39 L523.08,604.39 L523.57,604.39 L524.07,604.39 L524.57,604.39 L525.06,604.39 L525.56,604.39 L526.05,604.39 L526.55,604.39 L527.04,604.38 L527.54,604.38 L528.03,604.38 L528.53,604.38 L529.02,604.38 L529.52,604.38 L530.01,604.38 L530.51,604.38 L531.00,604.38 L531.50,604.37 L532.00,604.37 L532.49,604.37 L532.99,604.37 L533.48,604.37 L533.98,604.37 L534.47,604.36 L534.97,604.36 L535.46,604.36 L535.96,604.36 L536.45,604.36 L536.95,604.35 L537.44,604.35 L537.94,604.35 L538.43,604.35 L538.93,604.34 L539.43,604.34 L539.92,604.34 L540.42,604.33 L540.91,604.33 L541.41,604.33 L541.90,604.32 L542.40,604.32 L542.89,604.32 L543.39,604.31 L543.88,604.31 L544.38,604.30 L544.87,604.30 L545.37,604.29 L545.87,604.29 L546.36,604.28 L546.86,604.28 L547.35,604.27 L547.85,604.27 L548.34,604.26 L548.84,604.26 L549.33,604.25 L549.83,604.24 L550.32,604.24 L550.82,604.23 L551.31,604.22 L551.81,604.22 L552.30,604.21 L552.80,604.20 L553.30,604.19 L553.79,604.18 L554.29,604.18 L554.78,604.17 L555.28,604.16 L555.77,604.15 L556.27,604.14 L556.76,604.13 L557.26,604.12 L557.75,604.11 L558.25,604.10 L558.74,604.09 L559.24,604.08 L559.74,604.07 L560.23,604.06 L560.73,604.05 L561.22,604.03 L561.72,604.02 L562.21,604.01 L562.71,604.00 L563.20,603.98 L563.70,603.97 L564.19,603.96 L564.69,603.95 L565.18,603.93 L565.68,603.92 L566.17,603.90 L566.67,603.89 L567.17,603.88 L567.66,603.86 L568.16,603.85 L568.65,603.83 L569.15,603.82 L569.64,603.80 L570.14,603.79 L570.63,603.77 L571.13,603.75 L571.62,603.74 L572.12,603.72 L572.61,603.71 L573.11,603.69 L573.60,603.67 L574.10,603.66 L574.60,603.64 L575.09,603.62 L575.59,603.61 L576.08,603.59 L576.58,603.57 L577.07,603.56 L577.57,603.54 L578.06,603.53 L578.56,603.51 L579.05,603.49 L579.55,603.48 L580.04,603.46 L580.54,603.44 L581.04,603.43 L581.53,603.41 L582.03,603.40 L582.52,603.38 L583.02,603.37 L583.51,603.35 L584.01,603.34 L584.50,603.32 L585.00,603.31 L585.49,603.29 L585.99,603.28 L586.48,603.26 L586.98,603.25 L587.47,603.24 L587.97,603.22 L588.47,603.21 L588.96,603.20 L589.46,603.19 L589.95,603.18 L590.45,603.17 L590.94,603.15 L591.44,603.14 L591.93,603.13 L592.43,603.13 L592.92,603.12 L593.42,603.11 L593.91,603.10 L594.41,603.09 L594.90,603.09 L595.40,603.08 L595.90,603.07 L596.39,603.07 L596.89,603.06 L597.38,603.06 L597.88,603.05 L598.37,603.05 L598.87,603.05 L599.36,603.04 L599.86,603.04 L600.35,603.04 L600.85,603.04 L601.34,603.04 L601.84,603.04 L602.34,603.04 L602.83,603.04 L603.33,603.04 L603.82,603.05 L604.32,603.05 L604.81,603.05 L605.31,603.06 L605.80,603.06 L606.30,603.07 L606.79,603.07 L607.29,603.08 L607.78,603.09 L608.28,603.09 L608.77,603.10 L609.27,603.11 L609.77,603.12 L610.26,603.13 L610.76,603.13 L611.25,603.14 L611.75,603.15 L612.24,603.17 L612.74,603.18 L613.23,603.19 L613.73,603.20 L614.22,603.21 L614.72,603.22 L615.21,603.24 L615.71,603.25 L616.20,603.26 L616.70,603.28 L617.20,603.29 L617.69,603.31 L618.19,603.32 L618.68,603.34 L619.18,603.35 L619.67,603.37 L620.17,603.38 L620.66,603.40 L621.16,603.41 L621.65,603.43 L622.15,603.44 L622.64,603.46 L623.14,603.48 L623.64,603.49 L624.13,603.51 L624.63,603.53 L625.12,603.54 L625.62,603.56 L626.11,603.57 L626.61,603.59 L627.10,603.61 L627.60,603.62 L628.09,603.64 L628.59,603.66 L629.08,603.67 L629.58,603.69 L630.07,603.71 L630.57,603.72 L631.07,603.74 L631.56,603.75 L632.06,603.77 L632.55,603.79 L633.05,603.80 L633.54,603.82 L634.04,603.83 L634.53,603.85 L635.03,603.86 L635.52,603.88 L636.02,603.89 L636.51,603.90 L637.01,603.92 L637.50,603.93 L638.00,603.95 L638.50,603.96 L638.99,603.97 L639.49,603.98 L639.98,604.00 L640.48,604.01 L640.97,604.02 L641.47,604.03 L641.96,604.05 L642.46,604.06 L642.95,604.07 L643.45,604.08 L643.94,604.09 L644.44,604.10 L644.94,604.11 L645.43,604.12 L645.93,604.13 L646.42,604.14 L646.92,604.15 L647.41,604.16 L647.91,604.17 L648.40,604.18 L648.90,604.18 L649.39,604.19 L649.89,604.20 L650.38,604.21 L650.88,604.22 L651.37,604.22 L651.87,604.23 L652.37,604.24 L652.86,604.24 L653.36,604.25 L653.85,604.26 L654.35,604.26 L654.84,604.27 L655.34,604.27 L655.83,604.28 L656.33,604.28 L656.82,604.29 L657.32,604.29 L657.81,604.30 L658.31,604.30 L658.80,604.31" fill="none" stroke="#1e9f78" stroke-width="1.0"/>
<line x1="507.60" y1="604.40" x2="510.20" y2="604.40" stroke="#222" stroke-width="0.6"/>
<line x1="508.70" y1="595.90" x2="510.20" y2="595.90" stroke="#222" stroke-width="0.6"/>
<line x1="508.70" y1="587.40" x2="510.20" y2="587.40" stroke="#222" stroke-width="0.6"/>
<line x1="508.70" y1="578.90" x2="510.20" y2="578.90" stroke="#222" stroke-width="0.6"/>
<line x1="507.60" y1="570.39" x2="510.20" y2="570.39" stroke="#222" stroke-width="0.6"/>
<line x1="508.70" y1="561.89" x2="510.20" y2="561.89" stroke="#222" stroke-width="0.6"/>
<line x1="508.70" y1="553.39" x2="510.20" y2="553.39" stroke="#222" stroke-width="0.6"/>
<line x1="508.70" y1="544.89" x2="510.20" y2="544.89" stroke="#222" stroke-width="0.6"/>
<text x="505.60" y="605.80" font-size="4.2" text-anchor="end" fill="#222" stroke="#222" stroke-width="0.078"><tspan>0.00</tspan></text>
<text x="505.60" y="571.79" font-size="4.2" text-anchor="end" fill="#222" stroke="#222" stroke-width="0.078"><tspan>0.15</tspan></text>
<line x1="510.20" y1="604.40" x2="658.80" y2="604.40" stroke="#222" stroke-width="0.9"/>
<line x1="510.20" y1="604.40" x2="510.20" y2="607.00" stroke="#222" stroke-width="0.6"/>
<line x1="520.11" y1="604.40" x2="520.11" y2="605.90" stroke="#222" stroke-width="0.6"/>
<line x1="530.01" y1="604.40" x2="530.01" y2="605.90" stroke="#222" stroke-width="0.6"/>
<line x1="539.92" y1="604.40" x2="539.92" y2="607.00" stroke="#222" stroke-width="0.6"/>
<line x1="549.83" y1="604.40" x2="549.83" y2="605.90" stroke="#222" stroke-width="0.6"/>
<line x1="559.74" y1="604.40" x2="559.74" y2="605.90" stroke="#222" stroke-width="0.6"/>
<line x1="569.64" y1="604.40" x2="569.64" y2="607.00" stroke="#222" stroke-width="0.6"/>
<line x1="579.55" y1="604.40" x2="579.55" y2="605.90" stroke="#222" stroke-width="0.6"/>
<line x1="589.46" y1="604.40" x2="589.46" y2="605.90" stroke="#222" stroke-width="0.6"/>
<line x1="599.36" y1="604.40" x2="599.36" y2="607.00" stroke="#222" stroke-width="0.6"/>
<line x1="609.27" y1="604.40" x2="609.27" y2="605.90" stroke="#222" stroke-width="0.6"/>
<line x1="619.18" y1="604.40" x2="619.18" y2="605.90" stroke="#222" stroke-width="0.6"/>
<line x1="629.08" y1="604.40" x2="629.08" y2="607.00" stroke="#222" stroke-width="0.6"/>
<line x1="638.99" y1="604.40" x2="638.99" y2="605.90" stroke="#222" stroke-width="0.6"/>
<line x1="648.90" y1="604.40" x2="648.90" y2="605.90" stroke="#222" stroke-width="0.6"/>
<line x1="658.80" y1="604.40" x2="658.80" y2="607.00" stroke="#222" stroke-width="0.6"/>
<text x="678.70" y="551.70" font-size="8.4" text-anchor="end" fill="#000" stroke="#000" stroke-width="0.13"><tspan>CDT1</tspan><tspan dy="-2.86" font-size="5.21">R330A</tspan></text>
<path d="M532.99,669.50 L532.99,664.97 L538.83,664.97 L538.83,655.44 L544.68,655.44 L544.68,635.50 L550.52,635.50 L550.52,611.69 L556.37,611.69 L556.37,615.09 L562.21,615.09 L562.21,640.03 L568.06,640.03 L568.06,660.43 L573.90,660.43 L573.90,666.78 L579.75,666.78 L579.75,668.59 L585.59,668.59 L585.59,669.05 L591.44,669.05 L591.44,669.27 L597.28,669.27 L597.38,669.27 L603.23,669.27 L603.33,669.50 L609.17,669.50 L609.27,669.27 L615.12,669.27 L615.21,669.50 L621.06,669.50 L621.16,669.27 L627.00,669.27 L627.00,669.50 Z" fill="#8fbfe3" fill-opacity="0.28" stroke="none"/>
<path d="M510.20,669.50 L510.20,669.50 L510.70,669.50 L511.19,669.50 L511.69,669.50 L512.18,669.50 L512.68,669.50 L513.17,669.50 L513.67,669.50 L514.16,669.50 L514.66,669.50 L515.15,669.50 L515.65,669.50 L516.14,669.50 L516.64,669.50 L517.13,669.50 L517.63,669.50 L518.13,669.49 L518.62,669.49 L519.12,669.49 L519.61,669.49 L520.11,669.49 L520.60,669.48 L521.10,669.48 L521.59,669.47 L522.09,669.47 L522.58,669.46 L523.08,669.45 L523.57,669.44 L524.07,669.42 L524.57,669.41 L525.06,669.38 L525.56,669.36 L526.05,669.33 L526.55,669.29 L527.04,669.25 L527.54,669.20 L528.03,669.14 L528.53,669.07 L529.02,668.98 L529.52,668.89 L530.01,668.77 L530.51,668.64 L531.00,668.49 L531.50,668.32 L532.00,668.11 L532.49,667.88 L532.99,667.62 L533.48,667.33 L533.98,666.99 L534.47,666.61 L534.97,666.19 L535.46,665.71 L535.96,665.18 L536.45,664.60 L536.95,663.95 L537.44,663.23 L537.94,662.45 L538.43,661.59 L538.93,660.66 L539.43,659.65 L539.92,658.56 L540.42,657.39 L540.91,656.14 L541.41,654.80 L541.90,653.38 L542.40,651.89 L542.89,650.31 L543.39,648.67 L543.88,646.95 L544.38,645.18 L544.87,643.34 L545.37,641.46 L545.87,639.55 L546.36,637.60 L546.86,635.64 L547.35,633.67 L547.85,631.71 L548.34,629.77 L548.84,627.87 L549.33,626.01 L549.83,624.22 L550.32,622.51 L550.82,620.89 L551.31,619.37 L551.81,617.98 L552.30,616.72 L552.80,615.60 L553.30,614.63 L553.79,613.83 L554.29,613.20 L554.78,612.74 L555.28,612.46 L555.77,612.37 L556.27,612.46 L556.76,612.74 L557.26,613.20 L557.75,613.83 L558.25,614.63 L558.74,615.60 L559.24,616.72 L559.74,617.98 L560.23,619.37 L560.73,620.89 L561.22,622.51 L561.72,624.22 L562.21,626.01 L562.71,627.87 L563.20,629.77 L563.70,631.71 L564.19,633.67 L564.69,635.64 L565.18,637.60 L565.68,639.55 L566.17,641.46 L566.67,643.34 L567.17,645.18 L567.66,646.95 L568.16,648.67 L568.65,650.31 L569.15,651.89 L569.64,653.38 L570.14,654.80 L570.63,656.14 L571.13,657.39 L571.62,658.56 L572.12,659.65 L572.61,660.66 L573.11,661.59 L573.60,662.45 L574.10,663.23 L574.60,663.95 L575.09,664.60 L575.59,665.18 L576.08,665.71 L576.58,666.19 L577.07,666.61 L577.57,666.99 L578.06,667.33 L578.56,667.62 L579.05,667.88 L579.55,668.11 L580.04,668.32 L580.54,668.49 L581.04,668.64 L581.53,668.77 L582.03,668.89 L582.52,668.98 L583.02,669.07 L583.51,669.14 L584.01,669.20 L584.50,669.25 L585.00,669.29 L585.49,669.33 L585.99,669.36 L586.48,669.38 L586.98,669.41 L587.47,669.42 L587.97,669.44 L588.47,669.45 L588.96,669.46 L589.46,669.47 L589.95,669.47 L590.45,669.48 L590.94,669.48 L591.44,669.49 L591.93,669.49 L592.43,669.49 L592.92,669.49 L593.42,669.49 L593.91,669.50 L594.41,669.50 L594.90,669.50 L595.40,669.50 L595.90,669.50 L596.39,669.50 L596.89,669.50 L597.38,669.50 L597.88,669.50 L598.37,669.50 L598.87,669.50 L599.36,669.50 L599.86,669.50 L600.35,669.50 L600.85,669.50 L601.34,669.50 L601.84,669.50 L602.34,669.50 L602.83,669.50 L603.33,669.50 L603.82,669.50 L604.32,669.50 L604.81,669.50 L605.31,669.50 L605.80,669.50 L606.30,669.50 L606.79,669.50 L607.29,669.50 L607.78,669.50 L608.28,669.50 L608.77,669.50 L609.27,669.50 L609.77,669.50 L610.26,669.50 L610.76,669.50 L611.25,669.50 L611.75,669.50 L612.24,669.50 L612.74,669.50 L613.23,669.50 L613.73,669.50 L614.22,669.50 L614.72,669.50 L615.21,669.50 L615.71,669.50 L616.20,669.50 L616.70,669.50 L617.20,669.50 L617.69,669.50 L618.19,669.50 L618.68,669.50 L619.18,669.50 L619.67,669.50 L620.17,669.50 L620.66,669.50 L621.16,669.50 L621.65,669.50 L622.15,669.50 L622.64,669.50 L623.14,669.50 L623.64,669.50 L624.13,669.50 L624.63,669.50 L625.12,669.50 L625.62,669.50 L626.11,669.50 L626.61,669.50 L627.10,669.50 L627.60,669.50 L628.09,669.50 L628.59,669.50 L629.08,669.50 L629.58,669.50 L630.07,669.50 L630.57,669.50 L631.07,669.50 L631.56,669.50 L632.06,669.50 L632.55,669.50 L633.05,669.50 L633.54,669.50 L634.04,669.50 L634.53,669.50 L635.03,669.50 L635.52,669.50 L636.02,669.50 L636.51,669.50 L637.01,669.50 L637.50,669.50 L638.00,669.50 L638.50,669.50 L638.99,669.50 L639.49,669.50 L639.98,669.50 L640.48,669.50 L640.97,669.50 L641.47,669.50 L641.96,669.50 L642.46,669.50 L642.95,669.50 L643.45,669.50 L643.94,669.50 L644.44,669.50 L644.94,669.50 L645.43,669.50 L645.93,669.50 L646.42,669.50 L646.92,669.50 L647.41,669.50 L647.91,669.50 L648.40,669.50 L648.90,669.50 L649.39,669.50 L649.89,669.50 L650.38,669.50 L650.88,669.50 L651.37,669.50 L651.87,669.50 L652.37,669.50 L652.86,669.50 L653.36,669.50 L653.85,669.50 L654.35,669.50 L654.84,669.50 L655.34,669.50 L655.83,669.50 L656.33,669.50 L656.82,669.50 L657.32,669.50 L657.81,669.50 L658.31,669.50 L658.80,669.50 L658.80,669.50 Z" fill="#8fbfe3" fill-opacity="0.45" stroke="none"/>
<path d="M532.99,669.50 L532.99,664.97 L538.83,664.97 L538.83,655.44 L544.68,655.44 L544.68,635.50 L550.52,635.50 L550.52,611.69 L556.37,611.69 L556.37,615.09 L562.21,615.09 L562.21,640.03 L568.06,640.03 L568.06,660.43 L573.90,660.43 L573.90,666.78 L579.75,666.78 L579.75,668.59 L585.59,668.59 L585.59,669.05 L591.44,669.05 L591.44,669.27 L597.28,669.27 L597.38,669.27 L603.23,669.27 L603.33,669.50 L609.17,669.50 L609.27,669.27 L615.12,669.27 L615.21,669.50 L621.06,669.50 L621.16,669.27 L627.00,669.27 L627.00,669.50 Z" fill="none" stroke="#2a7fc0" stroke-width="0.9" stroke-linejoin="miter"/>
<path d="M510.20,669.50 L510.70,669.50 L511.19,669.50 L511.69,669.50 L512.18,669.50 L512.68,669.50 L513.17,669.50 L513.67,669.50 L514.16,669.50 L514.66,669.50 L515.15,669.50 L515.65,669.50 L516.14,669.50 L516.64,669.50 L517.13,669.50 L517.63,669.50 L518.13,669.49 L518.62,669.49 L519.12,669.49 L519.61,669.49 L520.11,669.49 L520.60,669.48 L521.10,669.48 L521.59,669.47 L522.09,669.47 L522.58,669.46 L523.08,669.45 L523.57,669.44 L524.07,669.42 L524.57,669.41 L525.06,669.38 L525.56,669.36 L526.05,669.33 L526.55,669.29 L527.04,669.25 L527.54,669.20 L528.03,669.14 L528.53,669.07 L529.02,668.98 L529.52,668.89 L530.01,668.77 L530.51,668.64 L531.00,668.49 L531.50,668.32 L532.00,668.11 L532.49,667.88 L532.99,667.62 L533.48,667.33 L533.98,666.99 L534.47,666.61 L534.97,666.19 L535.46,665.71 L535.96,665.18 L536.45,664.60 L536.95,663.95 L537.44,663.23 L537.94,662.45 L538.43,661.59 L538.93,660.66 L539.43,659.65 L539.92,658.56 L540.42,657.39 L540.91,656.14 L541.41,654.80 L541.90,653.38 L542.40,651.89 L542.89,650.31 L543.39,648.67 L543.88,646.95 L544.38,645.18 L544.87,643.34 L545.37,641.46 L545.87,639.55 L546.36,637.60 L546.86,635.64 L547.35,633.67 L547.85,631.71 L548.34,629.77 L548.84,627.87 L549.33,626.01 L549.83,624.22 L550.32,622.51 L550.82,620.89 L551.31,619.37 L551.81,617.98 L552.30,616.72 L552.80,615.60 L553.30,614.63 L553.79,613.83 L554.29,613.20 L554.78,612.74 L555.28,612.46 L555.77,612.37 L556.27,612.46 L556.76,612.74 L557.26,613.20 L557.75,613.83 L558.25,614.63 L558.74,615.60 L559.24,616.72 L559.74,617.98 L560.23,619.37 L560.73,620.89 L561.22,622.51 L561.72,624.22 L562.21,626.01 L562.71,627.87 L563.20,629.77 L563.70,631.71 L564.19,633.67 L564.69,635.64 L565.18,637.60 L565.68,639.55 L566.17,641.46 L566.67,643.34 L567.17,645.18 L567.66,646.95 L568.16,648.67 L568.65,650.31 L569.15,651.89 L569.64,653.38 L570.14,654.80 L570.63,656.14 L571.13,657.39 L571.62,658.56 L572.12,659.65 L572.61,660.66 L573.11,661.59 L573.60,662.45 L574.10,663.23 L574.60,663.95 L575.09,664.60 L575.59,665.18 L576.08,665.71 L576.58,666.19 L577.07,666.61 L577.57,666.99 L578.06,667.33 L578.56,667.62 L579.05,667.88 L579.55,668.11 L580.04,668.32 L580.54,668.49 L581.04,668.64 L581.53,668.77 L582.03,668.89 L582.52,668.98 L583.02,669.07 L583.51,669.14 L584.01,669.20 L584.50,669.25 L585.00,669.29 L585.49,669.33 L585.99,669.36 L586.48,669.38 L586.98,669.41 L587.47,669.42 L587.97,669.44 L588.47,669.45 L588.96,669.46 L589.46,669.47 L589.95,669.47 L590.45,669.48 L590.94,669.48 L591.44,669.49 L591.93,669.49 L592.43,669.49 L592.92,669.49 L593.42,669.49 L593.91,669.50 L594.41,669.50 L594.90,669.50 L595.40,669.50 L595.90,669.50 L596.39,669.50 L596.89,669.50 L597.38,669.50 L597.88,669.50 L598.37,669.50 L598.87,669.50 L599.36,669.50 L599.86,669.50 L600.35,669.50 L600.85,669.50 L601.34,669.50 L601.84,669.50 L602.34,669.50 L602.83,669.50 L603.33,669.50 L603.82,669.50 L604.32,669.50 L604.81,669.50 L605.31,669.50 L605.80,669.50 L606.30,669.50 L606.79,669.50 L607.29,669.50 L607.78,669.50 L608.28,669.50 L608.77,669.50 L609.27,669.50 L609.77,669.50 L610.26,669.50 L610.76,669.50 L611.25,669.50 L611.75,669.50 L612.24,669.50 L612.74,669.50 L613.23,669.50 L613.73,669.50 L614.22,669.50 L614.72,669.50 L615.21,669.50 L615.71,669.50 L616.20,669.50 L616.70,669.50 L617.20,669.50 L617.69,669.50 L618.19,669.50 L618.68,669.50 L619.18,669.50 L619.67,669.50 L620.17,669.50 L620.66,669.50 L621.16,669.50 L621.65,669.50 L622.15,669.50 L622.64,669.50 L623.14,669.50 L623.64,669.50 L624.13,669.50 L624.63,669.50 L625.12,669.50 L625.62,669.50 L626.11,669.50 L626.61,669.50 L627.10,669.50 L627.60,669.50 L628.09,669.50 L628.59,669.50 L629.08,669.50 L629.58,669.50 L630.07,669.50 L630.57,669.50 L631.07,669.50 L631.56,669.50 L632.06,669.50 L632.55,669.50 L633.05,669.50 L633.54,669.50 L634.04,669.50 L634.53,669.50 L635.03,669.50 L635.52,669.50 L636.02,669.50 L636.51,669.50 L637.01,669.50 L637.50,669.50 L638.00,669.50 L638.50,669.50 L638.99,669.50 L639.49,669.50 L639.98,669.50 L640.48,669.50 L640.97,669.50 L641.47,669.50 L641.96,669.50 L642.46,669.50 L642.95,669.50 L643.45,669.50 L643.94,669.50 L644.44,669.50 L644.94,669.50 L645.43,669.50 L645.93,669.50 L646.42,669.50 L646.92,669.50 L647.41,669.50 L647.91,669.50 L648.40,669.50 L648.90,669.50 L649.39,669.50 L649.89,669.50 L650.38,669.50 L650.88,669.50 L651.37,669.50 L651.87,669.50 L652.37,669.50 L652.86,669.50 L653.36,669.50 L653.85,669.50 L654.35,669.50 L654.84,669.50 L655.34,669.50 L655.83,669.50 L656.33,669.50 L656.82,669.50 L657.32,669.50 L657.81,669.50 L658.31,669.50 L658.80,669.50" fill="none" stroke="#2a7fc0" stroke-width="1.0"/>
<line x1="507.60" y1="669.50" x2="510.20" y2="669.50" stroke="#222" stroke-width="0.6"/>
<line x1="508.70" y1="661.00" x2="510.20" y2="661.00" stroke="#222" stroke-width="0.6"/>
<line x1="508.70" y1="652.50" x2="510.20" y2="652.50" stroke="#222" stroke-width="0.6"/>
<line x1="508.70" y1="644.00" x2="510.20" y2="644.00" stroke="#222" stroke-width="0.6"/>
<line x1="507.60" y1="635.50" x2="510.20" y2="635.50" stroke="#222" stroke-width="0.6"/>
<line x1="508.70" y1="626.99" x2="510.20" y2="626.99" stroke="#222" stroke-width="0.6"/>
<line x1="508.70" y1="618.49" x2="510.20" y2="618.49" stroke="#222" stroke-width="0.6"/>
<line x1="508.70" y1="609.99" x2="510.20" y2="609.99" stroke="#222" stroke-width="0.6"/>
<text x="505.60" y="670.90" font-size="4.2" text-anchor="end" fill="#222" stroke="#222" stroke-width="0.078"><tspan>0.00</tspan></text>
<text x="505.60" y="636.89" font-size="4.2" text-anchor="end" fill="#222" stroke="#222" stroke-width="0.078"><tspan>0.15</tspan></text>
<line x1="510.20" y1="669.50" x2="658.80" y2="669.50" stroke="#222" stroke-width="0.9"/>
<line x1="510.20" y1="669.50" x2="510.20" y2="672.10" stroke="#222" stroke-width="0.6"/>
<line x1="520.11" y1="669.50" x2="520.11" y2="671.00" stroke="#222" stroke-width="0.6"/>
<line x1="530.01" y1="669.50" x2="530.01" y2="671.00" stroke="#222" stroke-width="0.6"/>
<line x1="539.92" y1="669.50" x2="539.92" y2="672.10" stroke="#222" stroke-width="0.6"/>
<line x1="549.83" y1="669.50" x2="549.83" y2="671.00" stroke="#222" stroke-width="0.6"/>
<line x1="559.74" y1="669.50" x2="559.74" y2="671.00" stroke="#222" stroke-width="0.6"/>
<line x1="569.64" y1="669.50" x2="569.64" y2="672.10" stroke="#222" stroke-width="0.6"/>
<line x1="579.55" y1="669.50" x2="579.55" y2="671.00" stroke="#222" stroke-width="0.6"/>
<line x1="589.46" y1="669.50" x2="589.46" y2="671.00" stroke="#222" stroke-width="0.6"/>
<line x1="599.36" y1="669.50" x2="599.36" y2="672.10" stroke="#222" stroke-width="0.6"/>
<line x1="609.27" y1="669.50" x2="609.27" y2="671.00" stroke="#222" stroke-width="0.6"/>
<line x1="619.18" y1="669.50" x2="619.18" y2="671.00" stroke="#222" stroke-width="0.6"/>
<line x1="629.08" y1="669.50" x2="629.08" y2="672.10" stroke="#222" stroke-width="0.6"/>
<line x1="638.99" y1="669.50" x2="638.99" y2="671.00" stroke="#222" stroke-width="0.6"/>
<line x1="648.90" y1="669.50" x2="648.90" y2="671.00" stroke="#222" stroke-width="0.6"/>
<line x1="658.80" y1="669.50" x2="658.80" y2="672.10" stroke="#222" stroke-width="0.6"/>
<text x="678.70" y="621.60" font-size="8.4" text-anchor="end" fill="#000" stroke="#000" stroke-width="0.13"><tspan>Gem</tspan><tspan dy="-2.86" font-size="5.21">FL</tspan></text>
<path d="M538.53,735.20 L538.53,731.57 L544.23,731.57 L544.23,723.18 L549.93,723.18 L549.93,718.65 L555.62,718.65 L555.62,716.16 L561.32,716.16 L561.32,717.97 L567.02,717.97 L567.02,723.87 L572.71,723.87 L572.71,724.77 L578.41,724.77 L578.41,720.69 L584.11,720.69 L584.11,716.16 L589.80,716.16 L589.80,715.25 L595.50,715.25 L595.50,712.98 L601.20,712.98 L601.20,717.06 L606.89,717.06 L606.89,721.14 L612.59,721.14 L612.59,726.36 L618.29,726.36 L618.29,729.99 L623.98,729.99 L623.98,732.25 L629.68,732.25 L629.68,733.39 L635.37,733.39 L635.37,734.07 L641.07,734.07 L641.07,734.52 L646.77,734.52 L646.77,734.75 L652.46,734.75 L652.46,735.20 Z" fill="#f3c35a" fill-opacity="0.28" stroke="none"/>
<path d="M510.20,735.20 L510.20,735.20 L510.70,735.20 L511.19,735.20 L511.69,735.20 L512.18,735.20 L512.68,735.20 L513.17,735.20 L513.67,735.20 L514.16,735.20 L514.66,735.20 L515.15,735.20 L515.65,735.20 L516.14,735.20 L516.64,735.20 L517.13,735.20 L517.63,735.20 L518.13,735.20 L518.62,735.20 L519.12,735.20 L519.61,735.20 L520.11,735.20 L520.60,735.20 L521.10,735.20 L521.59,735.20 L522.09,735.20 L522.58,735.20 L523.08,735.20 L523.57,735.20 L524.07,735.20 L524.57,735.20 L525.06,735.20 L525.56,735.20 L526.05,735.20 L526.55,735.20 L527.04,735.20 L527.54,735.20 L528.03,735.19 L528.53,735.19 L529.02,735.19 L529.52,735.19 L530.01,735.18 L530.51,735.18 L531.00,735.18 L531.50,735.17 L532.00,735.16 L532.49,735.15 L532.99,735.14 L533.48,735.12 L533.98,735.10 L534.47,735.08 L534.97,735.05 L535.46,735.01 L535.96,734.97 L536.45,734.92 L536.95,734.86 L537.44,734.79 L537.94,734.71 L538.43,734.62 L538.93,734.50 L539.43,734.38 L539.92,734.23 L540.42,734.06 L540.91,733.86 L541.41,733.64 L541.90,733.39 L542.40,733.12 L542.89,732.80 L543.39,732.46 L543.88,732.08 L544.38,731.66 L544.87,731.20 L545.37,730.71 L545.87,730.17 L546.36,729.60 L546.86,728.99 L547.35,728.34 L547.85,727.66 L548.34,726.95 L548.84,726.21 L549.33,725.45 L549.83,724.67 L550.32,723.87 L550.82,723.08 L551.31,722.28 L551.81,721.50 L552.30,720.73 L552.80,719.98 L553.30,719.27 L553.79,718.60 L554.29,717.97 L554.78,717.40 L555.28,716.90 L555.77,716.46 L556.27,716.10 L556.76,715.82 L557.26,715.62 L557.75,715.51 L558.25,715.48 L558.74,715.54 L559.24,715.69 L559.74,715.92 L560.23,716.24 L560.73,716.63 L561.22,717.09 L561.72,717.62 L562.21,718.21 L562.71,718.86 L563.20,719.55 L563.70,720.28 L564.19,721.03 L564.69,721.81 L565.18,722.60 L565.68,723.40 L566.17,724.19 L566.67,724.98 L567.17,725.75 L567.66,726.51 L568.16,727.24 L568.65,727.94 L569.15,728.60 L569.64,729.24 L570.14,729.83 L570.63,730.39 L571.13,730.91 L571.62,731.39 L572.12,731.83 L572.61,732.23 L573.11,732.60 L573.60,732.93 L574.10,733.23 L574.60,733.50 L575.09,733.73 L575.59,733.94 L576.08,734.13 L576.58,734.29 L577.07,734.43 L577.57,734.55 L578.06,734.66 L578.56,734.75 L579.05,734.82 L579.55,734.89 L580.04,734.94 L580.54,734.99 L581.04,735.03 L581.53,735.06 L582.03,735.09 L582.52,735.11 L583.02,735.13 L583.51,735.14 L584.01,735.15 L584.50,735.16 L585.00,735.17 L585.49,735.18 L585.99,735.18 L586.48,735.19 L586.98,735.19 L587.47,735.19 L587.97,735.19 L588.47,735.20 L588.96,735.20 L589.46,735.20 L589.95,735.20 L590.45,735.20 L590.94,735.20 L591.44,735.20 L591.93,735.20 L592.43,735.20 L592.92,735.20 L593.42,735.20 L593.91,735.20 L594.41,735.20 L594.90,735.20 L595.40,735.20 L595.90,735.20 L596.39,735.20 L596.89,735.20 L597.38,735.20 L597.88,735.20 L598.37,735.20 L598.87,735.20 L599.36,735.20 L599.86,735.20 L600.35,735.20 L600.85,735.20 L601.34,735.20 L601.84,735.20 L602.34,735.20 L602.83,735.20 L603.33,735.20 L603.82,735.20 L604.32,735.20 L604.81,735.20 L605.31,735.20 L605.80,735.20 L606.30,735.20 L606.79,735.20 L607.29,735.20 L607.78,735.20 L608.28,735.20 L608.77,735.20 L609.27,735.20 L609.77,735.20 L610.26,735.20 L610.76,735.20 L611.25,735.20 L611.75,735.20 L612.24,735.20 L612.74,735.20 L613.23,735.20 L613.73,735.20 L614.22,735.20 L614.72,735.20 L615.21,735.20 L615.71,735.20 L616.20,735.20 L616.70,735.20 L617.20,735.20 L617.69,735.20 L618.19,735.20 L618.68,735.20 L619.18,735.20 L619.67,735.20 L620.17,735.20 L620.66,735.20 L621.16,735.20 L621.65,735.20 L622.15,735.20 L622.64,735.20 L623.14,735.20 L623.64,735.20 L624.13,735.20 L624.63,735.20 L625.12,735.20 L625.62,735.20 L626.11,735.20 L626.61,735.20 L627.10,735.20 L627.60,735.20 L628.09,735.20 L628.59,735.20 L629.08,735.20 L629.58,735.20 L630.07,735.20 L630.57,735.20 L631.07,735.20 L631.56,735.20 L632.06,735.20 L632.55,735.20 L633.05,735.20 L633.54,735.20 L634.04,735.20 L634.53,735.20 L635.03,735.20 L635.52,735.20 L636.02,735.20 L636.51,735.20 L637.01,735.20 L637.50,735.20 L638.00,735.20 L638.50,735.20 L638.99,735.20 L639.49,735.20 L639.98,735.20 L640.48,735.20 L640.97,735.20 L641.47,735.20 L641.96,735.20 L642.46,735.20 L642.95,735.20 L643.45,735.20 L643.94,735.20 L644.44,735.20 L644.94,735.20 L645.43,735.20 L645.93,735.20 L646.42,735.20 L646.92,735.20 L647.41,735.20 L647.91,735.20 L648.40,735.20 L648.90,735.20 L649.39,735.20 L649.89,735.20 L650.38,735.20 L650.88,735.20 L651.37,735.20 L651.87,735.20 L652.37,735.20 L652.86,735.20 L653.36,735.20 L653.85,735.20 L654.35,735.20 L654.84,735.20 L655.34,735.20 L655.83,735.20 L656.33,735.20 L656.82,735.20 L657.32,735.20 L657.81,735.20 L658.31,735.20 L658.80,735.20 L658.80,735.20 Z" fill="#f3c35a" fill-opacity="0.45" stroke="none"/>
<path d="M510.20,735.20 L510.20,735.20 L510.70,735.20 L511.19,735.20 L511.69,735.20 L512.18,735.20 L512.68,735.20 L513.17,735.20 L513.67,735.20 L514.16,735.20 L514.66,735.20 L515.15,735.20 L515.65,735.20 L516.14,735.20 L516.64,735.20 L517.13,735.20 L517.63,735.20 L518.13,735.20 L518.62,735.20 L519.12,735.20 L519.61,735.20 L520.11,735.20 L520.60,735.20 L521.10,735.20 L521.59,735.20 L522.09,735.20 L522.58,735.20 L523.08,735.20 L523.57,735.20 L524.07,735.20 L524.57,735.20 L525.06,735.20 L525.56,735.20 L526.05,735.20 L526.55,735.20 L527.04,735.20 L527.54,735.20 L528.03,735.20 L528.53,735.20 L529.02,735.20 L529.52,735.20 L530.01,735.20 L530.51,735.20 L531.00,735.20 L531.50,735.20 L532.00,735.20 L532.49,735.20 L532.99,735.20 L533.48,735.20 L533.98,735.20 L534.47,735.20 L534.97,735.20 L535.46,735.20 L535.96,735.20 L536.45,735.20 L536.95,735.20 L537.44,735.20 L537.94,735.20 L538.43,735.20 L538.93,735.20 L539.43,735.20 L539.92,735.20 L540.42,735.20 L540.91,735.20 L541.41,735.20 L541.90,735.20 L542.40,735.20 L542.89,735.20 L543.39,735.20 L543.88,735.20 L544.38,735.20 L544.87,735.19 L545.37,735.19 L545.87,735.19 L546.36,735.19 L546.86,735.19 L547.35,735.19 L547.85,735.19 L548.34,735.18 L548.84,735.18 L549.33,735.18 L549.83,735.18 L550.32,735.17 L550.82,735.17 L551.31,735.16 L551.81,735.16 L552.30,735.15 L552.80,735.14 L553.30,735.14 L553.79,735.13 L554.29,735.12 L554.78,735.11 L555.28,735.09 L555.77,735.08 L556.27,735.06 L556.76,735.05 L557.26,735.03 L557.75,735.00 L558.25,734.98 L558.74,734.95 L559.24,734.92 L559.74,734.89 L560.23,734.85 L560.73,734.81 L561.22,734.77 L561.72,734.72 L562.21,734.67 L562.71,734.61 L563.20,734.54 L563.70,734.47 L564.19,734.40 L564.69,734.31 L565.18,734.22 L565.68,734.13 L566.17,734.02 L566.67,733.91 L567.17,733.78 L567.66,733.65 L568.16,733.51 L568.65,733.35 L569.15,733.19 L569.64,733.02 L570.14,732.83 L570.63,732.63 L571.13,732.42 L571.62,732.19 L572.12,731.96 L572.61,731.70 L573.11,731.44 L573.60,731.16 L574.10,730.86 L574.60,730.56 L575.09,730.23 L575.59,729.89 L576.08,729.54 L576.58,729.17 L577.07,728.79 L577.57,728.40 L578.06,727.99 L578.56,727.56 L579.05,727.13 L579.55,726.68 L580.04,726.22 L580.54,725.75 L581.04,725.27 L581.53,724.78 L582.03,724.29 L582.52,723.78 L583.02,723.27 L583.51,722.76 L584.01,722.24 L584.50,721.72 L585.00,721.21 L585.49,720.69 L585.99,720.18 L586.48,719.67 L586.98,719.17 L587.47,718.67 L587.97,718.19 L588.47,717.72 L588.96,717.26 L589.46,716.82 L589.95,716.39 L590.45,715.98 L590.94,715.59 L591.44,715.23 L591.93,714.89 L592.43,714.57 L592.92,714.28 L593.42,714.01 L593.91,713.77 L594.41,713.57 L594.90,713.39 L595.40,713.24 L595.90,713.13 L596.39,713.05 L596.89,713.00 L597.38,712.98 L597.88,713.00 L598.37,713.05 L598.87,713.13 L599.36,713.24 L599.86,713.39 L600.35,713.57 L600.85,713.77 L601.34,714.01 L601.84,714.28 L602.34,714.57 L602.83,714.89 L603.33,715.23 L603.82,715.59 L604.32,715.98 L604.81,716.39 L605.31,716.82 L605.80,717.26 L606.30,717.72 L606.79,718.19 L607.29,718.67 L607.78,719.17 L608.28,719.67 L608.77,720.18 L609.27,720.69 L609.77,721.21 L610.26,721.72 L610.76,722.24 L611.25,722.76 L611.75,723.27 L612.24,723.78 L612.74,724.29 L613.23,724.78 L613.73,725.27 L614.22,725.75 L614.72,726.22 L615.21,726.68 L615.71,727.13 L616.20,727.56 L616.70,727.99 L617.20,728.40 L617.69,728.79 L618.19,729.17 L618.68,729.54 L619.18,729.89 L619.67,730.23 L620.17,730.56 L620.66,730.86 L621.16,731.16 L621.65,731.44 L622.15,731.70 L622.64,731.96 L623.14,732.19 L623.64,732.42 L624.13,732.63 L624.63,732.83 L625.12,733.02 L625.62,733.19 L626.11,733.35 L626.61,733.51 L627.10,733.65 L627.60,733.78 L628.09,733.91 L628.59,734.02 L629.08,734.13 L629.58,734.22 L630.07,734.31 L630.57,734.40 L631.07,734.47 L631.56,734.54 L632.06,734.61 L632.55,734.67 L633.05,734.72 L633.54,734.77 L634.04,734.81 L634.53,734.85 L635.03,734.89 L635.52,734.92 L636.02,734.95 L636.51,734.98 L637.01,735.00 L637.50,735.03 L638.00,735.05 L638.50,735.06 L638.99,735.08 L639.49,735.09 L639.98,735.11 L640.48,735.12 L640.97,735.13 L641.47,735.14 L641.96,735.14 L642.46,735.15 L642.95,735.16 L643.45,735.16 L643.94,735.17 L644.44,735.17 L644.94,735.18 L645.43,735.18 L645.93,735.18 L646.42,735.18 L646.92,735.19 L647.41,735.19 L647.91,735.19 L648.40,735.19 L648.90,735.19 L649.39,735.19 L649.89,735.19 L650.38,735.20 L650.88,735.20 L651.37,735.20 L651.87,735.20 L652.37,735.20 L652.86,735.20 L653.36,735.20 L653.85,735.20 L654.35,735.20 L654.84,735.20 L655.34,735.20 L655.83,735.20 L656.33,735.20 L656.82,735.20 L657.32,735.20 L657.81,735.20 L658.31,735.20 L658.80,735.20 L658.80,735.20 Z" fill="#f3c35a" fill-opacity="0.45" stroke="none"/>
<path d="M538.53,735.20 L538.53,731.57 L544.23,731.57 L544.23,723.18 L549.93,723.18 L549.93,718.65 L555.62,718.65 L555.62,716.16 L561.32,716.16 L561.32,717.97 L567.02,717.97 L567.02,723.87 L572.71,723.87 L572.71,724.77 L578.41,724.77 L578.41,720.69 L584.11,720.69 L584.11,716.16 L589.80,716.16 L589.80,715.25 L595.50,715.25 L595.50,712.98 L601.20,712.98 L601.20,717.06 L606.89,717.06 L606.89,721.14 L612.59,721.14 L612.59,726.36 L618.29,726.36 L618.29,729.99 L623.98,729.99 L623.98,732.25 L629.68,732.25 L629.68,733.39 L635.37,733.39 L635.37,734.07 L641.07,734.07 L641.07,734.52 L646.77,734.52 L646.77,734.75 L652.46,734.75 L652.46,735.20 Z" fill="none" stroke="#d49b22" stroke-width="0.9" stroke-linejoin="miter"/>
<path d="M510.20,735.20 L510.70,735.20 L511.19,735.20 L511.69,735.20 L512.18,735.20 L512.68,735.20 L513.17,735.20 L513.67,735.20 L514.16,735.20 L514.66,735.20 L515.15,735.20 L515.65,735.20 L516.14,735.20 L516.64,735.20 L517.13,735.20 L517.63,735.20 L518.13,735.20 L518.62,735.20 L519.12,735.20 L519.61,735.20 L520.11,735.20 L520.60,735.20 L521.10,735.20 L521.59,735.20 L522.09,735.20 L522.58,735.20 L523.08,735.20 L523.57,735.20 L524.07,735.20 L524.57,735.20 L525.06,735.20 L525.56,735.20 L526.05,735.20 L526.55,735.20 L527.04,735.20 L527.54,735.20 L528.03,735.19 L528.53,735.19 L529.02,735.19 L529.52,735.19 L530.01,735.18 L530.51,735.18 L531.00,735.18 L531.50,735.17 L532.00,735.16 L532.49,735.15 L532.99,735.14 L533.48,735.12 L533.98,735.10 L534.47,735.08 L534.97,735.05 L535.46,735.01 L535.96,734.97 L536.45,734.92 L536.95,734.86 L537.44,734.79 L537.94,734.71 L538.43,734.62 L538.93,734.50 L539.43,734.38 L539.92,734.23 L540.42,734.06 L540.91,733.86 L541.41,733.64 L541.90,733.39 L542.40,733.12 L542.89,732.80 L543.39,732.46 L543.88,732.08 L544.38,731.66 L544.87,731.20 L545.37,730.71 L545.87,730.17 L546.36,729.60 L546.86,728.99 L547.35,728.34 L547.85,727.66 L548.34,726.95 L548.84,726.21 L549.33,725.45 L549.83,724.67 L550.32,723.87 L550.82,723.08 L551.31,722.28 L551.81,721.50 L552.30,720.73 L552.80,719.98 L553.30,719.27 L553.79,718.60 L554.29,717.97 L554.78,717.40 L555.28,716.90 L555.77,716.46 L556.27,716.10 L556.76,715.82 L557.26,715.62 L557.75,715.51 L558.25,715.48 L558.74,715.54 L559.24,715.69 L559.74,715.92 L560.23,716.24 L560.73,716.63 L561.22,717.09 L561.72,717.62 L562.21,718.21 L562.71,718.86 L563.20,719.55 L563.70,720.28 L564.19,721.03 L564.69,721.81 L565.18,722.60 L565.68,723.40 L566.17,724.19 L566.67,724.98 L567.17,725.75 L567.66,726.51 L568.16,727.24 L568.65,727.94 L569.15,728.60 L569.64,729.24 L570.14,729.83 L570.63,730.39 L571.13,730.91 L571.62,731.39 L572.12,731.83 L572.61,732.23 L573.11,732.60 L573.60,732.93 L574.10,733.23 L574.60,733.50 L575.09,733.73 L575.59,733.94 L576.08,734.13 L576.58,734.29 L577.07,734.43 L577.57,734.55 L578.06,734.66 L578.56,734.75 L579.05,734.82 L579.55,734.89 L580.04,734.94 L580.54,734.99 L581.04,735.03 L581.53,735.06 L582.03,735.09 L582.52,735.11 L583.02,735.13 L583.51,735.14 L584.01,735.15 L584.50,735.16 L585.00,735.17 L585.49,735.18 L585.99,735.18 L586.48,735.19 L586.98,735.19 L587.47,735.19 L587.97,735.19 L588.47,735.20 L588.96,735.20 L589.46,735.20 L589.95,735.20 L590.45,735.20 L590.94,735.20 L591.44,735.20 L591.93,735.20 L592.43,735.20 L592.92,735.20 L593.42,735.20 L593.91,735.20 L594.41,735.20 L594.90,735.20 L595.40,735.20 L595.90,735.20 L596.39,735.20 L596.89,735.20 L597.38,735.20 L597.88,735.20 L598.37,735.20 L598.87,735.20 L599.36,735.20 L599.86,735.20 L600.35,735.20 L600.85,735.20 L601.34,735.20 L601.84,735.20 L602.34,735.20 L602.83,735.20 L603.33,735.20 L603.82,735.20 L604.32,735.20 L604.81,735.20 L605.31,735.20 L605.80,735.20 L606.30,735.20 L606.79,735.20 L607.29,735.20 L607.78,735.20 L608.28,735.20 L608.77,735.20 L609.27,735.20 L609.77,735.20 L610.26,735.20 L610.76,735.20 L611.25,735.20 L611.75,735.20 L612.24,735.20 L612.74,735.20 L613.23,735.20 L613.73,735.20 L614.22,735.20 L614.72,735.20 L615.21,735.20 L615.71,735.20 L616.20,735.20 L616.70,735.20 L617.20,735.20 L617.69,735.20 L618.19,735.20 L618.68,735.20 L619.18,735.20 L619.67,735.20 L620.17,735.20 L620.66,735.20 L621.16,735.20 L621.65,735.20 L622.15,735.20 L622.64,735.20 L623.14,735.20 L623.64,735.20 L624.13,735.20 L624.63,735.20 L625.12,735.20 L625.62,735.20 L626.11,735.20 L626.61,735.20 L627.10,735.20 L627.60,735.20 L628.09,735.20 L628.59,735.20 L629.08,735.20 L629.58,735.20 L630.07,735.20 L630.57,735.20 L631.07,735.20 L631.56,735.20 L632.06,735.20 L632.55,735.20 L633.05,735.20 L633.54,735.20 L634.04,735.20 L634.53,735.20 L635.03,735.20 L635.52,735.20 L636.02,735.20 L636.51,735.20 L637.01,735.20 L637.50,735.20 L638.00,735.20 L638.50,735.20 L638.99,735.20 L639.49,735.20 L639.98,735.20 L640.48,735.20 L640.97,735.20 L641.47,735.20 L641.96,735.20 L642.46,735.20 L642.95,735.20 L643.45,735.20 L643.94,735.20 L644.44,735.20 L644.94,735.20 L645.43,735.20 L645.93,735.20 L646.42,735.20 L646.92,735.20 L647.41,735.20 L647.91,735.20 L648.40,735.20 L648.90,735.20 L649.39,735.20 L649.89,735.20 L650.38,735.20 L650.88,735.20 L651.37,735.20 L651.87,735.20 L652.37,735.20 L652.86,735.20 L653.36,735.20 L653.85,735.20 L654.35,735.20 L654.84,735.20 L655.34,735.20 L655.83,735.20 L656.33,735.20 L656.82,735.20 L657.32,735.20 L657.81,735.20 L658.31,735.20 L658.80,735.20" fill="none" stroke="#d49b22" stroke-width="1.0"/>
<path d="M510.20,735.20 L510.70,735.20 L511.19,735.20 L511.69,735.20 L512.18,735.20 L512.68,735.20 L513.17,735.20 L513.67,735.20 L514.16,735.20 L514.66,735.20 L515.15,735.20 L515.65,735.20 L516.14,735.20 L516.64,735.20 L517.13,735.20 L517.63,735.20 L518.13,735.20 L518.62,735.20 L519.12,735.20 L519.61,735.20 L520.11,735.20 L520.60,735.20 L521.10,735.20 L521.59,735.20 L522.09,735.20 L522.58,735.20 L523.08,735.20 L523.57,735.20 L524.07,735.20 L524.57,735.20 L525.06,735.20 L525.56,735.20 L526.05,735.20 L526.55,735.20 L527.04,735.20 L527.54,735.20 L528.03,735.20 L528.53,735.20 L529.02,735.20 L529.52,735.20 L530.01,735.20 L530.51,735.20 L531.00,735.20 L531.50,735.20 L532.00,735.20 L532.49,735.20 L532.99,735.20 L533.48,735.20 L533.98,735.20 L534.47,735.20 L534.97,735.20 L535.46,735.20 L535.96,735.20 L536.45,735.20 L536.95,735.20 L537.44,735.20 L537.94,735.20 L538.43,735.20 L538.93,735.20 L539.43,735.20 L539.92,735.20 L540.42,735.20 L540.91,735.20 L541.41,735.20 L541.90,735.20 L542.40,735.20 L542.89,735.20 L543.39,735.20 L543.88,735.20 L544.38,735.20 L544.87,735.19 L545.37,735.19 L545.87,735.19 L546.36,735.19 L546.86,735.19 L547.35,735.19 L547.85,735.19 L548.34,735.18 L548.84,735.18 L549.33,735.18 L549.83,735.18 L550.32,735.17 L550.82,735.17 L551.31,735.16 L551.81,735.16 L552.30,735.15 L552.80,735.14 L553.30,735.14 L553.79,735.13 L554.29,735.12 L554.78,735.11 L555.28,735.09 L555.77,735.08 L556.27,735.06 L556.76,735.05 L557.26,735.03 L557.75,735.00 L558.25,734.98 L558.74,734.95 L559.24,734.92 L559.74,734.89 L560.23,734.85 L560.73,734.81 L561.22,734.77 L561.72,734.72 L562.21,734.67 L562.71,734.61 L563.20,734.54 L563.70,734.47 L564.19,734.40 L564.69,734.31 L565.18,734.22 L565.68,734.13 L566.17,734.02 L566.67,733.91 L567.17,733.78 L567.66,733.65 L568.16,733.51 L568.65,733.35 L569.15,733.19 L569.64,733.02 L570.14,732.83 L570.63,732.63 L571.13,732.42 L571.62,732.19 L572.12,731.96 L572.61,731.70 L573.11,731.44 L573.60,731.16 L574.10,730.86 L574.60,730.56 L575.09,730.23 L575.59,729.89 L576.08,729.54 L576.58,729.17 L577.07,728.79 L577.57,728.40 L578.06,727.99 L578.56,727.56 L579.05,727.13 L579.55,726.68 L580.04,726.22 L580.54,725.75 L581.04,725.27 L581.53,724.78 L582.03,724.29 L582.52,723.78 L583.02,723.27 L583.51,722.76 L584.01,722.24 L584.50,721.72 L585.00,721.21 L585.49,720.69 L585.99,720.18 L586.48,719.67 L586.98,719.17 L587.47,718.67 L587.97,718.19 L588.47,717.72 L588.96,717.26 L589.46,716.82 L589.95,716.39 L590.45,715.98 L590.94,715.59 L591.44,715.23 L591.93,714.89 L592.43,714.57 L592.92,714.28 L593.42,714.01 L593.91,713.77 L594.41,713.57 L594.90,713.39 L595.40,713.24 L595.90,713.13 L596.39,713.05 L596.89,713.00 L597.38,712.98 L597.88,713.00 L598.37,713.05 L598.87,713.13 L599.36,713.24 L599.86,713.39 L600.35,713.57 L600.85,713.77 L601.34,714.01 L601.84,714.28 L602.34,714.57 L602.83,714.89 L603.33,715.23 L603.82,715.59 L604.32,715.98 L604.81,716.39 L605.31,716.82 L605.80,717.26 L606.30,717.72 L606.79,718.19 L607.29,718.67 L607.78,719.17 L608.28,719.67 L608.77,720.18 L609.27,720.69 L609.77,721.21 L610.26,721.72 L610.76,722.24 L611.25,722.76 L611.75,723.27 L612.24,723.78 L612.74,724.29 L613.23,724.78 L613.73,725.27 L614.22,725.75 L614.72,726.22 L615.21,726.68 L615.71,727.13 L616.20,727.56 L616.70,727.99 L617.20,728.40 L617.69,728.79 L618.19,729.17 L618.68,729.54 L619.18,729.89 L619.67,730.23 L620.17,730.56 L620.66,730.86 L621.16,731.16 L621.65,731.44 L622.15,731.70 L622.64,731.96 L623.14,732.19 L623.64,732.42 L624.13,732.63 L624.63,732.83 L625.12,733.02 L625.62,733.19 L626.11,733.35 L626.61,733.51 L627.10,733.65 L627.60,733.78 L628.09,733.91 L628.59,734.02 L629.08,734.13 L629.58,734.22 L630.07,734.31 L630.57,734.40 L631.07,734.47 L631.56,734.54 L632.06,734.61 L632.55,734.67 L633.05,734.72 L633.54,734.77 L634.04,734.81 L634.53,734.85 L635.03,734.89 L635.52,734.92 L636.02,734.95 L636.51,734.98 L637.01,735.00 L637.50,735.03 L638.00,735.05 L638.50,735.06 L638.99,735.08 L639.49,735.09 L639.98,735.11 L640.48,735.12 L640.97,735.13 L641.47,735.14 L641.96,735.14 L642.46,735.15 L642.95,735.16 L643.45,735.16 L643.94,735.17 L644.44,735.17 L644.94,735.18 L645.43,735.18 L645.93,735.18 L646.42,735.18 L646.92,735.19 L647.41,735.19 L647.91,735.19 L648.40,735.19 L648.90,735.19 L649.39,735.19 L649.89,735.19 L650.38,735.20 L650.88,735.20 L651.37,735.20 L651.87,735.20 L652.37,735.20 L652.86,735.20 L653.36,735.20 L653.85,735.20 L654.35,735.20 L654.84,735.20 L655.34,735.20 L655.83,735.20 L656.33,735.20 L656.82,735.20 L657.32,735.20 L657.81,735.20 L658.31,735.20 L658.80,735.20" fill="none" stroke="#d49b22" stroke-width="1.0"/>
<line x1="507.60" y1="735.20" x2="510.20" y2="735.20" stroke="#222" stroke-width="0.6"/>
<line x1="508.70" y1="726.70" x2="510.20" y2="726.70" stroke="#222" stroke-width="0.6"/>
<line x1="508.70" y1="718.20" x2="510.20" y2="718.20" stroke="#222" stroke-width="0.6"/>
<line x1="508.70" y1="709.70" x2="510.20" y2="709.70" stroke="#222" stroke-width="0.6"/>
<line x1="507.60" y1="701.20" x2="510.20" y2="701.20" stroke="#222" stroke-width="0.6"/>
<line x1="508.70" y1="692.69" x2="510.20" y2="692.69" stroke="#222" stroke-width="0.6"/>
<line x1="508.70" y1="684.19" x2="510.20" y2="684.19" stroke="#222" stroke-width="0.6"/>
<line x1="508.70" y1="675.69" x2="510.20" y2="675.69" stroke="#222" stroke-width="0.6"/>
<text x="505.60" y="736.60" font-size="4.2" text-anchor="end" fill="#222" stroke="#222" stroke-width="0.078"><tspan>0.00</tspan></text>
<text x="505.60" y="702.60" font-size="4.2" text-anchor="end" fill="#222" stroke="#222" stroke-width="0.078"><tspan>0.15</tspan></text>
<line x1="510.20" y1="735.20" x2="658.80" y2="735.20" stroke="#222" stroke-width="0.9"/>
<line x1="510.20" y1="735.20" x2="510.20" y2="737.80" stroke="#222" stroke-width="0.6"/>
<line x1="520.11" y1="735.20" x2="520.11" y2="736.70" stroke="#222" stroke-width="0.6"/>
<line x1="530.01" y1="735.20" x2="530.01" y2="736.70" stroke="#222" stroke-width="0.6"/>
<line x1="539.92" y1="735.20" x2="539.92" y2="737.80" stroke="#222" stroke-width="0.6"/>
<line x1="549.83" y1="735.20" x2="549.83" y2="736.70" stroke="#222" stroke-width="0.6"/>
<line x1="559.74" y1="735.20" x2="559.74" y2="736.70" stroke="#222" stroke-width="0.6"/>
<line x1="569.64" y1="735.20" x2="569.64" y2="737.80" stroke="#222" stroke-width="0.6"/>
<line x1="579.55" y1="735.20" x2="579.55" y2="736.70" stroke="#222" stroke-width="0.6"/>
<line x1="589.46" y1="735.20" x2="589.46" y2="736.70" stroke="#222" stroke-width="0.6"/>
<line x1="599.36" y1="735.20" x2="599.36" y2="737.80" stroke="#222" stroke-width="0.6"/>
<line x1="609.27" y1="735.20" x2="609.27" y2="736.70" stroke="#222" stroke-width="0.6"/>
<line x1="619.18" y1="735.20" x2="619.18" y2="736.70" stroke="#222" stroke-width="0.6"/>
<line x1="629.08" y1="735.20" x2="629.08" y2="737.80" stroke="#222" stroke-width="0.6"/>
<line x1="638.99" y1="735.20" x2="638.99" y2="736.70" stroke="#222" stroke-width="0.6"/>
<line x1="648.90" y1="735.20" x2="648.90" y2="736.70" stroke="#222" stroke-width="0.6"/>
<line x1="658.80" y1="735.20" x2="658.80" y2="737.80" stroke="#222" stroke-width="0.6"/>
<text x="678.70" y="688.20" font-size="8.4" text-anchor="end" fill="#000" stroke="#000" stroke-width="0.13"><tspan>CDT1</tspan><tspan dy="-2.86" font-size="5.21">R330A</tspan><tspan dy="2.86">:Gem</tspan><tspan dy="-2.86" font-size="5.21">FL</tspan></text>
<line x1="510.20" y1="536.90" x2="510.20" y2="735.20" stroke="#222" stroke-width="0.9"/>
<text x="510.20" y="744.60" font-size="4.3" text-anchor="middle" fill="#222" stroke="#222" stroke-width="0.078"><tspan>0</tspan></text>
<text x="539.92" y="744.60" font-size="4.3" text-anchor="middle" fill="#222" stroke="#222" stroke-width="0.078"><tspan>30</tspan></text>
<text x="569.64" y="744.60" font-size="4.3" text-anchor="middle" fill="#222" stroke="#222" stroke-width="0.078"><tspan>60</tspan></text>
<text x="599.36" y="744.60" font-size="4.3" text-anchor="middle" fill="#222" stroke="#222" stroke-width="0.078"><tspan>90</tspan></text>
<text x="629.08" y="744.60" font-size="4.3" text-anchor="middle" fill="#222" stroke="#222" stroke-width="0.078"><tspan>120</tspan></text>
<text x="658.80" y="744.60" font-size="4.3" text-anchor="middle" fill="#222" stroke="#222" stroke-width="0.078"><tspan>150</tspan></text>
<text x="583.51" y="757.70" font-size="8.5" text-anchor="middle" fill="#000" stroke="#000" stroke-width="0.13"><tspan>Mass (kDa)</tspan></text>
<text x="486.60" y="636.30" font-size="8.3" text-anchor="middle" fill="#000" stroke="#000" stroke-width="0.13" transform="rotate(-90 486.59999999999997 636.3)"><tspan>Normalised counts</tspan></text>
<rect x="69.10" y="847.70" width="159.00" height="154.80" fill="#ededed"/>
<rect x="238.30" y="848.20" width="57.40" height="154.70" fill="#ededed"/>
<rect x="306.30" y="848.20" width="60.80" height="154.70" fill="#ededed"/>
<text x="145.00" y="790.60" font-size="9.4" text-anchor="middle" fill="#000" stroke="#000" stroke-width="0.13"><tspan>10 % Input</tspan></text>
<line x1="72.30" y1="794.50" x2="227.80" y2="794.50" stroke="#000" stroke-width="1.2"/>
<text x="46.60" y="851.00" font-size="6.6" text-anchor="start" fill="#000" stroke="#000" stroke-width="0.13"><tspan>kDa</tspan></text>
<text x="58.60" y="864.30" font-size="6.6" text-anchor="end" fill="#000" stroke="#000" stroke-width="0.13"><tspan>250</tspan></text>
<line x1="60.70" y1="861.90" x2="67.70" y2="861.90" stroke="#000" stroke-width="1.1"/>
<text x="58.60" y="925.60" font-size="6.6" text-anchor="end" fill="#000" stroke="#000" stroke-width="0.13"><tspan>70</tspan></text>
<line x1="60.70" y1="923.20" x2="67.70" y2="923.20" stroke="#000" stroke-width="1.1"/>
<text x="58.60" y="992.70" font-size="6.6" text-anchor="end" fill="#000" stroke="#000" stroke-width="0.13"><tspan>35</tspan></text>
<line x1="60.70" y1="990.30" x2="67.70" y2="990.30" stroke="#000" stroke-width="1.1"/>
<text x="40.40" y="875.60" font-size="6.6" text-anchor="start" fill="#000" stroke="#000" stroke-width="0.13"><tspan>ORC1</tspan></text>
<line x1="61.30" y1="872.30" x2="67.60" y2="875.90" stroke="#000" stroke-width="0.8"/>
<text x="40.40" y="904.50" font-size="6.6" text-anchor="start" fill="#000" stroke="#000" stroke-width="0.13"><tspan>ORC3</tspan></text>
<line x1="61.30" y1="901.30" x2="67.60" y2="905.30" stroke="#000" stroke-width="0.8"/>
<text x="40.40" y="916.10" font-size="6.6" text-anchor="start" fill="#000" stroke="#000" stroke-width="0.13"><tspan>ORC2</tspan></text>
<line x1="61.30" y1="913.00" x2="67.60" y2="916.90" stroke="#000" stroke-width="0.8"/>
<text x="40.40" y="955.00" font-size="6.6" text-anchor="start" fill="#000" stroke="#000" stroke-width="0.13"><tspan>ORC5</tspan></text>
<line x1="61.30" y1="952.10" x2="67.60" y2="952.10" stroke="#000" stroke-width="0.8"/>
<text x="40.40" y="961.40" font-size="6.6" text-anchor="start" fill="#000" stroke="#000" stroke-width="0.13"><tspan>ORC4</tspan></text>
<line x1="61.30" y1="958.80" x2="67.60" y2="955.60" stroke="#000" stroke-width="0.8"/>
<text x="84.90" y="844.60" font-size="9.6" text-anchor="start" fill="#000" stroke="#000" stroke-width="0.13" transform="rotate(-90 84.9 844.6)"><tspan>ORC1-5</tspan></text>
<text x="104.60" y="844.60" font-size="9.6" text-anchor="start" fill="#000" stroke="#000" stroke-width="0.13" transform="rotate(-90 104.60000000000001 844.6)"><tspan>CDC6</tspan></text>
<text x="125.20" y="844.60" font-size="9.6" text-anchor="start" fill="#000" stroke="#000" stroke-width="0.13" transform="rotate(-90 125.2 844.6)"><tspan>ORC6</tspan></text>
<text x="143.90" y="844.60" font-size="9.6" text-anchor="start" fill="#000" stroke="#000" stroke-width="0.13" transform="rotate(-90 143.9 844.6)"><tspan>CDT1</tspan><tspan dy="-4.03" font-size="6.72">ΔN</tspan></text>
<text x="163.90" y="844.60" font-size="9.6" text-anchor="start" fill="#000" stroke="#000" stroke-width="0.13" transform="rotate(-90 163.9 844.6)"><tspan>CDT1</tspan><tspan dy="-4.03" font-size="6.72">4A</tspan></text>
<text x="183.30" y="844.60" font-size="9.6" text-anchor="start" fill="#000" stroke="#000" stroke-width="0.13" transform="rotate(-90 183.3 844.6)"><tspan>CDT1</tspan><tspan dy="-4.03" font-size="6.72">R330A</tspan></text>
<text x="201.90" y="844.60" font-size="9.6" text-anchor="start" fill="#000" stroke="#000" stroke-width="0.13" transform="rotate(-90 201.9 844.6)"><tspan>MCM2-7</tspan></text>
<text x="221.10" y="844.60" font-size="9.6" text-anchor="start" fill="#000" stroke="#000" stroke-width="0.13" transform="rotate(-90 221.1 844.6)"><tspan>Gem</tspan><tspan dy="-4.03" font-size="6.72">FL</tspan></text>
<rect x="74.25" y="877.10" width="14.50" height="1.60" rx="0.8" fill="#1a1a1a" opacity="0.60" filter="url(#bl)"/>
<rect x="74.25" y="906.90" width="14.50" height="1.80" rx="0.8" fill="#1a1a1a" opacity="0.25" filter="url(#bl)"/>
<rect x="74.25" y="917.40" width="14.50" height="1.40" rx="0.8" fill="#1a1a1a" opacity="0.10" filter="url(#bl)"/>
<rect x="74.25" y="951.30" width="14.50" height="1.60" rx="0.8" fill="#1a1a1a" opacity="0.35" filter="url(#bl)"/>
<rect x="74.25" y="954.50" width="14.50" height="1.60" rx="0.8" fill="#1a1a1a" opacity="0.40" filter="url(#bl)"/>
<rect x="93.70" y="925.40" width="15.00" height="3.40" rx="0.8" fill="#1a1a1a" opacity="1.00" filter="url(#bl)"/>
<rect x="94.45" y="926.10" width="13.50" height="2.00" rx="0.8" fill="#1a1a1a" opacity="0.50" filter="url(#bl)"/>
<rect x="114.05" y="992.10" width="15.50" height="2.80" rx="0.8" fill="#1a1a1a" opacity="0.45" filter="url(#bl)"/>
<rect x="133.25" y="948.70" width="14.50" height="1.20" rx="0.8" fill="#1a1a1a" opacity="0.60" filter="url(#bl)"/>
<rect x="153.25" y="948.70" width="14.50" height="1.20" rx="0.8" fill="#1a1a1a" opacity="0.60" filter="url(#bl)"/>
<rect x="172.65" y="948.70" width="14.50" height="1.20" rx="0.8" fill="#1a1a1a" opacity="0.60" filter="url(#bl)"/>
<rect x="191.25" y="877.45" width="14.50" height="1.70" rx="0.8" fill="#1a1a1a" opacity="0.65" filter="url(#bl)"/>
<rect x="191.25" y="885.15" width="14.50" height="1.70" rx="0.8" fill="#1a1a1a" opacity="0.85" filter="url(#bl)"/>
<rect x="191.25" y="889.25" width="14.50" height="1.70" rx="0.8" fill="#1a1a1a" opacity="0.55" filter="url(#bl)"/>
<rect x="191.25" y="898.95" width="14.50" height="1.70" rx="0.8" fill="#1a1a1a" opacity="0.70" filter="url(#bl)"/>
<rect x="191.25" y="902.45" width="14.50" height="1.70" rx="0.8" fill="#1a1a1a" opacity="0.65" filter="url(#bl)"/>
<rect x="210.45" y="986.05" width="14.50" height="2.70" rx="0.8" fill="#1a1a1a" opacity="0.85" filter="url(#bl)"/>
<text x="266.00" y="791.60" font-size="9.4" text-anchor="middle" fill="#000" stroke="#000" stroke-width="0.13"><tspan>HS</tspan></text>
<line x1="238.30" y1="794.60" x2="293.80" y2="794.60" stroke="#000" stroke-width="1.2"/>
<text x="336.80" y="791.60" font-size="9.4" text-anchor="middle" fill="#000" stroke="#000" stroke-width="0.13"><tspan>HS + Gem</tspan><tspan dy="-3.95" font-size="6.58">FL</tspan></text>
<line x1="304.90" y1="794.60" x2="368.70" y2="794.60" stroke="#000" stroke-width="1.2"/>
<text x="251.40" y="845.60" font-size="9.6" text-anchor="start" fill="#000" stroke="#000" stroke-width="0.13" transform="rotate(-90 251.4 845.6)"><tspan>Pre-RC</tspan></text>
<text x="270.80" y="845.60" font-size="9.6" text-anchor="start" fill="#000" stroke="#000" stroke-width="0.13" transform="rotate(-90 270.79999999999995 845.6)"><tspan>CDT1</tspan><tspan dy="-4.03" font-size="6.72">4A</tspan></text>
<text x="289.20" y="845.60" font-size="9.6" text-anchor="start" fill="#000" stroke="#000" stroke-width="0.13" transform="rotate(-90 289.2 845.6)"><tspan>CDT1</tspan><tspan dy="-4.03" font-size="6.72">R330A</tspan></text>
<text x="321.60" y="845.60" font-size="9.6" text-anchor="start" fill="#000" stroke="#000" stroke-width="0.13" transform="rotate(-90 321.59999999999997 845.6)"><tspan>Pre-RC</tspan></text>
<text x="341.60" y="845.60" font-size="9.6" text-anchor="start" fill="#000" stroke="#000" stroke-width="0.13" transform="rotate(-90 341.59999999999997 845.6)"><tspan>CDT1</tspan><tspan dy="-4.03" font-size="6.72">4A</tspan></text>
<text x="360.00" y="845.60" font-size="9.6" text-anchor="start" fill="#000" stroke="#000" stroke-width="0.13" transform="rotate(-90 360.0 845.6)"><tspan>CDT1</tspan><tspan dy="-4.03" font-size="6.72">R330A</tspan></text>
<text x="248.00" y="1011.60" font-size="6.6" text-anchor="middle" fill="#000" stroke="#000" stroke-width="0.13"><tspan>1</tspan></text>
<text x="267.40" y="1011.60" font-size="6.6" text-anchor="middle" fill="#000" stroke="#000" stroke-width="0.13"><tspan>2</tspan></text>
<text x="285.80" y="1011.60" font-size="6.6" text-anchor="middle" fill="#000" stroke="#000" stroke-width="0.13"><tspan>3</tspan></text>
<text x="318.20" y="1011.60" font-size="6.6" text-anchor="middle" fill="#000" stroke="#000" stroke-width="0.13"><tspan>4</tspan></text>
<text x="338.20" y="1011.60" font-size="6.6" text-anchor="middle" fill="#000" stroke="#000" stroke-width="0.13"><tspan>5</tspan></text>
<text x="356.60" y="1011.60" font-size="6.6" text-anchor="middle" fill="#000" stroke="#000" stroke-width="0.13"><tspan>6</tspan></text>
<rect x="240.50" y="875.40" width="15.00" height="1.80" rx="0.8" fill="#1a1a1a" opacity="0.18" filter="url(#bl)"/>
<rect x="240.50" y="877.80" width="15.00" height="1.80" rx="0.8" fill="#1a1a1a" opacity="0.50" filter="url(#bl)"/>
<rect x="240.50" y="884.95" width="15.00" height="2.30" rx="0.8" fill="#1a1a1a" opacity="0.78" filter="url(#bl)"/>
<rect x="240.50" y="888.90" width="15.00" height="1.80" rx="0.8" fill="#1a1a1a" opacity="0.28" filter="url(#bl)"/>
<rect x="240.50" y="899.20" width="15.00" height="1.80" rx="0.8" fill="#1a1a1a" opacity="0.65" filter="url(#bl)"/>
<rect x="240.50" y="902.40" width="15.00" height="1.80" rx="0.8" fill="#1a1a1a" opacity="0.60" filter="url(#bl)"/>
<rect x="240.50" y="905.70" width="15.00" height="1.80" rx="0.8" fill="#1a1a1a" opacity="0.10" filter="url(#bl)"/>
<rect x="259.90" y="875.40" width="15.00" height="1.80" rx="0.8" fill="#1a1a1a" opacity="0.18" filter="url(#bl)"/>
<rect x="259.90" y="877.80" width="15.00" height="1.80" rx="0.8" fill="#1a1a1a" opacity="0.50" filter="url(#bl)"/>
<rect x="259.90" y="884.95" width="15.00" height="2.30" rx="0.8" fill="#1a1a1a" opacity="0.78" filter="url(#bl)"/>
<rect x="259.90" y="888.90" width="15.00" height="1.80" rx="0.8" fill="#1a1a1a" opacity="0.28" filter="url(#bl)"/>
<rect x="259.90" y="899.20" width="15.00" height="1.80" rx="0.8" fill="#1a1a1a" opacity="0.65" filter="url(#bl)"/>
<rect x="259.90" y="902.40" width="15.00" height="1.80" rx="0.8" fill="#1a1a1a" opacity="0.60" filter="url(#bl)"/>
<rect x="259.90" y="905.70" width="15.00" height="1.80" rx="0.8" fill="#1a1a1a" opacity="0.10" filter="url(#bl)"/>
<rect x="278.30" y="875.40" width="15.00" height="1.80" rx="0.8" fill="#1a1a1a" opacity="0.18" filter="url(#bl)"/>
<rect x="278.30" y="877.80" width="15.00" height="1.80" rx="0.8" fill="#1a1a1a" opacity="0.50" filter="url(#bl)"/>
<rect x="278.30" y="884.95" width="15.00" height="2.30" rx="0.8" fill="#1a1a1a" opacity="0.78" filter="url(#bl)"/>
<rect x="278.30" y="888.90" width="15.00" height="1.80" rx="0.8" fill="#1a1a1a" opacity="0.28" filter="url(#bl)"/>
<rect x="278.30" y="899.20" width="15.00" height="1.80" rx="0.8" fill="#1a1a1a" opacity="0.65" filter="url(#bl)"/>
<rect x="278.30" y="902.40" width="15.00" height="1.80" rx="0.8" fill="#1a1a1a" opacity="0.60" filter="url(#bl)"/>
<rect x="278.30" y="905.70" width="15.00" height="1.80" rx="0.8" fill="#1a1a1a" opacity="0.10" filter="url(#bl)"/>
<rect x="310.70" y="875.40" width="15.00" height="1.80" rx="0.8" fill="#1a1a1a" opacity="0.06" filter="url(#bl)"/>
<rect x="310.70" y="877.80" width="15.00" height="1.80" rx="0.8" fill="#1a1a1a" opacity="0.10" filter="url(#bl)"/>
<rect x="310.70" y="884.95" width="15.00" height="2.30" rx="0.8" fill="#1a1a1a" opacity="0.30" filter="url(#bl)"/>
<rect x="310.70" y="888.90" width="15.00" height="1.80" rx="0.8" fill="#1a1a1a" opacity="0.05" filter="url(#bl)"/>
<rect x="310.70" y="899.20" width="15.00" height="1.80" rx="0.8" fill="#1a1a1a" opacity="0.10" filter="url(#bl)"/>
<rect x="310.70" y="902.40" width="15.00" height="1.80" rx="0.8" fill="#1a1a1a" opacity="0.08" filter="url(#bl)"/>
<rect x="310.70" y="905.70" width="15.00" height="1.80" rx="0.8" fill="#1a1a1a" opacity="0.02" filter="url(#bl)"/>
<rect x="330.70" y="875.40" width="15.00" height="1.80" rx="0.8" fill="#1a1a1a" opacity="0.12" filter="url(#bl)"/>
<rect x="330.70" y="877.80" width="15.00" height="1.80" rx="0.8" fill="#1a1a1a" opacity="0.32" filter="url(#bl)"/>
<rect x="330.70" y="884.95" width="15.00" height="2.30" rx="0.8" fill="#1a1a1a" opacity="0.62" filter="url(#bl)"/>
<rect x="330.70" y="888.90" width="15.00" height="1.80" rx="0.8" fill="#1a1a1a" opacity="0.22" filter="url(#bl)"/>
<rect x="330.70" y="899.20" width="15.00" height="1.80" rx="0.8" fill="#1a1a1a" opacity="0.50" filter="url(#bl)"/>
<rect x="330.70" y="902.40" width="15.00" height="1.80" rx="0.8" fill="#1a1a1a" opacity="0.45" filter="url(#bl)"/>
<rect x="330.70" y="905.70" width="15.00" height="1.80" rx="0.8" fill="#1a1a1a" opacity="0.06" filter="url(#bl)"/>
<rect x="349.10" y="875.40" width="15.00" height="1.80" rx="0.8" fill="#1a1a1a" opacity="0.12" filter="url(#bl)"/>
<rect x="349.10" y="877.80" width="15.00" height="1.80" rx="0.8" fill="#1a1a1a" opacity="0.30" filter="url(#bl)"/>
<rect x="349.10" y="884.95" width="15.00" height="2.30" rx="0.8" fill="#1a1a1a" opacity="0.62" filter="url(#bl)"/>
<rect x="349.10" y="888.90" width="15.00" height="1.80" rx="0.8" fill="#1a1a1a" opacity="0.22" filter="url(#bl)"/>
<rect x="349.10" y="899.20" width="15.00" height="1.80" rx="0.8" fill="#1a1a1a" opacity="0.50" filter="url(#bl)"/>
<rect x="349.10" y="902.40" width="15.00" height="1.80" rx="0.8" fill="#1a1a1a" opacity="0.45" filter="url(#bl)"/>
<rect x="349.10" y="905.70" width="15.00" height="1.80" rx="0.8" fill="#1a1a1a" opacity="0.06" filter="url(#bl)"/>
<text x="375.60" y="882.00" font-size="7.0" text-anchor="start" fill="#000" stroke="#000" stroke-width="0.13"><tspan>MCM2</tspan></text>
<line x1="367.80" y1="879.40" x2="374.40" y2="879.40" stroke="#000" stroke-width="0.9"/>
<text x="375.60" y="890.30" font-size="7.0" text-anchor="start" fill="#000" stroke="#000" stroke-width="0.13"><tspan>MCM4/3</tspan></text>
<line x1="367.80" y1="887.00" x2="374.40" y2="887.00" stroke="#000" stroke-width="0.9"/>
<text x="375.60" y="897.30" font-size="7.0" text-anchor="start" fill="#000" stroke="#000" stroke-width="0.13"><tspan>MCM6</tspan></text>
<line x1="368.50" y1="889.90" x2="374.40" y2="894.30" stroke="#000" stroke-width="0.9"/>
<text x="375.60" y="904.80" font-size="7.0" text-anchor="start" fill="#000" stroke="#000" stroke-width="0.13"><tspan>MCM5</tspan></text>
<line x1="367.80" y1="900.00" x2="374.40" y2="900.00" stroke="#000" stroke-width="0.9"/>
<text x="375.60" y="910.30" font-size="7.0" text-anchor="start" fill="#000" stroke="#000" stroke-width="0.13"><tspan>MCM7</tspan></text>
<line x1="368.50" y1="903.60" x2="374.40" y2="907.20" stroke="#000" stroke-width="0.9"/>
<line x1="477.20" y1="832.20" x2="477.20" y2="932.50" stroke="#111" stroke-width="1.1"/>
<line x1="476.70" y1="932.00" x2="666.60" y2="932.00" stroke="#111" stroke-width="1.1"/>
<line x1="469.70" y1="932.00" x2="477.20" y2="932.00" stroke="#111" stroke-width="1.1"/>
<text x="467.30" y="935.30" font-size="9.4" text-anchor="end" fill="#000" stroke="#000" stroke-width="0.13"><tspan>0</tspan></text>
<line x1="469.70" y1="912.14" x2="477.20" y2="912.14" stroke="#111" stroke-width="1.1"/>
<text x="467.30" y="915.44" font-size="9.4" text-anchor="end" fill="#000" stroke="#000" stroke-width="0.13"><tspan>25</tspan></text>
<line x1="469.70" y1="892.28" x2="477.20" y2="892.28" stroke="#111" stroke-width="1.1"/>
<text x="467.30" y="895.58" font-size="9.4" text-anchor="end" fill="#000" stroke="#000" stroke-width="0.13"><tspan>50</tspan></text>
<line x1="469.70" y1="872.42" x2="477.20" y2="872.42" stroke="#111" stroke-width="1.1"/>
<text x="467.30" y="875.72" font-size="9.4" text-anchor="end" fill="#000" stroke="#000" stroke-width="0.13"><tspan>75</tspan></text>
<line x1="469.70" y1="852.56" x2="477.20" y2="852.56" stroke="#111" stroke-width="1.1"/>
<text x="467.30" y="855.86" font-size="9.4" text-anchor="end" fill="#000" stroke="#000" stroke-width="0.13"><tspan>100</tspan></text>
<line x1="469.70" y1="832.70" x2="477.20" y2="832.70" stroke="#111" stroke-width="1.1"/>
<text x="467.30" y="836.00" font-size="9.4" text-anchor="end" fill="#000" stroke="#000" stroke-width="0.13"><tspan>125</tspan></text>
<text x="443.60" y="885.80" font-size="9.1" text-anchor="middle" fill="#000" stroke="#000" stroke-width="0.13" transform="rotate(-90 443.6 885.8)"><tspan>Normalised HS MCM loading</tspan></text>
<line x1="497.10" y1="932.00" x2="497.10" y2="939.20" stroke="#111" stroke-width="1.1"/>
<line x1="526.90" y1="932.00" x2="526.90" y2="939.20" stroke="#111" stroke-width="1.1"/>
<line x1="556.60" y1="932.00" x2="556.60" y2="939.20" stroke="#111" stroke-width="1.1"/>
<line x1="586.50" y1="932.00" x2="586.50" y2="939.20" stroke="#111" stroke-width="1.1"/>
<line x1="616.40" y1="932.00" x2="616.40" y2="939.20" stroke="#111" stroke-width="1.1"/>
<line x1="646.30" y1="932.00" x2="646.30" y2="939.20" stroke="#111" stroke-width="1.1"/>
<path d="M497.1,831.1 L497.1,819.2 L526.9,819.2 L526.9,831.1" fill="none" stroke="#111" stroke-width="1.1"/>
<text x="512.00" y="816.20" font-size="11.4" text-anchor="middle" fill="#000" stroke="#000" stroke-width="0.13"><tspan>ns</tspan></text>
<path d="M497.1,799.4 L497.1,787.2 L556.6,787.2 L556.6,799.4" fill="none" stroke="#111" stroke-width="1.1"/>
<text x="526.85" y="784.20" font-size="11.4" text-anchor="middle" fill="#000" stroke="#000" stroke-width="0.13"><tspan>ns</tspan></text>
<path d="M586.6,830.8 L586.6,819.2 L616.2,819.2 L616.2,830.8" fill="none" stroke="#111" stroke-width="1.1"/>
<polygon points="595.93,813.80 596.77,815.04 598.21,815.46 597.29,816.64 597.34,818.14 595.93,817.64 594.51,818.14 594.56,816.64 593.64,815.46 595.08,815.04" fill="#000"/>
<polygon points="599.58,813.80 600.42,815.04 601.86,815.46 600.94,816.64 600.99,818.14 599.58,817.64 598.16,818.14 598.21,816.64 597.29,815.46 598.73,815.04" fill="#000"/>
<polygon points="603.23,813.80 604.07,815.04 605.51,815.46 604.59,816.64 604.64,818.14 603.23,817.64 601.81,818.14 601.86,816.64 600.94,815.46 602.38,815.04" fill="#000"/>
<polygon points="606.88,813.80 607.72,815.04 609.16,815.46 608.24,816.64 608.29,818.14 606.88,817.64 605.46,818.14 605.51,816.64 604.59,815.46 606.03,815.04" fill="#000"/>
<path d="M586.6,799.1 L586.6,787.4 L646.3,787.4 L646.3,799.1" fill="none" stroke="#111" stroke-width="1.1"/>
<polygon points="610.98,782.00 611.82,783.24 613.26,783.66 612.34,784.84 612.39,786.34 610.98,785.84 609.56,786.34 609.61,784.84 608.69,783.66 610.13,783.24" fill="#000"/>
<polygon points="614.62,782.00 615.47,783.24 616.91,783.66 615.99,784.84 616.04,786.34 614.62,785.84 613.21,786.34 613.26,784.84 612.34,783.66 613.78,783.24" fill="#000"/>
<polygon points="618.28,782.00 619.12,783.24 620.56,783.66 619.64,784.84 619.69,786.34 618.28,785.84 616.86,786.34 616.91,784.84 615.99,783.66 617.43,783.24" fill="#000"/>
<polygon points="621.93,782.00 622.77,783.24 624.21,783.66 623.29,784.84 623.34,786.34 621.93,785.84 620.51,786.34 620.56,784.84 619.64,783.66 621.08,783.24" fill="#000"/>
<circle cx="497.10" cy="845.41" r="1.9" fill="#6e9bd5"/>
<circle cx="493.10" cy="856.53" r="1.9" fill="#6e9bd5"/>
<circle cx="501.10" cy="855.74" r="1.9" fill="#6e9bd5"/>
<line x1="497.10" y1="846.20" x2="497.10" y2="858.92" stroke="#5a86c0" stroke-width="1.3"/>
<line x1="493.80" y1="846.20" x2="500.40" y2="846.20" stroke="#5a86c0" stroke-width="1.3"/>
<line x1="493.80" y1="858.92" x2="500.40" y2="858.92" stroke="#5a86c0" stroke-width="1.3"/>
<line x1="487.60" y1="852.56" x2="506.60" y2="852.56" stroke="#6e9bd5" stroke-width="1.5"/>
<circle cx="526.90" cy="849.38" r="1.9" fill="#9b76c9"/>
<circle cx="522.90" cy="866.06" r="1.9" fill="#9b76c9"/>
<circle cx="530.90" cy="864.48" r="1.9" fill="#9b76c9"/>
<line x1="526.90" y1="850.18" x2="526.90" y2="869.24" stroke="#7e58b0" stroke-width="1.3"/>
<line x1="523.60" y1="850.18" x2="530.20" y2="850.18" stroke="#7e58b0" stroke-width="1.3"/>
<line x1="523.60" y1="869.24" x2="530.20" y2="869.24" stroke="#7e58b0" stroke-width="1.3"/>
<line x1="517.40" y1="859.71" x2="536.40" y2="859.71" stroke="#9b76c9" stroke-width="1.5"/>
<circle cx="552.60" cy="843.82" r="1.9" fill="#e89be0"/>
<circle cx="560.60" cy="852.56" r="1.9" fill="#e89be0"/>
<circle cx="556.60" cy="858.92" r="1.9" fill="#e89be0"/>
<line x1="556.60" y1="843.03" x2="556.60" y2="857.72" stroke="#c765c0" stroke-width="1.3"/>
<line x1="553.30" y1="843.03" x2="559.90" y2="843.03" stroke="#c765c0" stroke-width="1.3"/>
<line x1="553.30" y1="857.72" x2="559.90" y2="857.72" stroke="#c765c0" stroke-width="1.3"/>
<line x1="547.10" y1="850.18" x2="566.10" y2="850.18" stroke="#e89be0" stroke-width="1.5"/>
<circle cx="586.50" cy="921.67" r="1.9" fill="#a9d97a"/>
<circle cx="582.00" cy="923.26" r="1.9" fill="#a9d97a"/>
<circle cx="591.00" cy="923.66" r="1.9" fill="#a9d97a"/>
<line x1="586.50" y1="921.67" x2="586.50" y2="924.06" stroke="#8cc45a" stroke-width="1.3"/>
<line x1="583.20" y1="921.67" x2="589.80" y2="921.67" stroke="#8cc45a" stroke-width="1.3"/>
<line x1="583.20" y1="924.06" x2="589.80" y2="924.06" stroke="#8cc45a" stroke-width="1.3"/>
<line x1="577.00" y1="922.86" x2="596.00" y2="922.86" stroke="#a9d97a" stroke-width="1.5"/>
<circle cx="616.40" cy="859.71" r="1.9" fill="#2b9bbd"/>
<circle cx="616.40" cy="870.04" r="1.9" fill="#2b9bbd"/>
<circle cx="616.40" cy="879.57" r="1.9" fill="#2b9bbd"/>
<line x1="616.40" y1="859.71" x2="616.40" y2="879.57" stroke="#2b9bbd" stroke-width="1.3"/>
<line x1="613.10" y1="859.71" x2="619.70" y2="859.71" stroke="#2b9bbd" stroke-width="1.3"/>
<line x1="613.10" y1="879.57" x2="619.70" y2="879.57" stroke="#2b9bbd" stroke-width="1.3"/>
<line x1="606.90" y1="870.04" x2="625.90" y2="870.04" stroke="#2b9bbd" stroke-width="1.5"/>
<circle cx="646.30" cy="871.63" r="1.9" fill="#7e5bb6"/>
<circle cx="641.80" cy="874.01" r="1.9" fill="#7e5bb6"/>
<circle cx="650.80" cy="874.01" r="1.9" fill="#7e5bb6"/>
<line x1="646.30" y1="871.63" x2="646.30" y2="874.80" stroke="#6a48a6" stroke-width="1.3"/>
<line x1="643.00" y1="871.63" x2="649.60" y2="871.63" stroke="#6a48a6" stroke-width="1.3"/>
<line x1="643.00" y1="874.80" x2="649.60" y2="874.80" stroke="#6a48a6" stroke-width="1.3"/>
<line x1="636.80" y1="873.21" x2="655.80" y2="873.21" stroke="#7e5bb6" stroke-width="1.5"/>
<text x="499.70" y="951.60" font-size="9.7" text-anchor="end" fill="#000" stroke="#000" stroke-width="0.13" transform="rotate(-45 499.70000000000005 951.6)"><tspan>CDT1</tspan><tspan dy="-4.37" font-size="7.18">ΔN</tspan></text>
<text x="529.50" y="951.60" font-size="9.7" text-anchor="end" fill="#000" stroke="#000" stroke-width="0.13" transform="rotate(-45 529.5 951.6)"><tspan>CDT1</tspan><tspan dy="-4.37" font-size="7.18">4A</tspan></text>
<text x="559.20" y="951.60" font-size="9.7" text-anchor="end" fill="#000" stroke="#000" stroke-width="0.13" transform="rotate(-45 559.2 951.6)"><tspan>CDT1</tspan><tspan dy="-4.37" font-size="7.18">R330A</tspan></text>
<text x="589.10" y="951.60" font-size="9.7" text-anchor="end" fill="#000" stroke="#000" stroke-width="0.13" transform="rotate(-45 589.1 951.6)"><tspan>CDT1</tspan><tspan dy="-4.37" font-size="7.18">ΔN</tspan><tspan dy="4.37"> + Gem</tspan><tspan dy="-4.37" font-size="7.18">FL</tspan></text>
<text x="619.00" y="951.60" font-size="9.7" text-anchor="end" fill="#000" stroke="#000" stroke-width="0.13" transform="rotate(-45 619.0 951.6)"><tspan>CDT1</tspan><tspan dy="-4.37" font-size="7.18">4A</tspan><tspan dy="4.37"> + Gem</tspan><tspan dy="-4.37" font-size="7.18">FL</tspan></text>
<text x="648.90" y="951.60" font-size="9.7" text-anchor="end" fill="#000" stroke="#000" stroke-width="0.13" transform="rotate(-45 648.9 951.6)"><tspan>CDT1</tspan><tspan dy="-4.37" font-size="7.18">R330A</tspan><tspan dy="4.37"> + Gem</tspan><tspan dy="-4.37" font-size="7.18">FL</tspan></text>
</svg>
</body></html>
